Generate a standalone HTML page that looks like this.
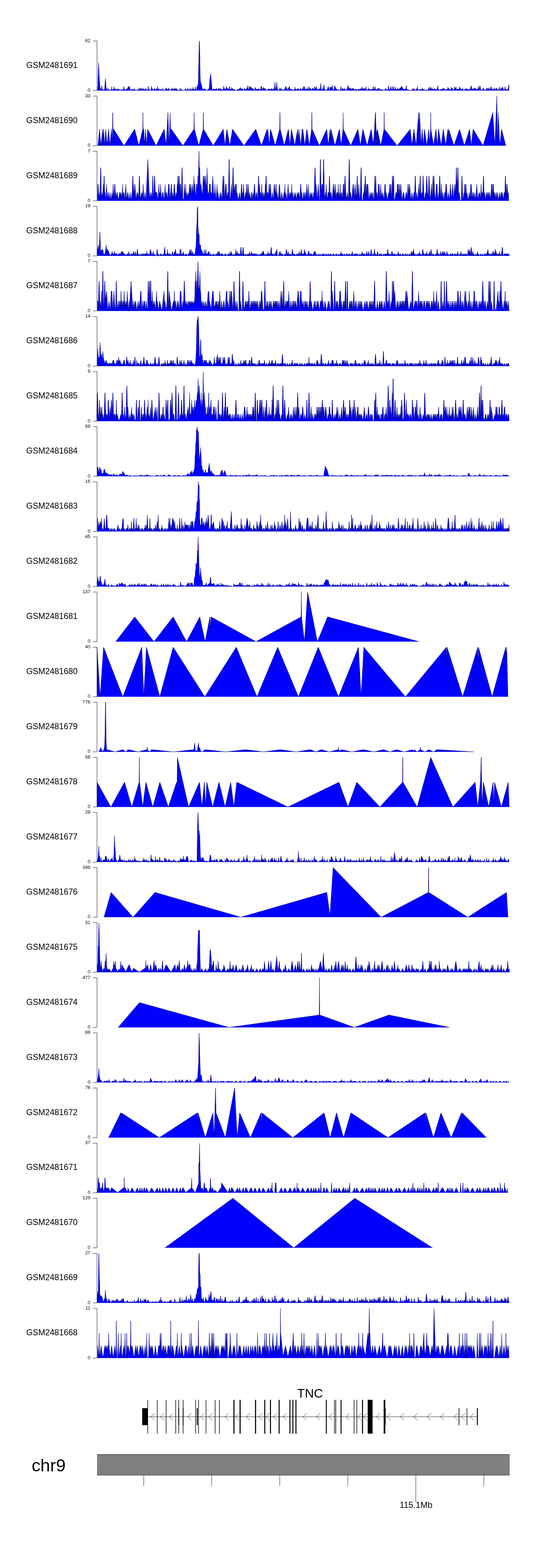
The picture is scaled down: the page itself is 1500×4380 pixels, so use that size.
<!DOCTYPE html>
<html lang="en"><head><meta charset="utf-8"><title>chr9 TNC coverage tracks</title>
<style>html,body{margin:0;padding:0;background:#fff}body{width:1500px;height:4380px;overflow:hidden}svg{display:block}text{font-family:"Liberation Sans",Arial,Helvetica,sans-serif;fill:#000}.lab{font-size:23.25px}.tk{font-size:13.2px;text-anchor:end}.ax{stroke:#000;stroke-width:1;fill:none}.f{fill:#0000ff}.s{fill:none;stroke:#00008b;stroke-width:1;stroke-linejoin:round;stroke-linecap:round}</style></head><body>
<svg width="1500" height="4380" viewBox="0 0 1500 4380">
<rect width="1500" height="4380" fill="#fff"/>
<path class="f" d="M272.0 253.0L272.0 245.0L273.0 247.0L273.6 239.0L274.2 213.0L275.4 175.0L276.2 191.0L277.2 215.0L278.6 234.0L279.5 246.0L280.5 246.0L281.2 250.0L283.0 250.0L284.2 239.0L285.5 248.0L287.0 251.0L289.0 252.0L291.8 250.0L292.7 245.0L293.3 233.0L294.5 219.0L295.4 233.0L296.7 245.0L298.1 251.0L300.5 251.5L301.9 246.0L303.2 251.0L306.0 252.0L307.5 250.0L309.0 252.0L310.8 251.0L312.0 242.5L313.2 251.0L316.5 251.0L317.9 242.5L319.2 251.0L320.8 251.0L322.0 246.0L323.2 251.5L324.1 251.1L325.2 249.2L326.4 249.2L327.5 249.2L328.7 249.2L329.8 251.1L331.0 247.3L332.1 251.1L333.3 253.0L334.4 249.2L335.6 253.0L336.7 251.1L337.9 253.0L339.0 249.2L340.2 253.0L341.3 251.1L342.5 249.2L343.6 251.1L344.8 249.2L345.9 241.6L347.1 251.1L348.2 251.1L349.4 249.2L350.5 253.0L351.7 251.1L352.8 249.2L354.0 247.3L355.1 249.2L356.3 249.2L357.4 243.5L361.0 241.0L364.9 253.0L366.1 253.0L367.2 249.2L368.4 251.1L369.5 249.2L370.7 251.1L371.8 249.2L373.0 249.2L374.1 253.0L375.3 247.3L376.4 251.1L377.6 251.1L378.7 253.0L379.9 251.1L383.4 253.0L384.6 249.2L385.7 249.2L386.9 253.0L388.0 249.2L389.2 245.4L390.3 251.1L391.5 253.0L392.6 247.3L393.8 245.4L394.9 251.1L396.1 247.3L397.2 251.1L398.4 253.0L399.5 245.4L400.7 251.1L401.8 249.2L403.0 249.2L404.1 251.1L405.3 249.2L406.4 253.0L407.6 245.4L408.7 251.1L409.9 253.0L411.0 251.1L412.2 253.0L413.3 245.4L414.0 241.0L415.6 251.1L416.8 249.2L417.9 251.1L419.1 253.0L420.2 251.1L421.4 251.7L423.0 241.0L423.7 245.6L424.8 249.2L426.0 247.3L427.1 251.1L428.3 253.0L429.4 251.1L430.6 249.2L431.7 245.4L432.9 251.1L434.0 251.1L435.2 251.1L436.3 247.3L437.5 251.1L438.6 250.2L440.0 241.0L440.9 247.4L442.1 249.2L443.2 251.1L444.4 247.3L445.5 251.1L446.7 253.0L447.8 249.2L449.0 251.1L450.1 249.2L451.3 251.1L452.4 253.0L453.6 251.1L454.7 245.4L455.9 251.1L457.0 253.0L458.2 251.1L459.3 253.0L460.5 251.1L461.6 249.2L462.8 247.3L463.9 251.1L465.1 245.4L466.2 249.2L467.4 249.2L468.5 249.2L469.7 251.1L470.8 247.3L472.0 245.4L473.1 253.0L474.3 251.1L475.4 253.0L476.6 251.1L477.7 249.2L478.9 253.0L480.0 245.4L481.2 253.0L482.3 249.2L483.5 247.3L484.6 249.2L485.8 253.0L486.9 247.3L488.1 253.0L489.2 245.4L490.4 251.1L491.5 251.1L492.7 247.3L493.8 247.3L495.0 251.1L496.1 251.1L497.3 251.1L498.4 253.0L499.6 253.0L500.7 251.1L501.9 253.0L503.0 245.4L504.2 249.2L505.3 249.2L506.5 251.1L507.6 251.1L516.2 253.0L517.3 247.3L518.5 249.2L519.6 253.0L520.8 249.2L521.9 251.1L523.1 253.0L524.2 245.4L525.4 251.1L526.5 253.0L527.7 249.2L528.8 251.1L530.0 253.0L531.1 245.4L532.3 249.2L533.4 251.1L534.6 253.0L535.7 247.3L536.9 251.1L538.0 253.0L539.2 243.5L540.3 249.2L541.5 251.1L542.6 249.2L543.8 251.1L544.9 249.2L546.1 247.3L547.2 241.6L548.4 251.1L549.5 253.0L550.5 248.0L551.5 236.0L552.5 244.0L553.4 243.0L554.0 228.0L555.2 178.0L556.3 123.0L556.9 114.5L557.6 123.0L558.6 178.0L559.0 205.0L559.9 229.0L560.8 229.0L562.2 237.0L563.6 237.0L564.3 247.0L565.5 249.0L566.8 247.3L568.0 249.2L569.1 253.0L570.3 249.2L571.4 247.3L572.6 249.2L573.7 249.2L574.9 253.0L580.2 251.1L581.4 249.2L582.5 249.2L583.2 249.0L584.9 243.0L585.3 229.0L587.0 217.0L588.5 205.3L589.5 217.0L590.6 229.0L592.1 247.0L593.5 252.0L594.0 251.1L595.2 253.0L596.3 247.3L597.5 249.2L598.6 249.2L599.8 249.2L600.9 253.0L602.1 249.2L603.2 251.1L604.4 245.4L605.5 251.1L606.7 253.0L607.8 249.2L609.0 253.0L610.1 245.4L611.3 249.2L612.4 251.1L613.6 249.2L614.7 245.4L615.9 251.1L617.0 249.2L618.2 249.2L619.3 251.1L620.5 249.2L621.6 253.0L622.8 249.2L623.9 247.0L625.0 240.0L626.2 249.2L627.4 249.2L628.5 247.3L629.7 249.2L630.8 248.3L632.0 241.0L633.1 248.6L634.3 245.4L635.4 249.2L636.6 247.3L637.7 249.2L638.9 251.1L640.0 243.5L641.0 241.0L642.3 250.1L643.5 251.1L644.6 249.2L645.8 251.1L646.9 243.5L648.1 253.0L649.2 247.3L650.4 247.3L651.5 251.1L652.7 249.2L653.8 253.0L655.0 249.2L656.1 253.0L657.3 251.1L658.4 253.0L659.6 253.0L664.5 249.2L665.7 251.1L666.8 249.2L668.0 249.2L669.1 247.3L670.3 247.3L671.4 243.5L672.6 249.2L673.7 249.2L674.9 247.3L678.6 249.2L679.8 251.1L680.9 253.0L682.1 251.1L683.2 245.4L684.4 249.2L685.5 253.0L686.7 249.2L687.8 251.1L689.0 245.4L690.1 253.0L691.3 244.7L692.0 239.0L693.6 249.2L694.7 251.1L695.9 247.7L697.0 240.0L698.2 248.0L700.0 242.0L703.8 247.3L704.9 251.1L706.1 249.2L707.2 245.4L708.4 251.1L709.5 251.1L710.7 253.0L711.8 247.3L713.0 249.2L714.1 243.5L715.3 253.0L716.4 249.2L717.6 249.2L718.7 249.2L719.9 249.2L721.0 249.2L722.2 247.3L723.3 251.1L724.5 249.2L725.6 249.2L726.8 251.1L727.9 249.2L729.1 241.6L730.2 246.3L731.0 241.0L732.5 251.2L733.7 247.3L734.8 251.1L736.0 243.5L737.1 249.2L738.3 245.4L739.4 249.2L740.6 249.2L741.7 247.3L742.9 251.1L744.0 251.1L745.2 253.0L746.3 253.0L747.5 251.1L748.6 247.3L749.8 251.1L750.9 249.2L752.1 251.1L753.2 247.3L754.4 251.1L755.5 249.2L756.7 251.1L757.8 247.3L759.0 247.3L760.1 249.2L761.3 251.1L762.4 249.2L763.6 247.3L764.7 247.3L765.9 253.0L767.0 241.7L768.0 230.0L769.3 246.4L770.5 247.3L771.6 247.3L773.0 230.0L773.9 242.1L775.1 249.2L776.2 251.1L777.4 251.1L778.5 251.1L779.7 253.0L780.8 249.2L782.0 245.4L783.1 249.2L784.3 249.2L785.4 247.3L786.6 249.2L787.7 249.2L788.9 253.0L790.0 251.1L791.2 253.0L792.3 251.1L793.5 249.2L794.6 251.1L795.8 249.2L798.0 241.0L802.2 249.2L803.4 251.1L804.5 249.2L805.7 245.4L806.8 248.8L808.0 241.0L809.1 243.5L810.3 249.2L811.4 249.2L812.6 249.2L813.7 249.2L814.9 251.1L816.0 249.2L817.2 251.1L818.3 253.0L819.5 251.1L820.6 251.1L821.8 249.2L822.9 253.0L824.1 243.5L825.2 251.1L826.4 249.2L827.5 249.2L828.7 253.0L829.8 249.2L831.0 247.3L832.1 247.3L833.3 247.3L834.4 249.2L835.6 251.1L836.7 253.0L837.9 249.2L839.0 245.4L840.2 251.1L841.3 249.2L842.5 251.1L843.6 251.1L844.8 245.4L845.9 251.1L847.1 249.2L848.2 241.6L849.4 245.3L850.0 241.0L851.7 249.2L852.8 249.2L854.0 251.1L855.1 247.3L856.3 251.1L857.4 251.1L858.6 243.5L859.7 251.1L860.9 249.2L862.0 251.1L863.2 241.6L864.3 249.2L865.5 247.3L866.6 245.4L867.8 249.2L868.9 251.1L870.1 253.0L871.2 247.3L872.4 245.4L873.5 249.2L874.7 247.3L875.8 251.1L877.0 249.2L878.1 241.6L879.3 249.2L880.4 251.1L881.6 243.5L882.7 251.1L883.9 241.6L885.0 249.2L886.2 247.3L887.3 251.1L888.5 251.1L894.8 246.0L896.0 233.0L897.1 246.1L898.3 251.1L899.4 251.1L900.6 249.2L901.7 247.3L902.9 251.1L904.0 241.6L905.0 237.0L906.3 248.8L907.5 249.2L908.6 253.0L909.8 251.1L910.9 253.0L912.1 251.1L913.2 251.1L914.4 251.1L915.5 245.4L917.0 241.0L917.8 245.4L919.0 251.1L920.1 253.0L921.3 243.5L927.2 244.5L928.0 238.0L929.5 249.2L930.7 251.1L931.8 251.1L933.0 249.2L934.1 245.4L935.0 239.0L939.4 251.1L940.5 247.3L941.7 253.0L942.8 253.0L944.0 251.1L945.1 249.2L946.3 251.1L947.4 253.0L948.6 251.1L949.7 253.0L950.9 251.1L952.0 241.6L953.2 247.3L954.3 251.1L955.5 249.2L956.6 249.2L957.8 245.4L958.9 249.2L960.1 249.2L961.2 251.1L962.4 249.2L963.5 245.4L964.7 253.0L965.8 251.1L967.0 253.0L973.0 239.0L974.9 253.0L976.1 245.4L977.2 249.2L978.4 245.4L979.5 247.3L980.7 253.0L981.8 247.3L983.0 251.1L984.1 247.3L985.3 249.2L986.4 245.4L987.6 247.3L988.7 249.2L989.9 253.0L991.0 251.1L992.2 249.2L993.3 249.2L994.5 249.2L995.6 249.2L996.8 253.0L997.9 251.1L1003.4 249.2L1004.5 249.2L1005.7 251.1L1006.8 247.3L1008.0 251.1L1009.1 247.3L1010.3 249.2L1011.4 241.6L1012.6 251.1L1013.7 247.3L1014.9 251.1L1016.0 247.3L1017.2 251.1L1018.3 245.4L1019.5 249.2L1020.6 249.2L1021.8 249.2L1022.9 241.6L1024.1 253.0L1025.2 251.1L1026.4 251.1L1027.5 251.1L1028.7 251.1L1029.8 245.4L1031.0 249.2L1032.1 251.1L1033.3 249.2L1034.4 253.0L1035.6 249.2L1036.7 249.2L1037.9 251.1L1039.0 249.2L1040.2 253.0L1041.3 247.3L1043.0 241.0L1043.6 245.1L1044.8 249.2L1045.9 253.0L1047.1 247.4L1048.0 242.0L1049.4 250.5L1050.5 251.1L1057.3 247.3L1058.5 245.4L1059.6 247.3L1060.8 251.1L1061.9 251.1L1063.1 251.1L1064.2 249.2L1065.4 249.2L1066.5 249.2L1067.7 253.0L1068.8 251.1L1070.0 251.1L1071.1 253.0L1072.3 251.1L1073.4 253.0L1074.6 251.1L1075.7 249.2L1076.9 247.3L1078.0 247.3L1079.2 251.1L1080.3 253.0L1081.5 249.2L1082.6 253.0L1083.8 248.4L1085.0 239.0L1086.1 247.3L1087.2 251.1L1088.4 249.2L1089.5 249.2L1092.0 242.0L1093.6 251.1L1094.8 251.1L1095.9 249.2L1097.1 241.6L1098.2 251.1L1099.4 251.1L1100.5 241.6L1101.7 251.1L1102.8 249.2L1104.0 251.1L1105.1 243.5L1106.3 253.0L1107.4 249.2L1108.6 251.1L1109.7 249.2L1110.9 245.4L1112.0 251.1L1113.2 249.2L1114.3 249.2L1115.5 249.2L1116.6 245.4L1117.8 247.3L1122.0 241.0L1126.7 249.2L1127.8 251.1L1129.0 249.2L1130.1 249.2L1131.3 249.2L1132.4 249.2L1133.6 249.7L1135.0 239.0L1135.9 246.5L1137.0 251.1L1138.2 249.2L1139.3 253.0L1140.5 251.1L1147.6 253.0L1148.8 251.1L1149.9 253.0L1151.1 253.0L1152.2 247.3L1153.4 249.2L1154.5 251.1L1155.7 247.3L1156.8 247.3L1158.0 251.1L1159.1 253.0L1160.3 253.0L1161.4 249.2L1162.6 251.1L1163.7 247.3L1164.9 249.2L1166.0 241.6L1167.2 253.0L1168.3 251.1L1169.5 253.0L1170.6 251.1L1171.8 249.2L1172.9 249.2L1174.1 251.1L1175.2 251.1L1176.4 249.2L1177.5 251.1L1178.7 249.2L1179.8 245.4L1181.0 253.0L1182.1 249.2L1183.3 253.0L1184.4 249.2L1185.6 251.1L1186.7 251.1L1187.9 253.0L1189.0 253.0L1190.2 251.1L1191.3 251.1L1192.5 251.1L1193.6 251.1L1194.8 253.0L1195.9 249.2L1197.1 245.4L1198.2 251.1L1199.4 253.0L1200.5 241.6L1201.7 249.2L1202.8 245.4L1204.0 249.2L1205.1 251.1L1206.3 243.5L1207.4 249.2L1208.6 249.2L1209.7 249.2L1210.9 249.2L1212.0 251.1L1213.2 247.3L1214.3 249.2L1215.5 247.3L1216.6 251.1L1217.8 251.1L1218.9 249.2L1220.1 249.2L1221.2 247.3L1222.4 243.7L1223.0 239.0L1224.7 252.1L1225.8 251.1L1227.0 251.1L1228.1 253.0L1229.3 251.1L1230.4 249.2L1231.6 251.1L1232.7 249.2L1233.9 251.1L1235.0 247.3L1236.2 249.2L1237.3 251.1L1238.5 247.3L1239.6 245.4L1240.8 247.3L1241.9 251.1L1243.1 253.0L1244.2 251.1L1245.4 249.2L1246.5 251.1L1247.7 249.2L1248.8 251.1L1250.0 249.2L1251.1 243.5L1252.3 251.1L1253.4 245.4L1254.6 249.2L1255.7 251.1L1256.9 249.2L1258.0 251.1L1259.2 253.0L1260.3 243.5L1261.5 251.1L1262.6 245.4L1263.8 247.3L1264.9 247.3L1266.1 253.0L1267.2 251.1L1268.4 251.1L1270.0 242.0L1270.7 246.2L1271.8 245.4L1273.0 249.2L1274.1 243.5L1275.3 253.0L1276.4 249.2L1277.6 251.1L1278.7 247.3L1279.9 251.1L1281.0 249.2L1282.2 251.1L1283.3 246.0L1284.0 242.0L1285.6 249.2L1286.8 247.3L1287.9 249.2L1289.1 249.2L1290.2 249.2L1291.4 251.1L1292.5 245.4L1293.7 253.0L1294.8 251.1L1296.0 253.0L1297.1 251.1L1298.3 249.2L1299.4 251.1L1300.6 247.3L1301.7 247.3L1302.9 247.3L1304.0 251.1L1305.2 249.2L1306.3 251.1L1307.5 249.2L1308.6 249.2L1309.8 253.0L1310.9 249.2L1312.1 249.2L1313.2 251.1L1316.0 239.0L1318.6 251.1L1319.8 247.3L1320.9 253.0L1322.1 251.1L1323.2 245.4L1324.4 253.0L1325.5 245.4L1326.7 249.2L1327.8 245.4L1329.0 251.1L1330.1 249.2L1331.3 249.2L1332.4 249.2L1333.6 249.2L1334.7 249.2L1335.9 241.6L1337.0 251.1L1338.2 247.3L1339.3 244.4L1340.0 239.0L1341.6 243.5L1342.8 251.1L1343.9 253.0L1345.1 251.1L1346.2 251.1L1347.4 253.0L1348.5 249.2L1349.7 247.3L1350.8 245.4L1352.0 249.2L1353.1 253.0L1354.3 251.1L1355.4 251.1L1356.6 253.0L1357.7 251.1L1358.9 245.4L1360.0 247.3L1361.2 251.1L1362.3 247.3L1363.5 247.3L1364.6 245.4L1365.8 253.0L1366.9 249.2L1368.1 249.2L1369.2 243.5L1370.4 253.0L1371.5 247.3L1373.0 242.0L1373.8 247.2L1375.0 249.2L1376.1 253.0L1377.3 251.1L1378.4 247.3L1379.6 251.1L1380.7 245.4L1381.9 253.0L1383.0 251.1L1384.2 249.2L1385.3 245.4L1386.5 253.0L1387.6 245.4L1388.8 251.1L1389.9 253.0L1391.1 251.1L1392.2 247.3L1393.4 253.0L1394.5 251.1L1395.7 241.6L1396.8 251.1L1398.0 253.0L1399.1 249.2L1400.3 245.4L1401.4 249.2L1402.6 243.5L1403.7 251.1L1404.9 243.5L1406.0 251.1L1407.2 249.2L1408.3 253.0L1409.5 251.1L1410.6 241.6L1411.8 249.2L1412.9 249.2L1414.1 249.2L1415.2 251.1L1416.4 251.1L1417.5 249.2L1418.7 250.9L1419.8 244.4L1421.5 236.0L1422.1 241.1L1422.1 253.0Z"/><path class="s" d="M272.0 245.0L273.0 247.0L273.6 239.0L274.2 213.0L275.4 175.0L276.2 191.0L277.2 215.0L278.6 234.0L279.5 246.0L280.5 246.0L281.2 250.0L283.0 250.0L284.2 239.0L285.5 248.0L287.0 251.0L289.0 252.0L291.8 250.0L292.7 245.0L293.3 233.0L294.5 219.0L295.4 233.0L296.7 245.0L298.1 251.0L300.5 251.5L301.9 246.0L303.2 251.0L306.0 252.0L307.5 250.0L309.0 252.0L310.8 251.0L312.0 242.5L313.2 251.0L316.5 251.0L317.9 242.5L319.2 251.0L320.8 251.0L322.0 246.0L323.2 251.5L324.1 251.1L325.2 249.2L326.4 249.2L327.5 249.2L328.7 249.2L329.8 251.1L331.0 247.3L332.1 251.1L333.3 253.0L334.4 249.2L335.6 253.0L336.7 251.1L337.9 253.0L339.0 249.2L340.2 253.0L341.3 251.1L342.5 249.2L343.6 251.1L344.8 249.2L345.9 241.6L347.1 251.1L348.2 251.1L349.4 249.2L350.5 253.0L351.7 251.1L352.8 249.2L354.0 247.3L355.1 249.2L356.3 249.2L357.4 243.5L361.0 241.0L364.9 253.0L366.1 253.0L367.2 249.2L368.4 251.1L369.5 249.2L370.7 251.1L371.8 249.2L373.0 249.2L374.1 253.0L375.3 247.3L376.4 251.1L377.6 251.1L378.7 253.0L379.9 251.1L383.4 253.0L384.6 249.2L385.7 249.2L386.9 253.0L388.0 249.2L389.2 245.4L390.3 251.1L391.5 253.0L392.6 247.3L393.8 245.4L394.9 251.1L396.1 247.3L397.2 251.1L398.4 253.0L399.5 245.4L400.7 251.1L401.8 249.2L403.0 249.2L404.1 251.1L405.3 249.2L406.4 253.0L407.6 245.4L408.7 251.1L409.9 253.0L411.0 251.1L412.2 253.0L413.3 245.4L414.0 241.0L415.6 251.1L416.8 249.2L417.9 251.1L419.1 253.0L420.2 251.1L421.4 251.7L423.0 241.0L423.7 245.6L424.8 249.2L426.0 247.3L427.1 251.1L428.3 253.0L429.4 251.1L430.6 249.2L431.7 245.4L432.9 251.1L434.0 251.1L435.2 251.1L436.3 247.3L437.5 251.1L438.6 250.2L440.0 241.0L440.9 247.4L442.1 249.2L443.2 251.1L444.4 247.3L445.5 251.1L446.7 253.0L447.8 249.2L449.0 251.1L450.1 249.2L451.3 251.1L452.4 253.0L453.6 251.1L454.7 245.4L455.9 251.1L457.0 253.0L458.2 251.1L459.3 253.0L460.5 251.1L461.6 249.2L462.8 247.3L463.9 251.1L465.1 245.4L466.2 249.2L467.4 249.2L468.5 249.2L469.7 251.1L470.8 247.3L472.0 245.4L473.1 253.0L474.3 251.1L475.4 253.0L476.6 251.1L477.7 249.2L478.9 253.0L480.0 245.4L481.2 253.0L482.3 249.2L483.5 247.3L484.6 249.2L485.8 253.0L486.9 247.3L488.1 253.0L489.2 245.4L490.4 251.1L491.5 251.1L492.7 247.3L493.8 247.3L495.0 251.1L496.1 251.1L497.3 251.1L498.4 253.0L499.6 253.0L500.7 251.1L501.9 253.0L503.0 245.4L504.2 249.2L505.3 249.2L506.5 251.1L507.6 251.1L516.2 253.0L517.3 247.3L518.5 249.2L519.6 253.0L520.8 249.2L521.9 251.1L523.1 253.0L524.2 245.4L525.4 251.1L526.5 253.0L527.7 249.2L528.8 251.1L530.0 253.0L531.1 245.4L532.3 249.2L533.4 251.1L534.6 253.0L535.7 247.3L536.9 251.1L538.0 253.0L539.2 243.5L540.3 249.2L541.5 251.1L542.6 249.2L543.8 251.1L544.9 249.2L546.1 247.3L547.2 241.6L548.4 251.1L549.5 253.0L550.5 248.0L551.5 236.0L552.5 244.0L553.4 243.0L554.0 228.0L555.2 178.0L556.3 123.0L556.9 114.5L557.6 123.0L558.6 178.0L559.0 205.0L559.9 229.0L560.8 229.0L562.2 237.0L563.6 237.0L564.3 247.0L565.5 249.0L566.8 247.3L568.0 249.2L569.1 253.0L570.3 249.2L571.4 247.3L572.6 249.2L573.7 249.2L574.9 253.0L580.2 251.1L581.4 249.2L582.5 249.2L583.2 249.0L584.9 243.0L585.3 229.0L587.0 217.0L588.5 205.3L589.5 217.0L590.6 229.0L592.1 247.0L593.5 252.0L594.0 251.1L595.2 253.0L596.3 247.3L597.5 249.2L598.6 249.2L599.8 249.2L600.9 253.0L602.1 249.2L603.2 251.1L604.4 245.4L605.5 251.1L606.7 253.0L607.8 249.2L609.0 253.0L610.1 245.4L611.3 249.2L612.4 251.1L613.6 249.2L614.7 245.4L615.9 251.1L617.0 249.2L618.2 249.2L619.3 251.1L620.5 249.2L621.6 253.0L622.8 249.2L623.9 247.0L625.0 240.0L626.2 249.2L627.4 249.2L628.5 247.3L629.7 249.2L630.8 248.3L632.0 241.0L633.1 248.6L634.3 245.4L635.4 249.2L636.6 247.3L637.7 249.2L638.9 251.1L640.0 243.5L641.0 241.0L642.3 250.1L643.5 251.1L644.6 249.2L645.8 251.1L646.9 243.5L648.1 253.0L649.2 247.3L650.4 247.3L651.5 251.1L652.7 249.2L653.8 253.0L655.0 249.2L656.1 253.0L657.3 251.1L658.4 253.0L659.6 253.0L664.5 249.2L665.7 251.1L666.8 249.2L668.0 249.2L669.1 247.3L670.3 247.3L671.4 243.5L672.6 249.2L673.7 249.2L674.9 247.3L678.6 249.2L679.8 251.1L680.9 253.0L682.1 251.1L683.2 245.4L684.4 249.2L685.5 253.0L686.7 249.2L687.8 251.1L689.0 245.4L690.1 253.0L691.3 244.7L692.0 239.0L693.6 249.2L694.7 251.1L695.9 247.7L697.0 240.0L698.2 248.0L700.0 242.0L703.8 247.3L704.9 251.1L706.1 249.2L707.2 245.4L708.4 251.1L709.5 251.1L710.7 253.0L711.8 247.3L713.0 249.2L714.1 243.5L715.3 253.0L716.4 249.2L717.6 249.2L718.7 249.2L719.9 249.2L721.0 249.2L722.2 247.3L723.3 251.1L724.5 249.2L725.6 249.2L726.8 251.1L727.9 249.2L729.1 241.6L730.2 246.3L731.0 241.0L732.5 251.2L733.7 247.3L734.8 251.1L736.0 243.5L737.1 249.2L738.3 245.4L739.4 249.2L740.6 249.2L741.7 247.3L742.9 251.1L744.0 251.1L745.2 253.0L746.3 253.0L747.5 251.1L748.6 247.3L749.8 251.1L750.9 249.2L752.1 251.1L753.2 247.3L754.4 251.1L755.5 249.2L756.7 251.1L757.8 247.3L759.0 247.3L760.1 249.2L761.3 251.1L762.4 249.2L763.6 247.3L764.7 247.3L765.9 253.0L767.0 241.7L768.0 230.0L769.3 246.4L770.5 247.3L771.6 247.3L773.0 230.0L773.9 242.1L775.1 249.2L776.2 251.1L777.4 251.1L778.5 251.1L779.7 253.0L780.8 249.2L782.0 245.4L783.1 249.2L784.3 249.2L785.4 247.3L786.6 249.2L787.7 249.2L788.9 253.0L790.0 251.1L791.2 253.0L792.3 251.1L793.5 249.2L794.6 251.1L795.8 249.2L798.0 241.0L802.2 249.2L803.4 251.1L804.5 249.2L805.7 245.4L806.8 248.8L808.0 241.0L809.1 243.5L810.3 249.2L811.4 249.2L812.6 249.2L813.7 249.2L814.9 251.1L816.0 249.2L817.2 251.1L818.3 253.0L819.5 251.1L820.6 251.1L821.8 249.2L822.9 253.0L824.1 243.5L825.2 251.1L826.4 249.2L827.5 249.2L828.7 253.0L829.8 249.2L831.0 247.3L832.1 247.3L833.3 247.3L834.4 249.2L835.6 251.1L836.7 253.0L837.9 249.2L839.0 245.4L840.2 251.1L841.3 249.2L842.5 251.1L843.6 251.1L844.8 245.4L845.9 251.1L847.1 249.2L848.2 241.6L849.4 245.3L850.0 241.0L851.7 249.2L852.8 249.2L854.0 251.1L855.1 247.3L856.3 251.1L857.4 251.1L858.6 243.5L859.7 251.1L860.9 249.2L862.0 251.1L863.2 241.6L864.3 249.2L865.5 247.3L866.6 245.4L867.8 249.2L868.9 251.1L870.1 253.0L871.2 247.3L872.4 245.4L873.5 249.2L874.7 247.3L875.8 251.1L877.0 249.2L878.1 241.6L879.3 249.2L880.4 251.1L881.6 243.5L882.7 251.1L883.9 241.6L885.0 249.2L886.2 247.3L887.3 251.1L888.5 251.1L894.8 246.0L896.0 233.0L897.1 246.1L898.3 251.1L899.4 251.1L900.6 249.2L901.7 247.3L902.9 251.1L904.0 241.6L905.0 237.0L906.3 248.8L907.5 249.2L908.6 253.0L909.8 251.1L910.9 253.0L912.1 251.1L913.2 251.1L914.4 251.1L915.5 245.4L917.0 241.0L917.8 245.4L919.0 251.1L920.1 253.0L921.3 243.5L927.2 244.5L928.0 238.0L929.5 249.2L930.7 251.1L931.8 251.1L933.0 249.2L934.1 245.4L935.0 239.0L939.4 251.1L940.5 247.3L941.7 253.0L942.8 253.0L944.0 251.1L945.1 249.2L946.3 251.1L947.4 253.0L948.6 251.1L949.7 253.0L950.9 251.1L952.0 241.6L953.2 247.3L954.3 251.1L955.5 249.2L956.6 249.2L957.8 245.4L958.9 249.2L960.1 249.2L961.2 251.1L962.4 249.2L963.5 245.4L964.7 253.0L965.8 251.1L967.0 253.0L973.0 239.0L974.9 253.0L976.1 245.4L977.2 249.2L978.4 245.4L979.5 247.3L980.7 253.0L981.8 247.3L983.0 251.1L984.1 247.3L985.3 249.2L986.4 245.4L987.6 247.3L988.7 249.2L989.9 253.0L991.0 251.1L992.2 249.2L993.3 249.2L994.5 249.2L995.6 249.2L996.8 253.0L997.9 251.1L1003.4 249.2L1004.5 249.2L1005.7 251.1L1006.8 247.3L1008.0 251.1L1009.1 247.3L1010.3 249.2L1011.4 241.6L1012.6 251.1L1013.7 247.3L1014.9 251.1L1016.0 247.3L1017.2 251.1L1018.3 245.4L1019.5 249.2L1020.6 249.2L1021.8 249.2L1022.9 241.6L1024.1 253.0L1025.2 251.1L1026.4 251.1L1027.5 251.1L1028.7 251.1L1029.8 245.4L1031.0 249.2L1032.1 251.1L1033.3 249.2L1034.4 253.0L1035.6 249.2L1036.7 249.2L1037.9 251.1L1039.0 249.2L1040.2 253.0L1041.3 247.3L1043.0 241.0L1043.6 245.1L1044.8 249.2L1045.9 253.0L1047.1 247.4L1048.0 242.0L1049.4 250.5L1050.5 251.1L1057.3 247.3L1058.5 245.4L1059.6 247.3L1060.8 251.1L1061.9 251.1L1063.1 251.1L1064.2 249.2L1065.4 249.2L1066.5 249.2L1067.7 253.0L1068.8 251.1L1070.0 251.1L1071.1 253.0L1072.3 251.1L1073.4 253.0L1074.6 251.1L1075.7 249.2L1076.9 247.3L1078.0 247.3L1079.2 251.1L1080.3 253.0L1081.5 249.2L1082.6 253.0L1083.8 248.4L1085.0 239.0L1086.1 247.3L1087.2 251.1L1088.4 249.2L1089.5 249.2L1092.0 242.0L1093.6 251.1L1094.8 251.1L1095.9 249.2L1097.1 241.6L1098.2 251.1L1099.4 251.1L1100.5 241.6L1101.7 251.1L1102.8 249.2L1104.0 251.1L1105.1 243.5L1106.3 253.0L1107.4 249.2L1108.6 251.1L1109.7 249.2L1110.9 245.4L1112.0 251.1L1113.2 249.2L1114.3 249.2L1115.5 249.2L1116.6 245.4L1117.8 247.3L1122.0 241.0L1126.7 249.2L1127.8 251.1L1129.0 249.2L1130.1 249.2L1131.3 249.2L1132.4 249.2L1133.6 249.7L1135.0 239.0L1135.9 246.5L1137.0 251.1L1138.2 249.2L1139.3 253.0L1140.5 251.1L1147.6 253.0L1148.8 251.1L1149.9 253.0L1151.1 253.0L1152.2 247.3L1153.4 249.2L1154.5 251.1L1155.7 247.3L1156.8 247.3L1158.0 251.1L1159.1 253.0L1160.3 253.0L1161.4 249.2L1162.6 251.1L1163.7 247.3L1164.9 249.2L1166.0 241.6L1167.2 253.0L1168.3 251.1L1169.5 253.0L1170.6 251.1L1171.8 249.2L1172.9 249.2L1174.1 251.1L1175.2 251.1L1176.4 249.2L1177.5 251.1L1178.7 249.2L1179.8 245.4L1181.0 253.0L1182.1 249.2L1183.3 253.0L1184.4 249.2L1185.6 251.1L1186.7 251.1L1187.9 253.0L1189.0 253.0L1190.2 251.1L1191.3 251.1L1192.5 251.1L1193.6 251.1L1194.8 253.0L1195.9 249.2L1197.1 245.4L1198.2 251.1L1199.4 253.0L1200.5 241.6L1201.7 249.2L1202.8 245.4L1204.0 249.2L1205.1 251.1L1206.3 243.5L1207.4 249.2L1208.6 249.2L1209.7 249.2L1210.9 249.2L1212.0 251.1L1213.2 247.3L1214.3 249.2L1215.5 247.3L1216.6 251.1L1217.8 251.1L1218.9 249.2L1220.1 249.2L1221.2 247.3L1222.4 243.7L1223.0 239.0L1224.7 252.1L1225.8 251.1L1227.0 251.1L1228.1 253.0L1229.3 251.1L1230.4 249.2L1231.6 251.1L1232.7 249.2L1233.9 251.1L1235.0 247.3L1236.2 249.2L1237.3 251.1L1238.5 247.3L1239.6 245.4L1240.8 247.3L1241.9 251.1L1243.1 253.0L1244.2 251.1L1245.4 249.2L1246.5 251.1L1247.7 249.2L1248.8 251.1L1250.0 249.2L1251.1 243.5L1252.3 251.1L1253.4 245.4L1254.6 249.2L1255.7 251.1L1256.9 249.2L1258.0 251.1L1259.2 253.0L1260.3 243.5L1261.5 251.1L1262.6 245.4L1263.8 247.3L1264.9 247.3L1266.1 253.0L1267.2 251.1L1268.4 251.1L1270.0 242.0L1270.7 246.2L1271.8 245.4L1273.0 249.2L1274.1 243.5L1275.3 253.0L1276.4 249.2L1277.6 251.1L1278.7 247.3L1279.9 251.1L1281.0 249.2L1282.2 251.1L1283.3 246.0L1284.0 242.0L1285.6 249.2L1286.8 247.3L1287.9 249.2L1289.1 249.2L1290.2 249.2L1291.4 251.1L1292.5 245.4L1293.7 253.0L1294.8 251.1L1296.0 253.0L1297.1 251.1L1298.3 249.2L1299.4 251.1L1300.6 247.3L1301.7 247.3L1302.9 247.3L1304.0 251.1L1305.2 249.2L1306.3 251.1L1307.5 249.2L1308.6 249.2L1309.8 253.0L1310.9 249.2L1312.1 249.2L1313.2 251.1L1316.0 239.0L1318.6 251.1L1319.8 247.3L1320.9 253.0L1322.1 251.1L1323.2 245.4L1324.4 253.0L1325.5 245.4L1326.7 249.2L1327.8 245.4L1329.0 251.1L1330.1 249.2L1331.3 249.2L1332.4 249.2L1333.6 249.2L1334.7 249.2L1335.9 241.6L1337.0 251.1L1338.2 247.3L1339.3 244.4L1340.0 239.0L1341.6 243.5L1342.8 251.1L1343.9 253.0L1345.1 251.1L1346.2 251.1L1347.4 253.0L1348.5 249.2L1349.7 247.3L1350.8 245.4L1352.0 249.2L1353.1 253.0L1354.3 251.1L1355.4 251.1L1356.6 253.0L1357.7 251.1L1358.9 245.4L1360.0 247.3L1361.2 251.1L1362.3 247.3L1363.5 247.3L1364.6 245.4L1365.8 253.0L1366.9 249.2L1368.1 249.2L1369.2 243.5L1370.4 253.0L1371.5 247.3L1373.0 242.0L1373.8 247.2L1375.0 249.2L1376.1 253.0L1377.3 251.1L1378.4 247.3L1379.6 251.1L1380.7 245.4L1381.9 253.0L1383.0 251.1L1384.2 249.2L1385.3 245.4L1386.5 253.0L1387.6 245.4L1388.8 251.1L1389.9 253.0L1391.1 251.1L1392.2 247.3L1393.4 253.0L1394.5 251.1L1395.7 241.6L1396.8 251.1L1398.0 253.0L1399.1 249.2L1400.3 245.4L1401.4 249.2L1402.6 243.5L1403.7 251.1L1404.9 243.5L1406.0 251.1L1407.2 249.2L1408.3 253.0L1409.5 251.1L1410.6 241.6L1411.8 249.2L1412.9 249.2L1414.1 249.2L1415.2 251.1L1416.4 251.1L1417.5 249.2L1418.7 250.9L1419.8 244.4L1421.5 236.0L1422.1 241.1"/>
<path class="ax" d="M259.5 114.5H271V253.0H259.5"/>
<text class="tk" x="252.4" y="117.6">62</text>
<text class="tk" x="252.4" y="256.1">0</text>
<text class="lab" x="73.3" y="189.7">GSM2481691</text>
<path class="f" d="M273.6 406.9L273.6 406.9L278.1 360.8L281.8 406.9L286.8 360.8L288.1 393.1L289.5 360.8L292.2 406.9L295.4 360.8L299.0 406.9L303.1 360.8L307.2 406.9L311.2 360.8L313.5 400.0L314.9 314.6L315.8 360.8L317.6 360.8L346.2 406.9L376.1 360.8L387.9 406.9L398.8 360.8L399.2 314.6L399.9 360.8L401.5 360.8L404.2 406.9L406.5 360.8L409.7 406.9L412.4 360.8L436.0 406.9L458.6 360.8L464.1 406.9L469.1 314.6L472.2 406.9L475.4 314.6L476.3 360.8L478.6 360.8L510.8 406.9L541.6 360.8L542.3 314.6L543.0 360.8L555.2 406.9L567.5 360.8L567.9 314.6L568.6 360.8L595.6 406.9L623.7 360.8L628.3 406.9L633.7 360.8L641.9 406.9L649.6 360.8L681.3 406.9L714.4 360.8L730.3 406.9L746.2 360.8L747.1 393.1L748.4 360.8L752.1 406.9L755.7 360.8L768.8 406.9L781.1 360.8L782.0 314.6L782.7 360.8L794.2 406.9L805.6 360.8L809.7 406.9L814.2 360.8L823.3 406.9L831.4 360.8L833.2 400.0L834.6 360.8L840.0 406.9L844.1 360.8L845.0 393.1L845.9 360.8L851.4 406.9L857.3 360.8L864.1 406.9L870.4 360.8L871.1 314.6L871.8 360.8L892.2 406.9L912.6 360.8L917.1 406.9L922.1 360.8L923.0 393.1L924.4 360.8L935.7 406.9L948.0 360.8L953.0 406.9L958.0 360.8L958.4 314.6L959.1 360.8L979.7 406.9L999.7 360.8L1006.9 406.9L1013.7 360.8L1025.5 406.9L1036.9 360.8L1043.2 406.9L1048.7 314.6L1052.3 406.9L1054.6 360.8L1041.4 406.9L1048.6 360.8L1049.1 314.6L1049.5 360.8L1051.3 406.9L1054.1 360.8L1063.6 406.9L1072.7 360.8L1073.1 314.6L1073.8 360.8L1109.4 406.9L1145.7 360.8L1151.1 406.9L1156.1 360.8L1162.4 406.9L1169.3 314.6L1170.6 360.8L1172.0 314.6L1176.1 406.9L1179.2 360.8L1182.4 406.9L1185.6 360.8L1192.4 406.9L1197.8 360.8L1199.6 400.0L1202.8 360.8L1203.3 314.6L1203.7 360.8L1211.0 406.9L1217.8 360.8L1221.4 406.9L1225.0 360.8L1232.3 406.9L1238.2 360.8L1245.0 406.9L1250.9 360.8L1251.8 386.2L1253.2 360.8L1268.1 406.9L1283.5 360.8L1297.1 406.9L1311.7 360.8L1316.6 406.9L1321.6 360.8L1349.3 406.9L1376.5 314.6L1382.4 406.9L1387.8 268.4L1389.2 400.0L1391.5 314.6L1396.0 406.9L1401.0 360.8L1412.8 406.9L1412.8 406.9Z"/><path class="s" d="M273.6 406.9L278.1 360.8L281.8 406.9L286.8 360.8L288.1 393.1L289.5 360.8L292.2 406.9L295.4 360.8L299.0 406.9L303.1 360.8L307.2 406.9L311.2 360.8L313.5 400.0L314.9 314.6L315.8 360.8L317.6 360.8L346.2 406.9L376.1 360.8L387.9 406.9L398.8 360.8L399.2 314.6L399.9 360.8L401.5 360.8L404.2 406.9L406.5 360.8L409.7 406.9L412.4 360.8L436.0 406.9L458.6 360.8L464.1 406.9L469.1 314.6L472.2 406.9L475.4 314.6L476.3 360.8L478.6 360.8L510.8 406.9L541.6 360.8L542.3 314.6L543.0 360.8L555.2 406.9L567.5 360.8L567.9 314.6L568.6 360.8L595.6 406.9L623.7 360.8L628.3 406.9L633.7 360.8L641.9 406.9L649.6 360.8L681.3 406.9L714.4 360.8L730.3 406.9L746.2 360.8L747.1 393.1L748.4 360.8L752.1 406.9L755.7 360.8L768.8 406.9L781.1 360.8L782.0 314.6L782.7 360.8L794.2 406.9L805.6 360.8L809.7 406.9L814.2 360.8L823.3 406.9L831.4 360.8L833.2 400.0L834.6 360.8L840.0 406.9L844.1 360.8L845.0 393.1L845.9 360.8L851.4 406.9L857.3 360.8L864.1 406.9L870.4 360.8L871.1 314.6L871.8 360.8L892.2 406.9L912.6 360.8L917.1 406.9L922.1 360.8L923.0 393.1L924.4 360.8L935.7 406.9L948.0 360.8L953.0 406.9L958.0 360.8L958.4 314.6L959.1 360.8L979.7 406.9L999.7 360.8L1006.9 406.9L1013.7 360.8L1025.5 406.9L1036.9 360.8L1043.2 406.9L1048.7 314.6L1052.3 406.9L1054.6 360.8L1041.4 406.9L1048.6 360.8L1049.1 314.6L1049.5 360.8L1051.3 406.9L1054.1 360.8L1063.6 406.9L1072.7 360.8L1073.1 314.6L1073.8 360.8L1109.4 406.9L1145.7 360.8L1151.1 406.9L1156.1 360.8L1162.4 406.9L1169.3 314.6L1170.6 360.8L1172.0 314.6L1176.1 406.9L1179.2 360.8L1182.4 406.9L1185.6 360.8L1192.4 406.9L1197.8 360.8L1199.6 400.0L1202.8 360.8L1203.3 314.6L1203.7 360.8L1211.0 406.9L1217.8 360.8L1221.4 406.9L1225.0 360.8L1232.3 406.9L1238.2 360.8L1245.0 406.9L1250.9 360.8L1251.8 386.2L1253.2 360.8L1268.1 406.9L1283.5 360.8L1297.1 406.9L1311.7 360.8L1316.6 406.9L1321.6 360.8L1349.3 406.9L1376.5 314.6L1382.4 406.9L1387.8 268.4L1389.2 400.0L1391.5 314.6L1396.0 406.9L1401.0 360.8L1412.8 406.9"/>
<path class="ax" d="M259.5 268.4H271V406.9H259.5"/>
<text class="tk" x="252.4" y="271.5">33</text>
<text class="tk" x="252.4" y="410.0">0</text>
<text class="lab" x="73.3" y="343.6">GSM2481690</text>
<path class="f" d="M272.0 560.9L272.0 514.7L273.4 554.7L274.8 514.7L276.7 557.3L278.7 537.8L279.2 553.9L281.0 468.5L281.7 468.5L283.4 553.9L284.2 553.2L285.4 537.8L286.9 553.1L288.4 514.7L289.0 560.9L290.5 491.6L291.2 491.6L292.6 547.0L293.2 537.8L295.4 559.4L297.5 514.7L299.5 559.4L301.6 537.8L302.8 537.8L305.1 559.0L307.3 537.8L309.9 560.9L312.4 537.8L314.3 558.2L316.1 514.7L318.2 557.6L320.3 514.7L321.4 514.7L322.4 553.7L323.5 537.8L325.2 555.7L326.9 537.8L327.7 537.8L330.9 560.9L334.1 537.8L335.7 537.8L337.0 553.3L338.3 537.8L340.3 558.1L342.3 514.7L343.7 553.6L345.1 537.8L346.4 537.8L348.8 560.6L351.3 514.7L353.8 560.9L356.4 537.8L357.4 537.8L360.3 560.9L363.2 537.8L365.9 560.9L368.5 537.8L369.1 537.8L370.8 491.6L371.5 491.6L373.1 560.9L374.6 514.7L376.0 551.8L377.3 514.7L379.9 560.9L382.5 537.8L383.6 549.1L384.8 537.8L387.4 556.3L388.9 491.6L389.6 491.6L391.1 537.8L393.0 559.9L395.2 537.8L396.3 551.7L397.4 537.8L398.6 554.5L399.8 514.7L402.5 560.9L405.2 537.8L407.3 558.2L407.8 560.9L412.8 445.5L417.8 560.9L419.7 537.8L421.1 555.0L422.6 537.8L424.5 558.1L425.1 547.0L426.5 491.6L427.2 491.6L428.7 560.9L429.8 547.0L431.5 491.6L432.2 491.6L434.0 537.8L436.2 537.8L438.0 537.8L441.0 560.9L443.9 514.7L445.0 548.5L446.0 537.8L447.3 553.4L448.6 514.7L451.3 560.9L453.9 537.8L455.5 537.8L458.5 560.9L461.5 514.7L462.6 553.8L463.7 537.8L464.8 552.2L465.9 537.8L468.3 560.1L470.7 514.7L472.4 514.7L475.3 560.9L478.1 514.7L479.0 514.7L480.5 556.6L482.1 537.8L484.3 558.5L486.5 514.7L487.6 514.7L489.7 559.3L491.8 537.8L493.5 553.4L495.1 514.7L495.5 537.8L496.8 491.6L497.5 491.6L498.5 537.8L500.0 491.6L500.7 491.6L502.3 560.9L502.9 514.7L504.6 514.7L505.7 551.1L506.5 547.0L508.2 468.5L508.9 468.5L510.6 553.9L513.0 559.5L515.3 514.7L517.0 558.6L518.7 514.7L520.0 551.8L521.8 537.7L523.8 554.5L525.4 537.7L527.3 550.9L529.5 514.6L530.7 514.6L532.0 543.6L533.4 514.6L535.4 546.4L537.7 514.6L538.6 526.4L540.4 544.5L541.5 491.5L542.7 514.6L544.0 514.6L546.3 547.3L547.7 537.7L548.8 514.6L550.1 514.6L551.8 529.1L552.6 491.5L553.7 505.5L554.9 468.4L555.8 422.4L556.7 468.4L558.1 468.4L558.8 503.7L559.5 514.6L560.4 519.1L561.5 514.6L565.4 550.0L567.6 491.5L568.5 491.5L569.4 518.2L571.2 491.5L572.6 516.4L574.0 491.5L575.1 516.4L576.4 533.7L578.5 468.4L579.9 526.4L581.2 548.2L582.4 537.7L583.5 542.7L585.3 514.6L587.6 514.6L588.5 545.5L589.7 537.7L591.7 544.5L594.4 491.5L597.1 548.2L598.9 537.7L599.8 540.0L600.2 514.7L603.4 560.9L606.5 514.7L607.7 550.1L608.9 537.8L612.0 560.9L615.1 537.8L616.4 557.0L617.6 537.8L620.4 560.9L621.1 537.8L622.5 491.6L623.4 537.8L624.7 491.6L625.4 491.6L626.8 537.8L627.2 560.9L630.1 514.7L631.7 514.7L633.8 557.8L635.9 537.8L637.2 537.8L638.0 553.9L639.7 445.5L640.4 445.5L642.1 553.9L643.3 560.9L646.4 514.7L647.9 552.9L648.7 547.0L650.6 468.5L651.3 468.5L653.2 537.8L656.4 514.7L657.6 552.7L658.7 514.7L660.1 514.7L661.2 547.8L662.3 537.8L665.5 560.9L668.7 537.8L671.6 560.9L674.6 514.7L675.4 514.7L676.6 555.0L677.8 537.8L678.9 548.4L680.0 514.7L683.0 560.9L686.0 537.8L686.9 537.8L688.1 554.3L689.2 514.7L690.4 514.7L692.3 556.9L694.2 514.7L695.9 557.6L697.6 537.8L700.1 560.9L702.6 537.8L703.7 537.8L705.6 558.8L707.4 537.8L708.8 551.3L710.3 514.7L711.3 514.7L713.4 559.1L715.5 537.8L716.8 556.1L718.0 537.8L719.1 556.8L720.2 553.9L721.8 491.6L722.5 491.6L724.0 537.8L725.4 514.7L726.5 551.9L727.6 537.8L728.4 537.8L729.7 555.8L730.9 514.7L732.5 555.1L734.0 537.8L735.7 556.4L737.4 537.8L739.3 558.9L741.2 514.7L741.4 547.0L743.1 491.6L743.8 491.6L745.5 553.9L746.8 537.8L748.6 537.8L750.0 551.4L751.4 514.7L752.7 555.3L754.1 514.7L755.4 514.7L758.2 560.9L760.9 537.8L763.4 560.9L765.9 514.7L767.2 549.6L768.4 514.7L770.2 555.2L771.9 514.7L773.1 554.8L774.2 537.8L777.2 560.9L780.2 514.7L781.0 514.7L784.1 560.9L787.1 537.8L790.1 560.9L793.2 537.8L794.4 549.7L795.7 514.7L797.1 556.7L798.6 537.8L801.8 560.9L804.9 514.7L807.0 557.5L809.1 537.8L810.3 552.0L811.6 537.8L812.4 537.8L813.6 552.5L814.8 514.7L816.3 554.2L817.8 537.8L820.1 559.9L822.5 537.8L824.0 555.9L825.5 537.8L827.9 559.9L830.3 537.8L831.6 550.0L832.9 537.8L833.9 553.0L835.0 537.8L837.3 559.2L839.5 514.7L840.5 514.7L841.8 553.0L843.2 537.8L845.8 560.9L848.4 537.8L850.0 537.8L852.0 557.5L853.9 537.8L855.2 556.1L856.4 514.7L858.5 559.4L860.7 514.7L863.2 560.8L865.7 537.8L867.1 555.5L868.6 537.8L870.1 551.9L871.7 537.8L873.9 560.0L876.1 537.8L877.1 550.8L877.7 537.8L879.6 468.5L880.3 468.5L882.2 537.8L883.3 514.7L886.2 560.9L889.1 514.7L891.8 560.9L893.0 560.9L894.6 445.5L895.3 445.5L896.8 537.8L899.0 514.7L900.9 514.7L901.8 553.9L903.6 445.5L904.3 445.5L906.1 537.8L906.4 560.9L908.9 537.8L910.0 556.3L911.1 514.7L913.7 560.9L916.3 537.8L917.9 537.8L918.4 560.9L920.0 491.6L920.7 491.6L922.2 547.0L924.2 537.8L925.2 537.8L928.0 560.9L930.8 514.7L932.1 553.3L933.3 514.7L935.0 553.9L936.8 514.7L938.6 556.1L940.5 537.8L942.2 537.8L943.4 553.7L944.7 514.7L946.1 551.6L947.5 537.8L948.8 555.3L950.0 514.7L951.4 557.1L952.9 537.8L954.0 555.4L955.1 537.8L957.0 558.5L958.8 514.7L960.3 514.7L961.5 551.5L961.8 537.8L963.5 491.6L964.2 491.6L965.9 537.8L968.0 559.6L970.2 537.8L972.3 559.3L973.6 537.8L975.3 445.5L976.0 445.5L977.7 537.8L979.3 537.8L982.6 560.9L985.8 514.7L987.1 551.0L988.4 514.7L990.5 558.6L992.5 514.7L995.4 560.9L996.1 537.8L997.5 491.6L998.2 491.6L999.6 537.8L1000.3 559.1L1002.2 514.7L1004.5 560.2L1006.6 537.8L1008.4 468.5L1009.1 468.5L1010.9 560.9L1012.6 560.9L1015.4 537.8L1016.5 548.2L1017.5 514.7L1018.7 547.0L1020.2 491.6L1020.9 491.6L1022.4 553.9L1023.7 514.7L1024.7 554.5L1025.8 514.7L1027.7 514.7L1030.5 560.9L1033.4 537.8L1034.9 553.7L1036.5 537.8L1037.7 555.4L1039.0 537.8L1040.5 556.9L1042.0 537.8L1043.4 557.0L1044.8 560.9L1046.5 491.6L1047.0 560.9L1048.8 491.6L1049.5 491.6L1051.2 537.8L1051.4 557.8L1053.1 537.8L1055.2 557.4L1057.2 514.7L1059.0 514.7L1061.4 560.3L1063.7 514.7L1065.1 553.0L1066.4 537.8L1067.9 557.1L1069.4 537.8L1072.3 560.9L1075.2 514.7L1076.4 514.7L1077.8 553.5L1079.3 537.8L1082.3 560.9L1085.3 537.8L1086.5 554.6L1087.8 514.7L1089.2 553.1L1090.7 514.7L1091.9 514.7L1093.8 559.3L1094.2 550.7L1095.9 491.6L1096.6 491.6L1097.8 537.8L1099.1 491.6L1099.8 491.6L1101.1 553.9L1102.6 560.9L1105.7 537.8L1107.3 537.8L1108.5 553.2L1109.7 514.7L1111.5 514.7L1112.8 551.7L1114.2 514.7L1115.5 556.9L1116.8 514.7L1118.3 552.8L1119.8 514.7L1122.9 560.9L1126.0 537.8L1127.9 537.8L1131.1 560.9L1134.3 537.8L1135.8 537.8L1137.5 557.6L1139.3 514.7L1140.5 554.0L1141.7 514.7L1143.1 551.1L1144.4 514.7L1147.6 560.9L1150.7 537.8L1153.4 560.9L1156.2 537.8L1158.2 537.8L1159.8 491.6L1160.5 491.6L1162.1 560.9L1164.2 537.8L1167.0 560.9L1169.7 514.7L1170.9 553.7L1171.9 537.8L1173.4 491.6L1174.1 491.6L1175.7 553.9L1176.4 537.8L1177.6 551.5L1178.8 537.8L1180.2 537.8L1181.6 491.6L1182.3 491.6L1183.7 537.8L1185.9 560.9L1188.4 537.8L1189.8 548.9L1191.6 491.6L1192.3 491.6L1194.0 537.8L1194.4 537.8L1196.1 553.9L1197.9 491.6L1198.6 491.6L1200.4 537.8L1202.3 560.9L1205.3 514.7L1207.6 555.4L1209.3 491.6L1209.8 553.9L1211.5 491.6L1212.2 491.6L1213.9 537.8L1216.3 560.9L1219.0 514.7L1220.9 514.7L1223.3 560.5L1225.7 537.8L1226.1 547.0L1227.9 491.6L1228.6 491.6L1230.3 537.8L1231.5 557.2L1233.1 514.7L1235.1 557.4L1237.0 537.8L1239.5 560.5L1241.9 537.8L1242.9 537.8L1244.1 549.7L1245.2 514.7L1246.8 514.7L1249.5 560.9L1252.2 537.8L1255.2 560.9L1258.1 514.7L1261.1 560.9L1264.1 514.7L1266.7 560.9L1269.4 514.7L1270.9 552.7L1272.3 514.7L1272.8 547.0L1274.6 468.5L1275.3 468.5L1277.0 547.0L1278.7 468.5L1279.4 468.5L1281.0 537.8L1281.6 551.3L1282.8 537.8L1286.0 560.9L1288.4 560.9L1290.0 491.6L1290.7 491.6L1292.3 547.0L1293.4 559.4L1295.6 537.8L1296.8 549.3L1298.0 514.7L1299.3 514.7L1300.7 552.9L1302.0 514.7L1303.3 552.4L1304.6 537.8L1307.8 560.9L1310.9 537.8L1312.9 557.0L1314.9 514.7L1316.5 514.7L1318.7 559.4L1320.8 537.8L1322.2 537.8L1324.2 557.6L1326.3 537.8L1329.0 560.9L1331.7 514.7L1334.7 560.9L1337.7 537.8L1338.7 548.3L1339.8 537.8L1341.9 557.7L1344.1 514.7L1345.3 553.7L1346.6 537.8L1348.4 537.8L1348.7 537.8L1350.3 491.6L1351.0 491.6L1352.7 560.9L1354.2 537.8L1356.6 560.3L1358.9 537.8L1360.0 553.4L1361.1 537.8L1362.6 553.5L1364.1 537.8L1365.1 537.8L1366.5 554.3L1368.0 537.8L1370.4 560.8L1372.9 514.7L1374.3 514.7L1375.6 553.8L1377.0 514.7L1378.3 514.7L1379.6 552.0L1380.8 537.8L1382.1 557.4L1383.4 537.8L1385.5 557.7L1387.6 537.8L1389.0 537.8L1391.9 560.9L1394.8 537.8L1397.0 558.2L1399.2 537.8L1401.1 537.8L1402.5 553.3L1403.8 537.8L1406.1 560.1L1408.4 537.8L1410.2 537.8L1411.5 491.6L1412.2 491.6L1413.6 553.9L1414.4 514.7L1415.7 554.7L1417.0 514.7L1419.0 551.6L1420.4 537.8L1421.0 560.9L1421.0 560.9Z"/><path class="s" d="M272.0 514.7L273.4 554.7L274.8 514.7L276.7 557.3L278.7 537.8L279.2 553.9L281.0 468.5L281.7 468.5L283.4 553.9L284.2 553.2L285.4 537.8L286.9 553.1L288.4 514.7L289.0 560.9L290.5 491.6L291.2 491.6L292.6 547.0L293.2 537.8L295.4 559.4L297.5 514.7L299.5 559.4L301.6 537.8L302.8 537.8L305.1 559.0L307.3 537.8L309.9 560.9L312.4 537.8L314.3 558.2L316.1 514.7L318.2 557.6L320.3 514.7L321.4 514.7L322.4 553.7L323.5 537.8L325.2 555.7L326.9 537.8L327.7 537.8L330.9 560.9L334.1 537.8L335.7 537.8L337.0 553.3L338.3 537.8L340.3 558.1L342.3 514.7L343.7 553.6L345.1 537.8L346.4 537.8L348.8 560.6L351.3 514.7L353.8 560.9L356.4 537.8L357.4 537.8L360.3 560.9L363.2 537.8L365.9 560.9L368.5 537.8L369.1 537.8L370.8 491.6L371.5 491.6L373.1 560.9L374.6 514.7L376.0 551.8L377.3 514.7L379.9 560.9L382.5 537.8L383.6 549.1L384.8 537.8L387.4 556.3L388.9 491.6L389.6 491.6L391.1 537.8L393.0 559.9L395.2 537.8L396.3 551.7L397.4 537.8L398.6 554.5L399.8 514.7L402.5 560.9L405.2 537.8L407.3 558.2L407.8 560.9L412.8 445.5L417.8 560.9L419.7 537.8L421.1 555.0L422.6 537.8L424.5 558.1L425.1 547.0L426.5 491.6L427.2 491.6L428.7 560.9L429.8 547.0L431.5 491.6L432.2 491.6L434.0 537.8L436.2 537.8L438.0 537.8L441.0 560.9L443.9 514.7L445.0 548.5L446.0 537.8L447.3 553.4L448.6 514.7L451.3 560.9L453.9 537.8L455.5 537.8L458.5 560.9L461.5 514.7L462.6 553.8L463.7 537.8L464.8 552.2L465.9 537.8L468.3 560.1L470.7 514.7L472.4 514.7L475.3 560.9L478.1 514.7L479.0 514.7L480.5 556.6L482.1 537.8L484.3 558.5L486.5 514.7L487.6 514.7L489.7 559.3L491.8 537.8L493.5 553.4L495.1 514.7L495.5 537.8L496.8 491.6L497.5 491.6L498.5 537.8L500.0 491.6L500.7 491.6L502.3 560.9L502.9 514.7L504.6 514.7L505.7 551.1L506.5 547.0L508.2 468.5L508.9 468.5L510.6 553.9L513.0 559.5L515.3 514.7L517.0 558.6L518.7 514.7L520.0 551.8L521.8 537.7L523.8 554.5L525.4 537.7L527.3 550.9L529.5 514.6L530.7 514.6L532.0 543.6L533.4 514.6L535.4 546.4L537.7 514.6L538.6 526.4L540.4 544.5L541.5 491.5L542.7 514.6L544.0 514.6L546.3 547.3L547.7 537.7L548.8 514.6L550.1 514.6L551.8 529.1L552.6 491.5L553.7 505.5L554.9 468.4L555.8 422.4L556.7 468.4L558.1 468.4L558.8 503.7L559.5 514.6L560.4 519.1L561.5 514.6L565.4 550.0L567.6 491.5L568.5 491.5L569.4 518.2L571.2 491.5L572.6 516.4L574.0 491.5L575.1 516.4L576.4 533.7L578.5 468.4L579.9 526.4L581.2 548.2L582.4 537.7L583.5 542.7L585.3 514.6L587.6 514.6L588.5 545.5L589.7 537.7L591.7 544.5L594.4 491.5L597.1 548.2L598.9 537.7L599.8 540.0L600.2 514.7L603.4 560.9L606.5 514.7L607.7 550.1L608.9 537.8L612.0 560.9L615.1 537.8L616.4 557.0L617.6 537.8L620.4 560.9L621.1 537.8L622.5 491.6L623.4 537.8L624.7 491.6L625.4 491.6L626.8 537.8L627.2 560.9L630.1 514.7L631.7 514.7L633.8 557.8L635.9 537.8L637.2 537.8L638.0 553.9L639.7 445.5L640.4 445.5L642.1 553.9L643.3 560.9L646.4 514.7L647.9 552.9L648.7 547.0L650.6 468.5L651.3 468.5L653.2 537.8L656.4 514.7L657.6 552.7L658.7 514.7L660.1 514.7L661.2 547.8L662.3 537.8L665.5 560.9L668.7 537.8L671.6 560.9L674.6 514.7L675.4 514.7L676.6 555.0L677.8 537.8L678.9 548.4L680.0 514.7L683.0 560.9L686.0 537.8L686.9 537.8L688.1 554.3L689.2 514.7L690.4 514.7L692.3 556.9L694.2 514.7L695.9 557.6L697.6 537.8L700.1 560.9L702.6 537.8L703.7 537.8L705.6 558.8L707.4 537.8L708.8 551.3L710.3 514.7L711.3 514.7L713.4 559.1L715.5 537.8L716.8 556.1L718.0 537.8L719.1 556.8L720.2 553.9L721.8 491.6L722.5 491.6L724.0 537.8L725.4 514.7L726.5 551.9L727.6 537.8L728.4 537.8L729.7 555.8L730.9 514.7L732.5 555.1L734.0 537.8L735.7 556.4L737.4 537.8L739.3 558.9L741.2 514.7L741.4 547.0L743.1 491.6L743.8 491.6L745.5 553.9L746.8 537.8L748.6 537.8L750.0 551.4L751.4 514.7L752.7 555.3L754.1 514.7L755.4 514.7L758.2 560.9L760.9 537.8L763.4 560.9L765.9 514.7L767.2 549.6L768.4 514.7L770.2 555.2L771.9 514.7L773.1 554.8L774.2 537.8L777.2 560.9L780.2 514.7L781.0 514.7L784.1 560.9L787.1 537.8L790.1 560.9L793.2 537.8L794.4 549.7L795.7 514.7L797.1 556.7L798.6 537.8L801.8 560.9L804.9 514.7L807.0 557.5L809.1 537.8L810.3 552.0L811.6 537.8L812.4 537.8L813.6 552.5L814.8 514.7L816.3 554.2L817.8 537.8L820.1 559.9L822.5 537.8L824.0 555.9L825.5 537.8L827.9 559.9L830.3 537.8L831.6 550.0L832.9 537.8L833.9 553.0L835.0 537.8L837.3 559.2L839.5 514.7L840.5 514.7L841.8 553.0L843.2 537.8L845.8 560.9L848.4 537.8L850.0 537.8L852.0 557.5L853.9 537.8L855.2 556.1L856.4 514.7L858.5 559.4L860.7 514.7L863.2 560.8L865.7 537.8L867.1 555.5L868.6 537.8L870.1 551.9L871.7 537.8L873.9 560.0L876.1 537.8L877.1 550.8L877.7 537.8L879.6 468.5L880.3 468.5L882.2 537.8L883.3 514.7L886.2 560.9L889.1 514.7L891.8 560.9L893.0 560.9L894.6 445.5L895.3 445.5L896.8 537.8L899.0 514.7L900.9 514.7L901.8 553.9L903.6 445.5L904.3 445.5L906.1 537.8L906.4 560.9L908.9 537.8L910.0 556.3L911.1 514.7L913.7 560.9L916.3 537.8L917.9 537.8L918.4 560.9L920.0 491.6L920.7 491.6L922.2 547.0L924.2 537.8L925.2 537.8L928.0 560.9L930.8 514.7L932.1 553.3L933.3 514.7L935.0 553.9L936.8 514.7L938.6 556.1L940.5 537.8L942.2 537.8L943.4 553.7L944.7 514.7L946.1 551.6L947.5 537.8L948.8 555.3L950.0 514.7L951.4 557.1L952.9 537.8L954.0 555.4L955.1 537.8L957.0 558.5L958.8 514.7L960.3 514.7L961.5 551.5L961.8 537.8L963.5 491.6L964.2 491.6L965.9 537.8L968.0 559.6L970.2 537.8L972.3 559.3L973.6 537.8L975.3 445.5L976.0 445.5L977.7 537.8L979.3 537.8L982.6 560.9L985.8 514.7L987.1 551.0L988.4 514.7L990.5 558.6L992.5 514.7L995.4 560.9L996.1 537.8L997.5 491.6L998.2 491.6L999.6 537.8L1000.3 559.1L1002.2 514.7L1004.5 560.2L1006.6 537.8L1008.4 468.5L1009.1 468.5L1010.9 560.9L1012.6 560.9L1015.4 537.8L1016.5 548.2L1017.5 514.7L1018.7 547.0L1020.2 491.6L1020.9 491.6L1022.4 553.9L1023.7 514.7L1024.7 554.5L1025.8 514.7L1027.7 514.7L1030.5 560.9L1033.4 537.8L1034.9 553.7L1036.5 537.8L1037.7 555.4L1039.0 537.8L1040.5 556.9L1042.0 537.8L1043.4 557.0L1044.8 560.9L1046.5 491.6L1047.0 560.9L1048.8 491.6L1049.5 491.6L1051.2 537.8L1051.4 557.8L1053.1 537.8L1055.2 557.4L1057.2 514.7L1059.0 514.7L1061.4 560.3L1063.7 514.7L1065.1 553.0L1066.4 537.8L1067.9 557.1L1069.4 537.8L1072.3 560.9L1075.2 514.7L1076.4 514.7L1077.8 553.5L1079.3 537.8L1082.3 560.9L1085.3 537.8L1086.5 554.6L1087.8 514.7L1089.2 553.1L1090.7 514.7L1091.9 514.7L1093.8 559.3L1094.2 550.7L1095.9 491.6L1096.6 491.6L1097.8 537.8L1099.1 491.6L1099.8 491.6L1101.1 553.9L1102.6 560.9L1105.7 537.8L1107.3 537.8L1108.5 553.2L1109.7 514.7L1111.5 514.7L1112.8 551.7L1114.2 514.7L1115.5 556.9L1116.8 514.7L1118.3 552.8L1119.8 514.7L1122.9 560.9L1126.0 537.8L1127.9 537.8L1131.1 560.9L1134.3 537.8L1135.8 537.8L1137.5 557.6L1139.3 514.7L1140.5 554.0L1141.7 514.7L1143.1 551.1L1144.4 514.7L1147.6 560.9L1150.7 537.8L1153.4 560.9L1156.2 537.8L1158.2 537.8L1159.8 491.6L1160.5 491.6L1162.1 560.9L1164.2 537.8L1167.0 560.9L1169.7 514.7L1170.9 553.7L1171.9 537.8L1173.4 491.6L1174.1 491.6L1175.7 553.9L1176.4 537.8L1177.6 551.5L1178.8 537.8L1180.2 537.8L1181.6 491.6L1182.3 491.6L1183.7 537.8L1185.9 560.9L1188.4 537.8L1189.8 548.9L1191.6 491.6L1192.3 491.6L1194.0 537.8L1194.4 537.8L1196.1 553.9L1197.9 491.6L1198.6 491.6L1200.4 537.8L1202.3 560.9L1205.3 514.7L1207.6 555.4L1209.3 491.6L1209.8 553.9L1211.5 491.6L1212.2 491.6L1213.9 537.8L1216.3 560.9L1219.0 514.7L1220.9 514.7L1223.3 560.5L1225.7 537.8L1226.1 547.0L1227.9 491.6L1228.6 491.6L1230.3 537.8L1231.5 557.2L1233.1 514.7L1235.1 557.4L1237.0 537.8L1239.5 560.5L1241.9 537.8L1242.9 537.8L1244.1 549.7L1245.2 514.7L1246.8 514.7L1249.5 560.9L1252.2 537.8L1255.2 560.9L1258.1 514.7L1261.1 560.9L1264.1 514.7L1266.7 560.9L1269.4 514.7L1270.9 552.7L1272.3 514.7L1272.8 547.0L1274.6 468.5L1275.3 468.5L1277.0 547.0L1278.7 468.5L1279.4 468.5L1281.0 537.8L1281.6 551.3L1282.8 537.8L1286.0 560.9L1288.4 560.9L1290.0 491.6L1290.7 491.6L1292.3 547.0L1293.4 559.4L1295.6 537.8L1296.8 549.3L1298.0 514.7L1299.3 514.7L1300.7 552.9L1302.0 514.7L1303.3 552.4L1304.6 537.8L1307.8 560.9L1310.9 537.8L1312.9 557.0L1314.9 514.7L1316.5 514.7L1318.7 559.4L1320.8 537.8L1322.2 537.8L1324.2 557.6L1326.3 537.8L1329.0 560.9L1331.7 514.7L1334.7 560.9L1337.7 537.8L1338.7 548.3L1339.8 537.8L1341.9 557.7L1344.1 514.7L1345.3 553.7L1346.6 537.8L1348.4 537.8L1348.7 537.8L1350.3 491.6L1351.0 491.6L1352.7 560.9L1354.2 537.8L1356.6 560.3L1358.9 537.8L1360.0 553.4L1361.1 537.8L1362.6 553.5L1364.1 537.8L1365.1 537.8L1366.5 554.3L1368.0 537.8L1370.4 560.8L1372.9 514.7L1374.3 514.7L1375.6 553.8L1377.0 514.7L1378.3 514.7L1379.6 552.0L1380.8 537.8L1382.1 557.4L1383.4 537.8L1385.5 557.7L1387.6 537.8L1389.0 537.8L1391.9 560.9L1394.8 537.8L1397.0 558.2L1399.2 537.8L1401.1 537.8L1402.5 553.3L1403.8 537.8L1406.1 560.1L1408.4 537.8L1410.2 537.8L1411.5 491.6L1412.2 491.6L1413.6 553.9L1414.4 514.7L1415.7 554.7L1417.0 514.7L1419.0 551.6L1420.4 537.8L1421.0 560.9"/>
<path class="ax" d="M259.5 422.4H271V560.9H259.5"/>
<text class="tk" x="252.4" y="425.5">7</text>
<text class="tk" x="252.4" y="564.0">0</text>
<text class="lab" x="73.3" y="497.6">GSM2481689</text>
<path class="f" d="M271.4 714.8L271.4 696.7L272.7 696.2L274.5 684.0L275.9 699.4L276.8 699.4L279.1 648.1L280.9 698.9L281.8 704.4L284.5 696.2L286.3 701.7L287.4 696.2L288.8 708.5L289.9 708.9L292.2 712.1L294.9 699.4L296.5 684.0L298.1 701.7L299.9 696.2L300.8 696.2L302.2 702.1L303.6 702.1L305.4 708.9L307.6 713.4L311.7 708.9L313.5 702.1L314.9 710.7L316.2 708.5L318.1 711.6L319.9 702.1L321.2 708.9L326.7 708.9L328.5 713.0L332.1 708.5L333.9 708.0L336.7 711.6L338.5 702.6L340.3 702.6L341.6 709.8L343.2 702.1L344.8 708.9L346.4 708.6L347.6 712.2L348.8 708.6L351.6 714.8L354.4 708.6L355.7 712.5L357.0 708.6L358.4 712.9L359.8 702.4L362.9 714.8L366.0 708.6L367.2 708.6L368.4 712.3L369.6 708.6L371.1 713.3L372.6 702.4L373.5 702.4L375.9 714.8L378.4 702.4L380.4 714.4L382.3 708.7L383.6 696.8L384.4 696.8L385.7 714.8L388.0 708.6L390.7 714.8L393.3 708.6L395.1 713.8L396.8 708.6L398.3 713.0L399.8 708.6L400.9 708.6L402.3 712.6L403.7 708.6L404.9 713.1L406.1 708.6L407.6 708.6L408.9 713.1L410.1 702.4L411.3 713.2L412.4 708.6L413.8 712.4L415.1 708.6L417.5 714.8L418.2 708.6L419.6 696.8L420.4 696.8L421.8 708.6L422.1 702.4L425.0 714.8L427.9 702.4L430.2 714.8L432.5 708.6L435.2 714.8L437.1 714.8L438.6 696.8L439.4 696.8L440.9 714.8L442.2 708.6L445.1 714.8L448.0 708.6L449.5 713.5L450.9 708.6L453.6 714.8L456.3 708.6L458.1 711.1L459.6 690.8L460.4 690.8L461.9 711.1L463.4 712.8L464.8 708.6L466.2 712.9L467.6 696.2L468.6 712.2L469.7 708.6L470.9 713.4L472.2 708.6L473.4 708.6L474.5 712.7L475.5 708.6L478.7 714.8L481.9 702.4L484.6 714.8L487.4 702.4L488.3 714.8L489.6 696.8L490.4 696.8L491.7 708.6L492.2 713.2L493.6 708.6L495.0 708.6L496.3 712.6L497.6 708.6L499.2 713.3L500.8 708.6L501.9 712.3L503.0 696.2L505.0 696.2L507.1 714.6L509.1 708.6L510.3 712.9L511.5 702.4L514.6 714.8L517.7 708.6L519.2 713.6L520.6 708.6L523.5 714.8L526.4 708.6L528.1 708.6L530.5 696.6L531.8 712.0L534.1 696.6L535.4 708.4L536.8 708.4L538.3 702.5L540.4 712.0L542.7 709.3L545.0 708.4L546.8 690.7L547.7 690.7L548.6 657.6L549.3 629.9L550.1 626.7L550.9 582.3L551.8 581.8L552.5 576.3L553.1 635.8L553.8 636.3L554.7 660.3L555.4 654.4L556.3 654.4L557.0 678.4L557.9 690.2L559.0 684.3L560.4 684.3L561.3 702.9L563.1 696.6L564.0 702.9L565.4 702.5L566.3 709.3L568.1 708.4L569.2 712.0L570.4 696.6L571.7 712.0L573.5 708.4L574.9 696.6L576.3 710.2L578.5 708.4L579.9 711.1L581.2 702.5L582.6 708.4L584.0 702.5L586.2 712.9L588.5 708.4L591.7 713.8L595.8 708.4L600.3 713.8L603.5 708.4L606.2 712.9L608.5 702.5L609.8 702.9L611.1 714.8L613.4 702.4L615.7 714.8L618.1 708.6L619.6 708.6L620.8 713.1L622.1 708.6L625.1 714.8L628.1 708.6L629.4 712.8L630.6 708.6L633.8 714.8L636.9 708.6L638.2 712.3L639.5 708.6L641.0 713.7L642.5 702.4L644.4 714.3L646.2 702.4L649.1 714.8L652.0 708.6L654.2 714.8L656.5 708.6L657.6 713.1L658.7 696.2L660.6 714.4L662.6 702.4L663.4 702.4L665.1 713.6L666.8 708.6L668.8 708.6L669.9 713.0L670.9 712.9L672.6 690.8L673.4 690.8L675.1 714.8L676.7 708.6L677.1 708.6L678.6 690.8L679.4 690.8L680.9 712.9L681.7 708.6L684.1 714.8L686.5 708.6L689.0 714.8L691.5 708.6L693.0 713.6L694.4 708.6L695.7 713.2L697.0 702.4L700.0 714.8L703.0 702.4L704.2 712.9L705.4 708.6L707.3 708.6L708.4 712.5L709.4 708.6L711.0 708.6L712.4 713.1L713.7 708.6L715.1 713.0L716.6 708.6L718.7 714.7L720.8 708.6L723.7 714.8L726.7 708.6L728.1 713.5L729.6 708.6L731.0 712.7L732.3 702.4L733.4 712.5L734.5 702.4L736.2 702.4L739.0 714.8L741.9 708.6L743.9 714.4L746.0 708.6L747.3 712.5L748.6 702.4L750.1 713.6L751.6 708.6L752.6 712.2L753.6 708.6L755.3 708.6L755.6 708.6L757.1 690.8L757.9 690.8L759.4 711.1L760.0 711.9L761.0 708.6L762.4 713.2L763.8 708.6L765.6 713.8L767.5 708.6L768.6 712.7L769.7 702.4L771.1 711.7L772.6 696.8L773.4 696.8L774.9 712.9L777.6 714.8L780.6 702.4L782.3 713.7L784.1 702.4L785.3 712.4L786.6 708.6L788.1 713.7L789.5 708.6L792.4 714.8L795.3 708.6L797.4 714.8L797.9 712.1L799.6 696.8L800.4 696.8L802.1 714.8L804.9 702.4L806.3 713.6L807.6 708.6L809.1 713.3L810.6 708.6L813.8 714.8L816.9 696.2L818.7 713.7L820.4 708.6L821.5 712.7L822.5 708.6L825.1 714.8L827.7 708.6L829.5 714.2L831.4 708.6L832.9 708.6L834.3 713.3L835.7 702.4L838.8 714.8L841.9 696.2L843.4 713.2L844.9 708.6L846.9 708.6L848.5 713.6L850.2 696.2L851.7 713.7L853.2 702.4L854.2 712.2L855.2 708.6L858.2 714.8L861.1 702.4L863.1 702.4L864.4 712.8L865.8 708.6L867.1 712.3L868.3 708.6L869.5 713.2L870.7 708.6L872.8 714.7L875.0 708.6L876.1 712.3L877.2 702.4L878.6 702.4L879.9 712.5L881.2 702.4L882.2 712.1L883.3 708.6L886.1 714.8L888.9 708.6L891.5 714.8L894.1 708.6L897.2 714.8L900.2 708.6L901.4 712.7L902.5 708.6L903.9 712.9L905.3 708.6L907.9 714.8L910.5 708.6L911.5 708.6L914.0 714.8L916.4 708.6L917.4 708.6L919.6 714.8L921.9 708.6L923.4 713.3L924.9 708.6L927.8 714.8L930.7 708.6L932.6 708.6L935.5 714.8L938.3 708.6L939.5 713.0L940.7 708.6L943.5 714.8L946.3 708.6L948.4 714.6L950.5 708.6L951.6 713.2L952.8 702.4L954.0 712.0L955.2 708.6L956.3 712.5L957.3 708.6L959.7 714.8L962.1 708.6L965.0 714.8L967.9 708.6L969.3 708.6L971.5 714.7L973.7 708.6L975.0 712.8L976.3 708.6L978.7 714.8L981.2 708.6L982.5 712.9L983.8 702.4L986.9 714.8L990.0 708.6L991.1 712.2L992.2 708.6L993.3 712.0L994.3 708.6L995.6 712.8L996.9 708.6L998.0 708.6L1000.4 714.8L1002.9 708.6L1005.2 714.8L1007.6 708.6L1009.6 714.4L1011.6 702.4L1013.1 713.2L1014.5 708.6L1015.7 712.6L1016.8 708.6L1018.7 708.6L1021.7 714.8L1024.6 702.4L1027.2 714.8L1029.9 702.4L1032.3 714.8L1034.8 708.6L1035.1 708.6L1036.7 696.8L1037.3 696.8L1038.9 712.9L1040.2 713.6L1041.8 708.6L1043.2 712.7L1044.2 714.8L1045.7 696.8L1046.3 696.8L1047.8 712.9L1048.4 712.2L1049.7 708.6L1052.1 714.8L1054.6 702.4L1057.5 714.8L1060.5 708.6L1061.6 711.9L1062.7 708.6L1063.9 712.6L1065.0 708.6L1068.0 714.8L1070.9 708.6L1072.7 714.1L1074.6 708.6L1075.9 712.8L1077.2 708.6L1078.3 712.3L1079.5 708.6L1080.6 712.1L1081.0 712.9L1082.7 696.8L1083.3 696.8L1085.0 711.1L1086.6 708.6L1088.0 713.4L1089.3 708.6L1091.9 714.8L1094.5 702.4L1095.6 702.4L1097.8 714.8L1100.0 708.6L1101.1 712.4L1102.2 708.6L1103.2 708.6L1106.0 714.8L1108.8 708.6L1110.6 713.9L1112.4 702.4L1114.5 714.5L1116.5 708.6L1117.8 712.4L1119.0 708.6L1121.7 714.8L1124.5 708.6L1125.6 712.1L1126.8 708.6L1129.5 714.8L1132.2 708.6L1133.8 708.6L1136.3 714.8L1138.7 708.6L1141.1 714.8L1143.5 708.6L1146.1 714.8L1148.7 702.4L1150.0 713.2L1151.3 702.4L1153.1 714.8L1154.7 696.8L1155.3 696.8L1156.9 711.1L1157.5 708.6L1158.6 711.8L1159.7 708.6L1162.4 714.8L1165.0 708.6L1166.8 714.0L1168.6 708.6L1169.7 708.6L1170.7 711.9L1171.8 702.4L1173.1 712.7L1174.5 708.6L1177.4 714.8L1178.9 708.6L1180.7 696.8L1181.3 696.8L1183.1 711.1L1184.8 708.6L1186.6 713.6L1188.3 708.6L1189.7 708.6L1190.8 713.1L1191.8 702.4L1193.2 712.6L1194.5 708.6L1197.0 714.8L1199.6 702.4L1200.9 712.8L1202.2 708.6L1203.7 696.8L1204.3 696.8L1205.8 711.1L1206.1 714.8L1208.5 708.6L1209.5 712.9L1210.5 708.6L1213.5 714.8L1216.6 708.6L1218.5 714.3L1219.4 708.6L1220.7 696.8L1221.3 696.8L1222.6 711.1L1223.8 708.6L1225.0 713.1L1226.1 708.6L1228.5 714.8L1231.0 702.4L1232.2 713.4L1233.5 708.6L1234.6 712.1L1235.7 702.4L1237.0 712.9L1238.2 702.4L1240.3 714.5L1242.3 702.4L1245.5 714.8L1248.7 702.4L1250.1 712.8L1251.5 708.6L1254.4 714.8L1257.3 708.6L1258.5 712.5L1259.8 708.6L1261.2 713.2L1262.5 708.6L1264.5 708.6L1266.6 714.8L1268.8 708.6L1269.8 708.6L1270.9 712.4L1272.1 708.6L1274.1 714.2L1276.0 708.6L1277.1 712.9L1278.2 702.4L1281.4 714.8L1284.5 708.6L1286.0 713.2L1287.5 702.4L1289.7 714.8L1292.0 708.6L1293.8 713.8L1295.6 708.6L1297.1 708.6L1298.9 713.6L1300.6 708.6L1302.0 713.7L1303.5 708.6L1305.1 713.8L1306.3 712.9L1307.7 696.8L1308.3 696.8L1309.7 708.6L1312.4 696.2L1313.8 712.9L1314.5 712.9L1316.2 690.8L1316.8 690.8L1318.5 708.6L1319.7 712.1L1320.9 702.4L1322.1 712.4L1323.3 708.6L1325.9 714.8L1328.5 708.6L1331.3 714.8L1334.0 702.4L1335.4 713.0L1336.8 708.6L1340.0 714.8L1343.2 708.6L1345.2 714.3L1347.2 708.6L1350.0 714.8L1352.9 708.6L1354.0 711.6L1355.0 708.6L1356.7 713.4L1358.4 708.6L1359.6 712.8L1360.9 702.4L1362.0 711.8L1363.1 696.2L1364.6 712.7L1366.0 708.6L1367.1 708.6L1368.9 714.1L1370.7 708.6L1372.1 712.7L1373.4 708.6L1374.7 712.9L1376.0 702.4L1377.4 713.3L1378.7 702.4L1379.7 713.0L1380.7 708.6L1381.2 714.8L1382.7 696.8L1383.3 696.8L1384.8 708.6L1385.8 702.4L1387.0 713.4L1388.3 708.6L1389.3 708.6L1391.1 714.0L1392.9 708.6L1394.0 712.7L1395.2 702.4L1397.4 714.8L1399.6 708.6L1400.8 711.1L1402.7 690.8L1403.3 690.8L1405.2 712.9L1406.3 714.8L1408.8 708.6L1410.1 708.6L1411.1 712.2L1412.1 708.6L1413.2 712.3L1414.2 708.6L1415.5 712.6L1416.8 708.6L1418.7 708.6L1420.6 712.3L1421.9 708.6L1422.5 714.8L1422.5 714.8Z"/><path class="s" d="M271.4 696.7L272.7 696.2L274.5 684.0L275.9 699.4L276.8 699.4L279.1 648.1L280.9 698.9L281.8 704.4L284.5 696.2L286.3 701.7L287.4 696.2L288.8 708.5L289.9 708.9L292.2 712.1L294.9 699.4L296.5 684.0L298.1 701.7L299.9 696.2L300.8 696.2L302.2 702.1L303.6 702.1L305.4 708.9L307.6 713.4L311.7 708.9L313.5 702.1L314.9 710.7L316.2 708.5L318.1 711.6L319.9 702.1L321.2 708.9L326.7 708.9L328.5 713.0L332.1 708.5L333.9 708.0L336.7 711.6L338.5 702.6L340.3 702.6L341.6 709.8L343.2 702.1L344.8 708.9L346.4 708.6L347.6 712.2L348.8 708.6L351.6 714.8L354.4 708.6L355.7 712.5L357.0 708.6L358.4 712.9L359.8 702.4L362.9 714.8L366.0 708.6L367.2 708.6L368.4 712.3L369.6 708.6L371.1 713.3L372.6 702.4L373.5 702.4L375.9 714.8L378.4 702.4L380.4 714.4L382.3 708.7L383.6 696.8L384.4 696.8L385.7 714.8L388.0 708.6L390.7 714.8L393.3 708.6L395.1 713.8L396.8 708.6L398.3 713.0L399.8 708.6L400.9 708.6L402.3 712.6L403.7 708.6L404.9 713.1L406.1 708.6L407.6 708.6L408.9 713.1L410.1 702.4L411.3 713.2L412.4 708.6L413.8 712.4L415.1 708.6L417.5 714.8L418.2 708.6L419.6 696.8L420.4 696.8L421.8 708.6L422.1 702.4L425.0 714.8L427.9 702.4L430.2 714.8L432.5 708.6L435.2 714.8L437.1 714.8L438.6 696.8L439.4 696.8L440.9 714.8L442.2 708.6L445.1 714.8L448.0 708.6L449.5 713.5L450.9 708.6L453.6 714.8L456.3 708.6L458.1 711.1L459.6 690.8L460.4 690.8L461.9 711.1L463.4 712.8L464.8 708.6L466.2 712.9L467.6 696.2L468.6 712.2L469.7 708.6L470.9 713.4L472.2 708.6L473.4 708.6L474.5 712.7L475.5 708.6L478.7 714.8L481.9 702.4L484.6 714.8L487.4 702.4L488.3 714.8L489.6 696.8L490.4 696.8L491.7 708.6L492.2 713.2L493.6 708.6L495.0 708.6L496.3 712.6L497.6 708.6L499.2 713.3L500.8 708.6L501.9 712.3L503.0 696.2L505.0 696.2L507.1 714.6L509.1 708.6L510.3 712.9L511.5 702.4L514.6 714.8L517.7 708.6L519.2 713.6L520.6 708.6L523.5 714.8L526.4 708.6L528.1 708.6L530.5 696.6L531.8 712.0L534.1 696.6L535.4 708.4L536.8 708.4L538.3 702.5L540.4 712.0L542.7 709.3L545.0 708.4L546.8 690.7L547.7 690.7L548.6 657.6L549.3 629.9L550.1 626.7L550.9 582.3L551.8 581.8L552.5 576.3L553.1 635.8L553.8 636.3L554.7 660.3L555.4 654.4L556.3 654.4L557.0 678.4L557.9 690.2L559.0 684.3L560.4 684.3L561.3 702.9L563.1 696.6L564.0 702.9L565.4 702.5L566.3 709.3L568.1 708.4L569.2 712.0L570.4 696.6L571.7 712.0L573.5 708.4L574.9 696.6L576.3 710.2L578.5 708.4L579.9 711.1L581.2 702.5L582.6 708.4L584.0 702.5L586.2 712.9L588.5 708.4L591.7 713.8L595.8 708.4L600.3 713.8L603.5 708.4L606.2 712.9L608.5 702.5L609.8 702.9L611.1 714.8L613.4 702.4L615.7 714.8L618.1 708.6L619.6 708.6L620.8 713.1L622.1 708.6L625.1 714.8L628.1 708.6L629.4 712.8L630.6 708.6L633.8 714.8L636.9 708.6L638.2 712.3L639.5 708.6L641.0 713.7L642.5 702.4L644.4 714.3L646.2 702.4L649.1 714.8L652.0 708.6L654.2 714.8L656.5 708.6L657.6 713.1L658.7 696.2L660.6 714.4L662.6 702.4L663.4 702.4L665.1 713.6L666.8 708.6L668.8 708.6L669.9 713.0L670.9 712.9L672.6 690.8L673.4 690.8L675.1 714.8L676.7 708.6L677.1 708.6L678.6 690.8L679.4 690.8L680.9 712.9L681.7 708.6L684.1 714.8L686.5 708.6L689.0 714.8L691.5 708.6L693.0 713.6L694.4 708.6L695.7 713.2L697.0 702.4L700.0 714.8L703.0 702.4L704.2 712.9L705.4 708.6L707.3 708.6L708.4 712.5L709.4 708.6L711.0 708.6L712.4 713.1L713.7 708.6L715.1 713.0L716.6 708.6L718.7 714.7L720.8 708.6L723.7 714.8L726.7 708.6L728.1 713.5L729.6 708.6L731.0 712.7L732.3 702.4L733.4 712.5L734.5 702.4L736.2 702.4L739.0 714.8L741.9 708.6L743.9 714.4L746.0 708.6L747.3 712.5L748.6 702.4L750.1 713.6L751.6 708.6L752.6 712.2L753.6 708.6L755.3 708.6L755.6 708.6L757.1 690.8L757.9 690.8L759.4 711.1L760.0 711.9L761.0 708.6L762.4 713.2L763.8 708.6L765.6 713.8L767.5 708.6L768.6 712.7L769.7 702.4L771.1 711.7L772.6 696.8L773.4 696.8L774.9 712.9L777.6 714.8L780.6 702.4L782.3 713.7L784.1 702.4L785.3 712.4L786.6 708.6L788.1 713.7L789.5 708.6L792.4 714.8L795.3 708.6L797.4 714.8L797.9 712.1L799.6 696.8L800.4 696.8L802.1 714.8L804.9 702.4L806.3 713.6L807.6 708.6L809.1 713.3L810.6 708.6L813.8 714.8L816.9 696.2L818.7 713.7L820.4 708.6L821.5 712.7L822.5 708.6L825.1 714.8L827.7 708.6L829.5 714.2L831.4 708.6L832.9 708.6L834.3 713.3L835.7 702.4L838.8 714.8L841.9 696.2L843.4 713.2L844.9 708.6L846.9 708.6L848.5 713.6L850.2 696.2L851.7 713.7L853.2 702.4L854.2 712.2L855.2 708.6L858.2 714.8L861.1 702.4L863.1 702.4L864.4 712.8L865.8 708.6L867.1 712.3L868.3 708.6L869.5 713.2L870.7 708.6L872.8 714.7L875.0 708.6L876.1 712.3L877.2 702.4L878.6 702.4L879.9 712.5L881.2 702.4L882.2 712.1L883.3 708.6L886.1 714.8L888.9 708.6L891.5 714.8L894.1 708.6L897.2 714.8L900.2 708.6L901.4 712.7L902.5 708.6L903.9 712.9L905.3 708.6L907.9 714.8L910.5 708.6L911.5 708.6L914.0 714.8L916.4 708.6L917.4 708.6L919.6 714.8L921.9 708.6L923.4 713.3L924.9 708.6L927.8 714.8L930.7 708.6L932.6 708.6L935.5 714.8L938.3 708.6L939.5 713.0L940.7 708.6L943.5 714.8L946.3 708.6L948.4 714.6L950.5 708.6L951.6 713.2L952.8 702.4L954.0 712.0L955.2 708.6L956.3 712.5L957.3 708.6L959.7 714.8L962.1 708.6L965.0 714.8L967.9 708.6L969.3 708.6L971.5 714.7L973.7 708.6L975.0 712.8L976.3 708.6L978.7 714.8L981.2 708.6L982.5 712.9L983.8 702.4L986.9 714.8L990.0 708.6L991.1 712.2L992.2 708.6L993.3 712.0L994.3 708.6L995.6 712.8L996.9 708.6L998.0 708.6L1000.4 714.8L1002.9 708.6L1005.2 714.8L1007.6 708.6L1009.6 714.4L1011.6 702.4L1013.1 713.2L1014.5 708.6L1015.7 712.6L1016.8 708.6L1018.7 708.6L1021.7 714.8L1024.6 702.4L1027.2 714.8L1029.9 702.4L1032.3 714.8L1034.8 708.6L1035.1 708.6L1036.7 696.8L1037.3 696.8L1038.9 712.9L1040.2 713.6L1041.8 708.6L1043.2 712.7L1044.2 714.8L1045.7 696.8L1046.3 696.8L1047.8 712.9L1048.4 712.2L1049.7 708.6L1052.1 714.8L1054.6 702.4L1057.5 714.8L1060.5 708.6L1061.6 711.9L1062.7 708.6L1063.9 712.6L1065.0 708.6L1068.0 714.8L1070.9 708.6L1072.7 714.1L1074.6 708.6L1075.9 712.8L1077.2 708.6L1078.3 712.3L1079.5 708.6L1080.6 712.1L1081.0 712.9L1082.7 696.8L1083.3 696.8L1085.0 711.1L1086.6 708.6L1088.0 713.4L1089.3 708.6L1091.9 714.8L1094.5 702.4L1095.6 702.4L1097.8 714.8L1100.0 708.6L1101.1 712.4L1102.2 708.6L1103.2 708.6L1106.0 714.8L1108.8 708.6L1110.6 713.9L1112.4 702.4L1114.5 714.5L1116.5 708.6L1117.8 712.4L1119.0 708.6L1121.7 714.8L1124.5 708.6L1125.6 712.1L1126.8 708.6L1129.5 714.8L1132.2 708.6L1133.8 708.6L1136.3 714.8L1138.7 708.6L1141.1 714.8L1143.5 708.6L1146.1 714.8L1148.7 702.4L1150.0 713.2L1151.3 702.4L1153.1 714.8L1154.7 696.8L1155.3 696.8L1156.9 711.1L1157.5 708.6L1158.6 711.8L1159.7 708.6L1162.4 714.8L1165.0 708.6L1166.8 714.0L1168.6 708.6L1169.7 708.6L1170.7 711.9L1171.8 702.4L1173.1 712.7L1174.5 708.6L1177.4 714.8L1178.9 708.6L1180.7 696.8L1181.3 696.8L1183.1 711.1L1184.8 708.6L1186.6 713.6L1188.3 708.6L1189.7 708.6L1190.8 713.1L1191.8 702.4L1193.2 712.6L1194.5 708.6L1197.0 714.8L1199.6 702.4L1200.9 712.8L1202.2 708.6L1203.7 696.8L1204.3 696.8L1205.8 711.1L1206.1 714.8L1208.5 708.6L1209.5 712.9L1210.5 708.6L1213.5 714.8L1216.6 708.6L1218.5 714.3L1219.4 708.6L1220.7 696.8L1221.3 696.8L1222.6 711.1L1223.8 708.6L1225.0 713.1L1226.1 708.6L1228.5 714.8L1231.0 702.4L1232.2 713.4L1233.5 708.6L1234.6 712.1L1235.7 702.4L1237.0 712.9L1238.2 702.4L1240.3 714.5L1242.3 702.4L1245.5 714.8L1248.7 702.4L1250.1 712.8L1251.5 708.6L1254.4 714.8L1257.3 708.6L1258.5 712.5L1259.8 708.6L1261.2 713.2L1262.5 708.6L1264.5 708.6L1266.6 714.8L1268.8 708.6L1269.8 708.6L1270.9 712.4L1272.1 708.6L1274.1 714.2L1276.0 708.6L1277.1 712.9L1278.2 702.4L1281.4 714.8L1284.5 708.6L1286.0 713.2L1287.5 702.4L1289.7 714.8L1292.0 708.6L1293.8 713.8L1295.6 708.6L1297.1 708.6L1298.9 713.6L1300.6 708.6L1302.0 713.7L1303.5 708.6L1305.1 713.8L1306.3 712.9L1307.7 696.8L1308.3 696.8L1309.7 708.6L1312.4 696.2L1313.8 712.9L1314.5 712.9L1316.2 690.8L1316.8 690.8L1318.5 708.6L1319.7 712.1L1320.9 702.4L1322.1 712.4L1323.3 708.6L1325.9 714.8L1328.5 708.6L1331.3 714.8L1334.0 702.4L1335.4 713.0L1336.8 708.6L1340.0 714.8L1343.2 708.6L1345.2 714.3L1347.2 708.6L1350.0 714.8L1352.9 708.6L1354.0 711.6L1355.0 708.6L1356.7 713.4L1358.4 708.6L1359.6 712.8L1360.9 702.4L1362.0 711.8L1363.1 696.2L1364.6 712.7L1366.0 708.6L1367.1 708.6L1368.9 714.1L1370.7 708.6L1372.1 712.7L1373.4 708.6L1374.7 712.9L1376.0 702.4L1377.4 713.3L1378.7 702.4L1379.7 713.0L1380.7 708.6L1381.2 714.8L1382.7 696.8L1383.3 696.8L1384.8 708.6L1385.8 702.4L1387.0 713.4L1388.3 708.6L1389.3 708.6L1391.1 714.0L1392.9 708.6L1394.0 712.7L1395.2 702.4L1397.4 714.8L1399.6 708.6L1400.8 711.1L1402.7 690.8L1403.3 690.8L1405.2 712.9L1406.3 714.8L1408.8 708.6L1410.1 708.6L1411.1 712.2L1412.1 708.6L1413.2 712.3L1414.2 708.6L1415.5 712.6L1416.8 708.6L1418.7 708.6L1420.6 712.3L1421.9 708.6L1422.5 714.8"/>
<path class="ax" d="M259.5 576.3H271V714.8H259.5"/>
<text class="tk" x="252.4" y="579.4">19</text>
<text class="tk" x="252.4" y="717.9">0</text>
<text class="lab" x="73.3" y="651.5">GSM2481688</text>
<path class="f" d="M272.0 868.7L272.0 841.0L273.5 841.0L274.7 862.9L275.0 841.0L276.4 785.6L277.1 785.6L278.5 841.0L279.9 862.7L281.1 841.0L282.6 864.2L284.0 813.3L285.1 868.7L286.9 757.9L287.6 757.9L289.3 860.4L290.6 852.1L292.3 785.6L293.0 785.6L294.7 841.0L297.8 813.3L301.1 868.7L304.4 841.0L307.6 868.7L310.7 813.3L312.6 813.3L315.5 868.7L318.3 813.3L321.2 868.7L323.1 851.1L324.5 785.6L325.2 785.6L326.6 868.7L327.0 868.7L329.9 841.0L331.9 863.7L333.8 841.0L335.5 841.0L336.8 863.4L338.0 813.3L339.4 857.6L340.9 841.0L342.4 859.3L343.9 841.0L345.4 858.0L346.8 813.3L348.2 857.7L349.6 841.0L351.1 859.8L352.7 841.0L354.1 862.2L355.5 813.3L358.1 868.7L360.6 841.0L361.1 868.7L366.1 785.6L371.1 868.7L372.3 841.0L374.3 863.8L376.3 841.0L377.7 857.4L379.1 841.0L382.4 868.7L385.7 841.0L387.8 865.4L389.8 841.0L391.1 861.2L392.4 813.3L393.8 813.3L396.4 868.7L399.0 841.0L400.8 865.8L402.7 841.0L404.3 841.0L406.6 867.0L408.9 841.0L410.7 864.1L412.3 860.4L413.8 785.6L414.5 785.6L415.9 852.1L417.5 785.6L418.2 785.6L419.2 868.7L420.6 785.6L421.3 785.6L422.8 852.1L423.1 841.0L424.3 861.6L425.6 813.3L427.1 863.3L428.6 841.0L430.1 860.9L431.6 841.0L434.6 868.7L437.5 813.3L438.6 854.3L439.6 841.0L442.7 868.7L445.8 841.0L452.1 868.7L458.3 813.3L459.7 857.6L461.2 841.0L464.0 868.7L466.7 842.6L468.3 757.9L469.0 757.9L470.6 868.7L471.1 863.8L472.6 813.3L478.6 868.7L484.6 841.0L485.7 855.0L486.9 813.3L488.0 863.3L489.2 841.0L490.4 841.0L492.9 868.4L495.3 841.0L496.7 862.2L498.1 841.0L500.8 868.7L503.5 813.3L505.5 813.3L508.0 868.7L510.6 841.0L512.2 861.1L512.9 841.0L514.5 785.6L515.2 785.6L516.9 841.0L518.2 841.0L520.0 855.3L522.5 841.3L524.5 858.9L526.4 841.3L527.3 841.3L528.3 855.3L529.5 841.3L531.3 850.8L532.4 841.3L533.4 853.5L535.0 841.3L536.3 850.8L537.7 841.3L540.1 852.6L541.5 841.3L542.5 850.8L543.8 839.0L545.2 785.5L546.3 785.5L547.2 757.8L547.9 784.6L549.0 844.4L550.2 785.5L551.3 784.6L552.2 757.8L553.4 730.2L554.5 793.6L555.6 811.8L556.7 811.8L558.5 757.8L559.7 813.1L560.6 813.1L561.5 840.8L562.5 841.3L563.5 853.5L565.5 841.3L567.6 860.8L569.4 841.3L572.1 861.7L574.6 841.3L578.0 863.5L581.5 813.1L582.4 823.6L583.5 813.1L584.6 844.4L585.5 841.3L589.8 863.5L593.9 813.1L595.5 813.1L598.2 859.9L599.8 853.5L600.2 861.7L601.7 841.0L602.9 860.8L604.2 841.0L605.6 841.0L607.1 863.9L608.7 841.0L610.1 865.0L611.5 841.0L612.6 860.4L613.7 813.3L616.5 868.7L619.3 841.0L622.0 868.7L624.7 841.0L625.7 841.0L629.0 868.7L632.2 813.3L633.9 813.3L635.2 858.6L636.4 841.0L639.2 868.7L642.0 813.3L643.4 857.8L644.8 813.3L645.9 854.6L647.0 813.3L650.3 868.7L651.8 842.9L653.3 785.6L654.0 785.6L655.5 841.0L656.3 855.9L657.6 841.0L659.9 867.2L662.1 841.0L664.7 868.7L667.0 868.7L668.7 757.9L669.4 757.9L671.2 868.7L672.2 841.0L675.0 868.7L676.6 868.7L678.2 785.6L678.9 785.6L680.6 852.1L682.3 868.7L685.1 841.0L686.2 863.5L687.3 841.0L688.6 859.3L689.9 841.0L691.1 860.1L692.3 841.0L693.6 859.8L694.9 813.3L698.0 868.7L701.1 841.0L702.3 863.8L703.6 841.0L704.9 857.0L706.2 841.0L707.6 859.7L708.9 841.0L710.3 841.0L711.3 855.5L712.4 841.0L713.6 856.0L714.7 841.0L715.9 859.8L717.2 841.0L718.6 861.3L720.0 841.0L722.8 868.7L725.5 841.0L726.5 841.0L728.1 864.3L729.8 813.3L731.2 813.3L734.8 868.7L738.0 860.4L739.5 785.6L740.2 785.6L741.7 852.1L743.1 863.9L745.1 841.0L746.5 859.2L747.9 841.0L750.2 867.1L752.5 841.0L753.6 861.3L754.6 841.0L756.1 864.0L757.5 841.0L760.5 868.7L763.5 841.0L764.5 841.0L766.1 859.6L767.6 841.0L768.8 841.0L769.9 860.0L771.1 841.0L772.2 854.6L773.3 841.0L774.6 862.8L775.9 841.0L777.7 861.4L779.5 841.0L782.1 868.7L784.7 813.3L786.2 859.0L787.6 813.3L789.7 866.0L790.3 860.4L792.1 785.6L792.8 785.6L794.5 868.7L797.4 841.0L798.5 861.3L799.7 841.0L800.8 856.6L802.0 841.0L804.0 841.0L805.2 861.7L806.4 813.3L809.2 868.7L811.9 841.0L814.1 866.6L816.2 841.0L818.0 865.9L819.7 841.0L821.4 841.0L822.6 863.2L823.8 841.0L825.2 857.9L826.6 841.0L829.2 868.7L831.8 813.3L832.9 859.8L834.0 813.3L836.6 868.7L839.3 813.3L841.2 813.3L843.0 861.6L844.7 841.0L846.1 862.5L847.6 841.0L849.4 865.5L851.3 841.0L852.4 841.0L853.8 861.6L855.2 841.0L856.8 861.0L858.3 841.0L861.0 868.7L863.7 841.0L864.5 868.7L866.0 785.6L866.7 785.6L868.2 852.1L869.4 841.0L873.7 868.7L878.1 841.0L879.4 864.5L880.7 841.0L882.9 867.7L885.2 841.0L886.6 859.7L888.0 841.0L888.8 841.0L892.0 868.7L895.3 841.0L897.1 841.0L898.3 854.9L899.6 813.3L900.9 863.1L902.3 841.0L904.9 868.7L907.5 841.0L912.4 868.7L917.3 841.0L918.4 859.9L919.5 841.0L922.7 868.7L923.8 860.4L925.4 757.9L926.1 757.9L927.7 868.7L928.8 813.3L931.1 867.1L932.9 860.4L934.5 785.6L935.2 785.6L936.8 860.4L937.6 864.2L939.1 841.0L940.3 858.6L941.5 841.0L943.1 841.0L946.1 868.7L949.2 813.3L951.1 813.3L952.4 864.3L953.8 841.0L956.5 868.7L959.1 841.0L960.6 841.0L961.8 863.4L962.9 841.0L963.2 852.1L964.9 785.6L965.6 785.6L967.2 860.4L968.5 868.7L969.9 785.6L970.6 785.6L971.9 860.4L974.1 868.0L976.5 841.0L977.6 858.7L978.8 841.0L980.2 861.2L981.6 841.0L983.5 841.0L985.9 868.0L988.3 813.3L990.8 868.7L993.3 841.0L994.5 841.0L997.7 868.7L1000.9 841.0L1002.6 863.4L1004.3 841.0L1005.8 863.4L1007.3 841.0L1008.4 864.0L1009.6 841.0L1014.5 868.7L1019.4 841.0L1021.4 865.5L1023.4 841.0L1024.5 855.0L1025.6 841.0L1028.8 868.7L1032.0 841.0L1033.3 863.6L1034.6 841.0L1036.0 864.1L1037.3 841.0L1038.8 862.0L1040.3 841.0L1041.7 864.3L1043.0 841.0L1043.9 868.7L1044.6 841.0L1046.0 785.6L1046.7 785.6L1048.1 852.1L1051.1 868.7L1054.0 841.0L1056.9 868.7L1059.8 841.0L1061.2 861.8L1062.6 841.0L1064.1 861.0L1065.7 841.0L1067.1 841.0L1070.2 868.7L1073.4 841.0L1076.2 868.7L1076.8 862.2L1078.7 757.9L1079.4 757.9L1081.2 841.0L1081.8 841.0L1082.9 860.4L1084.1 841.0L1085.3 863.9L1086.6 813.3L1089.4 868.7L1092.3 841.0L1094.3 860.4L1095.9 785.6L1096.6 785.6L1097.3 860.4L1099.1 785.6L1099.8 785.6L1101.6 841.0L1102.6 813.3L1106.0 868.7L1109.3 841.0L1110.6 864.2L1111.9 841.0L1114.2 866.8L1116.4 841.0L1117.7 862.8L1118.9 841.0L1120.2 863.2L1121.4 841.0L1122.6 863.5L1123.7 841.0L1124.8 856.9L1125.8 841.0L1127.1 841.0L1128.5 864.4L1130.0 841.0L1131.4 861.3L1132.7 813.3L1134.1 862.2L1135.4 813.3L1136.3 813.3L1141.9 868.7L1147.4 841.0L1149.8 860.4L1151.7 757.9L1152.4 757.9L1154.2 868.7L1159.5 841.0L1161.2 841.0L1162.4 858.9L1163.6 841.0L1164.8 841.0L1167.1 867.1L1169.4 813.3L1171.1 862.3L1172.8 841.0L1173.9 857.7L1175.1 841.0L1176.1 861.9L1177.2 841.0L1178.3 862.7L1179.4 841.0L1181.7 867.6L1183.9 841.0L1185.8 841.0L1188.2 868.5L1190.7 841.0L1191.8 860.7L1193.0 841.0L1194.1 841.0L1195.3 857.7L1196.6 841.0L1198.0 859.2L1199.4 841.0L1202.2 868.7L1204.9 841.0L1205.8 841.0L1207.2 863.9L1208.5 841.0L1209.9 861.4L1211.4 813.3L1212.9 864.0L1214.5 841.0L1215.8 841.0L1217.7 864.4L1219.6 813.3L1222.1 868.5L1224.5 841.0L1227.6 868.7L1230.4 860.4L1231.9 785.6L1232.6 785.6L1234.2 868.7L1237.3 841.0L1238.7 862.7L1239.7 868.7L1241.0 785.6L1241.7 785.6L1243.0 868.7L1244.0 862.2L1245.5 841.0L1246.9 785.6L1247.6 785.6L1249.0 841.0L1249.2 864.3L1250.5 841.0L1251.9 859.9L1253.3 841.0L1255.7 867.6L1258.0 841.0L1260.2 866.3L1262.4 841.0L1263.8 863.1L1265.2 841.0L1267.3 865.8L1269.3 841.0L1270.8 863.7L1272.2 841.0L1273.7 865.4L1275.2 841.0L1276.8 862.9L1278.5 813.3L1280.1 813.3L1283.0 868.7L1286.0 813.3L1288.1 865.5L1290.2 841.0L1291.7 861.8L1293.2 841.0L1295.9 868.7L1298.6 813.3L1299.8 856.1L1301.0 813.3L1302.5 864.1L1303.9 841.0L1306.1 866.4L1308.3 841.0L1309.6 859.7L1310.8 813.3L1313.2 867.7L1315.6 841.0L1318.5 868.7L1321.4 841.0L1322.6 864.6L1323.9 813.3L1325.5 813.3L1326.9 863.1L1328.3 841.0L1329.6 861.4L1330.8 841.0L1332.2 841.0L1335.2 868.7L1338.2 841.0L1339.8 859.7L1341.5 841.0L1343.0 861.0L1344.5 841.0L1346.4 852.1L1348.0 785.6L1348.7 785.6L1350.4 841.0L1350.6 841.0L1352.2 864.2L1353.7 841.0L1355.4 841.0L1358.5 868.7L1361.6 841.0L1363.8 861.6L1365.3 785.6L1366.0 785.6L1367.4 852.1L1368.9 785.6L1369.6 785.6L1371.1 868.7L1372.7 841.0L1376.4 868.7L1378.3 868.7L1379.8 785.6L1380.5 785.6L1382.0 860.4L1385.7 868.7L1391.3 813.3L1392.5 855.5L1393.6 841.0L1394.9 863.9L1396.1 813.3L1397.1 860.4L1398.8 785.6L1399.5 785.6L1401.3 841.0L1402.0 841.0L1405.1 868.7L1408.2 841.0L1409.5 863.6L1410.9 813.3L1412.4 859.8L1413.8 841.0L1415.1 862.4L1416.4 841.0L1418.4 866.6L1420.4 841.0L1422.0 868.7L1422.0 868.7Z"/><path class="s" d="M272.0 841.0L273.5 841.0L274.7 862.9L275.0 841.0L276.4 785.6L277.1 785.6L278.5 841.0L279.9 862.7L281.1 841.0L282.6 864.2L284.0 813.3L285.1 868.7L286.9 757.9L287.6 757.9L289.3 860.4L290.6 852.1L292.3 785.6L293.0 785.6L294.7 841.0L297.8 813.3L301.1 868.7L304.4 841.0L307.6 868.7L310.7 813.3L312.6 813.3L315.5 868.7L318.3 813.3L321.2 868.7L323.1 851.1L324.5 785.6L325.2 785.6L326.6 868.7L327.0 868.7L329.9 841.0L331.9 863.7L333.8 841.0L335.5 841.0L336.8 863.4L338.0 813.3L339.4 857.6L340.9 841.0L342.4 859.3L343.9 841.0L345.4 858.0L346.8 813.3L348.2 857.7L349.6 841.0L351.1 859.8L352.7 841.0L354.1 862.2L355.5 813.3L358.1 868.7L360.6 841.0L361.1 868.7L366.1 785.6L371.1 868.7L372.3 841.0L374.3 863.8L376.3 841.0L377.7 857.4L379.1 841.0L382.4 868.7L385.7 841.0L387.8 865.4L389.8 841.0L391.1 861.2L392.4 813.3L393.8 813.3L396.4 868.7L399.0 841.0L400.8 865.8L402.7 841.0L404.3 841.0L406.6 867.0L408.9 841.0L410.7 864.1L412.3 860.4L413.8 785.6L414.5 785.6L415.9 852.1L417.5 785.6L418.2 785.6L419.2 868.7L420.6 785.6L421.3 785.6L422.8 852.1L423.1 841.0L424.3 861.6L425.6 813.3L427.1 863.3L428.6 841.0L430.1 860.9L431.6 841.0L434.6 868.7L437.5 813.3L438.6 854.3L439.6 841.0L442.7 868.7L445.8 841.0L452.1 868.7L458.3 813.3L459.7 857.6L461.2 841.0L464.0 868.7L466.7 842.6L468.3 757.9L469.0 757.9L470.6 868.7L471.1 863.8L472.6 813.3L478.6 868.7L484.6 841.0L485.7 855.0L486.9 813.3L488.0 863.3L489.2 841.0L490.4 841.0L492.9 868.4L495.3 841.0L496.7 862.2L498.1 841.0L500.8 868.7L503.5 813.3L505.5 813.3L508.0 868.7L510.6 841.0L512.2 861.1L512.9 841.0L514.5 785.6L515.2 785.6L516.9 841.0L518.2 841.0L520.0 855.3L522.5 841.3L524.5 858.9L526.4 841.3L527.3 841.3L528.3 855.3L529.5 841.3L531.3 850.8L532.4 841.3L533.4 853.5L535.0 841.3L536.3 850.8L537.7 841.3L540.1 852.6L541.5 841.3L542.5 850.8L543.8 839.0L545.2 785.5L546.3 785.5L547.2 757.8L547.9 784.6L549.0 844.4L550.2 785.5L551.3 784.6L552.2 757.8L553.4 730.2L554.5 793.6L555.6 811.8L556.7 811.8L558.5 757.8L559.7 813.1L560.6 813.1L561.5 840.8L562.5 841.3L563.5 853.5L565.5 841.3L567.6 860.8L569.4 841.3L572.1 861.7L574.6 841.3L578.0 863.5L581.5 813.1L582.4 823.6L583.5 813.1L584.6 844.4L585.5 841.3L589.8 863.5L593.9 813.1L595.5 813.1L598.2 859.9L599.8 853.5L600.2 861.7L601.7 841.0L602.9 860.8L604.2 841.0L605.6 841.0L607.1 863.9L608.7 841.0L610.1 865.0L611.5 841.0L612.6 860.4L613.7 813.3L616.5 868.7L619.3 841.0L622.0 868.7L624.7 841.0L625.7 841.0L629.0 868.7L632.2 813.3L633.9 813.3L635.2 858.6L636.4 841.0L639.2 868.7L642.0 813.3L643.4 857.8L644.8 813.3L645.9 854.6L647.0 813.3L650.3 868.7L651.8 842.9L653.3 785.6L654.0 785.6L655.5 841.0L656.3 855.9L657.6 841.0L659.9 867.2L662.1 841.0L664.7 868.7L667.0 868.7L668.7 757.9L669.4 757.9L671.2 868.7L672.2 841.0L675.0 868.7L676.6 868.7L678.2 785.6L678.9 785.6L680.6 852.1L682.3 868.7L685.1 841.0L686.2 863.5L687.3 841.0L688.6 859.3L689.9 841.0L691.1 860.1L692.3 841.0L693.6 859.8L694.9 813.3L698.0 868.7L701.1 841.0L702.3 863.8L703.6 841.0L704.9 857.0L706.2 841.0L707.6 859.7L708.9 841.0L710.3 841.0L711.3 855.5L712.4 841.0L713.6 856.0L714.7 841.0L715.9 859.8L717.2 841.0L718.6 861.3L720.0 841.0L722.8 868.7L725.5 841.0L726.5 841.0L728.1 864.3L729.8 813.3L731.2 813.3L734.8 868.7L738.0 860.4L739.5 785.6L740.2 785.6L741.7 852.1L743.1 863.9L745.1 841.0L746.5 859.2L747.9 841.0L750.2 867.1L752.5 841.0L753.6 861.3L754.6 841.0L756.1 864.0L757.5 841.0L760.5 868.7L763.5 841.0L764.5 841.0L766.1 859.6L767.6 841.0L768.8 841.0L769.9 860.0L771.1 841.0L772.2 854.6L773.3 841.0L774.6 862.8L775.9 841.0L777.7 861.4L779.5 841.0L782.1 868.7L784.7 813.3L786.2 859.0L787.6 813.3L789.7 866.0L790.3 860.4L792.1 785.6L792.8 785.6L794.5 868.7L797.4 841.0L798.5 861.3L799.7 841.0L800.8 856.6L802.0 841.0L804.0 841.0L805.2 861.7L806.4 813.3L809.2 868.7L811.9 841.0L814.1 866.6L816.2 841.0L818.0 865.9L819.7 841.0L821.4 841.0L822.6 863.2L823.8 841.0L825.2 857.9L826.6 841.0L829.2 868.7L831.8 813.3L832.9 859.8L834.0 813.3L836.6 868.7L839.3 813.3L841.2 813.3L843.0 861.6L844.7 841.0L846.1 862.5L847.6 841.0L849.4 865.5L851.3 841.0L852.4 841.0L853.8 861.6L855.2 841.0L856.8 861.0L858.3 841.0L861.0 868.7L863.7 841.0L864.5 868.7L866.0 785.6L866.7 785.6L868.2 852.1L869.4 841.0L873.7 868.7L878.1 841.0L879.4 864.5L880.7 841.0L882.9 867.7L885.2 841.0L886.6 859.7L888.0 841.0L888.8 841.0L892.0 868.7L895.3 841.0L897.1 841.0L898.3 854.9L899.6 813.3L900.9 863.1L902.3 841.0L904.9 868.7L907.5 841.0L912.4 868.7L917.3 841.0L918.4 859.9L919.5 841.0L922.7 868.7L923.8 860.4L925.4 757.9L926.1 757.9L927.7 868.7L928.8 813.3L931.1 867.1L932.9 860.4L934.5 785.6L935.2 785.6L936.8 860.4L937.6 864.2L939.1 841.0L940.3 858.6L941.5 841.0L943.1 841.0L946.1 868.7L949.2 813.3L951.1 813.3L952.4 864.3L953.8 841.0L956.5 868.7L959.1 841.0L960.6 841.0L961.8 863.4L962.9 841.0L963.2 852.1L964.9 785.6L965.6 785.6L967.2 860.4L968.5 868.7L969.9 785.6L970.6 785.6L971.9 860.4L974.1 868.0L976.5 841.0L977.6 858.7L978.8 841.0L980.2 861.2L981.6 841.0L983.5 841.0L985.9 868.0L988.3 813.3L990.8 868.7L993.3 841.0L994.5 841.0L997.7 868.7L1000.9 841.0L1002.6 863.4L1004.3 841.0L1005.8 863.4L1007.3 841.0L1008.4 864.0L1009.6 841.0L1014.5 868.7L1019.4 841.0L1021.4 865.5L1023.4 841.0L1024.5 855.0L1025.6 841.0L1028.8 868.7L1032.0 841.0L1033.3 863.6L1034.6 841.0L1036.0 864.1L1037.3 841.0L1038.8 862.0L1040.3 841.0L1041.7 864.3L1043.0 841.0L1043.9 868.7L1044.6 841.0L1046.0 785.6L1046.7 785.6L1048.1 852.1L1051.1 868.7L1054.0 841.0L1056.9 868.7L1059.8 841.0L1061.2 861.8L1062.6 841.0L1064.1 861.0L1065.7 841.0L1067.1 841.0L1070.2 868.7L1073.4 841.0L1076.2 868.7L1076.8 862.2L1078.7 757.9L1079.4 757.9L1081.2 841.0L1081.8 841.0L1082.9 860.4L1084.1 841.0L1085.3 863.9L1086.6 813.3L1089.4 868.7L1092.3 841.0L1094.3 860.4L1095.9 785.6L1096.6 785.6L1097.3 860.4L1099.1 785.6L1099.8 785.6L1101.6 841.0L1102.6 813.3L1106.0 868.7L1109.3 841.0L1110.6 864.2L1111.9 841.0L1114.2 866.8L1116.4 841.0L1117.7 862.8L1118.9 841.0L1120.2 863.2L1121.4 841.0L1122.6 863.5L1123.7 841.0L1124.8 856.9L1125.8 841.0L1127.1 841.0L1128.5 864.4L1130.0 841.0L1131.4 861.3L1132.7 813.3L1134.1 862.2L1135.4 813.3L1136.3 813.3L1141.9 868.7L1147.4 841.0L1149.8 860.4L1151.7 757.9L1152.4 757.9L1154.2 868.7L1159.5 841.0L1161.2 841.0L1162.4 858.9L1163.6 841.0L1164.8 841.0L1167.1 867.1L1169.4 813.3L1171.1 862.3L1172.8 841.0L1173.9 857.7L1175.1 841.0L1176.1 861.9L1177.2 841.0L1178.3 862.7L1179.4 841.0L1181.7 867.6L1183.9 841.0L1185.8 841.0L1188.2 868.5L1190.7 841.0L1191.8 860.7L1193.0 841.0L1194.1 841.0L1195.3 857.7L1196.6 841.0L1198.0 859.2L1199.4 841.0L1202.2 868.7L1204.9 841.0L1205.8 841.0L1207.2 863.9L1208.5 841.0L1209.9 861.4L1211.4 813.3L1212.9 864.0L1214.5 841.0L1215.8 841.0L1217.7 864.4L1219.6 813.3L1222.1 868.5L1224.5 841.0L1227.6 868.7L1230.4 860.4L1231.9 785.6L1232.6 785.6L1234.2 868.7L1237.3 841.0L1238.7 862.7L1239.7 868.7L1241.0 785.6L1241.7 785.6L1243.0 868.7L1244.0 862.2L1245.5 841.0L1246.9 785.6L1247.6 785.6L1249.0 841.0L1249.2 864.3L1250.5 841.0L1251.9 859.9L1253.3 841.0L1255.7 867.6L1258.0 841.0L1260.2 866.3L1262.4 841.0L1263.8 863.1L1265.2 841.0L1267.3 865.8L1269.3 841.0L1270.8 863.7L1272.2 841.0L1273.7 865.4L1275.2 841.0L1276.8 862.9L1278.5 813.3L1280.1 813.3L1283.0 868.7L1286.0 813.3L1288.1 865.5L1290.2 841.0L1291.7 861.8L1293.2 841.0L1295.9 868.7L1298.6 813.3L1299.8 856.1L1301.0 813.3L1302.5 864.1L1303.9 841.0L1306.1 866.4L1308.3 841.0L1309.6 859.7L1310.8 813.3L1313.2 867.7L1315.6 841.0L1318.5 868.7L1321.4 841.0L1322.6 864.6L1323.9 813.3L1325.5 813.3L1326.9 863.1L1328.3 841.0L1329.6 861.4L1330.8 841.0L1332.2 841.0L1335.2 868.7L1338.2 841.0L1339.8 859.7L1341.5 841.0L1343.0 861.0L1344.5 841.0L1346.4 852.1L1348.0 785.6L1348.7 785.6L1350.4 841.0L1350.6 841.0L1352.2 864.2L1353.7 841.0L1355.4 841.0L1358.5 868.7L1361.6 841.0L1363.8 861.6L1365.3 785.6L1366.0 785.6L1367.4 852.1L1368.9 785.6L1369.6 785.6L1371.1 868.7L1372.7 841.0L1376.4 868.7L1378.3 868.7L1379.8 785.6L1380.5 785.6L1382.0 860.4L1385.7 868.7L1391.3 813.3L1392.5 855.5L1393.6 841.0L1394.9 863.9L1396.1 813.3L1397.1 860.4L1398.8 785.6L1399.5 785.6L1401.3 841.0L1402.0 841.0L1405.1 868.7L1408.2 841.0L1409.5 863.6L1410.9 813.3L1412.4 859.8L1413.8 841.0L1415.1 862.4L1416.4 841.0L1418.4 866.6L1420.4 841.0L1422.0 868.7"/>
<path class="ax" d="M259.5 730.2H271V868.7H259.5"/>
<text class="tk" x="252.4" y="733.3">7</text>
<text class="tk" x="252.4" y="871.8">0</text>
<text class="lab" x="73.3" y="805.4">GSM2481687</text>
<path class="f" d="M271.4 1022.7L271.4 1005.9L272.3 1006.3L273.4 973.2L274.5 997.7L276.8 997.7L277.7 1004.1L279.5 956.5L281.1 989.6L283.6 989.6L284.8 999.5L286.3 997.7L287.4 981.4L289.0 999.5L291.3 1015.9L292.2 1015.0L293.4 1005.9L294.8 1015.4L295.8 1015.4L297.4 1005.9L299.5 1016.8L300.8 1014.1L302.6 1020.0L304.5 1014.1L307.2 1014.1L308.5 1018.6L310.8 1014.1L312.2 1014.1L313.5 1017.7L315.5 1005.9L316.5 1008.6L317.6 1005.9L319.1 1016.8L320.8 1014.1L323.1 1019.5L324.9 1014.1L326.7 1005.9L328.0 1005.9L329.4 1012.2L330.3 1012.2L331.4 997.7L332.3 1005.9L333.5 1009.5L335.3 1005.9L337.6 1018.1L339.4 1014.1L342.1 1020.0L344.6 1014.1L345.7 1006.1L347.0 1006.1L350.2 1022.7L352.2 1014.4L353.6 997.7L354.4 997.7L355.8 1014.4L358.1 1006.1L359.1 1018.9L360.1 1014.4L361.8 1020.9L363.5 1006.1L366.2 1022.7L368.8 1014.4L371.0 1022.5L373.1 1006.1L374.2 1019.0L375.3 1017.7L376.6 997.7L377.4 997.7L378.7 1022.7L380.2 1022.4L382.3 1006.1L383.5 1019.4L384.7 1014.4L385.8 1020.4L386.9 1014.4L388.0 1014.4L390.7 1022.7L393.4 1006.1L396.1 1022.7L398.9 1014.4L400.2 1017.7L401.6 997.7L402.4 997.7L403.8 1022.7L405.0 1014.4L407.3 1022.7L409.7 1006.1L411.3 1006.1L413.1 1021.0L414.9 1014.4L417.2 1022.7L419.6 1014.4L420.6 1019.1L421.7 1014.4L423.7 1022.2L425.7 1014.4L427.7 1021.7L429.6 1014.4L430.9 1020.0L432.6 997.7L433.4 997.7L435.1 1014.4L436.6 1014.4L438.7 1022.6L440.8 1014.4L441.9 1019.6L443.6 997.7L444.4 997.7L446.1 1017.7L448.6 1022.7L451.8 1014.4L453.6 1021.9L455.5 1014.4L456.5 1020.3L457.5 1014.4L459.4 1021.6L461.3 1006.1L462.4 1019.5L463.5 1014.4L465.7 1022.6L467.9 1006.1L469.3 1020.1L470.7 1014.4L472.1 1020.3L473.4 1014.4L474.5 1019.8L475.6 1006.1L477.0 1021.0L478.5 1006.1L479.6 1019.3L480.7 1006.1L482.8 1022.5L484.9 1006.1L486.6 1021.3L488.4 1014.4L489.3 1014.4L492.4 1022.7L493.1 1022.7L494.6 997.7L495.4 997.7L496.9 1017.7L497.8 1014.4L500.3 1022.7L502.8 1006.1L504.9 1022.1L506.9 1006.1L508.1 1020.3L509.2 1014.4L511.5 1022.7L513.8 1006.1L516.4 1022.7L519.0 1014.4L521.7 1022.7L524.4 1006.1L526.0 1006.1L527.5 1021.2L528.9 1014.4L530.5 1005.8L532.7 1014.4L533.6 1014.4L535.0 1005.8L537.3 1017.6L539.1 1014.0L542.7 1020.8L545.9 1013.5L547.2 999.9L548.1 983.6L548.6 965.4L549.5 920.1L550.7 892.9L551.6 892.0L552.4 896.5L552.9 884.2L553.8 884.2L554.1 900.1L554.7 901.0L555.4 929.2L556.1 964.5L556.6 965.4L557.0 997.2L558.8 998.5L559.5 983.6L560.2 949.1L561.1 949.1L561.9 996.7L562.9 996.7L563.6 989.9L564.5 989.9L565.6 1005.4L566.5 1005.8L567.4 1014.4L568.5 1018.0L570.4 1005.8L571.3 1009.0L572.6 1005.8L573.5 1005.8L574.2 1013.5L574.9 1013.5L576.4 1005.8L579.0 1014.9L580.3 1014.4L582.1 1019.0L584.4 1005.8L585.5 1014.4L586.4 1014.4L587.3 1005.8L589.0 1014.4L590.3 1014.0L594.0 1020.8L597.6 1014.0L598.5 997.6L600.3 1018.0L602.6 1014.0L604.4 1016.2L605.5 997.6L606.6 997.6L607.5 989.9L608.9 1009.0L609.8 1016.2L611.4 997.8L612.9 1014.4L614.6 997.7L615.4 997.7L617.1 1020.2L617.6 1014.4L618.8 1020.6L620.0 1014.4L621.5 1021.2L622.9 997.8L624.9 1014.4L626.6 997.7L627.4 997.7L629.1 1014.4L629.7 1014.4L631.6 1021.6L633.4 1014.4L635.3 1021.8L637.2 997.8L637.9 1020.2L639.6 997.7L640.4 997.7L642.1 1017.7L643.7 1014.4L645.1 1020.9L646.5 1014.4L646.8 1022.7L648.6 989.6L649.4 989.6L651.2 1014.4L652.6 1006.1L655.8 1022.7L659.0 1014.4L662.1 1022.7L665.3 1014.4L666.5 1020.7L667.8 1014.4L670.3 1022.7L672.8 1006.1L674.1 1019.9L675.4 1014.4L676.8 1019.8L678.2 1014.4L679.3 1020.4L680.4 1006.1L681.9 1020.5L683.4 1006.1L684.7 1020.5L686.0 1006.1L687.1 1006.1L688.3 1019.7L689.4 1014.4L691.6 1022.5L693.7 1014.4L695.0 1019.8L696.3 1006.1L698.0 1006.1L699.4 1020.4L700.9 1017.7L702.6 997.7L703.4 997.7L705.1 1022.7L705.8 1014.4L707.3 1014.4L708.7 1020.9L710.1 1014.4L711.9 1021.6L713.6 1014.4L716.2 1022.7L718.9 1014.4L721.2 1022.7L723.4 1006.1L724.7 1006.1L726.0 1019.7L727.3 1014.4L728.7 1014.4L730.2 1021.0L731.7 1014.4L733.0 1019.4L734.3 1014.4L735.3 1019.4L736.3 1014.4L737.5 1020.4L738.7 1006.1L741.8 1022.7L744.9 1014.4L747.3 1022.7L749.7 1014.4L751.0 1020.3L752.3 1006.1L754.0 1020.9L755.7 1014.4L757.1 1020.4L758.5 1006.1L759.8 1020.8L761.1 1006.1L762.2 1020.5L763.4 1014.4L764.7 1014.4L766.0 1020.3L767.3 1014.4L768.3 1018.9L769.4 1006.1L772.1 1022.7L774.9 1014.4L775.7 1014.4L777.4 1020.9L779.2 1014.4L780.9 1021.5L782.7 1014.4L784.1 1020.3L785.5 1014.4L786.9 1017.7L788.6 989.6L789.4 989.6L791.1 1017.7L791.4 1014.4L793.2 1021.0L794.9 1014.4L796.8 1014.4L800.0 1022.7L803.1 1014.4L806.0 1022.7L808.9 1014.4L811.2 1022.7L813.6 1014.4L814.7 1020.0L815.9 1006.1L818.8 1022.7L821.7 1014.4L823.5 1014.4L824.8 1020.1L826.1 1014.4L827.5 1020.2L828.9 1014.4L830.0 1020.4L831.1 1014.4L833.9 1022.7L836.6 1014.4L838.5 1021.8L840.3 1014.4L842.3 1022.1L844.2 1014.4L847.4 1022.7L850.6 1014.4L853.0 1022.7L855.4 1014.4L856.5 1020.1L857.6 1014.4L858.7 1014.4L859.8 1018.8L860.8 1014.4L861.9 1020.2L862.9 997.8L864.1 1019.7L865.3 1014.4L866.4 1019.9L867.4 1014.4L869.1 1020.8L870.7 1014.4L872.5 1014.4L874.5 1022.3L876.5 1014.4L877.8 1020.2L879.1 1014.4L882.2 1022.7L885.3 1006.1L886.4 1018.6L887.5 1006.1L889.7 1022.7L892.0 1014.4L893.8 1021.9L895.5 1015.2L897.2 989.6L898.0 989.6L899.7 1014.4L901.6 1014.4L902.7 1018.4L903.8 1014.4L906.1 1022.7L908.5 1014.4L909.5 1018.7L910.5 1014.4L912.9 1022.7L915.3 1014.4L916.4 1019.9L917.6 1006.1L920.0 1022.7L922.3 1014.4L924.2 1014.4L925.7 1020.9L927.1 1006.1L928.1 1020.0L929.1 1006.1L930.5 1006.1L932.6 1022.3L934.7 1014.4L936.0 1019.9L937.3 1014.4L938.7 1019.9L940.1 1006.1L941.6 1020.3L943.1 1014.4L945.9 1022.7L948.6 1014.4L949.8 1019.3L950.9 1014.4L953.9 1022.7L956.9 1006.1L958.0 1018.7L959.0 1006.1L960.4 1020.1L961.9 1006.1L963.8 1022.0L965.7 1006.1L967.7 1022.3L969.8 1006.1L971.1 1020.1L972.5 1014.4L975.5 1022.7L978.6 1014.4L979.5 1014.4L980.7 1020.7L981.9 1014.4L983.2 1019.3L984.4 1014.4L986.5 1022.1L988.5 1014.4L990.3 1021.7L992.1 1006.1L993.6 1006.1L994.9 1020.5L996.3 1014.4L998.3 1022.2L1000.3 1014.4L1001.5 1020.0L1002.7 1014.4L1004.0 1020.7L1005.4 1014.4L1008.3 1022.7L1011.2 1014.4L1012.4 1014.4L1014.9 1022.7L1017.4 1006.1L1018.5 1020.3L1019.6 1006.1L1022.7 1022.7L1025.8 1014.4L1027.2 1019.9L1028.6 1006.1L1030.7 1022.5L1032.8 1014.4L1034.5 1021.2L1036.2 1014.4L1037.7 1020.2L1039.2 1014.4L1040.9 1021.6L1042.6 1014.4L1044.9 1022.7L1046.6 1017.7L1048.7 989.6L1049.3 989.6L1051.4 1022.7L1054.1 1014.4L1055.3 1020.6L1056.6 1014.4L1057.7 1020.4L1058.8 1014.4L1059.9 1019.2L1061.1 1006.1L1063.6 1022.7L1066.2 1014.4L1067.6 1021.0L1069.0 1022.7L1070.7 981.7L1071.3 981.7L1073.0 1022.7L1073.4 1021.5L1075.2 1014.4L1076.9 1021.7L1078.6 1006.1L1079.9 1006.1L1081.8 1022.2L1083.8 1014.4L1084.9 1019.5L1086.0 1014.4L1087.0 1018.3L1088.0 1014.4L1089.3 1020.2L1090.6 1014.4L1093.4 1022.7L1096.1 1014.4L1097.3 1019.7L1098.5 1014.4L1099.8 1019.7L1101.1 1014.4L1103.5 1022.7L1105.9 1014.4L1106.9 1018.6L1107.9 1006.1L1109.2 1020.9L1110.5 1006.1L1112.9 1022.7L1115.3 1014.4L1117.3 1022.0L1119.3 1014.4L1121.0 1021.1L1122.8 1014.4L1124.1 1020.3L1125.4 1014.4L1128.3 1022.7L1131.2 1006.1L1132.7 1020.9L1134.2 1014.4L1136.3 1022.4L1138.3 1014.4L1139.5 1014.4L1142.0 1022.7L1144.5 1014.4L1145.6 1018.7L1146.6 1014.4L1148.1 1014.4L1149.3 1020.1L1150.4 1014.4L1151.6 1014.4L1153.6 1022.0L1155.6 1014.4L1158.0 1022.7L1160.3 1014.4L1161.7 1021.0L1163.2 1014.4L1165.2 1022.2L1167.3 1014.4L1169.2 1014.4L1171.0 1021.2L1172.8 1006.1L1174.7 1021.6L1176.5 1014.4L1179.2 1022.7L1181.9 1014.4L1183.0 1018.6L1184.1 1006.1L1185.1 1019.4L1186.1 1014.4L1188.0 1021.8L1190.0 1006.1L1192.8 1022.7L1195.7 1014.4L1197.9 1022.7L1200.1 1014.4L1202.2 1022.0L1204.2 1014.4L1205.2 1014.4L1206.5 1020.6L1207.7 1014.4L1209.6 1021.9L1211.4 1014.4L1212.9 1020.1L1214.4 1014.4L1215.6 1020.3L1216.8 1014.4L1219.0 1022.7L1221.2 1014.4L1222.4 1019.5L1223.5 1006.1L1224.8 1006.1L1226.2 1020.4L1227.6 1014.4L1229.9 1022.7L1232.1 1014.4L1233.3 1019.9L1234.5 1006.1L1235.7 1020.0L1236.9 1006.1L1239.6 1022.7L1240.9 1022.7L1242.7 997.7L1243.3 997.7L1245.1 1022.7L1247.2 1014.4L1248.5 1020.2L1249.8 1006.1L1251.1 1020.9L1252.5 1014.4L1254.2 1014.4L1255.4 1020.6L1256.6 1006.1L1257.9 1020.7L1259.3 1006.1L1261.0 1021.3L1262.7 1006.1L1263.9 1019.6L1265.1 1006.1L1266.0 1006.1L1268.0 1022.4L1270.1 1006.1L1272.3 1022.6L1274.4 1014.4L1276.2 1021.0L1277.7 997.7L1278.3 997.7L1279.8 1022.7L1280.4 1014.4L1282.2 1021.5L1284.1 1014.4L1286.7 1022.7L1289.4 1006.1L1290.6 1019.5L1291.9 1014.4L1293.1 1020.3L1294.2 1006.1L1296.3 1022.0L1298.3 997.8L1300.1 997.8L1301.9 1022.0L1303.8 1014.4L1304.9 1019.1L1306.0 1014.4L1307.3 1020.4L1308.6 1014.4L1310.4 1021.3L1312.2 1006.1L1314.3 1021.0L1315.7 997.7L1316.3 997.7L1317.7 1014.4L1318.6 1022.1L1320.6 997.8L1323.6 1022.7L1326.6 1006.1L1328.3 1020.9L1329.9 1014.4L1331.3 1020.9L1332.7 1014.4L1334.5 1021.5L1336.2 997.8L1337.1 997.8L1339.5 1022.7L1340.9 1022.7L1342.7 997.7L1343.3 997.7L1345.1 1017.7L1345.3 1006.1L1347.4 1022.2L1349.4 1014.4L1350.5 1019.7L1351.5 1014.4L1353.9 1022.7L1356.3 1014.4L1359.4 1022.7L1362.6 1014.4L1365.2 1022.7L1367.9 1014.4L1368.9 1018.6L1370.0 1014.4L1370.3 1020.2L1371.7 997.7L1372.3 997.7L1373.7 1014.4L1375.1 1022.7L1378.3 1014.4L1379.7 1020.4L1381.2 1014.4L1382.3 1020.1L1383.5 1006.1L1384.7 1006.1L1386.0 1021.0L1387.3 1006.1L1390.5 1022.7L1393.7 1006.1L1394.7 1020.4L1395.8 997.8L1397.2 1019.9L1398.6 1014.4L1399.8 1019.1L1401.0 1014.4L1402.3 1021.1L1403.7 1014.4L1406.2 1022.7L1408.7 1014.4L1411.6 1022.7L1414.5 1014.4L1416.4 1021.9L1418.4 1014.4L1419.5 1018.6L1420.6 1014.4L1422.5 1022.7L1422.5 1022.7Z"/><path class="s" d="M271.4 1005.9L272.3 1006.3L273.4 973.2L274.5 997.7L276.8 997.7L277.7 1004.1L279.5 956.5L281.1 989.6L283.6 989.6L284.8 999.5L286.3 997.7L287.4 981.4L289.0 999.5L291.3 1015.9L292.2 1015.0L293.4 1005.9L294.8 1015.4L295.8 1015.4L297.4 1005.9L299.5 1016.8L300.8 1014.1L302.6 1020.0L304.5 1014.1L307.2 1014.1L308.5 1018.6L310.8 1014.1L312.2 1014.1L313.5 1017.7L315.5 1005.9L316.5 1008.6L317.6 1005.9L319.1 1016.8L320.8 1014.1L323.1 1019.5L324.9 1014.1L326.7 1005.9L328.0 1005.9L329.4 1012.2L330.3 1012.2L331.4 997.7L332.3 1005.9L333.5 1009.5L335.3 1005.9L337.6 1018.1L339.4 1014.1L342.1 1020.0L344.6 1014.1L345.7 1006.1L347.0 1006.1L350.2 1022.7L352.2 1014.4L353.6 997.7L354.4 997.7L355.8 1014.4L358.1 1006.1L359.1 1018.9L360.1 1014.4L361.8 1020.9L363.5 1006.1L366.2 1022.7L368.8 1014.4L371.0 1022.5L373.1 1006.1L374.2 1019.0L375.3 1017.7L376.6 997.7L377.4 997.7L378.7 1022.7L380.2 1022.4L382.3 1006.1L383.5 1019.4L384.7 1014.4L385.8 1020.4L386.9 1014.4L388.0 1014.4L390.7 1022.7L393.4 1006.1L396.1 1022.7L398.9 1014.4L400.2 1017.7L401.6 997.7L402.4 997.7L403.8 1022.7L405.0 1014.4L407.3 1022.7L409.7 1006.1L411.3 1006.1L413.1 1021.0L414.9 1014.4L417.2 1022.7L419.6 1014.4L420.6 1019.1L421.7 1014.4L423.7 1022.2L425.7 1014.4L427.7 1021.7L429.6 1014.4L430.9 1020.0L432.6 997.7L433.4 997.7L435.1 1014.4L436.6 1014.4L438.7 1022.6L440.8 1014.4L441.9 1019.6L443.6 997.7L444.4 997.7L446.1 1017.7L448.6 1022.7L451.8 1014.4L453.6 1021.9L455.5 1014.4L456.5 1020.3L457.5 1014.4L459.4 1021.6L461.3 1006.1L462.4 1019.5L463.5 1014.4L465.7 1022.6L467.9 1006.1L469.3 1020.1L470.7 1014.4L472.1 1020.3L473.4 1014.4L474.5 1019.8L475.6 1006.1L477.0 1021.0L478.5 1006.1L479.6 1019.3L480.7 1006.1L482.8 1022.5L484.9 1006.1L486.6 1021.3L488.4 1014.4L489.3 1014.4L492.4 1022.7L493.1 1022.7L494.6 997.7L495.4 997.7L496.9 1017.7L497.8 1014.4L500.3 1022.7L502.8 1006.1L504.9 1022.1L506.9 1006.1L508.1 1020.3L509.2 1014.4L511.5 1022.7L513.8 1006.1L516.4 1022.7L519.0 1014.4L521.7 1022.7L524.4 1006.1L526.0 1006.1L527.5 1021.2L528.9 1014.4L530.5 1005.8L532.7 1014.4L533.6 1014.4L535.0 1005.8L537.3 1017.6L539.1 1014.0L542.7 1020.8L545.9 1013.5L547.2 999.9L548.1 983.6L548.6 965.4L549.5 920.1L550.7 892.9L551.6 892.0L552.4 896.5L552.9 884.2L553.8 884.2L554.1 900.1L554.7 901.0L555.4 929.2L556.1 964.5L556.6 965.4L557.0 997.2L558.8 998.5L559.5 983.6L560.2 949.1L561.1 949.1L561.9 996.7L562.9 996.7L563.6 989.9L564.5 989.9L565.6 1005.4L566.5 1005.8L567.4 1014.4L568.5 1018.0L570.4 1005.8L571.3 1009.0L572.6 1005.8L573.5 1005.8L574.2 1013.5L574.9 1013.5L576.4 1005.8L579.0 1014.9L580.3 1014.4L582.1 1019.0L584.4 1005.8L585.5 1014.4L586.4 1014.4L587.3 1005.8L589.0 1014.4L590.3 1014.0L594.0 1020.8L597.6 1014.0L598.5 997.6L600.3 1018.0L602.6 1014.0L604.4 1016.2L605.5 997.6L606.6 997.6L607.5 989.9L608.9 1009.0L609.8 1016.2L611.4 997.8L612.9 1014.4L614.6 997.7L615.4 997.7L617.1 1020.2L617.6 1014.4L618.8 1020.6L620.0 1014.4L621.5 1021.2L622.9 997.8L624.9 1014.4L626.6 997.7L627.4 997.7L629.1 1014.4L629.7 1014.4L631.6 1021.6L633.4 1014.4L635.3 1021.8L637.2 997.8L637.9 1020.2L639.6 997.7L640.4 997.7L642.1 1017.7L643.7 1014.4L645.1 1020.9L646.5 1014.4L646.8 1022.7L648.6 989.6L649.4 989.6L651.2 1014.4L652.6 1006.1L655.8 1022.7L659.0 1014.4L662.1 1022.7L665.3 1014.4L666.5 1020.7L667.8 1014.4L670.3 1022.7L672.8 1006.1L674.1 1019.9L675.4 1014.4L676.8 1019.8L678.2 1014.4L679.3 1020.4L680.4 1006.1L681.9 1020.5L683.4 1006.1L684.7 1020.5L686.0 1006.1L687.1 1006.1L688.3 1019.7L689.4 1014.4L691.6 1022.5L693.7 1014.4L695.0 1019.8L696.3 1006.1L698.0 1006.1L699.4 1020.4L700.9 1017.7L702.6 997.7L703.4 997.7L705.1 1022.7L705.8 1014.4L707.3 1014.4L708.7 1020.9L710.1 1014.4L711.9 1021.6L713.6 1014.4L716.2 1022.7L718.9 1014.4L721.2 1022.7L723.4 1006.1L724.7 1006.1L726.0 1019.7L727.3 1014.4L728.7 1014.4L730.2 1021.0L731.7 1014.4L733.0 1019.4L734.3 1014.4L735.3 1019.4L736.3 1014.4L737.5 1020.4L738.7 1006.1L741.8 1022.7L744.9 1014.4L747.3 1022.7L749.7 1014.4L751.0 1020.3L752.3 1006.1L754.0 1020.9L755.7 1014.4L757.1 1020.4L758.5 1006.1L759.8 1020.8L761.1 1006.1L762.2 1020.5L763.4 1014.4L764.7 1014.4L766.0 1020.3L767.3 1014.4L768.3 1018.9L769.4 1006.1L772.1 1022.7L774.9 1014.4L775.7 1014.4L777.4 1020.9L779.2 1014.4L780.9 1021.5L782.7 1014.4L784.1 1020.3L785.5 1014.4L786.9 1017.7L788.6 989.6L789.4 989.6L791.1 1017.7L791.4 1014.4L793.2 1021.0L794.9 1014.4L796.8 1014.4L800.0 1022.7L803.1 1014.4L806.0 1022.7L808.9 1014.4L811.2 1022.7L813.6 1014.4L814.7 1020.0L815.9 1006.1L818.8 1022.7L821.7 1014.4L823.5 1014.4L824.8 1020.1L826.1 1014.4L827.5 1020.2L828.9 1014.4L830.0 1020.4L831.1 1014.4L833.9 1022.7L836.6 1014.4L838.5 1021.8L840.3 1014.4L842.3 1022.1L844.2 1014.4L847.4 1022.7L850.6 1014.4L853.0 1022.7L855.4 1014.4L856.5 1020.1L857.6 1014.4L858.7 1014.4L859.8 1018.8L860.8 1014.4L861.9 1020.2L862.9 997.8L864.1 1019.7L865.3 1014.4L866.4 1019.9L867.4 1014.4L869.1 1020.8L870.7 1014.4L872.5 1014.4L874.5 1022.3L876.5 1014.4L877.8 1020.2L879.1 1014.4L882.2 1022.7L885.3 1006.1L886.4 1018.6L887.5 1006.1L889.7 1022.7L892.0 1014.4L893.8 1021.9L895.5 1015.2L897.2 989.6L898.0 989.6L899.7 1014.4L901.6 1014.4L902.7 1018.4L903.8 1014.4L906.1 1022.7L908.5 1014.4L909.5 1018.7L910.5 1014.4L912.9 1022.7L915.3 1014.4L916.4 1019.9L917.6 1006.1L920.0 1022.7L922.3 1014.4L924.2 1014.4L925.7 1020.9L927.1 1006.1L928.1 1020.0L929.1 1006.1L930.5 1006.1L932.6 1022.3L934.7 1014.4L936.0 1019.9L937.3 1014.4L938.7 1019.9L940.1 1006.1L941.6 1020.3L943.1 1014.4L945.9 1022.7L948.6 1014.4L949.8 1019.3L950.9 1014.4L953.9 1022.7L956.9 1006.1L958.0 1018.7L959.0 1006.1L960.4 1020.1L961.9 1006.1L963.8 1022.0L965.7 1006.1L967.7 1022.3L969.8 1006.1L971.1 1020.1L972.5 1014.4L975.5 1022.7L978.6 1014.4L979.5 1014.4L980.7 1020.7L981.9 1014.4L983.2 1019.3L984.4 1014.4L986.5 1022.1L988.5 1014.4L990.3 1021.7L992.1 1006.1L993.6 1006.1L994.9 1020.5L996.3 1014.4L998.3 1022.2L1000.3 1014.4L1001.5 1020.0L1002.7 1014.4L1004.0 1020.7L1005.4 1014.4L1008.3 1022.7L1011.2 1014.4L1012.4 1014.4L1014.9 1022.7L1017.4 1006.1L1018.5 1020.3L1019.6 1006.1L1022.7 1022.7L1025.8 1014.4L1027.2 1019.9L1028.6 1006.1L1030.7 1022.5L1032.8 1014.4L1034.5 1021.2L1036.2 1014.4L1037.7 1020.2L1039.2 1014.4L1040.9 1021.6L1042.6 1014.4L1044.9 1022.7L1046.6 1017.7L1048.7 989.6L1049.3 989.6L1051.4 1022.7L1054.1 1014.4L1055.3 1020.6L1056.6 1014.4L1057.7 1020.4L1058.8 1014.4L1059.9 1019.2L1061.1 1006.1L1063.6 1022.7L1066.2 1014.4L1067.6 1021.0L1069.0 1022.7L1070.7 981.7L1071.3 981.7L1073.0 1022.7L1073.4 1021.5L1075.2 1014.4L1076.9 1021.7L1078.6 1006.1L1079.9 1006.1L1081.8 1022.2L1083.8 1014.4L1084.9 1019.5L1086.0 1014.4L1087.0 1018.3L1088.0 1014.4L1089.3 1020.2L1090.6 1014.4L1093.4 1022.7L1096.1 1014.4L1097.3 1019.7L1098.5 1014.4L1099.8 1019.7L1101.1 1014.4L1103.5 1022.7L1105.9 1014.4L1106.9 1018.6L1107.9 1006.1L1109.2 1020.9L1110.5 1006.1L1112.9 1022.7L1115.3 1014.4L1117.3 1022.0L1119.3 1014.4L1121.0 1021.1L1122.8 1014.4L1124.1 1020.3L1125.4 1014.4L1128.3 1022.7L1131.2 1006.1L1132.7 1020.9L1134.2 1014.4L1136.3 1022.4L1138.3 1014.4L1139.5 1014.4L1142.0 1022.7L1144.5 1014.4L1145.6 1018.7L1146.6 1014.4L1148.1 1014.4L1149.3 1020.1L1150.4 1014.4L1151.6 1014.4L1153.6 1022.0L1155.6 1014.4L1158.0 1022.7L1160.3 1014.4L1161.7 1021.0L1163.2 1014.4L1165.2 1022.2L1167.3 1014.4L1169.2 1014.4L1171.0 1021.2L1172.8 1006.1L1174.7 1021.6L1176.5 1014.4L1179.2 1022.7L1181.9 1014.4L1183.0 1018.6L1184.1 1006.1L1185.1 1019.4L1186.1 1014.4L1188.0 1021.8L1190.0 1006.1L1192.8 1022.7L1195.7 1014.4L1197.9 1022.7L1200.1 1014.4L1202.2 1022.0L1204.2 1014.4L1205.2 1014.4L1206.5 1020.6L1207.7 1014.4L1209.6 1021.9L1211.4 1014.4L1212.9 1020.1L1214.4 1014.4L1215.6 1020.3L1216.8 1014.4L1219.0 1022.7L1221.2 1014.4L1222.4 1019.5L1223.5 1006.1L1224.8 1006.1L1226.2 1020.4L1227.6 1014.4L1229.9 1022.7L1232.1 1014.4L1233.3 1019.9L1234.5 1006.1L1235.7 1020.0L1236.9 1006.1L1239.6 1022.7L1240.9 1022.7L1242.7 997.7L1243.3 997.7L1245.1 1022.7L1247.2 1014.4L1248.5 1020.2L1249.8 1006.1L1251.1 1020.9L1252.5 1014.4L1254.2 1014.4L1255.4 1020.6L1256.6 1006.1L1257.9 1020.7L1259.3 1006.1L1261.0 1021.3L1262.7 1006.1L1263.9 1019.6L1265.1 1006.1L1266.0 1006.1L1268.0 1022.4L1270.1 1006.1L1272.3 1022.6L1274.4 1014.4L1276.2 1021.0L1277.7 997.7L1278.3 997.7L1279.8 1022.7L1280.4 1014.4L1282.2 1021.5L1284.1 1014.4L1286.7 1022.7L1289.4 1006.1L1290.6 1019.5L1291.9 1014.4L1293.1 1020.3L1294.2 1006.1L1296.3 1022.0L1298.3 997.8L1300.1 997.8L1301.9 1022.0L1303.8 1014.4L1304.9 1019.1L1306.0 1014.4L1307.3 1020.4L1308.6 1014.4L1310.4 1021.3L1312.2 1006.1L1314.3 1021.0L1315.7 997.7L1316.3 997.7L1317.7 1014.4L1318.6 1022.1L1320.6 997.8L1323.6 1022.7L1326.6 1006.1L1328.3 1020.9L1329.9 1014.4L1331.3 1020.9L1332.7 1014.4L1334.5 1021.5L1336.2 997.8L1337.1 997.8L1339.5 1022.7L1340.9 1022.7L1342.7 997.7L1343.3 997.7L1345.1 1017.7L1345.3 1006.1L1347.4 1022.2L1349.4 1014.4L1350.5 1019.7L1351.5 1014.4L1353.9 1022.7L1356.3 1014.4L1359.4 1022.7L1362.6 1014.4L1365.2 1022.7L1367.9 1014.4L1368.9 1018.6L1370.0 1014.4L1370.3 1020.2L1371.7 997.7L1372.3 997.7L1373.7 1014.4L1375.1 1022.7L1378.3 1014.4L1379.7 1020.4L1381.2 1014.4L1382.3 1020.1L1383.5 1006.1L1384.7 1006.1L1386.0 1021.0L1387.3 1006.1L1390.5 1022.7L1393.7 1006.1L1394.7 1020.4L1395.8 997.8L1397.2 1019.9L1398.6 1014.4L1399.8 1019.1L1401.0 1014.4L1402.3 1021.1L1403.7 1014.4L1406.2 1022.7L1408.7 1014.4L1411.6 1022.7L1414.5 1014.4L1416.4 1021.9L1418.4 1014.4L1419.5 1018.6L1420.6 1014.4L1422.5 1022.7"/>
<path class="ax" d="M259.5 884.2H271V1022.7H259.5"/>
<text class="tk" x="252.4" y="887.3">14</text>
<text class="tk" x="252.4" y="1025.8">0</text>
<text class="lab" x="73.3" y="959.4">GSM2481686</text>
<path class="f" d="M270.1 1176.6L270.1 1164.7L271.9 1097.5L272.6 1097.5L274.4 1170.7L275.0 1176.6L278.0 1117.3L279.9 1174.4L281.9 1137.0L283.1 1169.9L284.4 1137.0L285.6 1166.8L286.8 1156.8L288.7 1173.5L290.7 1156.8L291.0 1164.7L292.8 1097.5L293.5 1097.5L295.3 1156.8L297.3 1156.8L298.4 1168.2L299.5 1156.8L300.8 1167.3L302.1 1117.3L303.1 1117.3L305.4 1175.9L307.7 1137.0L309.1 1176.6L310.9 1117.3L311.6 1117.3L313.2 1164.7L315.0 1097.5L315.7 1097.5L317.4 1176.6L318.4 1156.8L320.3 1156.8L321.5 1170.1L322.7 1156.8L323.9 1172.5L325.2 1117.3L326.2 1166.3L327.3 1156.8L332.6 1176.6L337.9 1156.8L339.3 1164.7L340.8 1097.5L341.5 1097.5L343.1 1156.8L344.2 1156.8L346.2 1172.8L348.1 1137.0L350.3 1174.8L352.3 1156.8L354.0 1077.7L354.7 1077.7L356.4 1156.8L357.2 1137.0L360.0 1176.6L362.8 1156.8L365.2 1176.1L367.7 1137.0L368.8 1167.9L369.9 1156.8L370.8 1156.8L372.5 1171.5L374.2 1156.8L376.7 1176.6L379.1 1170.7L380.7 1117.3L381.4 1117.3L383.1 1176.6L384.2 1173.5L386.1 1137.0L387.5 1165.7L388.9 1117.3L389.6 1117.3L391.0 1176.6L392.9 1172.6L394.9 1137.0L396.9 1174.6L399.0 1156.8L400.7 1156.8L402.0 1176.6L403.4 1117.3L404.1 1117.3L405.5 1156.8L406.8 1156.8L408.8 1174.6L410.9 1137.0L412.3 1169.3L413.7 1117.3L415.1 1171.2L416.5 1156.8L418.5 1173.5L420.5 1137.0L422.1 1176.6L423.8 1117.3L424.5 1117.3L426.3 1156.8L427.5 1176.6L434.4 1137.0L436.4 1174.6L438.5 1137.0L440.5 1175.4L442.1 1176.6L443.8 1097.5L444.5 1097.5L446.2 1156.8L447.6 1176.6L450.5 1156.8L451.7 1173.3L452.8 1156.8L453.9 1168.4L455.0 1137.0L456.0 1137.0L457.3 1172.5L458.5 1156.8L460.8 1175.6L462.1 1170.7L463.7 1117.3L464.4 1117.3L466.1 1156.8L466.7 1156.8L468.3 1117.3L469.0 1117.3L470.5 1170.7L472.9 1176.6L474.5 1164.7L476.0 1117.3L476.7 1117.3L478.3 1164.7L480.1 1097.5L480.8 1097.5L482.5 1156.8L483.5 1156.8L485.4 1156.8L487.8 1176.3L489.1 1176.6L490.9 1077.7L491.6 1077.7L493.4 1170.7L496.0 1176.3L496.4 1172.7L498.2 1097.5L498.9 1097.5L500.7 1176.6L501.1 1176.6L503.7 1156.8L504.8 1166.0L505.3 1156.8L506.8 1117.3L507.5 1117.3L509.0 1156.8L509.8 1156.8L511.1 1167.3L511.9 1160.4L513.6 1077.7L514.3 1077.7L516.0 1176.6L516.9 1156.8L517.9 1156.8L519.3 1172.7L520.0 1171.4L525.4 1136.9L527.1 1157.7L528.2 1157.7L529.5 1097.0L530.9 1156.8L532.2 1156.8L533.4 1163.2L535.4 1116.9L536.3 1136.9L537.7 1136.9L538.6 1154.1L540.4 1136.9L541.8 1162.3L543.4 1116.9L544.3 1136.9L545.2 1136.9L546.3 1146.9L547.4 1116.9L548.6 1126.0L549.5 1125.1L551.3 1097.0L552.5 1097.0L553.4 1057.5L554.9 1102.9L555.8 1102.9L556.7 1077.0L557.6 1094.3L558.8 1116.9L559.7 1117.4L560.8 1146.9L561.5 1146.9L562.4 1097.0L564.0 1158.7L565.4 1116.9L566.4 1117.4L567.6 1038.1L569.0 1119.7L569.9 1119.7L571.2 1097.0L572.4 1136.9L574.2 1136.9L575.5 1162.3L576.7 1156.8L578.0 1158.7L579.0 1136.9L579.7 1136.9L580.6 1162.3L581.7 1162.3L583.0 1097.0L584.0 1136.9L585.3 1136.9L586.7 1147.8L587.9 1136.9L589.4 1116.9L590.8 1156.8L592.1 1159.6L593.3 1156.8L594.6 1162.3L596.6 1136.9L598.7 1136.9L599.8 1156.8L601.1 1171.3L602.9 1137.0L605.6 1176.6L607.9 1170.7L609.3 1117.3L610.0 1117.3L611.4 1170.7L612.9 1156.8L614.1 1156.8L615.6 1170.9L617.2 1156.8L619.4 1172.7L621.1 1097.5L621.8 1097.5L623.5 1176.6L624.1 1176.5L626.6 1137.0L627.6 1170.7L629.3 1097.5L630.0 1097.5L631.6 1170.7L632.2 1174.2L634.0 1137.0L636.0 1137.0L637.7 1173.6L639.5 1156.8L640.6 1168.5L641.7 1156.8L643.4 1156.8L646.2 1176.6L648.9 1156.8L651.4 1176.6L653.9 1156.8L655.7 1172.4L657.0 1164.7L658.7 1117.3L659.4 1117.3L661.2 1164.7L662.3 1174.6L664.3 1156.8L665.7 1156.8L668.3 1176.6L670.8 1156.8L673.6 1176.6L676.4 1156.8L679.4 1176.6L682.5 1137.0L684.2 1137.0L687.2 1176.6L690.2 1137.0L691.6 1170.9L693.0 1156.8L694.5 1156.8L695.7 1170.5L697.0 1156.8L697.9 1156.8L699.1 1169.0L700.3 1156.8L701.8 1169.3L703.2 1156.8L704.5 1172.5L705.8 1137.0L706.9 1167.1L708.0 1137.0L708.8 1137.0L711.0 1176.6L712.7 1097.5L713.4 1097.5L715.1 1156.8L715.6 1176.2L717.2 1176.6L718.6 1117.3L719.3 1117.3L720.7 1156.8L721.7 1156.8L723.7 1156.8L725.4 1117.3L725.9 1164.7L727.7 1117.3L728.4 1117.3L729.7 1156.8L731.3 1117.3L732.0 1117.3L733.6 1164.7L734.6 1170.8L736.1 1137.0L738.6 1176.6L741.0 1137.0L742.5 1168.0L744.0 1117.3L744.7 1117.3L746.2 1156.8L746.4 1176.6L749.0 1156.8L750.3 1170.0L751.7 1137.0L753.1 1169.7L754.6 1156.8L756.5 1156.8L758.2 1170.4L759.8 1117.3L760.7 1176.6L762.6 1077.7L763.3 1077.7L765.2 1156.8L766.3 1174.5L768.4 1156.8L769.6 1167.2L770.8 1137.0L772.5 1172.2L773.9 1117.3L774.6 1117.3L776.0 1176.6L777.6 1117.3L778.3 1117.3L779.9 1156.8L781.2 1156.8L783.9 1176.6L786.6 1156.8L788.1 1170.2L789.8 1077.7L790.5 1077.7L792.2 1170.7L792.7 1176.0L793.2 1156.8L794.8 1117.3L795.5 1117.3L797.1 1156.8L799.9 1176.6L802.8 1156.8L804.3 1173.2L805.7 1137.0L808.8 1176.6L811.9 1156.8L813.3 1170.8L814.6 1156.8L817.2 1176.6L819.7 1137.0L821.8 1175.2L823.9 1137.0L826.2 1175.3L828.4 1137.0L829.4 1164.7L831.1 1097.5L831.8 1097.5L833.4 1164.7L834.8 1137.0L837.4 1176.6L840.1 1156.8L841.3 1168.1L842.5 1156.8L843.6 1168.4L844.7 1137.0L846.0 1137.0L848.7 1176.6L851.3 1156.8L853.5 1174.4L855.5 1157.8L856.9 1117.3L857.6 1117.3L859.1 1176.6L860.9 1164.7L862.8 1097.5L863.5 1097.5L865.4 1164.7L866.5 1176.6L869.1 1137.0L871.1 1175.2L873.1 1156.8L876.0 1176.6L878.9 1156.8L880.6 1156.8L881.7 1173.3L882.8 1156.8L883.9 1169.2L885.1 1137.0L886.3 1170.9L887.6 1137.0L888.7 1168.5L889.8 1137.0L891.3 1171.1L892.9 1137.0L894.0 1172.6L895.0 1137.0L896.4 1167.8L897.7 1137.0L898.4 1156.8L900.0 1117.3L900.7 1117.3L902.3 1164.7L903.2 1137.0L904.2 1137.0L906.3 1174.0L908.4 1137.0L909.5 1167.8L910.6 1137.0L913.6 1176.6L916.6 1156.8L918.1 1170.5L919.6 1137.0L921.5 1137.0L922.6 1165.6L923.7 1156.8L926.4 1172.7L927.7 1117.3L928.4 1117.3L929.7 1156.8L931.9 1176.1L934.3 1156.8L936.2 1172.3L938.0 1156.8L939.2 1168.1L940.4 1137.0L941.9 1172.7L943.5 1137.0L946.1 1176.6L948.8 1156.8L951.5 1176.6L954.3 1137.0L956.6 1175.0L957.7 1156.8L959.4 1117.3L960.1 1117.3L961.8 1164.7L963.8 1137.0L964.7 1137.0L966.5 1173.5L968.4 1156.8L970.1 1156.8L972.0 1172.2L973.9 1156.8L975.2 1158.0L976.7 1117.3L977.4 1117.3L978.8 1170.7L980.3 1137.0L982.7 1176.1L985.2 1137.0L987.4 1156.8L988.9 1117.3L989.6 1117.3L991.1 1170.7L991.6 1171.6L992.7 1137.0L995.8 1176.6L998.8 1137.0L1000.1 1137.0L1001.2 1171.3L1002.4 1156.8L1003.8 1156.8L1005.1 1168.6L1006.4 1156.8L1007.3 1156.8L1008.7 1170.0L1010.1 1156.8L1013.9 1176.6L1017.8 1137.0L1020.7 1176.6L1023.6 1156.8L1024.5 1156.8L1026.6 1175.4L1028.7 1137.0L1029.7 1137.0L1032.1 1176.1L1034.5 1156.8L1035.5 1156.8L1037.0 1169.9L1038.5 1156.8L1039.3 1156.8L1042.2 1176.6L1044.5 1176.6L1046.0 1117.3L1046.7 1117.3L1047.3 1176.6L1049.2 1097.5L1049.9 1097.5L1051.8 1176.6L1054.0 1137.0L1055.5 1173.4L1057.0 1156.8L1058.1 1172.5L1059.3 1156.8L1061.8 1176.6L1064.3 1156.8L1066.1 1156.8L1067.5 1167.8L1068.9 1137.0L1070.0 1137.0L1072.4 1175.9L1074.8 1156.8L1076.3 1156.8L1077.4 1166.0L1078.6 1137.0L1081.6 1176.6L1082.2 1156.8L1084.1 1077.7L1084.8 1077.7L1086.7 1176.6L1087.1 1172.7L1088.6 1117.3L1089.3 1117.3L1090.8 1170.7L1091.1 1137.0L1093.4 1175.3L1093.7 1164.7L1095.4 1097.5L1096.1 1170.7L1097.7 1057.9L1098.4 1057.9L1100.0 1164.7L1101.2 1167.6L1101.5 1164.1L1103.1 1117.3L1103.8 1117.3L1105.5 1156.8L1106.9 1174.9L1109.0 1137.0L1110.4 1168.5L1111.8 1156.8L1113.2 1171.4L1114.6 1156.8L1115.9 1173.6L1117.1 1156.8L1118.4 1171.1L1119.7 1137.0L1120.0 1176.6L1121.7 1117.3L1122.4 1117.3L1124.2 1156.8L1124.9 1176.6L1127.7 1164.7L1129.4 1097.5L1130.1 1097.5L1131.9 1156.8L1132.6 1176.6L1135.4 1117.3L1136.5 1166.6L1137.7 1156.8L1139.6 1156.8L1141.0 1173.0L1142.3 1156.8L1144.2 1172.4L1146.1 1156.8L1147.6 1156.8L1148.8 1167.4L1150.3 1170.7L1151.7 1117.3L1152.4 1117.3L1153.8 1156.8L1154.8 1137.0L1157.3 1176.6L1159.8 1137.0L1161.6 1137.0L1162.5 1176.6L1163.9 1117.3L1164.6 1117.3L1166.1 1164.7L1166.3 1173.1L1168.1 1156.8L1170.7 1176.6L1173.3 1137.0L1174.6 1167.8L1175.9 1156.8L1178.8 1176.6L1181.7 1156.8L1184.4 1170.7L1186.1 1097.5L1186.8 1097.5L1188.5 1156.8L1189.9 1174.4L1191.9 1156.8L1193.4 1170.4L1195.0 1156.8L1196.2 1166.6L1197.4 1156.8L1198.8 1169.4L1200.1 1156.8L1202.5 1175.8L1204.8 1156.8L1207.5 1176.6L1210.1 1156.8L1211.3 1168.8L1212.6 1156.8L1213.6 1156.8L1215.1 1171.7L1216.5 1156.8L1217.6 1156.8L1219.3 1174.0L1221.0 1156.8L1222.8 1156.8L1223.9 1168.1L1224.9 1137.0L1227.8 1176.6L1230.7 1156.8L1231.8 1168.0L1233.0 1156.8L1233.9 1156.8L1236.6 1176.6L1238.0 1156.8L1239.7 1117.3L1240.3 1117.3L1242.0 1156.8L1244.1 1137.0L1245.1 1137.0L1246.8 1173.5L1248.5 1137.0L1249.9 1172.2L1251.4 1156.8L1253.1 1174.3L1254.8 1137.0L1256.1 1172.1L1257.4 1156.8L1259.0 1170.2L1260.7 1156.8L1261.8 1167.7L1262.8 1137.0L1264.3 1169.2L1265.8 1137.0L1268.5 1176.6L1270.7 1156.8L1272.3 1117.3L1273.0 1117.3L1274.6 1156.8L1275.4 1173.2L1276.8 1156.8L1279.2 1176.2L1281.5 1137.0L1282.9 1169.8L1284.3 1137.0L1285.7 1137.0L1287.2 1169.9L1288.6 1137.0L1290.0 1171.9L1291.9 1156.8L1293.6 1117.3L1294.3 1117.3L1296.0 1176.6L1297.4 1156.8L1299.0 1156.8L1302.2 1176.6L1305.3 1137.0L1307.0 1173.4L1308.7 1137.0L1310.0 1167.6L1311.4 1137.0L1312.8 1137.0L1315.0 1175.6L1317.3 1137.0L1320.0 1176.6L1322.7 1137.0L1325.3 1176.6L1328.0 1156.8L1331.0 1176.6L1334.1 1137.0L1335.8 1170.9L1337.3 1156.8L1339.0 1097.5L1339.7 1097.5L1341.3 1156.8L1341.9 1170.7L1343.5 1077.7L1344.2 1077.7L1344.4 1164.7L1345.8 1117.3L1346.4 1176.6L1348.0 1117.3L1348.7 1117.3L1350.4 1164.7L1353.0 1176.6L1356.1 1156.8L1357.0 1156.8L1359.6 1176.6L1362.3 1156.8L1363.7 1171.5L1365.1 1156.8L1366.7 1176.6L1368.4 1117.3L1369.1 1117.3L1370.9 1176.6L1372.1 1137.0L1377.4 1176.6L1382.7 1156.8L1383.9 1173.4L1385.1 1137.0L1386.6 1137.0L1387.7 1171.3L1388.8 1137.0L1389.9 1172.2L1391.0 1156.8L1392.5 1172.5L1394.0 1137.0L1395.1 1137.0L1396.6 1172.1L1398.1 1156.8L1399.9 1164.7L1401.6 1117.3L1402.3 1117.3L1403.9 1156.8L1404.3 1172.9L1406.0 1156.8L1407.2 1171.2L1408.3 1137.0L1410.0 1137.0L1411.8 1173.2L1413.7 1156.8L1415.5 1156.8L1417.3 1172.3L1419.0 1156.8L1420.2 1169.6L1421.4 1156.8L1422.0 1176.6L1422.0 1176.6Z"/><path class="s" d="M270.1 1164.7L271.9 1097.5L272.6 1097.5L274.4 1170.7L275.0 1176.6L278.0 1117.3L279.9 1174.4L281.9 1137.0L283.1 1169.9L284.4 1137.0L285.6 1166.8L286.8 1156.8L288.7 1173.5L290.7 1156.8L291.0 1164.7L292.8 1097.5L293.5 1097.5L295.3 1156.8L297.3 1156.8L298.4 1168.2L299.5 1156.8L300.8 1167.3L302.1 1117.3L303.1 1117.3L305.4 1175.9L307.7 1137.0L309.1 1176.6L310.9 1117.3L311.6 1117.3L313.2 1164.7L315.0 1097.5L315.7 1097.5L317.4 1176.6L318.4 1156.8L320.3 1156.8L321.5 1170.1L322.7 1156.8L323.9 1172.5L325.2 1117.3L326.2 1166.3L327.3 1156.8L332.6 1176.6L337.9 1156.8L339.3 1164.7L340.8 1097.5L341.5 1097.5L343.1 1156.8L344.2 1156.8L346.2 1172.8L348.1 1137.0L350.3 1174.8L352.3 1156.8L354.0 1077.7L354.7 1077.7L356.4 1156.8L357.2 1137.0L360.0 1176.6L362.8 1156.8L365.2 1176.1L367.7 1137.0L368.8 1167.9L369.9 1156.8L370.8 1156.8L372.5 1171.5L374.2 1156.8L376.7 1176.6L379.1 1170.7L380.7 1117.3L381.4 1117.3L383.1 1176.6L384.2 1173.5L386.1 1137.0L387.5 1165.7L388.9 1117.3L389.6 1117.3L391.0 1176.6L392.9 1172.6L394.9 1137.0L396.9 1174.6L399.0 1156.8L400.7 1156.8L402.0 1176.6L403.4 1117.3L404.1 1117.3L405.5 1156.8L406.8 1156.8L408.8 1174.6L410.9 1137.0L412.3 1169.3L413.7 1117.3L415.1 1171.2L416.5 1156.8L418.5 1173.5L420.5 1137.0L422.1 1176.6L423.8 1117.3L424.5 1117.3L426.3 1156.8L427.5 1176.6L434.4 1137.0L436.4 1174.6L438.5 1137.0L440.5 1175.4L442.1 1176.6L443.8 1097.5L444.5 1097.5L446.2 1156.8L447.6 1176.6L450.5 1156.8L451.7 1173.3L452.8 1156.8L453.9 1168.4L455.0 1137.0L456.0 1137.0L457.3 1172.5L458.5 1156.8L460.8 1175.6L462.1 1170.7L463.7 1117.3L464.4 1117.3L466.1 1156.8L466.7 1156.8L468.3 1117.3L469.0 1117.3L470.5 1170.7L472.9 1176.6L474.5 1164.7L476.0 1117.3L476.7 1117.3L478.3 1164.7L480.1 1097.5L480.8 1097.5L482.5 1156.8L483.5 1156.8L485.4 1156.8L487.8 1176.3L489.1 1176.6L490.9 1077.7L491.6 1077.7L493.4 1170.7L496.0 1176.3L496.4 1172.7L498.2 1097.5L498.9 1097.5L500.7 1176.6L501.1 1176.6L503.7 1156.8L504.8 1166.0L505.3 1156.8L506.8 1117.3L507.5 1117.3L509.0 1156.8L509.8 1156.8L511.1 1167.3L511.9 1160.4L513.6 1077.7L514.3 1077.7L516.0 1176.6L516.9 1156.8L517.9 1156.8L519.3 1172.7L520.0 1171.4L525.4 1136.9L527.1 1157.7L528.2 1157.7L529.5 1097.0L530.9 1156.8L532.2 1156.8L533.4 1163.2L535.4 1116.9L536.3 1136.9L537.7 1136.9L538.6 1154.1L540.4 1136.9L541.8 1162.3L543.4 1116.9L544.3 1136.9L545.2 1136.9L546.3 1146.9L547.4 1116.9L548.6 1126.0L549.5 1125.1L551.3 1097.0L552.5 1097.0L553.4 1057.5L554.9 1102.9L555.8 1102.9L556.7 1077.0L557.6 1094.3L558.8 1116.9L559.7 1117.4L560.8 1146.9L561.5 1146.9L562.4 1097.0L564.0 1158.7L565.4 1116.9L566.4 1117.4L567.6 1038.1L569.0 1119.7L569.9 1119.7L571.2 1097.0L572.4 1136.9L574.2 1136.9L575.5 1162.3L576.7 1156.8L578.0 1158.7L579.0 1136.9L579.7 1136.9L580.6 1162.3L581.7 1162.3L583.0 1097.0L584.0 1136.9L585.3 1136.9L586.7 1147.8L587.9 1136.9L589.4 1116.9L590.8 1156.8L592.1 1159.6L593.3 1156.8L594.6 1162.3L596.6 1136.9L598.7 1136.9L599.8 1156.8L601.1 1171.3L602.9 1137.0L605.6 1176.6L607.9 1170.7L609.3 1117.3L610.0 1117.3L611.4 1170.7L612.9 1156.8L614.1 1156.8L615.6 1170.9L617.2 1156.8L619.4 1172.7L621.1 1097.5L621.8 1097.5L623.5 1176.6L624.1 1176.5L626.6 1137.0L627.6 1170.7L629.3 1097.5L630.0 1097.5L631.6 1170.7L632.2 1174.2L634.0 1137.0L636.0 1137.0L637.7 1173.6L639.5 1156.8L640.6 1168.5L641.7 1156.8L643.4 1156.8L646.2 1176.6L648.9 1156.8L651.4 1176.6L653.9 1156.8L655.7 1172.4L657.0 1164.7L658.7 1117.3L659.4 1117.3L661.2 1164.7L662.3 1174.6L664.3 1156.8L665.7 1156.8L668.3 1176.6L670.8 1156.8L673.6 1176.6L676.4 1156.8L679.4 1176.6L682.5 1137.0L684.2 1137.0L687.2 1176.6L690.2 1137.0L691.6 1170.9L693.0 1156.8L694.5 1156.8L695.7 1170.5L697.0 1156.8L697.9 1156.8L699.1 1169.0L700.3 1156.8L701.8 1169.3L703.2 1156.8L704.5 1172.5L705.8 1137.0L706.9 1167.1L708.0 1137.0L708.8 1137.0L711.0 1176.6L712.7 1097.5L713.4 1097.5L715.1 1156.8L715.6 1176.2L717.2 1176.6L718.6 1117.3L719.3 1117.3L720.7 1156.8L721.7 1156.8L723.7 1156.8L725.4 1117.3L725.9 1164.7L727.7 1117.3L728.4 1117.3L729.7 1156.8L731.3 1117.3L732.0 1117.3L733.6 1164.7L734.6 1170.8L736.1 1137.0L738.6 1176.6L741.0 1137.0L742.5 1168.0L744.0 1117.3L744.7 1117.3L746.2 1156.8L746.4 1176.6L749.0 1156.8L750.3 1170.0L751.7 1137.0L753.1 1169.7L754.6 1156.8L756.5 1156.8L758.2 1170.4L759.8 1117.3L760.7 1176.6L762.6 1077.7L763.3 1077.7L765.2 1156.8L766.3 1174.5L768.4 1156.8L769.6 1167.2L770.8 1137.0L772.5 1172.2L773.9 1117.3L774.6 1117.3L776.0 1176.6L777.6 1117.3L778.3 1117.3L779.9 1156.8L781.2 1156.8L783.9 1176.6L786.6 1156.8L788.1 1170.2L789.8 1077.7L790.5 1077.7L792.2 1170.7L792.7 1176.0L793.2 1156.8L794.8 1117.3L795.5 1117.3L797.1 1156.8L799.9 1176.6L802.8 1156.8L804.3 1173.2L805.7 1137.0L808.8 1176.6L811.9 1156.8L813.3 1170.8L814.6 1156.8L817.2 1176.6L819.7 1137.0L821.8 1175.2L823.9 1137.0L826.2 1175.3L828.4 1137.0L829.4 1164.7L831.1 1097.5L831.8 1097.5L833.4 1164.7L834.8 1137.0L837.4 1176.6L840.1 1156.8L841.3 1168.1L842.5 1156.8L843.6 1168.4L844.7 1137.0L846.0 1137.0L848.7 1176.6L851.3 1156.8L853.5 1174.4L855.5 1157.8L856.9 1117.3L857.6 1117.3L859.1 1176.6L860.9 1164.7L862.8 1097.5L863.5 1097.5L865.4 1164.7L866.5 1176.6L869.1 1137.0L871.1 1175.2L873.1 1156.8L876.0 1176.6L878.9 1156.8L880.6 1156.8L881.7 1173.3L882.8 1156.8L883.9 1169.2L885.1 1137.0L886.3 1170.9L887.6 1137.0L888.7 1168.5L889.8 1137.0L891.3 1171.1L892.9 1137.0L894.0 1172.6L895.0 1137.0L896.4 1167.8L897.7 1137.0L898.4 1156.8L900.0 1117.3L900.7 1117.3L902.3 1164.7L903.2 1137.0L904.2 1137.0L906.3 1174.0L908.4 1137.0L909.5 1167.8L910.6 1137.0L913.6 1176.6L916.6 1156.8L918.1 1170.5L919.6 1137.0L921.5 1137.0L922.6 1165.6L923.7 1156.8L926.4 1172.7L927.7 1117.3L928.4 1117.3L929.7 1156.8L931.9 1176.1L934.3 1156.8L936.2 1172.3L938.0 1156.8L939.2 1168.1L940.4 1137.0L941.9 1172.7L943.5 1137.0L946.1 1176.6L948.8 1156.8L951.5 1176.6L954.3 1137.0L956.6 1175.0L957.7 1156.8L959.4 1117.3L960.1 1117.3L961.8 1164.7L963.8 1137.0L964.7 1137.0L966.5 1173.5L968.4 1156.8L970.1 1156.8L972.0 1172.2L973.9 1156.8L975.2 1158.0L976.7 1117.3L977.4 1117.3L978.8 1170.7L980.3 1137.0L982.7 1176.1L985.2 1137.0L987.4 1156.8L988.9 1117.3L989.6 1117.3L991.1 1170.7L991.6 1171.6L992.7 1137.0L995.8 1176.6L998.8 1137.0L1000.1 1137.0L1001.2 1171.3L1002.4 1156.8L1003.8 1156.8L1005.1 1168.6L1006.4 1156.8L1007.3 1156.8L1008.7 1170.0L1010.1 1156.8L1013.9 1176.6L1017.8 1137.0L1020.7 1176.6L1023.6 1156.8L1024.5 1156.8L1026.6 1175.4L1028.7 1137.0L1029.7 1137.0L1032.1 1176.1L1034.5 1156.8L1035.5 1156.8L1037.0 1169.9L1038.5 1156.8L1039.3 1156.8L1042.2 1176.6L1044.5 1176.6L1046.0 1117.3L1046.7 1117.3L1047.3 1176.6L1049.2 1097.5L1049.9 1097.5L1051.8 1176.6L1054.0 1137.0L1055.5 1173.4L1057.0 1156.8L1058.1 1172.5L1059.3 1156.8L1061.8 1176.6L1064.3 1156.8L1066.1 1156.8L1067.5 1167.8L1068.9 1137.0L1070.0 1137.0L1072.4 1175.9L1074.8 1156.8L1076.3 1156.8L1077.4 1166.0L1078.6 1137.0L1081.6 1176.6L1082.2 1156.8L1084.1 1077.7L1084.8 1077.7L1086.7 1176.6L1087.1 1172.7L1088.6 1117.3L1089.3 1117.3L1090.8 1170.7L1091.1 1137.0L1093.4 1175.3L1093.7 1164.7L1095.4 1097.5L1096.1 1170.7L1097.7 1057.9L1098.4 1057.9L1100.0 1164.7L1101.2 1167.6L1101.5 1164.1L1103.1 1117.3L1103.8 1117.3L1105.5 1156.8L1106.9 1174.9L1109.0 1137.0L1110.4 1168.5L1111.8 1156.8L1113.2 1171.4L1114.6 1156.8L1115.9 1173.6L1117.1 1156.8L1118.4 1171.1L1119.7 1137.0L1120.0 1176.6L1121.7 1117.3L1122.4 1117.3L1124.2 1156.8L1124.9 1176.6L1127.7 1164.7L1129.4 1097.5L1130.1 1097.5L1131.9 1156.8L1132.6 1176.6L1135.4 1117.3L1136.5 1166.6L1137.7 1156.8L1139.6 1156.8L1141.0 1173.0L1142.3 1156.8L1144.2 1172.4L1146.1 1156.8L1147.6 1156.8L1148.8 1167.4L1150.3 1170.7L1151.7 1117.3L1152.4 1117.3L1153.8 1156.8L1154.8 1137.0L1157.3 1176.6L1159.8 1137.0L1161.6 1137.0L1162.5 1176.6L1163.9 1117.3L1164.6 1117.3L1166.1 1164.7L1166.3 1173.1L1168.1 1156.8L1170.7 1176.6L1173.3 1137.0L1174.6 1167.8L1175.9 1156.8L1178.8 1176.6L1181.7 1156.8L1184.4 1170.7L1186.1 1097.5L1186.8 1097.5L1188.5 1156.8L1189.9 1174.4L1191.9 1156.8L1193.4 1170.4L1195.0 1156.8L1196.2 1166.6L1197.4 1156.8L1198.8 1169.4L1200.1 1156.8L1202.5 1175.8L1204.8 1156.8L1207.5 1176.6L1210.1 1156.8L1211.3 1168.8L1212.6 1156.8L1213.6 1156.8L1215.1 1171.7L1216.5 1156.8L1217.6 1156.8L1219.3 1174.0L1221.0 1156.8L1222.8 1156.8L1223.9 1168.1L1224.9 1137.0L1227.8 1176.6L1230.7 1156.8L1231.8 1168.0L1233.0 1156.8L1233.9 1156.8L1236.6 1176.6L1238.0 1156.8L1239.7 1117.3L1240.3 1117.3L1242.0 1156.8L1244.1 1137.0L1245.1 1137.0L1246.8 1173.5L1248.5 1137.0L1249.9 1172.2L1251.4 1156.8L1253.1 1174.3L1254.8 1137.0L1256.1 1172.1L1257.4 1156.8L1259.0 1170.2L1260.7 1156.8L1261.8 1167.7L1262.8 1137.0L1264.3 1169.2L1265.8 1137.0L1268.5 1176.6L1270.7 1156.8L1272.3 1117.3L1273.0 1117.3L1274.6 1156.8L1275.4 1173.2L1276.8 1156.8L1279.2 1176.2L1281.5 1137.0L1282.9 1169.8L1284.3 1137.0L1285.7 1137.0L1287.2 1169.9L1288.6 1137.0L1290.0 1171.9L1291.9 1156.8L1293.6 1117.3L1294.3 1117.3L1296.0 1176.6L1297.4 1156.8L1299.0 1156.8L1302.2 1176.6L1305.3 1137.0L1307.0 1173.4L1308.7 1137.0L1310.0 1167.6L1311.4 1137.0L1312.8 1137.0L1315.0 1175.6L1317.3 1137.0L1320.0 1176.6L1322.7 1137.0L1325.3 1176.6L1328.0 1156.8L1331.0 1176.6L1334.1 1137.0L1335.8 1170.9L1337.3 1156.8L1339.0 1097.5L1339.7 1097.5L1341.3 1156.8L1341.9 1170.7L1343.5 1077.7L1344.2 1077.7L1344.4 1164.7L1345.8 1117.3L1346.4 1176.6L1348.0 1117.3L1348.7 1117.3L1350.4 1164.7L1353.0 1176.6L1356.1 1156.8L1357.0 1156.8L1359.6 1176.6L1362.3 1156.8L1363.7 1171.5L1365.1 1156.8L1366.7 1176.6L1368.4 1117.3L1369.1 1117.3L1370.9 1176.6L1372.1 1137.0L1377.4 1176.6L1382.7 1156.8L1383.9 1173.4L1385.1 1137.0L1386.6 1137.0L1387.7 1171.3L1388.8 1137.0L1389.9 1172.2L1391.0 1156.8L1392.5 1172.5L1394.0 1137.0L1395.1 1137.0L1396.6 1172.1L1398.1 1156.8L1399.9 1164.7L1401.6 1117.3L1402.3 1117.3L1403.9 1156.8L1404.3 1172.9L1406.0 1156.8L1407.2 1171.2L1408.3 1137.0L1410.0 1137.0L1411.8 1173.2L1413.7 1156.8L1415.5 1156.8L1417.3 1172.3L1419.0 1156.8L1420.2 1169.6L1421.4 1156.8L1422.0 1176.6"/>
<path class="ax" d="M259.5 1038.1H271V1176.6H259.5"/>
<text class="tk" x="252.4" y="1041.2">9</text>
<text class="tk" x="252.4" y="1179.7">0</text>
<text class="lab" x="73.3" y="1113.3">GSM2481685</text>
<path class="f" d="M271.4 1330.5L271.4 1305.6L272.3 1307.4L273.6 1304.2L274.5 1311.0L275.4 1320.1L276.3 1319.2L278.4 1304.2L279.5 1309.2L281.3 1312.0L282.7 1312.0L284.1 1321.9L286.3 1324.6L287.7 1321.0L289.0 1321.5L290.4 1311.0L291.5 1310.1L293.1 1315.1L294.0 1319.7L295.4 1320.1L296.8 1324.2L298.1 1321.0L299.5 1321.0L300.4 1327.4L302.2 1324.2L304.0 1325.6L307.6 1326.0L311.3 1325.6L314.4 1329.2L317.6 1322.4L319.4 1327.4L322.6 1327.4L326.2 1325.6L328.5 1328.7L332.1 1328.3L334.8 1324.2L338.5 1324.6L341.2 1323.7L342.6 1316.5L343.9 1320.1L344.8 1320.1L345.6 1323.7L347.0 1321.5L347.9 1324.3L349.0 1326.2L350.2 1328.3L351.3 1327.8L352.5 1327.2L353.6 1327.0L354.8 1326.6L355.9 1327.4L357.1 1328.4L358.2 1328.5L359.4 1328.6L360.5 1329.2L361.7 1329.2L362.8 1327.7L364.0 1327.6L365.1 1328.6L366.3 1329.6L367.4 1329.5L368.6 1329.6L369.7 1329.8L370.9 1329.8L372.0 1329.5L373.2 1329.0L374.3 1329.4L375.5 1328.7L376.6 1328.3L377.8 1328.3L378.9 1329.2L380.1 1329.8L381.2 1329.0L382.4 1328.9L383.5 1329.2L384.7 1329.6L385.8 1329.0L387.0 1328.6L388.1 1329.0L389.3 1329.3L390.4 1328.7L391.6 1327.6L392.7 1326.8L393.9 1326.9L395.0 1327.7L396.2 1328.2L397.3 1328.4L398.5 1328.7L399.6 1328.6L400.8 1329.0L401.9 1328.2L403.1 1328.5L404.2 1327.6L405.4 1328.5L406.5 1328.2L407.7 1328.4L408.8 1327.4L410.0 1327.1L411.1 1325.0L412.3 1326.7L413.4 1329.0L414.6 1329.0L415.7 1328.0L416.9 1328.2L418.0 1328.4L419.2 1328.7L420.3 1328.2L421.5 1329.2L422.6 1329.5L423.8 1329.2L424.9 1328.8L426.1 1329.0L427.2 1329.8L428.4 1329.6L429.5 1329.5L430.7 1329.7L431.8 1329.9L433.0 1329.7L434.1 1329.2L435.3 1328.2L436.4 1327.4L437.6 1327.4L438.7 1327.6L439.9 1327.4L441.0 1327.6L442.2 1329.0L443.3 1329.9L444.5 1329.8L445.6 1328.9L446.8 1327.9L447.9 1326.7L449.1 1329.1L450.2 1330.1L451.4 1329.8L452.5 1329.4L453.7 1328.4L454.8 1327.3L456.0 1327.1L457.1 1327.3L458.3 1327.6L459.4 1327.3L460.6 1327.9L461.7 1328.7L462.9 1329.7L464.0 1330.0L465.2 1329.7L466.3 1329.8L467.5 1328.8L468.6 1328.9L469.8 1328.2L470.9 1326.8L472.1 1324.7L473.2 1327.5L474.4 1328.2L475.5 1328.5L476.7 1328.9L477.8 1328.9L479.0 1329.6L480.1 1330.2L481.3 1330.2L482.4 1329.4L483.6 1328.9L484.7 1328.1L485.9 1328.5L487.0 1327.9L488.2 1326.7L489.3 1328.2L490.5 1328.5L491.6 1328.7L492.8 1330.0L493.9 1330.1L495.1 1328.8L496.2 1328.3L497.4 1328.5L498.5 1328.3L499.7 1328.0L500.8 1327.8L502.0 1328.5L503.1 1329.0L504.3 1329.6L505.4 1329.5L506.6 1329.5L507.7 1328.9L508.9 1328.8L510.0 1328.2L511.2 1328.9L512.3 1328.7L513.5 1328.5L514.6 1327.6L515.8 1328.1L516.9 1329.4L518.1 1329.9L519.2 1329.4L520.0 1326.8L521.8 1325.9L522.7 1326.8L524.5 1322.7L527.3 1325.0L529.5 1326.8L530.9 1323.2L532.7 1318.7L534.1 1318.2L535.4 1315.0L536.3 1324.1L538.1 1323.2L539.3 1316.8L541.3 1320.5L542.2 1311.4L543.8 1307.8L544.3 1291.5L544.9 1273.3L545.9 1266.1L546.5 1238.8L547.7 1234.3L548.6 1200.7L549.8 1200.3L550.5 1192.0L551.8 1204.4L554.0 1205.3L554.9 1228.0L555.6 1255.2L556.3 1273.3L556.7 1288.7L557.4 1288.7L558.5 1269.7L559.5 1267.0L560.4 1250.2L561.3 1264.2L562.2 1286.9L562.8 1299.6L563.7 1300.5L564.9 1311.4L566.3 1314.1L567.6 1312.3L568.5 1320.5L569.9 1321.4L571.7 1318.2L573.1 1318.7L573.7 1311.9L574.4 1311.9L575.3 1319.6L576.7 1321.4L579.0 1320.5L581.0 1319.1L582.1 1306.9L583.5 1302.3L584.5 1293.7L585.5 1305.1L586.7 1313.2L587.3 1319.6L588.9 1317.8L590.3 1315.0L592.1 1318.7L593.0 1324.1L594.8 1322.7L597.5 1324.1L598.9 1327.7L599.7 1328.1L600.9 1328.8L602.0 1328.6L603.2 1328.3L604.3 1328.7L605.5 1326.6L606.6 1328.1L607.8 1327.9L608.9 1327.7L610.1 1327.6L611.2 1327.9L612.4 1327.7L613.5 1327.3L614.7 1327.0L615.8 1323.2L617.0 1318.3L618.1 1315.4L619.3 1313.9L620.0 1312.5L621.6 1317.8L622.7 1325.1L623.9 1328.8L625.0 1320.3L626.2 1318.0L627.0 1314.5L628.5 1316.9L629.6 1320.0L630.8 1323.5L631.9 1327.0L633.1 1328.1L634.2 1329.5L635.4 1328.5L636.5 1328.5L637.7 1328.7L638.8 1329.6L640.0 1329.5L641.1 1328.9L642.3 1327.8L643.4 1327.0L644.6 1327.4L645.7 1327.8L646.9 1328.0L648.0 1328.2L649.2 1328.4L650.3 1328.1L651.5 1327.8L652.6 1328.7L653.8 1329.5L654.9 1328.7L656.1 1328.5L657.2 1328.2L658.4 1327.9L659.5 1327.1L660.7 1327.8L661.8 1328.6L663.0 1329.4L664.1 1329.2L665.3 1328.7L666.4 1328.7L667.6 1329.1L668.7 1328.7L669.9 1328.7L671.0 1328.5L672.2 1329.1L673.3 1329.0L674.5 1329.2L675.6 1328.8L676.8 1329.4L677.9 1328.8L679.1 1327.8L680.2 1327.1L681.4 1328.1L682.5 1328.9L683.7 1328.3L684.8 1328.4L686.0 1328.2L687.1 1327.9L688.3 1326.7L689.4 1326.7L690.6 1327.5L691.7 1328.6L692.9 1328.6L694.0 1327.8L695.2 1325.9L696.0 1324.5L697.5 1327.2L698.6 1329.1L699.8 1330.0L700.9 1328.8L702.1 1328.2L703.2 1328.2L704.4 1328.8L705.5 1328.1L706.7 1328.0L707.8 1328.1L709.0 1328.3L710.1 1327.9L711.3 1328.0L712.4 1328.9L713.6 1328.8L714.7 1327.2L716.0 1324.5L717.0 1326.4L718.2 1328.6L719.3 1328.8L720.5 1328.5L721.6 1328.7L722.8 1329.9L723.9 1329.4L725.1 1328.8L726.2 1328.8L727.4 1329.5L728.5 1329.6L729.7 1328.7L730.8 1327.9L732.0 1327.8L733.1 1328.7L734.3 1329.0L735.4 1329.3L736.6 1328.7L737.7 1328.0L738.9 1328.1L740.0 1328.8L741.2 1328.4L742.3 1328.1L743.5 1328.8L744.6 1329.5L745.8 1329.7L746.9 1330.0L748.1 1330.2L749.2 1329.9L750.4 1329.9L751.5 1329.9L752.7 1329.6L753.8 1328.4L755.0 1327.5L756.1 1328.0L757.3 1328.3L758.4 1328.9L759.6 1328.2L760.7 1328.5L761.9 1328.7L763.0 1329.2L764.2 1326.7L765.3 1328.4L766.5 1328.0L767.6 1328.6L768.8 1329.0L769.9 1329.1L771.1 1328.4L772.2 1328.1L773.4 1329.0L774.5 1329.0L775.7 1329.2L776.8 1329.5L778.0 1329.9L779.1 1329.8L780.3 1328.9L781.4 1326.9L782.6 1328.5L783.7 1329.6L784.9 1329.0L786.0 1327.6L787.2 1327.5L788.3 1327.8L789.5 1328.2L790.6 1328.6L791.8 1329.9L792.9 1330.4L794.1 1330.4L795.2 1326.5L796.4 1328.7L797.5 1327.6L798.7 1327.7L799.8 1327.9L801.0 1328.0L802.1 1327.4L803.3 1327.4L804.4 1327.1L805.6 1328.0L806.7 1329.2L807.9 1330.0L809.0 1329.5L810.2 1328.5L811.3 1327.8L812.5 1328.3L813.6 1326.8L814.8 1328.0L815.9 1327.3L817.1 1327.0L818.2 1328.0L819.4 1328.0L820.5 1328.6L821.7 1327.9L822.8 1327.6L824.0 1327.8L825.1 1329.2L826.3 1330.3L827.4 1329.2L828.6 1327.8L829.7 1326.6L830.9 1327.6L832.0 1327.9L833.2 1327.6L834.3 1326.6L835.5 1326.9L836.6 1327.6L837.8 1328.6L838.9 1329.5L840.1 1329.3L841.2 1329.3L842.4 1329.6L843.5 1329.1L844.7 1328.5L845.8 1328.9L847.0 1329.4L848.1 1328.4L849.3 1328.2L850.4 1328.5L851.6 1328.3L852.7 1328.1L853.9 1328.5L855.0 1329.5L856.2 1329.6L857.3 1329.9L858.5 1329.7L859.6 1329.6L860.8 1329.7L861.9 1328.8L863.1 1327.9L864.2 1328.0L865.4 1328.1L866.5 1327.7L867.7 1327.6L868.8 1328.4L870.0 1328.4L871.1 1328.5L872.3 1329.3L873.4 1329.8L874.6 1328.5L875.7 1328.1L876.9 1328.8L878.0 1329.7L879.2 1329.4L880.3 1329.2L881.5 1328.5L882.6 1327.9L883.8 1327.0L884.9 1327.0L886.1 1327.2L887.2 1328.6L888.4 1329.0L889.5 1328.4L890.7 1328.3L891.8 1329.5L893.0 1329.2L894.1 1328.6L895.3 1328.7L896.4 1329.3L897.6 1329.0L898.7 1329.1L899.9 1329.2L901.0 1329.5L902.2 1329.5L903.3 1329.7L904.5 1325.9L905.6 1320.0L906.8 1313.5L908.5 1301.5L909.1 1303.5L910.2 1307.0L911.4 1311.7L912.0 1308.5L913.7 1312.6L914.8 1316.0L916.0 1320.5L917.1 1325.3L918.3 1328.2L919.4 1328.7L920.6 1328.7L921.7 1328.6L922.9 1329.2L924.0 1329.3L925.2 1329.1L926.3 1329.2L927.5 1328.6L928.6 1327.5L929.8 1327.4L930.9 1327.9L932.1 1328.5L933.2 1329.0L934.4 1329.8L935.5 1329.3L936.7 1328.0L937.8 1328.0L939.0 1329.1L940.1 1329.3L941.3 1328.7L942.4 1329.1L943.6 1329.7L944.7 1329.6L945.9 1328.8L947.0 1328.5L948.2 1328.8L949.3 1329.8L950.5 1329.1L951.6 1327.7L952.8 1327.3L953.9 1328.6L955.1 1330.0L956.2 1329.4L957.4 1328.9L958.5 1329.1L959.7 1329.8L960.8 1329.5L962.0 1328.9L963.1 1328.8L964.3 1328.6L965.4 1325.6L966.6 1327.1L967.7 1329.4L968.9 1325.5L970.0 1328.1L971.2 1328.2L972.3 1327.9L973.5 1329.1L974.6 1329.6L975.8 1329.8L976.9 1328.7L978.1 1328.5L979.2 1328.0L980.4 1327.6L981.5 1326.6L982.7 1327.4L983.8 1327.8L985.0 1328.3L986.1 1327.7L987.3 1328.4L988.4 1328.7L989.6 1328.6L990.7 1328.4L991.9 1328.9L993.0 1329.9L994.2 1329.4L995.3 1328.8L996.5 1328.3L997.6 1327.0L998.8 1328.3L999.9 1328.3L1001.1 1328.1L1002.2 1329.1L1003.4 1329.2L1004.5 1329.2L1005.7 1329.0L1006.8 1328.8L1008.0 1328.7L1009.1 1328.8L1010.3 1329.5L1011.4 1329.1L1012.6 1329.1L1013.7 1328.7L1014.9 1328.9L1016.0 1328.4L1017.2 1327.7L1018.3 1327.5L1019.5 1327.6L1020.6 1324.7L1021.8 1326.8L1022.9 1326.2L1024.1 1327.7L1025.2 1328.7L1026.4 1329.7L1027.5 1329.6L1028.7 1329.0L1029.8 1328.7L1031.0 1328.6L1032.1 1328.7L1033.3 1328.1L1034.4 1327.8L1035.6 1328.5L1036.7 1329.5L1037.9 1329.4L1039.0 1329.0L1040.2 1329.4L1041.3 1329.4L1042.5 1329.3L1043.6 1328.9L1044.8 1328.9L1045.9 1328.0L1047.1 1327.3L1048.2 1326.6L1049.4 1326.6L1050.5 1327.8L1051.7 1328.9L1052.8 1324.6L1054.0 1328.1L1055.1 1327.7L1056.3 1327.4L1057.4 1327.6L1058.6 1329.0L1059.7 1329.8L1060.9 1329.8L1062.0 1329.9L1063.2 1330.0L1064.3 1329.3L1065.5 1328.9L1066.6 1328.7L1067.8 1325.7L1068.9 1328.1L1070.1 1328.2L1071.2 1328.1L1072.4 1328.4L1073.5 1328.1L1074.7 1328.5L1075.8 1328.0L1077.0 1327.5L1078.1 1327.0L1079.3 1326.7L1080.4 1327.7L1081.6 1328.1L1082.7 1327.7L1083.9 1327.0L1085.0 1327.9L1086.2 1328.9L1087.3 1329.0L1088.5 1328.7L1089.6 1327.9L1090.8 1326.7L1091.9 1327.5L1093.1 1328.0L1094.2 1327.7L1095.4 1327.5L1096.5 1328.7L1097.7 1329.6L1098.8 1329.6L1100.0 1329.7L1101.1 1330.0L1102.3 1326.6L1103.4 1328.1L1104.6 1327.5L1105.7 1327.4L1106.9 1327.7L1108.0 1329.0L1109.2 1330.0L1110.3 1329.0L1111.5 1328.8L1112.6 1328.1L1113.8 1327.7L1114.9 1327.6L1116.1 1328.3L1117.2 1329.0L1118.4 1329.3L1119.5 1329.6L1120.7 1328.7L1121.8 1328.2L1123.0 1328.1L1124.1 1328.1L1125.3 1327.4L1126.4 1326.5L1127.6 1328.8L1128.7 1329.5L1129.9 1328.5L1131.0 1328.5L1132.2 1329.2L1133.3 1330.0L1134.5 1329.9L1135.6 1329.3L1136.8 1328.8L1137.9 1328.8L1139.1 1328.5L1140.2 1328.1L1141.4 1327.3L1142.5 1327.3L1143.7 1327.6L1144.8 1327.8L1146.0 1327.4L1147.1 1327.5L1148.3 1328.9L1149.4 1329.0L1150.6 1327.7L1151.7 1326.8L1152.9 1328.0L1154.0 1329.3L1155.2 1330.0L1156.3 1329.5L1157.5 1329.0L1158.6 1328.6L1159.8 1328.5L1160.9 1328.6L1162.1 1328.7L1163.2 1329.1L1164.4 1329.5L1165.5 1329.0L1166.7 1328.7L1167.8 1329.2L1169.0 1330.4L1170.1 1329.7L1171.3 1328.3L1172.4 1327.2L1173.6 1326.8L1174.7 1327.2L1175.9 1328.4L1177.0 1328.6L1178.2 1328.8L1179.3 1328.1L1180.5 1328.7L1181.6 1328.3L1182.8 1327.0L1183.9 1327.0L1185.1 1324.4L1186.0 1320.5L1187.4 1325.7L1188.5 1328.6L1189.7 1328.2L1190.8 1329.1L1192.0 1329.0L1193.1 1329.3L1194.3 1328.1L1195.4 1328.5L1196.6 1328.8L1197.7 1329.4L1198.9 1326.6L1200.0 1323.5L1201.2 1326.9L1202.3 1328.6L1203.5 1328.6L1204.6 1324.6L1205.8 1328.1L1206.9 1328.8L1208.1 1329.7L1209.2 1330.0L1210.4 1329.9L1211.5 1329.0L1212.7 1328.2L1213.9 1327.5L1215.0 1327.3L1216.2 1326.6L1217.3 1325.7L1218.5 1327.8L1219.6 1328.5L1220.8 1328.0L1221.9 1328.0L1223.1 1328.2L1224.2 1328.2L1225.4 1325.4L1226.0 1323.5L1227.7 1327.9L1228.8 1327.9L1230.0 1327.2L1231.1 1327.1L1232.3 1327.9L1233.4 1329.2L1234.6 1330.3L1235.7 1330.0L1236.9 1329.7L1238.0 1329.4L1239.2 1329.7L1240.3 1328.9L1241.5 1328.5L1242.6 1328.6L1243.8 1329.4L1244.9 1328.5L1246.1 1328.0L1247.2 1328.0L1248.4 1328.9L1249.5 1328.3L1250.7 1328.4L1251.8 1327.9L1253.0 1328.4L1254.1 1327.8L1255.3 1327.6L1256.4 1326.8L1257.6 1326.8L1258.7 1327.4L1259.9 1328.4L1261.0 1328.4L1262.2 1328.6L1263.3 1329.2L1264.5 1329.9L1265.6 1329.3L1266.8 1328.3L1267.9 1328.4L1269.1 1326.6L1270.2 1328.6L1271.4 1329.2L1272.5 1330.3L1273.7 1330.0L1274.8 1328.9L1276.0 1328.3L1277.1 1328.4L1278.3 1328.4L1279.4 1328.3L1280.6 1329.0L1281.7 1330.0L1282.9 1330.0L1284.0 1329.2L1285.2 1329.1L1286.3 1329.1L1287.5 1329.4L1288.6 1329.2L1289.8 1328.3L1290.9 1328.3L1292.1 1328.8L1293.2 1329.1L1294.4 1328.1L1295.5 1328.2L1296.7 1328.0L1297.8 1328.2L1299.0 1328.6L1300.1 1329.1L1301.3 1329.1L1302.4 1329.2L1303.6 1329.5L1304.7 1329.6L1305.9 1328.8L1307.0 1327.6L1308.0 1322.5L1309.3 1323.5L1310.0 1320.5L1311.6 1326.9L1312.8 1327.9L1313.9 1328.7L1315.1 1328.3L1316.2 1328.4L1317.4 1329.0L1318.5 1330.0L1319.7 1330.0L1320.8 1329.6L1322.0 1329.2L1323.1 1328.8L1324.3 1329.1L1325.4 1328.5L1326.6 1327.7L1327.7 1327.2L1328.9 1327.8L1330.0 1328.9L1331.2 1329.6L1332.3 1330.2L1333.5 1330.1L1334.6 1329.5L1335.8 1327.0L1336.9 1328.3L1338.1 1327.9L1339.2 1325.9L1340.0 1323.5L1341.5 1328.0L1342.7 1328.7L1343.8 1327.9L1345.0 1328.2L1346.1 1329.2L1347.3 1329.7L1348.4 1329.0L1349.6 1327.8L1350.7 1326.7L1351.9 1325.9L1353.0 1328.1L1354.2 1328.5L1355.3 1328.2L1356.5 1328.1L1357.6 1328.2L1358.8 1328.1L1359.9 1328.6L1361.1 1328.6L1362.2 1329.7L1363.4 1330.0L1364.5 1329.1L1365.7 1328.7L1366.8 1328.7L1368.0 1328.9L1369.1 1327.7L1370.3 1328.0L1371.4 1328.4L1372.6 1328.4L1373.7 1328.5L1374.9 1329.4L1376.0 1329.8L1377.2 1329.7L1378.3 1330.0L1379.5 1329.2L1380.6 1328.4L1381.8 1327.5L1382.9 1327.9L1384.1 1327.9L1385.2 1328.7L1386.4 1328.2L1387.5 1327.5L1388.7 1327.6L1389.8 1328.4L1391.0 1328.8L1392.1 1328.9L1393.3 1329.0L1394.4 1329.4L1395.6 1329.0L1396.7 1328.2L1397.9 1328.1L1399.0 1329.1L1400.2 1330.2L1401.3 1329.1L1402.5 1329.0L1403.6 1329.1L1404.8 1329.3L1405.9 1325.3L1407.1 1328.0L1408.2 1327.4L1409.4 1326.8L1410.5 1327.3L1411.7 1327.4L1412.8 1327.2L1414.0 1325.4L1415.1 1328.3L1416.3 1328.9L1417.4 1328.1L1418.6 1328.1L1419.7 1328.4L1420.9 1329.1L1422.0 1329.3L1422.0 1330.5Z"/><path class="s" d="M271.4 1305.6L272.3 1307.4L273.6 1304.2L274.5 1311.0L275.4 1320.1L276.3 1319.2L278.4 1304.2L279.5 1309.2L281.3 1312.0L282.7 1312.0L284.1 1321.9L286.3 1324.6L287.7 1321.0L289.0 1321.5L290.4 1311.0L291.5 1310.1L293.1 1315.1L294.0 1319.7L295.4 1320.1L296.8 1324.2L298.1 1321.0L299.5 1321.0L300.4 1327.4L302.2 1324.2L304.0 1325.6L307.6 1326.0L311.3 1325.6L314.4 1329.2L317.6 1322.4L319.4 1327.4L322.6 1327.4L326.2 1325.6L328.5 1328.7L332.1 1328.3L334.8 1324.2L338.5 1324.6L341.2 1323.7L342.6 1316.5L343.9 1320.1L344.8 1320.1L345.6 1323.7L347.0 1321.5L347.9 1324.3L349.0 1326.2L350.2 1328.3L351.3 1327.8L352.5 1327.2L353.6 1327.0L354.8 1326.6L355.9 1327.4L357.1 1328.4L358.2 1328.5L359.4 1328.6L360.5 1329.2L361.7 1329.2L362.8 1327.7L364.0 1327.6L365.1 1328.6L366.3 1329.6L367.4 1329.5L368.6 1329.6L369.7 1329.8L370.9 1329.8L372.0 1329.5L373.2 1329.0L374.3 1329.4L375.5 1328.7L376.6 1328.3L377.8 1328.3L378.9 1329.2L380.1 1329.8L381.2 1329.0L382.4 1328.9L383.5 1329.2L384.7 1329.6L385.8 1329.0L387.0 1328.6L388.1 1329.0L389.3 1329.3L390.4 1328.7L391.6 1327.6L392.7 1326.8L393.9 1326.9L395.0 1327.7L396.2 1328.2L397.3 1328.4L398.5 1328.7L399.6 1328.6L400.8 1329.0L401.9 1328.2L403.1 1328.5L404.2 1327.6L405.4 1328.5L406.5 1328.2L407.7 1328.4L408.8 1327.4L410.0 1327.1L411.1 1325.0L412.3 1326.7L413.4 1329.0L414.6 1329.0L415.7 1328.0L416.9 1328.2L418.0 1328.4L419.2 1328.7L420.3 1328.2L421.5 1329.2L422.6 1329.5L423.8 1329.2L424.9 1328.8L426.1 1329.0L427.2 1329.8L428.4 1329.6L429.5 1329.5L430.7 1329.7L431.8 1329.9L433.0 1329.7L434.1 1329.2L435.3 1328.2L436.4 1327.4L437.6 1327.4L438.7 1327.6L439.9 1327.4L441.0 1327.6L442.2 1329.0L443.3 1329.9L444.5 1329.8L445.6 1328.9L446.8 1327.9L447.9 1326.7L449.1 1329.1L450.2 1330.1L451.4 1329.8L452.5 1329.4L453.7 1328.4L454.8 1327.3L456.0 1327.1L457.1 1327.3L458.3 1327.6L459.4 1327.3L460.6 1327.9L461.7 1328.7L462.9 1329.7L464.0 1330.0L465.2 1329.7L466.3 1329.8L467.5 1328.8L468.6 1328.9L469.8 1328.2L470.9 1326.8L472.1 1324.7L473.2 1327.5L474.4 1328.2L475.5 1328.5L476.7 1328.9L477.8 1328.9L479.0 1329.6L480.1 1330.2L481.3 1330.2L482.4 1329.4L483.6 1328.9L484.7 1328.1L485.9 1328.5L487.0 1327.9L488.2 1326.7L489.3 1328.2L490.5 1328.5L491.6 1328.7L492.8 1330.0L493.9 1330.1L495.1 1328.8L496.2 1328.3L497.4 1328.5L498.5 1328.3L499.7 1328.0L500.8 1327.8L502.0 1328.5L503.1 1329.0L504.3 1329.6L505.4 1329.5L506.6 1329.5L507.7 1328.9L508.9 1328.8L510.0 1328.2L511.2 1328.9L512.3 1328.7L513.5 1328.5L514.6 1327.6L515.8 1328.1L516.9 1329.4L518.1 1329.9L519.2 1329.4L520.0 1326.8L521.8 1325.9L522.7 1326.8L524.5 1322.7L527.3 1325.0L529.5 1326.8L530.9 1323.2L532.7 1318.7L534.1 1318.2L535.4 1315.0L536.3 1324.1L538.1 1323.2L539.3 1316.8L541.3 1320.5L542.2 1311.4L543.8 1307.8L544.3 1291.5L544.9 1273.3L545.9 1266.1L546.5 1238.8L547.7 1234.3L548.6 1200.7L549.8 1200.3L550.5 1192.0L551.8 1204.4L554.0 1205.3L554.9 1228.0L555.6 1255.2L556.3 1273.3L556.7 1288.7L557.4 1288.7L558.5 1269.7L559.5 1267.0L560.4 1250.2L561.3 1264.2L562.2 1286.9L562.8 1299.6L563.7 1300.5L564.9 1311.4L566.3 1314.1L567.6 1312.3L568.5 1320.5L569.9 1321.4L571.7 1318.2L573.1 1318.7L573.7 1311.9L574.4 1311.9L575.3 1319.6L576.7 1321.4L579.0 1320.5L581.0 1319.1L582.1 1306.9L583.5 1302.3L584.5 1293.7L585.5 1305.1L586.7 1313.2L587.3 1319.6L588.9 1317.8L590.3 1315.0L592.1 1318.7L593.0 1324.1L594.8 1322.7L597.5 1324.1L598.9 1327.7L599.7 1328.1L600.9 1328.8L602.0 1328.6L603.2 1328.3L604.3 1328.7L605.5 1326.6L606.6 1328.1L607.8 1327.9L608.9 1327.7L610.1 1327.6L611.2 1327.9L612.4 1327.7L613.5 1327.3L614.7 1327.0L615.8 1323.2L617.0 1318.3L618.1 1315.4L619.3 1313.9L620.0 1312.5L621.6 1317.8L622.7 1325.1L623.9 1328.8L625.0 1320.3L626.2 1318.0L627.0 1314.5L628.5 1316.9L629.6 1320.0L630.8 1323.5L631.9 1327.0L633.1 1328.1L634.2 1329.5L635.4 1328.5L636.5 1328.5L637.7 1328.7L638.8 1329.6L640.0 1329.5L641.1 1328.9L642.3 1327.8L643.4 1327.0L644.6 1327.4L645.7 1327.8L646.9 1328.0L648.0 1328.2L649.2 1328.4L650.3 1328.1L651.5 1327.8L652.6 1328.7L653.8 1329.5L654.9 1328.7L656.1 1328.5L657.2 1328.2L658.4 1327.9L659.5 1327.1L660.7 1327.8L661.8 1328.6L663.0 1329.4L664.1 1329.2L665.3 1328.7L666.4 1328.7L667.6 1329.1L668.7 1328.7L669.9 1328.7L671.0 1328.5L672.2 1329.1L673.3 1329.0L674.5 1329.2L675.6 1328.8L676.8 1329.4L677.9 1328.8L679.1 1327.8L680.2 1327.1L681.4 1328.1L682.5 1328.9L683.7 1328.3L684.8 1328.4L686.0 1328.2L687.1 1327.9L688.3 1326.7L689.4 1326.7L690.6 1327.5L691.7 1328.6L692.9 1328.6L694.0 1327.8L695.2 1325.9L696.0 1324.5L697.5 1327.2L698.6 1329.1L699.8 1330.0L700.9 1328.8L702.1 1328.2L703.2 1328.2L704.4 1328.8L705.5 1328.1L706.7 1328.0L707.8 1328.1L709.0 1328.3L710.1 1327.9L711.3 1328.0L712.4 1328.9L713.6 1328.8L714.7 1327.2L716.0 1324.5L717.0 1326.4L718.2 1328.6L719.3 1328.8L720.5 1328.5L721.6 1328.7L722.8 1329.9L723.9 1329.4L725.1 1328.8L726.2 1328.8L727.4 1329.5L728.5 1329.6L729.7 1328.7L730.8 1327.9L732.0 1327.8L733.1 1328.7L734.3 1329.0L735.4 1329.3L736.6 1328.7L737.7 1328.0L738.9 1328.1L740.0 1328.8L741.2 1328.4L742.3 1328.1L743.5 1328.8L744.6 1329.5L745.8 1329.7L746.9 1330.0L748.1 1330.2L749.2 1329.9L750.4 1329.9L751.5 1329.9L752.7 1329.6L753.8 1328.4L755.0 1327.5L756.1 1328.0L757.3 1328.3L758.4 1328.9L759.6 1328.2L760.7 1328.5L761.9 1328.7L763.0 1329.2L764.2 1326.7L765.3 1328.4L766.5 1328.0L767.6 1328.6L768.8 1329.0L769.9 1329.1L771.1 1328.4L772.2 1328.1L773.4 1329.0L774.5 1329.0L775.7 1329.2L776.8 1329.5L778.0 1329.9L779.1 1329.8L780.3 1328.9L781.4 1326.9L782.6 1328.5L783.7 1329.6L784.9 1329.0L786.0 1327.6L787.2 1327.5L788.3 1327.8L789.5 1328.2L790.6 1328.6L791.8 1329.9L792.9 1330.4L794.1 1330.4L795.2 1326.5L796.4 1328.7L797.5 1327.6L798.7 1327.7L799.8 1327.9L801.0 1328.0L802.1 1327.4L803.3 1327.4L804.4 1327.1L805.6 1328.0L806.7 1329.2L807.9 1330.0L809.0 1329.5L810.2 1328.5L811.3 1327.8L812.5 1328.3L813.6 1326.8L814.8 1328.0L815.9 1327.3L817.1 1327.0L818.2 1328.0L819.4 1328.0L820.5 1328.6L821.7 1327.9L822.8 1327.6L824.0 1327.8L825.1 1329.2L826.3 1330.3L827.4 1329.2L828.6 1327.8L829.7 1326.6L830.9 1327.6L832.0 1327.9L833.2 1327.6L834.3 1326.6L835.5 1326.9L836.6 1327.6L837.8 1328.6L838.9 1329.5L840.1 1329.3L841.2 1329.3L842.4 1329.6L843.5 1329.1L844.7 1328.5L845.8 1328.9L847.0 1329.4L848.1 1328.4L849.3 1328.2L850.4 1328.5L851.6 1328.3L852.7 1328.1L853.9 1328.5L855.0 1329.5L856.2 1329.6L857.3 1329.9L858.5 1329.7L859.6 1329.6L860.8 1329.7L861.9 1328.8L863.1 1327.9L864.2 1328.0L865.4 1328.1L866.5 1327.7L867.7 1327.6L868.8 1328.4L870.0 1328.4L871.1 1328.5L872.3 1329.3L873.4 1329.8L874.6 1328.5L875.7 1328.1L876.9 1328.8L878.0 1329.7L879.2 1329.4L880.3 1329.2L881.5 1328.5L882.6 1327.9L883.8 1327.0L884.9 1327.0L886.1 1327.2L887.2 1328.6L888.4 1329.0L889.5 1328.4L890.7 1328.3L891.8 1329.5L893.0 1329.2L894.1 1328.6L895.3 1328.7L896.4 1329.3L897.6 1329.0L898.7 1329.1L899.9 1329.2L901.0 1329.5L902.2 1329.5L903.3 1329.7L904.5 1325.9L905.6 1320.0L906.8 1313.5L908.5 1301.5L909.1 1303.5L910.2 1307.0L911.4 1311.7L912.0 1308.5L913.7 1312.6L914.8 1316.0L916.0 1320.5L917.1 1325.3L918.3 1328.2L919.4 1328.7L920.6 1328.7L921.7 1328.6L922.9 1329.2L924.0 1329.3L925.2 1329.1L926.3 1329.2L927.5 1328.6L928.6 1327.5L929.8 1327.4L930.9 1327.9L932.1 1328.5L933.2 1329.0L934.4 1329.8L935.5 1329.3L936.7 1328.0L937.8 1328.0L939.0 1329.1L940.1 1329.3L941.3 1328.7L942.4 1329.1L943.6 1329.7L944.7 1329.6L945.9 1328.8L947.0 1328.5L948.2 1328.8L949.3 1329.8L950.5 1329.1L951.6 1327.7L952.8 1327.3L953.9 1328.6L955.1 1330.0L956.2 1329.4L957.4 1328.9L958.5 1329.1L959.7 1329.8L960.8 1329.5L962.0 1328.9L963.1 1328.8L964.3 1328.6L965.4 1325.6L966.6 1327.1L967.7 1329.4L968.9 1325.5L970.0 1328.1L971.2 1328.2L972.3 1327.9L973.5 1329.1L974.6 1329.6L975.8 1329.8L976.9 1328.7L978.1 1328.5L979.2 1328.0L980.4 1327.6L981.5 1326.6L982.7 1327.4L983.8 1327.8L985.0 1328.3L986.1 1327.7L987.3 1328.4L988.4 1328.7L989.6 1328.6L990.7 1328.4L991.9 1328.9L993.0 1329.9L994.2 1329.4L995.3 1328.8L996.5 1328.3L997.6 1327.0L998.8 1328.3L999.9 1328.3L1001.1 1328.1L1002.2 1329.1L1003.4 1329.2L1004.5 1329.2L1005.7 1329.0L1006.8 1328.8L1008.0 1328.7L1009.1 1328.8L1010.3 1329.5L1011.4 1329.1L1012.6 1329.1L1013.7 1328.7L1014.9 1328.9L1016.0 1328.4L1017.2 1327.7L1018.3 1327.5L1019.5 1327.6L1020.6 1324.7L1021.8 1326.8L1022.9 1326.2L1024.1 1327.7L1025.2 1328.7L1026.4 1329.7L1027.5 1329.6L1028.7 1329.0L1029.8 1328.7L1031.0 1328.6L1032.1 1328.7L1033.3 1328.1L1034.4 1327.8L1035.6 1328.5L1036.7 1329.5L1037.9 1329.4L1039.0 1329.0L1040.2 1329.4L1041.3 1329.4L1042.5 1329.3L1043.6 1328.9L1044.8 1328.9L1045.9 1328.0L1047.1 1327.3L1048.2 1326.6L1049.4 1326.6L1050.5 1327.8L1051.7 1328.9L1052.8 1324.6L1054.0 1328.1L1055.1 1327.7L1056.3 1327.4L1057.4 1327.6L1058.6 1329.0L1059.7 1329.8L1060.9 1329.8L1062.0 1329.9L1063.2 1330.0L1064.3 1329.3L1065.5 1328.9L1066.6 1328.7L1067.8 1325.7L1068.9 1328.1L1070.1 1328.2L1071.2 1328.1L1072.4 1328.4L1073.5 1328.1L1074.7 1328.5L1075.8 1328.0L1077.0 1327.5L1078.1 1327.0L1079.3 1326.7L1080.4 1327.7L1081.6 1328.1L1082.7 1327.7L1083.9 1327.0L1085.0 1327.9L1086.2 1328.9L1087.3 1329.0L1088.5 1328.7L1089.6 1327.9L1090.8 1326.7L1091.9 1327.5L1093.1 1328.0L1094.2 1327.7L1095.4 1327.5L1096.5 1328.7L1097.7 1329.6L1098.8 1329.6L1100.0 1329.7L1101.1 1330.0L1102.3 1326.6L1103.4 1328.1L1104.6 1327.5L1105.7 1327.4L1106.9 1327.7L1108.0 1329.0L1109.2 1330.0L1110.3 1329.0L1111.5 1328.8L1112.6 1328.1L1113.8 1327.7L1114.9 1327.6L1116.1 1328.3L1117.2 1329.0L1118.4 1329.3L1119.5 1329.6L1120.7 1328.7L1121.8 1328.2L1123.0 1328.1L1124.1 1328.1L1125.3 1327.4L1126.4 1326.5L1127.6 1328.8L1128.7 1329.5L1129.9 1328.5L1131.0 1328.5L1132.2 1329.2L1133.3 1330.0L1134.5 1329.9L1135.6 1329.3L1136.8 1328.8L1137.9 1328.8L1139.1 1328.5L1140.2 1328.1L1141.4 1327.3L1142.5 1327.3L1143.7 1327.6L1144.8 1327.8L1146.0 1327.4L1147.1 1327.5L1148.3 1328.9L1149.4 1329.0L1150.6 1327.7L1151.7 1326.8L1152.9 1328.0L1154.0 1329.3L1155.2 1330.0L1156.3 1329.5L1157.5 1329.0L1158.6 1328.6L1159.8 1328.5L1160.9 1328.6L1162.1 1328.7L1163.2 1329.1L1164.4 1329.5L1165.5 1329.0L1166.7 1328.7L1167.8 1329.2L1169.0 1330.4L1170.1 1329.7L1171.3 1328.3L1172.4 1327.2L1173.6 1326.8L1174.7 1327.2L1175.9 1328.4L1177.0 1328.6L1178.2 1328.8L1179.3 1328.1L1180.5 1328.7L1181.6 1328.3L1182.8 1327.0L1183.9 1327.0L1185.1 1324.4L1186.0 1320.5L1187.4 1325.7L1188.5 1328.6L1189.7 1328.2L1190.8 1329.1L1192.0 1329.0L1193.1 1329.3L1194.3 1328.1L1195.4 1328.5L1196.6 1328.8L1197.7 1329.4L1198.9 1326.6L1200.0 1323.5L1201.2 1326.9L1202.3 1328.6L1203.5 1328.6L1204.6 1324.6L1205.8 1328.1L1206.9 1328.8L1208.1 1329.7L1209.2 1330.0L1210.4 1329.9L1211.5 1329.0L1212.7 1328.2L1213.9 1327.5L1215.0 1327.3L1216.2 1326.6L1217.3 1325.7L1218.5 1327.8L1219.6 1328.5L1220.8 1328.0L1221.9 1328.0L1223.1 1328.2L1224.2 1328.2L1225.4 1325.4L1226.0 1323.5L1227.7 1327.9L1228.8 1327.9L1230.0 1327.2L1231.1 1327.1L1232.3 1327.9L1233.4 1329.2L1234.6 1330.3L1235.7 1330.0L1236.9 1329.7L1238.0 1329.4L1239.2 1329.7L1240.3 1328.9L1241.5 1328.5L1242.6 1328.6L1243.8 1329.4L1244.9 1328.5L1246.1 1328.0L1247.2 1328.0L1248.4 1328.9L1249.5 1328.3L1250.7 1328.4L1251.8 1327.9L1253.0 1328.4L1254.1 1327.8L1255.3 1327.6L1256.4 1326.8L1257.6 1326.8L1258.7 1327.4L1259.9 1328.4L1261.0 1328.4L1262.2 1328.6L1263.3 1329.2L1264.5 1329.9L1265.6 1329.3L1266.8 1328.3L1267.9 1328.4L1269.1 1326.6L1270.2 1328.6L1271.4 1329.2L1272.5 1330.3L1273.7 1330.0L1274.8 1328.9L1276.0 1328.3L1277.1 1328.4L1278.3 1328.4L1279.4 1328.3L1280.6 1329.0L1281.7 1330.0L1282.9 1330.0L1284.0 1329.2L1285.2 1329.1L1286.3 1329.1L1287.5 1329.4L1288.6 1329.2L1289.8 1328.3L1290.9 1328.3L1292.1 1328.8L1293.2 1329.1L1294.4 1328.1L1295.5 1328.2L1296.7 1328.0L1297.8 1328.2L1299.0 1328.6L1300.1 1329.1L1301.3 1329.1L1302.4 1329.2L1303.6 1329.5L1304.7 1329.6L1305.9 1328.8L1307.0 1327.6L1308.0 1322.5L1309.3 1323.5L1310.0 1320.5L1311.6 1326.9L1312.8 1327.9L1313.9 1328.7L1315.1 1328.3L1316.2 1328.4L1317.4 1329.0L1318.5 1330.0L1319.7 1330.0L1320.8 1329.6L1322.0 1329.2L1323.1 1328.8L1324.3 1329.1L1325.4 1328.5L1326.6 1327.7L1327.7 1327.2L1328.9 1327.8L1330.0 1328.9L1331.2 1329.6L1332.3 1330.2L1333.5 1330.1L1334.6 1329.5L1335.8 1327.0L1336.9 1328.3L1338.1 1327.9L1339.2 1325.9L1340.0 1323.5L1341.5 1328.0L1342.7 1328.7L1343.8 1327.9L1345.0 1328.2L1346.1 1329.2L1347.3 1329.7L1348.4 1329.0L1349.6 1327.8L1350.7 1326.7L1351.9 1325.9L1353.0 1328.1L1354.2 1328.5L1355.3 1328.2L1356.5 1328.1L1357.6 1328.2L1358.8 1328.1L1359.9 1328.6L1361.1 1328.6L1362.2 1329.7L1363.4 1330.0L1364.5 1329.1L1365.7 1328.7L1366.8 1328.7L1368.0 1328.9L1369.1 1327.7L1370.3 1328.0L1371.4 1328.4L1372.6 1328.4L1373.7 1328.5L1374.9 1329.4L1376.0 1329.8L1377.2 1329.7L1378.3 1330.0L1379.5 1329.2L1380.6 1328.4L1381.8 1327.5L1382.9 1327.9L1384.1 1327.9L1385.2 1328.7L1386.4 1328.2L1387.5 1327.5L1388.7 1327.6L1389.8 1328.4L1391.0 1328.8L1392.1 1328.9L1393.3 1329.0L1394.4 1329.4L1395.6 1329.0L1396.7 1328.2L1397.9 1328.1L1399.0 1329.1L1400.2 1330.2L1401.3 1329.1L1402.5 1329.0L1403.6 1329.1L1404.8 1329.3L1405.9 1325.3L1407.1 1328.0L1408.2 1327.4L1409.4 1326.8L1410.5 1327.3L1411.7 1327.4L1412.8 1327.2L1414.0 1325.4L1415.1 1328.3L1416.3 1328.9L1417.4 1328.1L1418.6 1328.1L1419.7 1328.4L1420.9 1329.1L1422.0 1329.3"/>
<path class="ax" d="M259.5 1192.0H271V1330.5H259.5"/>
<text class="tk" x="252.4" y="1195.1">59</text>
<text class="tk" x="252.4" y="1333.6">0</text>
<text class="lab" x="73.3" y="1267.2">GSM2481684</text>
<path class="f" d="M271.4 1484.5L271.4 1447.5L272.4 1447.8L273.4 1484.0L274.1 1475.0L275.2 1456.8L276.3 1469.5L278.1 1466.3L280.2 1456.8L281.3 1466.3L282.2 1466.3L283.4 1447.5L285.4 1484.0L287.2 1475.4L288.8 1484.0L291.5 1447.5L293.1 1475.4L294.0 1475.4L295.4 1484.0L297.6 1438.7L298.6 1438.7L300.4 1475.4L304.5 1475.4L306.3 1484.0L309.4 1475.4L311.4 1484.0L313.2 1475.4L314.9 1484.0L318.5 1475.4L324.4 1484.0L328.0 1475.4L329.4 1466.3L332.6 1484.0L334.1 1475.4L336.7 1484.0L339.4 1475.4L340.7 1475.4L343.2 1447.5L344.4 1452.3L344.8 1452.3L345.3 1484.5L347.5 1475.2L350.0 1484.5L352.6 1475.2L353.7 1481.4L354.9 1475.2L355.9 1480.8L357.0 1465.9L359.3 1484.5L361.7 1475.2L363.1 1482.9L364.5 1475.2L365.8 1482.3L367.1 1456.6L368.1 1480.6L369.1 1475.2L371.4 1484.5L374.0 1447.3L375.9 1484.5L378.1 1475.2L379.3 1481.4L380.4 1447.3L381.9 1483.1L383.3 1475.2L384.3 1480.7L385.3 1465.9L386.7 1483.0L388.2 1465.9L389.4 1482.1L390.7 1475.2L393.1 1484.5L395.5 1475.2L396.7 1482.1L398.0 1475.2L400.6 1484.5L403.1 1475.2L404.3 1481.5L405.4 1465.9L407.1 1484.5L408.8 1465.9L409.9 1480.8L411.5 1438.0L413.5 1484.5L416.1 1475.2L417.4 1482.3L418.7 1447.3L420.1 1482.8L421.5 1475.2L422.7 1482.2L424.0 1475.2L426.6 1484.5L429.2 1475.2L430.6 1482.5L431.9 1475.2L432.9 1480.5L433.8 1465.9L436.4 1484.5L438.9 1456.6L440.3 1482.6L441.6 1438.0L443.5 1484.5L445.3 1475.2L447.9 1484.5L450.4 1475.2L451.4 1480.5L452.3 1465.9L453.3 1480.8L454.4 1475.2L457.2 1484.5L460.0 1475.2L461.4 1482.8L462.8 1475.2L465.0 1484.5L467.3 1475.2L469.3 1484.5L472.0 1447.3L473.0 1484.5L474.7 1447.3L476.4 1484.5L478.1 1465.9L479.2 1481.1L480.3 1465.9L482.0 1447.3L485.9 1456.6L487.1 1482.1L488.4 1456.6L489.7 1482.4L491.1 1475.2L493.1 1484.5L495.2 1465.9L496.2 1480.8L497.2 1475.2L499.6 1484.5L502.0 1447.3L503.8 1484.5L505.5 1475.2L506.5 1480.4L507.4 1447.3L509.4 1484.5L511.4 1465.9L514.0 1484.5L516.7 1456.6L517.9 1481.8L519.1 1465.9L520.0 1470.4L521.4 1465.9L523.6 1466.8L524.5 1470.4L525.4 1465.9L526.8 1484.0L528.4 1465.9L529.5 1484.0L531.3 1465.9L532.4 1482.2L533.4 1456.8L534.5 1484.0L535.4 1456.8L538.6 1456.8L541.0 1484.0L543.8 1456.8L544.7 1456.8L545.9 1447.3L546.8 1447.3L547.4 1429.2L548.6 1432.3L549.5 1418.7L550.2 1401.0L551.3 1406.0L552.2 1398.8L553.1 1368.8L554.0 1346.2L554.9 1355.7L556.3 1355.7L556.7 1391.5L557.5 1400.6L557.8 1448.7L559.5 1471.3L560.8 1465.9L561.9 1470.4L562.6 1447.3L564.6 1447.3L566.1 1465.9L567.6 1465.9L568.5 1456.8L569.9 1465.9L571.5 1473.1L573.3 1456.8L574.9 1475.0L576.4 1447.3L578.0 1468.6L579.9 1456.8L581.5 1438.2L583.0 1456.8L584.0 1475.9L586.2 1480.4L588.9 1465.9L589.7 1438.2L590.6 1438.2L591.2 1465.9L593.9 1465.9L596.5 1456.8L598.5 1475.9L599.8 1475.9L600.2 1484.5L602.9 1475.2L605.0 1484.5L607.0 1475.2L608.1 1481.2L609.2 1475.2L611.6 1484.5L613.9 1456.6L616.0 1484.5L618.0 1475.2L620.0 1447.3L622.0 1456.6L623.0 1481.0L624.1 1456.6L625.8 1484.4L627.5 1465.9L630.0 1484.5L632.5 1465.9L633.7 1481.6L634.9 1456.6L636.5 1483.9L638.1 1475.2L639.1 1480.8L640.1 1475.2L641.5 1482.8L642.9 1475.2L646.4 1428.7L648.3 1475.2L649.7 1482.8L651.1 1475.2L653.7 1484.5L656.2 1465.9L658.7 1484.5L661.1 1465.9L662.5 1482.6L663.9 1465.9L665.0 1481.6L666.2 1475.2L667.3 1481.3L668.4 1475.2L669.7 1482.4L671.1 1475.2L672.3 1481.9L673.5 1447.3L675.0 1482.9L676.4 1465.9L678.2 1484.5L680.1 1475.2L682.0 1484.5L683.9 1465.9L685.3 1482.9L686.7 1475.2L690.0 1447.3L692.1 1456.6L693.7 1484.2L695.4 1465.9L696.8 1483.0L698.2 1456.6L699.5 1482.1L700.7 1475.2L701.9 1481.3L703.0 1475.2L705.9 1484.5L708.7 1465.9L710.1 1482.4L711.4 1475.2L712.4 1480.9L713.5 1475.2L715.7 1484.5L717.9 1456.6L719.3 1482.6L720.6 1465.9L723.1 1484.5L725.6 1456.6L726.9 1482.6L728.3 1438.0L729.5 1481.6L730.7 1465.9L733.3 1484.5L735.9 1475.2L737.1 1481.6L738.2 1475.2L740.5 1484.5L742.8 1465.9L743.8 1480.6L744.8 1475.2L746.0 1481.9L747.2 1456.6L749.9 1484.5L752.5 1475.2L754.5 1484.5L756.5 1465.9L758.4 1484.5L760.3 1465.9L761.6 1482.3L762.9 1475.2L764.7 1484.5L766.5 1456.6L767.6 1481.4L768.7 1465.9L771.6 1484.5L774.4 1475.2L775.6 1481.8L776.8 1456.6L779.6 1484.5L782.5 1465.9L785.0 1484.5L787.6 1456.6L790.3 1484.5L793.1 1465.9L794.1 1481.0L795.2 1438.0L796.7 1483.7L798.3 1456.6L800.9 1484.5L803.5 1447.3L806.0 1484.5L808.4 1475.2L810.1 1484.2L811.5 1428.7L813.2 1483.0L814.6 1475.2L817.3 1484.5L820.1 1475.2L822.9 1484.5L825.8 1465.9L826.8 1480.4L827.8 1475.2L830.3 1484.5L832.8 1475.2L834.0 1481.9L835.0 1447.3L836.3 1480.8L837.3 1456.6L838.4 1481.2L839.5 1456.6L842.0 1484.5L844.4 1465.9L847.1 1484.5L849.8 1475.2L852.6 1484.5L855.4 1475.2L858.0 1447.3L860.2 1447.3L862.9 1484.5L865.6 1465.9L867.0 1482.6L868.3 1465.9L870.3 1484.5L872.2 1456.6L873.5 1482.4L874.8 1475.2L876.2 1482.4L877.5 1475.2L878.8 1482.3L880.1 1475.2L881.1 1480.5L882.0 1465.9L885.0 1484.5L888.6 1438.0L890.1 1484.5L892.3 1475.2L893.4 1481.4L894.6 1475.2L896.6 1484.5L898.7 1475.2L901.3 1484.5L904.0 1456.6L905.2 1482.1L906.5 1475.2L909.1 1484.5L910.8 1428.7L913.3 1484.1L914.9 1475.2L917.3 1484.5L919.7 1475.2L920.9 1482.0L922.1 1475.2L924.3 1484.5L926.4 1475.2L927.4 1480.7L928.4 1456.6L930.3 1484.5L932.2 1475.2L934.9 1484.5L937.6 1475.2L939.0 1482.7L940.4 1475.2L941.6 1481.8L942.8 1475.2L944.6 1484.5L946.5 1456.6L947.6 1481.1L948.6 1465.9L950.0 1482.7L951.4 1475.2L952.3 1480.5L953.3 1465.9L955.6 1484.5L957.8 1465.9L959.9 1484.5L962.1 1475.2L963.2 1481.4L964.3 1475.2L965.9 1483.7L967.5 1475.2L970.2 1484.5L973.0 1475.2L974.0 1480.9L975.1 1456.6L977.3 1484.5L979.4 1475.2L980.7 1481.9L981.9 1438.0L983.3 1483.0L985.0 1447.3L986.4 1484.2L988.1 1475.2L989.7 1484.3L991.4 1465.9L992.3 1480.5L993.3 1465.9L995.1 1484.5L996.9 1475.2L997.9 1480.4L998.8 1475.2L999.9 1480.8L1000.9 1465.9L1002.9 1484.5L1004.9 1465.9L1006.3 1483.1L1007.7 1456.6L1008.9 1481.5L1010.0 1465.9L1012.7 1484.5L1015.3 1475.2L1017.7 1484.5L1020.2 1465.9L1023.1 1484.5L1025.9 1465.9L1028.1 1484.5L1030.3 1475.2L1031.7 1482.4L1033.0 1465.9L1034.1 1481.5L1035.3 1456.6L1037.2 1484.5L1039.2 1438.0L1040.3 1481.4L1041.4 1475.2L1042.6 1481.4L1043.7 1475.2L1045.7 1484.5L1047.6 1465.9L1050.2 1484.5L1052.7 1456.6L1053.8 1481.2L1054.9 1475.2L1055.9 1480.8L1057.0 1475.2L1058.3 1482.4L1059.6 1456.6L1060.7 1481.4L1061.9 1465.9L1063.3 1482.7L1064.6 1475.2L1065.6 1480.6L1066.6 1475.2L1067.9 1482.3L1069.3 1475.2L1070.6 1482.7L1072.0 1475.2L1073.3 1482.5L1074.7 1475.2L1077.5 1484.5L1080.4 1465.9L1081.6 1481.9L1082.9 1475.2L1084.0 1481.6L1085.2 1456.6L1087.7 1484.5L1090.3 1465.9L1091.9 1484.2L1093.6 1475.2L1094.5 1480.5L1095.5 1465.9L1096.8 1482.4L1098.1 1465.9L1099.5 1482.8L1100.9 1465.9L1102.1 1481.7L1103.3 1475.2L1104.6 1482.2L1105.9 1475.2L1107.0 1481.4L1108.1 1475.2L1110.5 1484.5L1112.8 1447.3L1115.7 1484.5L1118.5 1475.2L1119.5 1481.0L1120.6 1465.9L1121.6 1480.6L1122.6 1465.9L1123.7 1481.2L1124.8 1465.9L1126.0 1481.9L1127.3 1475.2L1128.5 1481.9L1129.7 1465.9L1130.8 1481.2L1132.0 1447.3L1133.6 1484.5L1135.3 1475.2L1136.8 1482.9L1138.2 1456.6L1139.1 1480.4L1140.1 1475.2L1141.5 1482.7L1142.9 1465.9L1144.1 1482.0L1145.4 1465.9L1147.1 1484.5L1148.8 1475.2L1150.0 1481.5L1151.1 1465.9L1152.3 1481.6L1153.5 1447.3L1156.0 1484.5L1158.5 1475.2L1160.2 1484.5L1162.0 1475.2L1163.9 1484.5L1165.7 1475.2L1167.0 1447.3L1168.2 1465.9L1170.8 1484.5L1173.4 1475.2L1174.7 1482.7L1176.1 1465.9L1177.7 1484.0L1179.3 1475.2L1180.6 1482.3L1181.9 1475.2L1183.3 1482.8L1184.7 1456.6L1186.6 1484.5L1188.5 1465.9L1190.6 1484.5L1192.7 1475.2L1194.1 1482.8L1195.5 1456.6L1197.2 1484.5L1199.0 1465.9L1200.2 1481.8L1201.4 1475.2L1203.5 1484.5L1205.5 1465.9L1206.7 1481.7L1207.9 1475.2L1209.1 1481.9L1210.4 1456.6L1211.6 1482.0L1212.9 1475.2L1214.8 1484.5L1216.8 1447.3L1219.4 1484.5L1222.1 1465.9L1224.8 1484.5L1227.5 1475.2L1229.7 1484.5L1231.8 1465.9L1233.0 1481.5L1234.1 1475.2L1235.2 1481.1L1236.3 1475.2L1238.6 1484.5L1240.9 1475.2L1243.5 1484.5L1246.1 1475.2L1249.0 1484.5L1251.9 1447.3L1253.0 1447.3L1254.3 1465.9L1255.3 1480.6L1256.3 1475.2L1258.5 1484.5L1260.7 1475.2L1262.0 1482.3L1263.3 1456.6L1264.6 1482.3L1265.9 1475.2L1266.9 1481.0L1268.0 1475.2L1269.0 1480.5L1269.9 1456.6L1271.0 1438.0L1272.6 1475.2L1273.7 1481.1L1274.8 1475.2L1276.6 1484.5L1278.4 1475.2L1280.2 1484.5L1282.0 1475.2L1283.2 1481.8L1284.4 1475.2L1286.8 1484.5L1289.2 1465.9L1290.6 1482.7L1292.0 1465.9L1294.7 1484.5L1297.3 1465.9L1300.1 1484.5L1303.0 1456.6L1304.2 1481.8L1305.4 1475.2L1306.4 1480.6L1307.4 1465.9L1309.0 1483.8L1310.6 1456.6L1312.0 1482.9L1313.4 1475.2L1314.4 1480.9L1315.5 1447.3L1317.1 1483.9L1318.7 1456.6L1319.7 1480.6L1320.7 1475.2L1322.5 1484.5L1324.4 1465.9L1325.5 1481.4L1326.7 1475.2L1329.1 1484.5L1331.6 1475.2L1334.3 1484.5L1336.9 1465.9L1338.0 1447.3L1339.1 1465.9L1341.0 1484.5L1342.9 1465.9L1344.6 1484.5L1346.4 1456.6L1348.7 1484.5L1351.0 1465.9L1353.7 1484.5L1356.5 1465.9L1357.6 1481.2L1358.7 1475.2L1361.1 1484.5L1363.5 1475.2L1364.8 1482.5L1366.1 1465.9L1368.8 1484.5L1371.4 1475.2L1372.4 1480.5L1373.3 1456.6L1374.6 1482.2L1375.9 1475.2L1377.0 1480.9L1378.0 1456.6L1379.1 1481.1L1380.2 1475.2L1381.3 1481.1L1382.4 1475.2L1384.8 1484.5L1387.2 1456.6L1389.8 1484.5L1392.4 1456.6L1393.5 1480.9L1394.5 1456.6L1395.5 1480.4L1396.4 1475.2L1398.0 1447.3L1401.3 1465.9L1402.5 1482.0L1403.7 1465.9L1405.0 1447.3L1406.4 1475.2L1407.8 1482.9L1409.2 1475.2L1410.6 1482.8L1412.0 1475.2L1413.2 1481.4L1414.3 1475.2L1415.5 1482.0L1416.8 1475.2L1417.9 1481.0L1418.9 1475.2L1420.4 1483.1L1421.8 1465.9L1422.5 1484.5L1422.5 1484.5Z"/><path class="s" d="M271.4 1447.5L272.4 1447.8L273.4 1484.0L274.1 1475.0L275.2 1456.8L276.3 1469.5L278.1 1466.3L280.2 1456.8L281.3 1466.3L282.2 1466.3L283.4 1447.5L285.4 1484.0L287.2 1475.4L288.8 1484.0L291.5 1447.5L293.1 1475.4L294.0 1475.4L295.4 1484.0L297.6 1438.7L298.6 1438.7L300.4 1475.4L304.5 1475.4L306.3 1484.0L309.4 1475.4L311.4 1484.0L313.2 1475.4L314.9 1484.0L318.5 1475.4L324.4 1484.0L328.0 1475.4L329.4 1466.3L332.6 1484.0L334.1 1475.4L336.7 1484.0L339.4 1475.4L340.7 1475.4L343.2 1447.5L344.4 1452.3L344.8 1452.3L345.3 1484.5L347.5 1475.2L350.0 1484.5L352.6 1475.2L353.7 1481.4L354.9 1475.2L355.9 1480.8L357.0 1465.9L359.3 1484.5L361.7 1475.2L363.1 1482.9L364.5 1475.2L365.8 1482.3L367.1 1456.6L368.1 1480.6L369.1 1475.2L371.4 1484.5L374.0 1447.3L375.9 1484.5L378.1 1475.2L379.3 1481.4L380.4 1447.3L381.9 1483.1L383.3 1475.2L384.3 1480.7L385.3 1465.9L386.7 1483.0L388.2 1465.9L389.4 1482.1L390.7 1475.2L393.1 1484.5L395.5 1475.2L396.7 1482.1L398.0 1475.2L400.6 1484.5L403.1 1475.2L404.3 1481.5L405.4 1465.9L407.1 1484.5L408.8 1465.9L409.9 1480.8L411.5 1438.0L413.5 1484.5L416.1 1475.2L417.4 1482.3L418.7 1447.3L420.1 1482.8L421.5 1475.2L422.7 1482.2L424.0 1475.2L426.6 1484.5L429.2 1475.2L430.6 1482.5L431.9 1475.2L432.9 1480.5L433.8 1465.9L436.4 1484.5L438.9 1456.6L440.3 1482.6L441.6 1438.0L443.5 1484.5L445.3 1475.2L447.9 1484.5L450.4 1475.2L451.4 1480.5L452.3 1465.9L453.3 1480.8L454.4 1475.2L457.2 1484.5L460.0 1475.2L461.4 1482.8L462.8 1475.2L465.0 1484.5L467.3 1475.2L469.3 1484.5L472.0 1447.3L473.0 1484.5L474.7 1447.3L476.4 1484.5L478.1 1465.9L479.2 1481.1L480.3 1465.9L482.0 1447.3L485.9 1456.6L487.1 1482.1L488.4 1456.6L489.7 1482.4L491.1 1475.2L493.1 1484.5L495.2 1465.9L496.2 1480.8L497.2 1475.2L499.6 1484.5L502.0 1447.3L503.8 1484.5L505.5 1475.2L506.5 1480.4L507.4 1447.3L509.4 1484.5L511.4 1465.9L514.0 1484.5L516.7 1456.6L517.9 1481.8L519.1 1465.9L520.0 1470.4L521.4 1465.9L523.6 1466.8L524.5 1470.4L525.4 1465.9L526.8 1484.0L528.4 1465.9L529.5 1484.0L531.3 1465.9L532.4 1482.2L533.4 1456.8L534.5 1484.0L535.4 1456.8L538.6 1456.8L541.0 1484.0L543.8 1456.8L544.7 1456.8L545.9 1447.3L546.8 1447.3L547.4 1429.2L548.6 1432.3L549.5 1418.7L550.2 1401.0L551.3 1406.0L552.2 1398.8L553.1 1368.8L554.0 1346.2L554.9 1355.7L556.3 1355.7L556.7 1391.5L557.5 1400.6L557.8 1448.7L559.5 1471.3L560.8 1465.9L561.9 1470.4L562.6 1447.3L564.6 1447.3L566.1 1465.9L567.6 1465.9L568.5 1456.8L569.9 1465.9L571.5 1473.1L573.3 1456.8L574.9 1475.0L576.4 1447.3L578.0 1468.6L579.9 1456.8L581.5 1438.2L583.0 1456.8L584.0 1475.9L586.2 1480.4L588.9 1465.9L589.7 1438.2L590.6 1438.2L591.2 1465.9L593.9 1465.9L596.5 1456.8L598.5 1475.9L599.8 1475.9L600.2 1484.5L602.9 1475.2L605.0 1484.5L607.0 1475.2L608.1 1481.2L609.2 1475.2L611.6 1484.5L613.9 1456.6L616.0 1484.5L618.0 1475.2L620.0 1447.3L622.0 1456.6L623.0 1481.0L624.1 1456.6L625.8 1484.4L627.5 1465.9L630.0 1484.5L632.5 1465.9L633.7 1481.6L634.9 1456.6L636.5 1483.9L638.1 1475.2L639.1 1480.8L640.1 1475.2L641.5 1482.8L642.9 1475.2L646.4 1428.7L648.3 1475.2L649.7 1482.8L651.1 1475.2L653.7 1484.5L656.2 1465.9L658.7 1484.5L661.1 1465.9L662.5 1482.6L663.9 1465.9L665.0 1481.6L666.2 1475.2L667.3 1481.3L668.4 1475.2L669.7 1482.4L671.1 1475.2L672.3 1481.9L673.5 1447.3L675.0 1482.9L676.4 1465.9L678.2 1484.5L680.1 1475.2L682.0 1484.5L683.9 1465.9L685.3 1482.9L686.7 1475.2L690.0 1447.3L692.1 1456.6L693.7 1484.2L695.4 1465.9L696.8 1483.0L698.2 1456.6L699.5 1482.1L700.7 1475.2L701.9 1481.3L703.0 1475.2L705.9 1484.5L708.7 1465.9L710.1 1482.4L711.4 1475.2L712.4 1480.9L713.5 1475.2L715.7 1484.5L717.9 1456.6L719.3 1482.6L720.6 1465.9L723.1 1484.5L725.6 1456.6L726.9 1482.6L728.3 1438.0L729.5 1481.6L730.7 1465.9L733.3 1484.5L735.9 1475.2L737.1 1481.6L738.2 1475.2L740.5 1484.5L742.8 1465.9L743.8 1480.6L744.8 1475.2L746.0 1481.9L747.2 1456.6L749.9 1484.5L752.5 1475.2L754.5 1484.5L756.5 1465.9L758.4 1484.5L760.3 1465.9L761.6 1482.3L762.9 1475.2L764.7 1484.5L766.5 1456.6L767.6 1481.4L768.7 1465.9L771.6 1484.5L774.4 1475.2L775.6 1481.8L776.8 1456.6L779.6 1484.5L782.5 1465.9L785.0 1484.5L787.6 1456.6L790.3 1484.5L793.1 1465.9L794.1 1481.0L795.2 1438.0L796.7 1483.7L798.3 1456.6L800.9 1484.5L803.5 1447.3L806.0 1484.5L808.4 1475.2L810.1 1484.2L811.5 1428.7L813.2 1483.0L814.6 1475.2L817.3 1484.5L820.1 1475.2L822.9 1484.5L825.8 1465.9L826.8 1480.4L827.8 1475.2L830.3 1484.5L832.8 1475.2L834.0 1481.9L835.0 1447.3L836.3 1480.8L837.3 1456.6L838.4 1481.2L839.5 1456.6L842.0 1484.5L844.4 1465.9L847.1 1484.5L849.8 1475.2L852.6 1484.5L855.4 1475.2L858.0 1447.3L860.2 1447.3L862.9 1484.5L865.6 1465.9L867.0 1482.6L868.3 1465.9L870.3 1484.5L872.2 1456.6L873.5 1482.4L874.8 1475.2L876.2 1482.4L877.5 1475.2L878.8 1482.3L880.1 1475.2L881.1 1480.5L882.0 1465.9L885.0 1484.5L888.6 1438.0L890.1 1484.5L892.3 1475.2L893.4 1481.4L894.6 1475.2L896.6 1484.5L898.7 1475.2L901.3 1484.5L904.0 1456.6L905.2 1482.1L906.5 1475.2L909.1 1484.5L910.8 1428.7L913.3 1484.1L914.9 1475.2L917.3 1484.5L919.7 1475.2L920.9 1482.0L922.1 1475.2L924.3 1484.5L926.4 1475.2L927.4 1480.7L928.4 1456.6L930.3 1484.5L932.2 1475.2L934.9 1484.5L937.6 1475.2L939.0 1482.7L940.4 1475.2L941.6 1481.8L942.8 1475.2L944.6 1484.5L946.5 1456.6L947.6 1481.1L948.6 1465.9L950.0 1482.7L951.4 1475.2L952.3 1480.5L953.3 1465.9L955.6 1484.5L957.8 1465.9L959.9 1484.5L962.1 1475.2L963.2 1481.4L964.3 1475.2L965.9 1483.7L967.5 1475.2L970.2 1484.5L973.0 1475.2L974.0 1480.9L975.1 1456.6L977.3 1484.5L979.4 1475.2L980.7 1481.9L981.9 1438.0L983.3 1483.0L985.0 1447.3L986.4 1484.2L988.1 1475.2L989.7 1484.3L991.4 1465.9L992.3 1480.5L993.3 1465.9L995.1 1484.5L996.9 1475.2L997.9 1480.4L998.8 1475.2L999.9 1480.8L1000.9 1465.9L1002.9 1484.5L1004.9 1465.9L1006.3 1483.1L1007.7 1456.6L1008.9 1481.5L1010.0 1465.9L1012.7 1484.5L1015.3 1475.2L1017.7 1484.5L1020.2 1465.9L1023.1 1484.5L1025.9 1465.9L1028.1 1484.5L1030.3 1475.2L1031.7 1482.4L1033.0 1465.9L1034.1 1481.5L1035.3 1456.6L1037.2 1484.5L1039.2 1438.0L1040.3 1481.4L1041.4 1475.2L1042.6 1481.4L1043.7 1475.2L1045.7 1484.5L1047.6 1465.9L1050.2 1484.5L1052.7 1456.6L1053.8 1481.2L1054.9 1475.2L1055.9 1480.8L1057.0 1475.2L1058.3 1482.4L1059.6 1456.6L1060.7 1481.4L1061.9 1465.9L1063.3 1482.7L1064.6 1475.2L1065.6 1480.6L1066.6 1475.2L1067.9 1482.3L1069.3 1475.2L1070.6 1482.7L1072.0 1475.2L1073.3 1482.5L1074.7 1475.2L1077.5 1484.5L1080.4 1465.9L1081.6 1481.9L1082.9 1475.2L1084.0 1481.6L1085.2 1456.6L1087.7 1484.5L1090.3 1465.9L1091.9 1484.2L1093.6 1475.2L1094.5 1480.5L1095.5 1465.9L1096.8 1482.4L1098.1 1465.9L1099.5 1482.8L1100.9 1465.9L1102.1 1481.7L1103.3 1475.2L1104.6 1482.2L1105.9 1475.2L1107.0 1481.4L1108.1 1475.2L1110.5 1484.5L1112.8 1447.3L1115.7 1484.5L1118.5 1475.2L1119.5 1481.0L1120.6 1465.9L1121.6 1480.6L1122.6 1465.9L1123.7 1481.2L1124.8 1465.9L1126.0 1481.9L1127.3 1475.2L1128.5 1481.9L1129.7 1465.9L1130.8 1481.2L1132.0 1447.3L1133.6 1484.5L1135.3 1475.2L1136.8 1482.9L1138.2 1456.6L1139.1 1480.4L1140.1 1475.2L1141.5 1482.7L1142.9 1465.9L1144.1 1482.0L1145.4 1465.9L1147.1 1484.5L1148.8 1475.2L1150.0 1481.5L1151.1 1465.9L1152.3 1481.6L1153.5 1447.3L1156.0 1484.5L1158.5 1475.2L1160.2 1484.5L1162.0 1475.2L1163.9 1484.5L1165.7 1475.2L1167.0 1447.3L1168.2 1465.9L1170.8 1484.5L1173.4 1475.2L1174.7 1482.7L1176.1 1465.9L1177.7 1484.0L1179.3 1475.2L1180.6 1482.3L1181.9 1475.2L1183.3 1482.8L1184.7 1456.6L1186.6 1484.5L1188.5 1465.9L1190.6 1484.5L1192.7 1475.2L1194.1 1482.8L1195.5 1456.6L1197.2 1484.5L1199.0 1465.9L1200.2 1481.8L1201.4 1475.2L1203.5 1484.5L1205.5 1465.9L1206.7 1481.7L1207.9 1475.2L1209.1 1481.9L1210.4 1456.6L1211.6 1482.0L1212.9 1475.2L1214.8 1484.5L1216.8 1447.3L1219.4 1484.5L1222.1 1465.9L1224.8 1484.5L1227.5 1475.2L1229.7 1484.5L1231.8 1465.9L1233.0 1481.5L1234.1 1475.2L1235.2 1481.1L1236.3 1475.2L1238.6 1484.5L1240.9 1475.2L1243.5 1484.5L1246.1 1475.2L1249.0 1484.5L1251.9 1447.3L1253.0 1447.3L1254.3 1465.9L1255.3 1480.6L1256.3 1475.2L1258.5 1484.5L1260.7 1475.2L1262.0 1482.3L1263.3 1456.6L1264.6 1482.3L1265.9 1475.2L1266.9 1481.0L1268.0 1475.2L1269.0 1480.5L1269.9 1456.6L1271.0 1438.0L1272.6 1475.2L1273.7 1481.1L1274.8 1475.2L1276.6 1484.5L1278.4 1475.2L1280.2 1484.5L1282.0 1475.2L1283.2 1481.8L1284.4 1475.2L1286.8 1484.5L1289.2 1465.9L1290.6 1482.7L1292.0 1465.9L1294.7 1484.5L1297.3 1465.9L1300.1 1484.5L1303.0 1456.6L1304.2 1481.8L1305.4 1475.2L1306.4 1480.6L1307.4 1465.9L1309.0 1483.8L1310.6 1456.6L1312.0 1482.9L1313.4 1475.2L1314.4 1480.9L1315.5 1447.3L1317.1 1483.9L1318.7 1456.6L1319.7 1480.6L1320.7 1475.2L1322.5 1484.5L1324.4 1465.9L1325.5 1481.4L1326.7 1475.2L1329.1 1484.5L1331.6 1475.2L1334.3 1484.5L1336.9 1465.9L1338.0 1447.3L1339.1 1465.9L1341.0 1484.5L1342.9 1465.9L1344.6 1484.5L1346.4 1456.6L1348.7 1484.5L1351.0 1465.9L1353.7 1484.5L1356.5 1465.9L1357.6 1481.2L1358.7 1475.2L1361.1 1484.5L1363.5 1475.2L1364.8 1482.5L1366.1 1465.9L1368.8 1484.5L1371.4 1475.2L1372.4 1480.5L1373.3 1456.6L1374.6 1482.2L1375.9 1475.2L1377.0 1480.9L1378.0 1456.6L1379.1 1481.1L1380.2 1475.2L1381.3 1481.1L1382.4 1475.2L1384.8 1484.5L1387.2 1456.6L1389.8 1484.5L1392.4 1456.6L1393.5 1480.9L1394.5 1456.6L1395.5 1480.4L1396.4 1475.2L1398.0 1447.3L1401.3 1465.9L1402.5 1482.0L1403.7 1465.9L1405.0 1447.3L1406.4 1475.2L1407.8 1482.9L1409.2 1475.2L1410.6 1482.8L1412.0 1475.2L1413.2 1481.4L1414.3 1475.2L1415.5 1482.0L1416.8 1475.2L1417.9 1481.0L1418.9 1475.2L1420.4 1483.1L1421.8 1465.9L1422.5 1484.5"/>
<path class="ax" d="M259.5 1346.0H271V1484.5H259.5"/>
<text class="tk" x="252.4" y="1349.1">15</text>
<text class="tk" x="252.4" y="1487.6">0</text>
<text class="lab" x="73.3" y="1421.2">GSM2481683</text>
<path class="f" d="M271.4 1638.4L271.4 1628.9L273.6 1611.7L275.0 1628.9L276.8 1623.4L278.4 1623.0L279.5 1609.4L280.6 1609.4L281.5 1628.0L282.9 1625.7L284.5 1630.7L286.8 1634.3L288.1 1637.5L290.4 1628.9L291.8 1628.0L292.7 1617.6L293.6 1618.9L294.5 1630.7L296.3 1635.2L297.2 1633.4L298.6 1637.1L302.2 1636.1L303.6 1630.7L304.9 1636.6L308.1 1638.0L311.3 1633.4L313.5 1633.9L314.9 1637.1L319.4 1636.6L324.0 1637.1L325.8 1633.4L327.4 1630.7L329.4 1635.2L331.2 1637.5L333.5 1628.0L334.8 1633.9L337.6 1630.7L339.8 1628.4L341.6 1628.4L342.6 1631.6L344.8 1630.7L345.6 1633.2L346.7 1638.4L347.9 1633.2L349.0 1630.6L350.2 1633.2L351.3 1635.8L352.5 1638.4L359.9 1635.8L361.0 1638.4L362.2 1630.6L363.3 1635.8L364.5 1635.8L365.6 1635.8L366.8 1633.2L367.9 1633.2L369.1 1633.2L370.2 1635.8L371.4 1633.2L372.5 1635.8L373.7 1638.4L374.8 1630.6L376.0 1633.2L377.1 1635.8L378.3 1633.2L379.4 1633.2L380.6 1635.8L381.7 1638.4L382.9 1635.8L384.0 1630.6L385.2 1633.2L386.3 1635.8L387.5 1635.8L388.6 1628.0L389.8 1635.8L390.9 1633.2L392.1 1635.8L393.2 1638.4L394.4 1633.2L395.5 1633.2L396.7 1633.2L397.8 1630.6L399.0 1635.8L400.1 1635.8L401.3 1633.2L402.4 1633.2L403.6 1630.6L404.7 1633.2L405.9 1638.4L407.0 1633.2L408.2 1630.6L409.3 1638.4L410.5 1635.8L411.6 1638.4L412.8 1635.8L416.0 1635.8L417.1 1638.4L418.3 1638.4L419.4 1633.2L420.6 1638.4L421.7 1630.6L422.9 1633.2L424.0 1630.6L425.2 1638.4L426.3 1635.8L427.5 1633.2L431.6 1633.2L432.8 1638.4L433.9 1630.6L435.1 1638.4L436.2 1635.8L437.4 1635.8L438.5 1633.2L439.7 1635.8L440.8 1633.2L442.0 1635.8L443.1 1638.4L444.3 1638.4L445.4 1635.8L446.6 1638.4L447.7 1635.8L448.9 1635.8L450.0 1635.8L451.2 1630.6L452.3 1638.4L453.5 1635.8L454.6 1638.4L455.8 1635.8L456.9 1630.6L458.1 1635.8L459.2 1635.8L460.4 1638.4L461.5 1635.8L462.7 1630.6L463.8 1638.4L465.0 1635.8L466.1 1633.2L467.3 1635.8L468.4 1635.8L469.6 1630.6L470.7 1635.8L471.9 1638.4L473.0 1635.8L474.2 1633.2L475.3 1635.8L476.5 1635.8L477.6 1633.2L478.8 1638.4L479.9 1638.4L481.1 1635.8L482.2 1633.2L483.4 1638.4L484.5 1630.6L485.7 1635.8L486.8 1633.2L488.0 1635.8L489.1 1633.2L490.3 1635.8L491.4 1638.4L500.0 1635.8L501.2 1638.4L502.3 1638.4L503.5 1633.2L504.6 1625.4L505.8 1633.2L506.9 1635.8L508.1 1638.4L509.2 1635.8L510.4 1633.2L511.5 1638.4L512.7 1635.8L519.2 1638.4L520.0 1633.9L522.3 1634.3L524.1 1628.0L526.4 1633.9L528.4 1625.7L530.0 1637.5L531.3 1636.6L532.7 1628.4L537.2 1628.4L539.0 1637.1L541.8 1633.9L542.7 1618.5L543.4 1612.1L544.9 1613.5L545.7 1593.5L546.8 1593.5L547.4 1572.2L548.6 1582.2L549.5 1574.0L550.4 1573.1L551.3 1537.7L552.5 1537.3L553.4 1500.1L554.5 1535.9L555.4 1564.0L556.3 1591.2L557.2 1609.4L558.1 1613.0L559.2 1604.9L560.4 1585.8L561.5 1604.9L562.6 1613.9L563.8 1622.5L565.4 1622.5L566.1 1633.9L568.1 1635.7L570.8 1634.8L574.4 1634.3L575.8 1628.0L577.6 1633.9L579.4 1638.0L581.2 1631.6L582.6 1631.2L584.0 1632.5L584.9 1628.4L586.2 1629.3L587.4 1613.5L588.5 1612.1L589.4 1627.5L591.2 1632.5L593.5 1630.7L595.3 1633.0L596.6 1628.0L598.5 1633.0L599.3 1635.8L600.5 1633.2L601.6 1635.8L602.8 1638.4L603.9 1635.8L605.1 1633.2L606.2 1630.6L607.4 1635.8L608.5 1633.2L609.7 1633.2L610.8 1635.5L612.0 1629.4L613.1 1635.4L614.3 1635.8L615.4 1635.8L616.6 1638.4L617.7 1628.0L618.9 1635.8L620.0 1633.2L621.2 1635.8L622.3 1630.6L623.5 1635.8L624.6 1635.8L625.8 1633.2L626.9 1635.8L628.1 1638.4L629.2 1635.8L630.4 1633.2L631.5 1638.4L632.7 1635.8L633.8 1638.4L635.0 1633.2L636.1 1638.4L637.3 1635.8L638.4 1638.4L639.6 1635.8L640.7 1635.8L641.9 1638.4L643.0 1635.8L644.2 1638.4L645.3 1635.8L646.5 1638.4L651.1 1638.4L652.2 1638.4L653.4 1630.6L654.5 1633.2L660.7 1635.8L661.8 1633.2L663.0 1635.8L664.1 1633.2L665.3 1633.2L666.4 1635.8L667.6 1635.8L668.7 1628.0L670.0 1627.4L671.0 1633.2L672.2 1628.0L673.3 1638.4L674.5 1633.2L675.6 1638.4L676.8 1628.0L677.9 1638.4L679.1 1635.8L680.2 1635.8L681.4 1635.8L682.5 1635.8L683.7 1638.4L684.8 1635.8L686.0 1635.8L687.1 1635.8L688.3 1638.4L689.4 1633.2L690.6 1635.8L691.7 1633.2L692.9 1635.8L694.0 1633.2L695.2 1635.8L696.3 1638.4L697.5 1633.2L698.6 1638.4L704.2 1635.8L705.4 1638.4L706.5 1635.8L707.7 1638.4L708.8 1635.8L710.0 1633.2L711.1 1633.2L712.3 1633.2L713.4 1635.8L714.6 1638.4L715.7 1635.8L716.9 1633.2L718.0 1630.6L719.2 1635.8L720.3 1635.8L721.5 1633.2L726.2 1635.8L727.4 1635.8L728.5 1633.2L729.7 1635.8L730.8 1628.0L732.0 1638.4L733.1 1635.8L734.3 1630.6L735.4 1638.4L736.6 1635.8L737.7 1633.2L738.9 1638.4L742.3 1635.8L743.5 1635.8L744.6 1635.8L745.8 1633.2L746.9 1635.8L748.1 1638.4L749.2 1628.0L750.4 1633.2L751.5 1638.4L752.7 1635.8L753.8 1630.6L755.0 1638.4L756.1 1635.8L757.3 1635.8L758.4 1638.4L759.6 1635.8L760.7 1638.4L761.9 1633.2L763.0 1635.8L764.2 1633.2L765.3 1638.4L766.5 1635.8L767.6 1635.8L768.8 1638.4L769.9 1638.4L771.1 1635.8L772.2 1638.4L773.4 1633.2L774.5 1633.2L775.7 1635.8L776.8 1638.4L778.0 1635.8L779.1 1633.2L780.3 1633.2L781.4 1633.2L789.7 1635.8L790.9 1638.4L795.3 1635.8L796.5 1638.4L797.6 1635.8L798.8 1635.8L799.9 1630.6L801.1 1635.8L802.2 1633.2L803.4 1638.4L804.5 1635.8L805.7 1630.6L806.8 1635.8L808.0 1635.8L809.1 1628.0L810.3 1638.4L811.4 1635.8L812.6 1635.8L813.7 1633.2L814.9 1638.4L816.0 1633.2L817.2 1628.0L818.3 1635.8L819.5 1630.6L820.6 1633.2L821.8 1633.2L822.9 1630.6L824.1 1635.8L825.2 1630.6L826.4 1635.8L827.5 1635.8L828.7 1633.2L829.8 1638.4L831.0 1635.8L832.1 1638.2L833.3 1632.4L834.0 1627.4L835.6 1633.9L836.7 1633.2L837.9 1635.8L839.0 1638.4L840.2 1635.8L841.3 1633.2L842.5 1635.8L843.6 1633.2L844.8 1635.8L852.9 1638.4L854.0 1638.4L855.2 1635.8L856.3 1635.8L857.5 1628.0L858.6 1635.8L859.8 1638.4L860.9 1633.2L862.1 1638.4L863.2 1635.8L864.4 1633.2L865.5 1630.6L866.7 1638.4L867.8 1630.6L869.0 1638.4L870.1 1630.6L871.3 1638.4L872.4 1635.8L873.6 1638.4L874.7 1633.2L875.9 1635.8L877.0 1630.6L878.2 1638.4L879.3 1635.8L885.6 1633.2L886.8 1633.2L887.9 1638.4L889.1 1635.8L890.2 1638.4L891.4 1633.2L892.5 1635.8L893.7 1635.8L894.8 1635.8L896.0 1633.2L904.0 1634.7L905.2 1628.0L906.3 1628.8L907.5 1627.0L909.0 1620.4L909.8 1624.1L910.9 1621.1L912.1 1619.6L913.0 1617.4L914.4 1621.5L915.5 1622.8L917.0 1620.4L917.8 1625.2L919.0 1630.6L920.1 1633.2L921.3 1633.2L922.4 1633.2L923.6 1638.4L924.7 1635.8L925.9 1638.4L927.0 1638.4L928.2 1633.2L929.3 1638.4L930.5 1630.6L931.6 1635.8L932.8 1635.8L933.9 1633.2L935.1 1635.8L936.2 1635.8L937.4 1633.2L938.5 1633.2L939.7 1638.4L940.8 1635.8L942.0 1633.2L943.1 1633.2L944.3 1633.2L945.4 1635.8L946.6 1635.8L947.7 1638.4L948.9 1633.2L950.0 1635.8L951.2 1628.0L952.3 1638.4L959.4 1630.6L960.5 1638.4L961.7 1635.8L962.8 1633.2L964.0 1630.6L965.1 1635.8L966.3 1638.4L967.4 1630.6L968.6 1635.8L969.7 1635.8L970.9 1635.8L972.0 1633.2L973.2 1638.4L974.3 1630.6L975.5 1638.4L976.6 1635.8L977.8 1633.2L978.9 1630.6L980.1 1638.4L981.2 1635.8L982.4 1635.8L983.5 1638.4L984.7 1628.0L985.8 1633.2L987.0 1635.8L988.1 1638.4L989.3 1635.8L990.4 1638.4L991.6 1630.6L992.7 1635.8L993.9 1635.8L995.0 1635.8L996.2 1638.4L997.3 1635.8L998.5 1635.8L999.6 1635.8L1000.8 1633.2L1001.9 1628.0L1003.1 1635.8L1004.2 1638.4L1005.4 1635.8L1006.5 1633.2L1007.7 1633.2L1008.8 1638.4L1010.0 1635.8L1011.1 1638.4L1012.3 1635.8L1013.4 1633.2L1014.6 1635.8L1015.7 1633.2L1016.9 1635.8L1022.0 1638.4L1023.1 1635.8L1024.3 1628.0L1025.4 1633.2L1026.6 1635.8L1027.7 1638.4L1028.9 1635.8L1030.0 1638.4L1031.2 1633.2L1032.3 1635.8L1033.5 1633.2L1034.6 1638.4L1035.8 1633.2L1036.9 1635.8L1038.1 1628.0L1039.2 1635.8L1040.4 1635.8L1041.5 1635.8L1042.7 1633.2L1047.4 1633.2L1048.6 1635.8L1049.7 1635.8L1050.9 1638.4L1052.0 1635.8L1053.2 1628.0L1054.3 1638.4L1055.5 1630.6L1056.6 1635.8L1057.8 1635.8L1058.9 1638.4L1060.1 1635.8L1061.2 1638.4L1062.4 1625.4L1063.5 1635.8L1064.7 1633.2L1065.8 1635.8L1067.0 1633.2L1068.1 1635.8L1069.3 1638.4L1070.4 1635.8L1071.6 1638.4L1072.7 1633.2L1073.9 1635.8L1075.0 1633.2L1076.2 1635.8L1077.3 1635.8L1078.5 1635.8L1085.9 1638.4L1087.1 1635.8L1088.2 1638.4L1089.4 1630.6L1097.0 1635.8L1098.1 1633.2L1099.3 1635.8L1107.6 1635.8L1108.8 1635.8L1109.9 1633.2L1111.1 1628.0L1112.2 1633.2L1113.4 1638.4L1114.5 1633.2L1115.7 1638.4L1116.8 1630.6L1118.0 1633.2L1119.1 1628.0L1120.3 1633.2L1121.4 1638.4L1122.6 1633.2L1123.7 1635.8L1124.9 1628.0L1126.0 1633.2L1127.2 1630.6L1128.3 1635.8L1129.5 1633.2L1130.6 1638.4L1131.8 1633.2L1132.9 1635.8L1134.1 1638.4L1135.2 1628.0L1136.4 1635.8L1137.5 1633.2L1138.7 1635.8L1139.8 1638.4L1141.0 1638.4L1142.1 1638.4L1143.3 1635.8L1144.4 1638.4L1145.6 1635.8L1146.7 1630.6L1147.9 1635.8L1149.0 1635.8L1150.2 1633.2L1151.3 1633.2L1152.5 1633.2L1153.6 1630.6L1154.8 1638.4L1155.9 1635.8L1157.1 1630.6L1158.2 1635.8L1159.4 1633.2L1160.5 1635.8L1161.7 1638.4L1162.8 1633.2L1164.0 1635.8L1172.4 1638.4L1173.5 1635.8L1174.7 1635.8L1175.8 1638.4L1177.0 1638.4L1178.1 1635.8L1179.3 1633.2L1180.4 1638.4L1181.6 1635.8L1182.7 1635.8L1183.9 1630.6L1185.0 1635.8L1186.2 1638.4L1187.3 1635.8L1188.5 1635.8L1189.6 1630.6L1191.0 1627.4L1191.9 1625.4L1193.1 1633.2L1194.2 1630.6L1195.4 1635.8L1196.5 1638.4L1197.7 1630.6L1198.8 1638.4L1200.0 1638.4L1201.1 1630.6L1202.3 1638.4L1203.4 1633.2L1204.6 1638.4L1205.7 1635.8L1206.9 1630.6L1208.0 1635.8L1209.2 1638.4L1210.3 1630.6L1211.5 1635.8L1212.6 1638.4L1213.8 1635.8L1214.9 1630.6L1216.1 1638.4L1217.2 1638.4L1218.4 1635.8L1219.5 1633.2L1220.7 1638.4L1221.8 1635.8L1223.0 1638.4L1224.1 1635.8L1225.3 1638.4L1226.4 1635.8L1227.6 1630.6L1228.7 1633.2L1229.9 1630.6L1231.0 1635.8L1232.2 1633.2L1233.3 1638.4L1234.5 1635.8L1235.6 1633.2L1236.8 1638.4L1244.5 1635.8L1245.7 1635.8L1246.8 1633.2L1248.0 1635.8L1249.1 1630.6L1250.3 1635.8L1251.4 1633.2L1252.6 1635.8L1253.7 1635.8L1254.9 1625.4L1262.4 1633.2L1263.5 1635.8L1264.7 1633.2L1265.8 1635.8L1267.0 1635.8L1268.1 1633.2L1269.3 1635.8L1270.4 1631.5L1271.0 1627.4L1272.7 1633.2L1273.9 1635.8L1275.0 1635.8L1276.2 1633.2L1277.3 1638.4L1278.5 1638.4L1279.6 1635.8L1280.8 1638.4L1281.9 1638.4L1283.1 1628.0L1284.2 1633.2L1285.4 1628.0L1286.5 1633.2L1287.7 1633.2L1288.8 1635.8L1290.0 1638.4L1291.1 1633.2L1292.3 1630.6L1293.4 1638.4L1294.6 1635.8L1299.0 1622.4L1304.0 1624.4L1305.1 1629.8L1306.3 1634.0L1307.4 1637.3L1308.6 1633.2L1309.7 1638.4L1310.9 1628.0L1312.0 1638.4L1313.2 1630.6L1314.3 1638.4L1315.5 1635.8L1316.6 1638.4L1317.8 1630.6L1318.9 1638.4L1320.1 1635.8L1321.2 1635.8L1322.4 1633.2L1323.5 1630.6L1324.7 1633.2L1325.8 1635.8L1327.0 1638.4L1328.1 1633.2L1329.3 1633.2L1330.4 1635.8L1331.6 1630.6L1332.7 1635.8L1333.9 1633.2L1335.0 1635.8L1336.2 1638.4L1337.3 1635.8L1338.5 1635.8L1339.6 1635.8L1340.8 1638.4L1341.9 1635.8L1343.1 1635.8L1344.2 1638.4L1345.4 1633.2L1346.5 1635.8L1347.7 1635.8L1348.8 1638.4L1350.0 1633.2L1351.1 1638.4L1352.3 1635.8L1353.4 1638.4L1354.6 1635.8L1355.7 1638.4L1356.9 1635.8L1358.0 1638.4L1359.2 1635.8L1360.3 1638.4L1361.5 1635.8L1363.0 1627.4L1363.8 1632.5L1364.9 1638.2L1366.1 1635.8L1367.2 1630.6L1368.4 1635.8L1369.5 1633.2L1370.7 1635.8L1371.8 1638.4L1373.0 1638.4L1374.1 1633.2L1375.3 1638.4L1376.4 1633.2L1377.6 1633.2L1378.7 1635.8L1379.9 1635.8L1381.0 1630.6L1382.2 1638.4L1383.3 1635.8L1384.5 1633.2L1385.6 1635.8L1386.8 1630.6L1387.9 1638.4L1389.1 1635.8L1390.2 1638.4L1391.4 1630.6L1392.5 1635.8L1393.7 1633.2L1394.8 1638.4L1396.0 1635.8L1397.1 1638.4L1398.3 1638.4L1399.4 1633.2L1400.6 1633.2L1401.7 1633.2L1402.9 1635.8L1404.0 1638.4L1405.2 1638.4L1406.3 1635.8L1407.5 1625.4L1408.6 1635.8L1409.8 1630.6L1410.9 1633.2L1412.1 1635.8L1413.2 1638.4L1414.4 1630.6L1415.5 1635.8L1416.7 1633.2L1422.5 1635.8L1422.5 1638.4Z"/><path class="s" d="M271.4 1628.9L273.6 1611.7L275.0 1628.9L276.8 1623.4L278.4 1623.0L279.5 1609.4L280.6 1609.4L281.5 1628.0L282.9 1625.7L284.5 1630.7L286.8 1634.3L288.1 1637.5L290.4 1628.9L291.8 1628.0L292.7 1617.6L293.6 1618.9L294.5 1630.7L296.3 1635.2L297.2 1633.4L298.6 1637.1L302.2 1636.1L303.6 1630.7L304.9 1636.6L308.1 1638.0L311.3 1633.4L313.5 1633.9L314.9 1637.1L319.4 1636.6L324.0 1637.1L325.8 1633.4L327.4 1630.7L329.4 1635.2L331.2 1637.5L333.5 1628.0L334.8 1633.9L337.6 1630.7L339.8 1628.4L341.6 1628.4L342.6 1631.6L344.8 1630.7L345.6 1633.2L346.7 1638.4L347.9 1633.2L349.0 1630.6L350.2 1633.2L351.3 1635.8L352.5 1638.4L359.9 1635.8L361.0 1638.4L362.2 1630.6L363.3 1635.8L364.5 1635.8L365.6 1635.8L366.8 1633.2L367.9 1633.2L369.1 1633.2L370.2 1635.8L371.4 1633.2L372.5 1635.8L373.7 1638.4L374.8 1630.6L376.0 1633.2L377.1 1635.8L378.3 1633.2L379.4 1633.2L380.6 1635.8L381.7 1638.4L382.9 1635.8L384.0 1630.6L385.2 1633.2L386.3 1635.8L387.5 1635.8L388.6 1628.0L389.8 1635.8L390.9 1633.2L392.1 1635.8L393.2 1638.4L394.4 1633.2L395.5 1633.2L396.7 1633.2L397.8 1630.6L399.0 1635.8L400.1 1635.8L401.3 1633.2L402.4 1633.2L403.6 1630.6L404.7 1633.2L405.9 1638.4L407.0 1633.2L408.2 1630.6L409.3 1638.4L410.5 1635.8L411.6 1638.4L412.8 1635.8L416.0 1635.8L417.1 1638.4L418.3 1638.4L419.4 1633.2L420.6 1638.4L421.7 1630.6L422.9 1633.2L424.0 1630.6L425.2 1638.4L426.3 1635.8L427.5 1633.2L431.6 1633.2L432.8 1638.4L433.9 1630.6L435.1 1638.4L436.2 1635.8L437.4 1635.8L438.5 1633.2L439.7 1635.8L440.8 1633.2L442.0 1635.8L443.1 1638.4L444.3 1638.4L445.4 1635.8L446.6 1638.4L447.7 1635.8L448.9 1635.8L450.0 1635.8L451.2 1630.6L452.3 1638.4L453.5 1635.8L454.6 1638.4L455.8 1635.8L456.9 1630.6L458.1 1635.8L459.2 1635.8L460.4 1638.4L461.5 1635.8L462.7 1630.6L463.8 1638.4L465.0 1635.8L466.1 1633.2L467.3 1635.8L468.4 1635.8L469.6 1630.6L470.7 1635.8L471.9 1638.4L473.0 1635.8L474.2 1633.2L475.3 1635.8L476.5 1635.8L477.6 1633.2L478.8 1638.4L479.9 1638.4L481.1 1635.8L482.2 1633.2L483.4 1638.4L484.5 1630.6L485.7 1635.8L486.8 1633.2L488.0 1635.8L489.1 1633.2L490.3 1635.8L491.4 1638.4L500.0 1635.8L501.2 1638.4L502.3 1638.4L503.5 1633.2L504.6 1625.4L505.8 1633.2L506.9 1635.8L508.1 1638.4L509.2 1635.8L510.4 1633.2L511.5 1638.4L512.7 1635.8L519.2 1638.4L520.0 1633.9L522.3 1634.3L524.1 1628.0L526.4 1633.9L528.4 1625.7L530.0 1637.5L531.3 1636.6L532.7 1628.4L537.2 1628.4L539.0 1637.1L541.8 1633.9L542.7 1618.5L543.4 1612.1L544.9 1613.5L545.7 1593.5L546.8 1593.5L547.4 1572.2L548.6 1582.2L549.5 1574.0L550.4 1573.1L551.3 1537.7L552.5 1537.3L553.4 1500.1L554.5 1535.9L555.4 1564.0L556.3 1591.2L557.2 1609.4L558.1 1613.0L559.2 1604.9L560.4 1585.8L561.5 1604.9L562.6 1613.9L563.8 1622.5L565.4 1622.5L566.1 1633.9L568.1 1635.7L570.8 1634.8L574.4 1634.3L575.8 1628.0L577.6 1633.9L579.4 1638.0L581.2 1631.6L582.6 1631.2L584.0 1632.5L584.9 1628.4L586.2 1629.3L587.4 1613.5L588.5 1612.1L589.4 1627.5L591.2 1632.5L593.5 1630.7L595.3 1633.0L596.6 1628.0L598.5 1633.0L599.3 1635.8L600.5 1633.2L601.6 1635.8L602.8 1638.4L603.9 1635.8L605.1 1633.2L606.2 1630.6L607.4 1635.8L608.5 1633.2L609.7 1633.2L610.8 1635.5L612.0 1629.4L613.1 1635.4L614.3 1635.8L615.4 1635.8L616.6 1638.4L617.7 1628.0L618.9 1635.8L620.0 1633.2L621.2 1635.8L622.3 1630.6L623.5 1635.8L624.6 1635.8L625.8 1633.2L626.9 1635.8L628.1 1638.4L629.2 1635.8L630.4 1633.2L631.5 1638.4L632.7 1635.8L633.8 1638.4L635.0 1633.2L636.1 1638.4L637.3 1635.8L638.4 1638.4L639.6 1635.8L640.7 1635.8L641.9 1638.4L643.0 1635.8L644.2 1638.4L645.3 1635.8L646.5 1638.4L651.1 1638.4L652.2 1638.4L653.4 1630.6L654.5 1633.2L660.7 1635.8L661.8 1633.2L663.0 1635.8L664.1 1633.2L665.3 1633.2L666.4 1635.8L667.6 1635.8L668.7 1628.0L670.0 1627.4L671.0 1633.2L672.2 1628.0L673.3 1638.4L674.5 1633.2L675.6 1638.4L676.8 1628.0L677.9 1638.4L679.1 1635.8L680.2 1635.8L681.4 1635.8L682.5 1635.8L683.7 1638.4L684.8 1635.8L686.0 1635.8L687.1 1635.8L688.3 1638.4L689.4 1633.2L690.6 1635.8L691.7 1633.2L692.9 1635.8L694.0 1633.2L695.2 1635.8L696.3 1638.4L697.5 1633.2L698.6 1638.4L704.2 1635.8L705.4 1638.4L706.5 1635.8L707.7 1638.4L708.8 1635.8L710.0 1633.2L711.1 1633.2L712.3 1633.2L713.4 1635.8L714.6 1638.4L715.7 1635.8L716.9 1633.2L718.0 1630.6L719.2 1635.8L720.3 1635.8L721.5 1633.2L726.2 1635.8L727.4 1635.8L728.5 1633.2L729.7 1635.8L730.8 1628.0L732.0 1638.4L733.1 1635.8L734.3 1630.6L735.4 1638.4L736.6 1635.8L737.7 1633.2L738.9 1638.4L742.3 1635.8L743.5 1635.8L744.6 1635.8L745.8 1633.2L746.9 1635.8L748.1 1638.4L749.2 1628.0L750.4 1633.2L751.5 1638.4L752.7 1635.8L753.8 1630.6L755.0 1638.4L756.1 1635.8L757.3 1635.8L758.4 1638.4L759.6 1635.8L760.7 1638.4L761.9 1633.2L763.0 1635.8L764.2 1633.2L765.3 1638.4L766.5 1635.8L767.6 1635.8L768.8 1638.4L769.9 1638.4L771.1 1635.8L772.2 1638.4L773.4 1633.2L774.5 1633.2L775.7 1635.8L776.8 1638.4L778.0 1635.8L779.1 1633.2L780.3 1633.2L781.4 1633.2L789.7 1635.8L790.9 1638.4L795.3 1635.8L796.5 1638.4L797.6 1635.8L798.8 1635.8L799.9 1630.6L801.1 1635.8L802.2 1633.2L803.4 1638.4L804.5 1635.8L805.7 1630.6L806.8 1635.8L808.0 1635.8L809.1 1628.0L810.3 1638.4L811.4 1635.8L812.6 1635.8L813.7 1633.2L814.9 1638.4L816.0 1633.2L817.2 1628.0L818.3 1635.8L819.5 1630.6L820.6 1633.2L821.8 1633.2L822.9 1630.6L824.1 1635.8L825.2 1630.6L826.4 1635.8L827.5 1635.8L828.7 1633.2L829.8 1638.4L831.0 1635.8L832.1 1638.2L833.3 1632.4L834.0 1627.4L835.6 1633.9L836.7 1633.2L837.9 1635.8L839.0 1638.4L840.2 1635.8L841.3 1633.2L842.5 1635.8L843.6 1633.2L844.8 1635.8L852.9 1638.4L854.0 1638.4L855.2 1635.8L856.3 1635.8L857.5 1628.0L858.6 1635.8L859.8 1638.4L860.9 1633.2L862.1 1638.4L863.2 1635.8L864.4 1633.2L865.5 1630.6L866.7 1638.4L867.8 1630.6L869.0 1638.4L870.1 1630.6L871.3 1638.4L872.4 1635.8L873.6 1638.4L874.7 1633.2L875.9 1635.8L877.0 1630.6L878.2 1638.4L879.3 1635.8L885.6 1633.2L886.8 1633.2L887.9 1638.4L889.1 1635.8L890.2 1638.4L891.4 1633.2L892.5 1635.8L893.7 1635.8L894.8 1635.8L896.0 1633.2L904.0 1634.7L905.2 1628.0L906.3 1628.8L907.5 1627.0L909.0 1620.4L909.8 1624.1L910.9 1621.1L912.1 1619.6L913.0 1617.4L914.4 1621.5L915.5 1622.8L917.0 1620.4L917.8 1625.2L919.0 1630.6L920.1 1633.2L921.3 1633.2L922.4 1633.2L923.6 1638.4L924.7 1635.8L925.9 1638.4L927.0 1638.4L928.2 1633.2L929.3 1638.4L930.5 1630.6L931.6 1635.8L932.8 1635.8L933.9 1633.2L935.1 1635.8L936.2 1635.8L937.4 1633.2L938.5 1633.2L939.7 1638.4L940.8 1635.8L942.0 1633.2L943.1 1633.2L944.3 1633.2L945.4 1635.8L946.6 1635.8L947.7 1638.4L948.9 1633.2L950.0 1635.8L951.2 1628.0L952.3 1638.4L959.4 1630.6L960.5 1638.4L961.7 1635.8L962.8 1633.2L964.0 1630.6L965.1 1635.8L966.3 1638.4L967.4 1630.6L968.6 1635.8L969.7 1635.8L970.9 1635.8L972.0 1633.2L973.2 1638.4L974.3 1630.6L975.5 1638.4L976.6 1635.8L977.8 1633.2L978.9 1630.6L980.1 1638.4L981.2 1635.8L982.4 1635.8L983.5 1638.4L984.7 1628.0L985.8 1633.2L987.0 1635.8L988.1 1638.4L989.3 1635.8L990.4 1638.4L991.6 1630.6L992.7 1635.8L993.9 1635.8L995.0 1635.8L996.2 1638.4L997.3 1635.8L998.5 1635.8L999.6 1635.8L1000.8 1633.2L1001.9 1628.0L1003.1 1635.8L1004.2 1638.4L1005.4 1635.8L1006.5 1633.2L1007.7 1633.2L1008.8 1638.4L1010.0 1635.8L1011.1 1638.4L1012.3 1635.8L1013.4 1633.2L1014.6 1635.8L1015.7 1633.2L1016.9 1635.8L1022.0 1638.4L1023.1 1635.8L1024.3 1628.0L1025.4 1633.2L1026.6 1635.8L1027.7 1638.4L1028.9 1635.8L1030.0 1638.4L1031.2 1633.2L1032.3 1635.8L1033.5 1633.2L1034.6 1638.4L1035.8 1633.2L1036.9 1635.8L1038.1 1628.0L1039.2 1635.8L1040.4 1635.8L1041.5 1635.8L1042.7 1633.2L1047.4 1633.2L1048.6 1635.8L1049.7 1635.8L1050.9 1638.4L1052.0 1635.8L1053.2 1628.0L1054.3 1638.4L1055.5 1630.6L1056.6 1635.8L1057.8 1635.8L1058.9 1638.4L1060.1 1635.8L1061.2 1638.4L1062.4 1625.4L1063.5 1635.8L1064.7 1633.2L1065.8 1635.8L1067.0 1633.2L1068.1 1635.8L1069.3 1638.4L1070.4 1635.8L1071.6 1638.4L1072.7 1633.2L1073.9 1635.8L1075.0 1633.2L1076.2 1635.8L1077.3 1635.8L1078.5 1635.8L1085.9 1638.4L1087.1 1635.8L1088.2 1638.4L1089.4 1630.6L1097.0 1635.8L1098.1 1633.2L1099.3 1635.8L1107.6 1635.8L1108.8 1635.8L1109.9 1633.2L1111.1 1628.0L1112.2 1633.2L1113.4 1638.4L1114.5 1633.2L1115.7 1638.4L1116.8 1630.6L1118.0 1633.2L1119.1 1628.0L1120.3 1633.2L1121.4 1638.4L1122.6 1633.2L1123.7 1635.8L1124.9 1628.0L1126.0 1633.2L1127.2 1630.6L1128.3 1635.8L1129.5 1633.2L1130.6 1638.4L1131.8 1633.2L1132.9 1635.8L1134.1 1638.4L1135.2 1628.0L1136.4 1635.8L1137.5 1633.2L1138.7 1635.8L1139.8 1638.4L1141.0 1638.4L1142.1 1638.4L1143.3 1635.8L1144.4 1638.4L1145.6 1635.8L1146.7 1630.6L1147.9 1635.8L1149.0 1635.8L1150.2 1633.2L1151.3 1633.2L1152.5 1633.2L1153.6 1630.6L1154.8 1638.4L1155.9 1635.8L1157.1 1630.6L1158.2 1635.8L1159.4 1633.2L1160.5 1635.8L1161.7 1638.4L1162.8 1633.2L1164.0 1635.8L1172.4 1638.4L1173.5 1635.8L1174.7 1635.8L1175.8 1638.4L1177.0 1638.4L1178.1 1635.8L1179.3 1633.2L1180.4 1638.4L1181.6 1635.8L1182.7 1635.8L1183.9 1630.6L1185.0 1635.8L1186.2 1638.4L1187.3 1635.8L1188.5 1635.8L1189.6 1630.6L1191.0 1627.4L1191.9 1625.4L1193.1 1633.2L1194.2 1630.6L1195.4 1635.8L1196.5 1638.4L1197.7 1630.6L1198.8 1638.4L1200.0 1638.4L1201.1 1630.6L1202.3 1638.4L1203.4 1633.2L1204.6 1638.4L1205.7 1635.8L1206.9 1630.6L1208.0 1635.8L1209.2 1638.4L1210.3 1630.6L1211.5 1635.8L1212.6 1638.4L1213.8 1635.8L1214.9 1630.6L1216.1 1638.4L1217.2 1638.4L1218.4 1635.8L1219.5 1633.2L1220.7 1638.4L1221.8 1635.8L1223.0 1638.4L1224.1 1635.8L1225.3 1638.4L1226.4 1635.8L1227.6 1630.6L1228.7 1633.2L1229.9 1630.6L1231.0 1635.8L1232.2 1633.2L1233.3 1638.4L1234.5 1635.8L1235.6 1633.2L1236.8 1638.4L1244.5 1635.8L1245.7 1635.8L1246.8 1633.2L1248.0 1635.8L1249.1 1630.6L1250.3 1635.8L1251.4 1633.2L1252.6 1635.8L1253.7 1635.8L1254.9 1625.4L1262.4 1633.2L1263.5 1635.8L1264.7 1633.2L1265.8 1635.8L1267.0 1635.8L1268.1 1633.2L1269.3 1635.8L1270.4 1631.5L1271.0 1627.4L1272.7 1633.2L1273.9 1635.8L1275.0 1635.8L1276.2 1633.2L1277.3 1638.4L1278.5 1638.4L1279.6 1635.8L1280.8 1638.4L1281.9 1638.4L1283.1 1628.0L1284.2 1633.2L1285.4 1628.0L1286.5 1633.2L1287.7 1633.2L1288.8 1635.8L1290.0 1638.4L1291.1 1633.2L1292.3 1630.6L1293.4 1638.4L1294.6 1635.8L1299.0 1622.4L1304.0 1624.4L1305.1 1629.8L1306.3 1634.0L1307.4 1637.3L1308.6 1633.2L1309.7 1638.4L1310.9 1628.0L1312.0 1638.4L1313.2 1630.6L1314.3 1638.4L1315.5 1635.8L1316.6 1638.4L1317.8 1630.6L1318.9 1638.4L1320.1 1635.8L1321.2 1635.8L1322.4 1633.2L1323.5 1630.6L1324.7 1633.2L1325.8 1635.8L1327.0 1638.4L1328.1 1633.2L1329.3 1633.2L1330.4 1635.8L1331.6 1630.6L1332.7 1635.8L1333.9 1633.2L1335.0 1635.8L1336.2 1638.4L1337.3 1635.8L1338.5 1635.8L1339.6 1635.8L1340.8 1638.4L1341.9 1635.8L1343.1 1635.8L1344.2 1638.4L1345.4 1633.2L1346.5 1635.8L1347.7 1635.8L1348.8 1638.4L1350.0 1633.2L1351.1 1638.4L1352.3 1635.8L1353.4 1638.4L1354.6 1635.8L1355.7 1638.4L1356.9 1635.8L1358.0 1638.4L1359.2 1635.8L1360.3 1638.4L1361.5 1635.8L1363.0 1627.4L1363.8 1632.5L1364.9 1638.2L1366.1 1635.8L1367.2 1630.6L1368.4 1635.8L1369.5 1633.2L1370.7 1635.8L1371.8 1638.4L1373.0 1638.4L1374.1 1633.2L1375.3 1638.4L1376.4 1633.2L1377.6 1633.2L1378.7 1635.8L1379.9 1635.8L1381.0 1630.6L1382.2 1638.4L1383.3 1635.8L1384.5 1633.2L1385.6 1635.8L1386.8 1630.6L1387.9 1638.4L1389.1 1635.8L1390.2 1638.4L1391.4 1630.6L1392.5 1635.8L1393.7 1633.2L1394.8 1638.4L1396.0 1635.8L1397.1 1638.4L1398.3 1638.4L1399.4 1633.2L1400.6 1633.2L1401.7 1633.2L1402.9 1635.8L1404.0 1638.4L1405.2 1638.4L1406.3 1635.8L1407.5 1625.4L1408.6 1635.8L1409.8 1630.6L1410.9 1633.2L1412.1 1635.8L1413.2 1638.4L1414.4 1630.6L1415.5 1635.8L1416.7 1633.2L1422.5 1635.8"/>
<path class="ax" d="M259.5 1499.9H271V1638.4H259.5"/>
<text class="tk" x="252.4" y="1503.0">45</text>
<text class="tk" x="252.4" y="1641.5">0</text>
<text class="lab" x="73.3" y="1575.1">GSM2481682</text>
<path class="f" d="M323.3 1792.3L323.3 1792.3L376.3 1723.1L430.1 1792.3L483.8 1723.1L521.2 1792.3L558.0 1723.1L572.9 1792.3L586.5 1723.1L588.2 1764.6L589.3 1723.1L715.1 1792.3L841.0 1723.1L841.6 1653.8L842.3 1723.1L850.5 1792.3L859.3 1653.8L886.5 1792.3L915.1 1723.1L1170.2 1792.3L1170.2 1792.3Z"/><path class="s" d="M323.3 1792.3L376.3 1723.1L430.1 1792.3L483.8 1723.1L521.2 1792.3L558.0 1723.1L572.9 1792.3L586.5 1723.1L588.2 1764.6L589.3 1723.1L715.1 1792.3L841.0 1723.1L841.6 1653.8L842.3 1723.1L850.5 1792.3L859.3 1653.8L886.5 1792.3L915.1 1723.1L1170.2 1792.3"/>
<path class="ax" d="M259.5 1653.8H271V1792.3H259.5"/>
<text class="tk" x="252.4" y="1656.9">137</text>
<text class="tk" x="252.4" y="1795.4">0</text>
<text class="lab" x="73.3" y="1729.0">GSM2481681</text>
<path class="f" d="M270.9 1946.3L270.9 1807.8L279.7 1946.3L289.3 1807.8L343.0 1946.3L396.1 1807.8L401.5 1946.3L409.0 1807.8L446.4 1946.3L483.8 1807.8L572.2 1946.3L660.0 1807.8L717.8 1946.3L775.6 1807.8L833.5 1946.3L889.0 1807.8L945.4 1946.3L1001.2 1807.8L1008.7 1946.3L1016.2 1807.8L1132.5 1946.3L1246.8 1807.8L1247.8 1863.2L1248.8 1807.8L1292.4 1946.3L1334.6 1807.8L1335.6 1863.2L1336.6 1807.8L1374.7 1946.3L1412.8 1807.8L1414.1 1835.5L1415.5 1807.8L1418.9 1946.3L1418.9 1946.3Z"/><path class="s" d="M270.9 1807.8L279.7 1946.3L289.3 1807.8L343.0 1946.3L396.1 1807.8L401.5 1946.3L409.0 1807.8L446.4 1946.3L483.8 1807.8L572.2 1946.3L660.0 1807.8L717.8 1946.3L775.6 1807.8L833.5 1946.3L889.0 1807.8L945.4 1946.3L1001.2 1807.8L1008.7 1946.3L1016.2 1807.8L1132.5 1946.3L1246.8 1807.8L1247.8 1863.2L1248.8 1807.8L1292.4 1946.3L1334.6 1807.8L1335.6 1863.2L1336.6 1807.8L1374.7 1946.3L1412.8 1807.8L1414.1 1835.5L1415.5 1807.8L1418.9 1946.3"/>
<path class="ax" d="M259.5 1807.8H271V1946.3H259.5"/>
<text class="tk" x="252.4" y="1810.9">40</text>
<text class="tk" x="252.4" y="1949.4">0</text>
<text class="lab" x="73.3" y="1883.0">GSM2481680</text>
<path class="f" d="M275.5 2100.2L275.5 2100.2L280.4 2092.2L281.7 2087.5L283.1 2093.3L286.4 2099.3L290.4 2093.8L292.2 2083.2L293.2 2055.9L294.6 1961.7L295.2 1961.7L296.2 2055.9L297.1 2083.2L298.0 2093.6L321.2 2100.2L343.0 2094.0L350.5 2100.2L358.6 2094.0L385.9 2100.2L410.3 2094.0L411.0 2087.8L411.7 2094.0L417.8 2100.2L423.3 2094.0L484.5 2100.2L541.6 2094.0L543.7 2075.3L545.7 2097.5L551.2 2097.5L552.5 2087.8L554.6 2075.3L555.9 2093.3L558.0 2087.8L560.0 2097.5L564.8 2100.2L572.9 2094.0L630.7 2100.2L686.5 2094.0L736.2 2100.2L783.8 2094.0L826.7 2100.2L867.2 2094.0L882.2 2100.2L897.8 2094.0L920.3 2100.2L944.8 2094.0L945.4 2087.8L946.1 2094.0L948.8 2098.8L952.2 2094.0L982.9 2100.2L1014.8 2094.0L1044.1 2100.2L1071.3 2094.0L1089.7 2100.2L1107.3 2094.0L1129.1 2100.2L1152.9 2094.0L1155.0 2098.8L1157.7 2094.0L1165.2 2100.2L1173.3 2094.0L1174.0 2087.8L1174.7 2094.0L1186.9 2100.2L1197.8 2094.0L1210.7 2100.2L1221.0 2094.0L1323.0 2100.2L1323.0 2100.2Z"/><path class="s" d="M275.5 2100.2L280.4 2092.2L281.7 2087.5L283.1 2093.3L286.4 2099.3L290.4 2093.8L292.2 2083.2L293.2 2055.9L294.6 1961.7L295.2 1961.7L296.2 2055.9L297.1 2083.2L298.0 2093.6L321.2 2100.2L343.0 2094.0L350.5 2100.2L358.6 2094.0L385.9 2100.2L410.3 2094.0L411.0 2087.8L411.7 2094.0L417.8 2100.2L423.3 2094.0L484.5 2100.2L541.6 2094.0L543.7 2075.3L545.7 2097.5L551.2 2097.5L552.5 2087.8L554.6 2075.3L555.9 2093.3L558.0 2087.8L560.0 2097.5L564.8 2100.2L572.9 2094.0L630.7 2100.2L686.5 2094.0L736.2 2100.2L783.8 2094.0L826.7 2100.2L867.2 2094.0L882.2 2100.2L897.8 2094.0L920.3 2100.2L944.8 2094.0L945.4 2087.8L946.1 2094.0L948.8 2098.8L952.2 2094.0L982.9 2100.2L1014.8 2094.0L1044.1 2100.2L1071.3 2094.0L1089.7 2100.2L1107.3 2094.0L1129.1 2100.2L1152.9 2094.0L1155.0 2098.8L1157.7 2094.0L1165.2 2100.2L1173.3 2094.0L1174.0 2087.8L1174.7 2094.0L1186.9 2100.2L1197.8 2094.0L1210.7 2100.2L1221.0 2094.0L1323.0 2100.2"/>
<path class="ax" d="M259.5 1961.7H271V2100.2H259.5"/>
<text class="tk" x="252.4" y="1964.8">776</text>
<text class="tk" x="252.4" y="2103.3">0</text>
<text class="lab" x="73.3" y="2036.9">GSM2481679</text>
<path class="f" d="M270.9 2254.2L270.9 2184.9L309.7 2254.2L347.8 2184.9L368.2 2254.2L388.6 2184.9L389.3 2115.7L389.9 2184.9L398.8 2254.2L407.6 2184.9L426.7 2254.2L446.4 2184.9L470.2 2254.2L493.3 2184.9L494.7 2212.6L495.4 2115.7L526.7 2254.2L557.3 2184.9L564.1 2254.2L570.9 2184.9L574.3 2254.2L577.7 2184.9L594.0 2254.2L611.7 2184.9L628.7 2254.2L644.4 2184.9L653.2 2254.2L661.4 2184.9L804.2 2254.2L946.8 2184.9L972.0 2254.2L996.5 2184.9L1061.1 2254.2L1124.4 2184.9L1125.0 2115.7L1125.7 2184.9L1165.2 2254.2L1203.3 2115.7L1265.2 2254.2L1327.1 2184.9L1334.6 2254.2L1342.0 2184.9L1344.1 2115.7L1346.8 2254.2L1350.2 2184.9L1365.2 2254.2L1377.4 2184.9L1379.5 2247.2L1381.5 2184.9L1400.5 2254.2L1419.6 2184.9L1422.3 2254.2L1422.3 2254.2Z"/><path class="s" d="M270.9 2184.9L309.7 2254.2L347.8 2184.9L368.2 2254.2L388.6 2184.9L389.3 2115.7L389.9 2184.9L398.8 2254.2L407.6 2184.9L426.7 2254.2L446.4 2184.9L470.2 2254.2L493.3 2184.9L494.7 2212.6L495.4 2115.7L526.7 2254.2L557.3 2184.9L564.1 2254.2L570.9 2184.9L574.3 2254.2L577.7 2184.9L594.0 2254.2L611.7 2184.9L628.7 2254.2L644.4 2184.9L653.2 2254.2L661.4 2184.9L804.2 2254.2L946.8 2184.9L972.0 2254.2L996.5 2184.9L1061.1 2254.2L1124.4 2184.9L1125.0 2115.7L1125.7 2184.9L1165.2 2254.2L1203.3 2115.7L1265.2 2254.2L1327.1 2184.9L1334.6 2254.2L1342.0 2184.9L1344.1 2115.7L1346.8 2254.2L1350.2 2184.9L1365.2 2254.2L1377.4 2184.9L1379.5 2247.2L1381.5 2184.9L1400.5 2254.2L1419.6 2184.9L1422.3 2254.2"/>
<path class="ax" d="M259.5 2115.7H271V2254.2H259.5"/>
<text class="tk" x="252.4" y="2118.8">58</text>
<text class="tk" x="252.4" y="2257.3">0</text>
<text class="lab" x="73.3" y="2190.9">GSM2481678</text>
<path class="f" d="M271.4 2408.1L271.4 2401.7L273.2 2401.7L274.5 2390.0L276.2 2364.1L277.2 2391.3L278.6 2391.3L280.0 2407.2L281.1 2405.4L282.4 2394.5L283.6 2407.2L285.4 2405.4L289.0 2401.3L290.4 2406.3L291.5 2401.3L293.1 2401.3L294.3 2391.3L296.5 2391.3L298.6 2399.0L299.9 2407.2L301.7 2403.6L303.6 2398.1L304.9 2406.3L307.2 2406.3L308.5 2401.3L309.9 2401.3L310.8 2398.1L312.2 2405.4L313.5 2394.5L314.9 2406.3L316.2 2405.4L317.6 2400.8L318.5 2380.9L319.7 2333.7L320.8 2362.7L322.0 2376.3L323.1 2397.2L324.4 2401.3L327.1 2407.2L328.5 2407.6L331.7 2401.7L333.0 2400.8L334.6 2388.1L336.2 2398.1L337.6 2403.6L339.4 2401.3L340.7 2406.3L342.6 2401.3L344.8 2405.4L346.0 2408.1L347.1 2400.1L348.3 2408.1L349.4 2408.1L350.6 2404.1L351.7 2404.1L352.9 2408.1L354.0 2404.1L355.2 2408.1L356.3 2404.1L357.5 2408.1L358.6 2404.1L359.8 2400.1L360.9 2404.1L362.1 2408.1L363.2 2404.1L364.4 2400.1L365.5 2408.1L366.7 2404.1L367.8 2404.1L369.0 2408.1L370.1 2400.1L371.3 2408.1L372.4 2404.1L373.6 2408.1L374.7 2400.1L375.4 2404.1L376.0 2394.1L377.0 2400.6L378.2 2400.1L379.3 2408.1L380.5 2404.1L381.6 2404.1L382.8 2404.1L383.9 2408.1L385.1 2404.1L386.2 2404.1L387.4 2408.1L388.5 2408.1L389.7 2404.1L390.8 2404.1L392.0 2408.1L399.0 2404.1L400.2 2404.1L401.3 2396.1L402.5 2404.1L403.6 2408.1L404.8 2400.1L405.9 2404.1L407.1 2408.1L408.2 2404.1L409.4 2400.1L410.5 2404.1L411.7 2408.1L412.8 2404.1L414.0 2408.1L415.1 2404.1L420.0 2408.1L421.1 2397.7L422.0 2388.1L423.4 2402.5L424.6 2400.1L425.7 2408.1L426.9 2400.1L428.0 2404.1L429.2 2404.1L430.3 2404.1L431.5 2408.1L432.6 2408.1L433.8 2392.1L434.9 2404.1L436.1 2404.1L440.6 2400.1L441.7 2408.1L442.9 2404.1L444.0 2407.9L445.2 2399.8L446.0 2394.1L447.5 2404.5L448.6 2404.1L449.8 2408.1L450.9 2404.1L452.1 2408.1L453.2 2404.1L454.4 2408.1L455.5 2404.1L456.7 2408.1L457.8 2408.1L459.0 2404.1L460.1 2396.1L466.2 2404.1L467.4 2408.1L468.5 2404.1L469.7 2408.1L470.8 2400.1L472.0 2408.1L473.1 2400.1L474.3 2404.1L475.4 2408.1L476.6 2404.1L477.7 2404.1L478.9 2408.1L480.0 2404.1L481.2 2408.1L482.3 2404.1L483.5 2408.1L484.6 2404.1L485.8 2400.1L486.9 2404.1L488.1 2408.1L489.2 2404.1L490.4 2408.1L491.5 2404.1L492.7 2408.1L497.4 2404.1L498.5 2408.1L499.7 2404.1L500.8 2408.1L502.0 2404.1L503.1 2400.1L504.3 2404.1L505.4 2396.1L506.6 2408.1L507.7 2400.1L508.9 2408.1L510.0 2400.1L510.6 2408.1L511.2 2398.9L512.0 2391.1L512.7 2404.1L513.5 2400.1L518.4 2404.1L519.6 2400.1L520.0 2395.9L521.4 2392.2L523.6 2392.2L525.0 2397.7L526.4 2405.4L528.6 2407.8L531.8 2404.9L533.1 2402.2L535.4 2402.2L536.3 2406.7L539.0 2405.4L540.4 2402.2L541.3 2405.8L546.3 2405.4L548.6 2407.6L550.4 2403.1L551.1 2347.8L551.8 2307.0L552.5 2283.4L553.1 2269.8L553.7 2283.4L554.5 2307.0L554.9 2321.0L556.5 2321.0L557.0 2331.0L557.8 2331.0L558.5 2352.3L559.2 2375.0L559.9 2392.2L562.2 2403.1L565.4 2394.9L566.3 2397.7L567.6 2394.9L569.0 2402.2L570.3 2402.7L571.7 2407.2L573.5 2405.4L576.2 2405.8L578.5 2404.9L582.1 2407.6L585.3 2402.2L586.7 2388.6L588.5 2388.6L589.8 2401.7L591.2 2402.2L592.6 2407.2L594.4 2402.2L595.7 2407.2L597.5 2402.2L598.9 2407.2L599.4 2400.1L600.6 2404.1L601.7 2408.1L602.9 2404.1L604.0 2400.1L605.2 2404.1L606.3 2400.1L607.5 2404.1L608.6 2404.1L609.8 2408.1L610.9 2408.1L612.1 2408.1L613.2 2404.1L614.4 2400.1L615.5 2408.1L616.7 2400.1L617.8 2404.1L619.0 2400.1L620.1 2404.1L621.3 2404.1L622.4 2408.1L623.6 2404.1L624.7 2408.1L625.9 2408.1L627.0 2408.1L628.2 2404.1L629.3 2400.1L630.5 2408.1L631.6 2408.1L632.8 2396.1L639.3 2404.1L640.4 2408.1L643.2 2404.1L644.4 2404.1L645.5 2400.1L646.7 2404.1L647.8 2408.1L649.0 2404.1L650.1 2408.1L651.3 2404.1L652.4 2408.1L653.6 2404.1L654.7 2400.1L655.9 2408.1L657.0 2408.1L658.2 2404.1L659.3 2404.1L660.5 2408.1L661.6 2408.1L662.8 2404.1L663.9 2408.1L665.1 2400.1L666.2 2408.1L667.4 2396.1L668.5 2404.1L669.7 2408.1L675.9 2404.1L677.0 2404.1L678.2 2408.1L679.3 2404.1L680.5 2392.1L681.6 2404.1L682.8 2400.1L683.9 2404.1L685.1 2408.1L689.5 2395.7L690.4 2388.1L691.1 2408.1L691.8 2400.1L693.0 2408.1L694.1 2408.1L695.3 2404.1L696.4 2404.1L704.5 2408.1L705.6 2404.1L706.8 2408.1L707.9 2404.1L709.1 2400.1L710.2 2404.1L711.4 2392.1L712.5 2404.1L713.7 2408.1L714.8 2404.1L716.0 2400.1L717.1 2404.1L718.3 2408.1L719.4 2404.1L720.6 2400.1L721.7 2408.1L722.9 2408.1L724.0 2400.1L725.2 2404.1L726.3 2408.1L727.5 2404.1L728.6 2404.1L729.8 2400.4L731.0 2388.1L731.5 2408.1L732.1 2399.3L733.2 2408.1L734.4 2400.1L735.5 2404.1L736.7 2400.1L737.8 2404.1L739.0 2408.1L740.1 2396.1L741.3 2408.1L742.4 2400.1L743.6 2404.1L744.7 2408.1L745.9 2408.1L747.0 2408.1L748.2 2408.1L749.3 2404.1L750.5 2400.1L751.6 2404.1L752.8 2408.1L753.9 2408.1L755.1 2404.1L756.2 2400.1L757.4 2408.1L758.5 2396.1L759.7 2404.1L760.8 2396.1L762.0 2404.1L763.1 2404.1L764.3 2404.1L765.4 2404.1L766.6 2396.1L767.7 2404.1L768.9 2404.1L770.0 2404.1L771.2 2400.1L772.3 2404.1L773.5 2408.1L774.6 2408.1L775.8 2404.1L776.9 2408.1L778.1 2396.1L779.2 2404.1L780.4 2408.1L781.5 2408.1L785.0 2391.1L787.3 2408.1L788.4 2404.1L789.6 2408.1L794.3 2408.1L795.4 2404.1L796.6 2408.1L797.7 2404.1L798.9 2408.1L800.0 2400.1L801.2 2404.1L802.3 2396.1L803.5 2408.1L804.6 2404.1L805.8 2408.1L806.9 2404.1L808.1 2408.1L809.2 2408.1L810.4 2404.1L811.5 2408.1L812.7 2404.1L813.8 2400.1L815.0 2408.1L816.1 2404.1L817.3 2404.1L818.4 2400.1L819.6 2404.1L820.7 2404.1L821.9 2408.1L830.5 2408.1L831.6 2400.1L832.2 2408.1L832.8 2390.8L833.7 2377.1L834.4 2404.1L835.1 2398.7L835.7 2408.1L836.2 2396.1L837.4 2404.1L838.5 2408.1L839.7 2408.1L840.8 2396.1L842.0 2408.1L843.1 2408.1L844.3 2404.1L845.4 2408.1L846.6 2404.1L847.7 2404.1L848.9 2404.1L850.0 2396.1L851.2 2404.1L852.3 2408.1L853.5 2404.1L854.6 2408.1L855.8 2400.1L856.9 2408.1L858.1 2408.1L859.2 2404.1L860.4 2408.1L861.5 2404.1L862.7 2400.1L863.8 2408.1L865.0 2404.1L866.1 2408.1L867.3 2404.1L868.4 2408.1L869.6 2408.1L870.7 2404.1L871.9 2400.1L873.0 2408.1L874.2 2404.1L875.3 2408.1L876.5 2404.1L878.0 2392.1L878.8 2398.4L879.9 2404.1L881.1 2400.1L888.6 2408.1L889.8 2408.1L890.9 2408.1L892.1 2404.1L893.2 2408.1L894.4 2404.1L895.5 2404.1L896.7 2404.1L897.8 2400.1L899.0 2404.1L900.1 2404.1L901.3 2392.1L902.4 2404.1L903.6 2408.1L904.7 2404.1L905.9 2400.1L907.0 2404.1L908.2 2408.1L909.3 2404.1L912.4 2408.1L913.6 2400.1L914.7 2404.1L915.9 2408.1L917.0 2408.1L918.2 2408.1L919.3 2408.1L920.5 2404.1L921.6 2400.1L922.8 2404.1L923.9 2408.1L925.1 2392.1L933.2 2408.1L934.4 2404.1L935.5 2408.1L936.7 2404.1L937.8 2392.1L939.0 2404.1L940.1 2400.1L941.3 2408.1L942.4 2404.1L943.6 2408.1L944.7 2408.1L945.9 2404.1L947.0 2408.1L948.2 2404.1L951.1 2396.1L952.3 2404.1L953.4 2408.1L954.6 2404.1L955.7 2408.1L956.9 2404.1L958.0 2408.1L959.2 2408.1L960.3 2404.1L961.5 2404.6L963.0 2392.1L963.8 2398.2L964.9 2404.1L966.1 2408.1L967.2 2408.1L968.4 2404.1L969.5 2400.1L970.7 2404.1L971.8 2408.1L973.0 2400.1L974.1 2408.1L975.3 2404.1L976.4 2408.1L977.6 2400.1L978.7 2408.1L979.9 2400.1L981.0 2404.1L982.2 2408.1L983.3 2404.1L984.5 2404.1L985.6 2408.1L986.8 2404.1L991.1 2404.1L992.2 2408.1L993.4 2404.1L994.5 2408.1L995.7 2400.1L996.8 2408.1L998.0 2408.1L999.1 2404.1L1000.3 2404.1L1001.4 2408.1L1002.6 2404.1L1003.7 2396.1L1004.9 2408.1L1006.0 2404.1L1007.2 2408.1L1008.3 2404.1L1009.5 2404.1L1010.6 2400.1L1011.8 2404.1L1012.9 2408.1L1014.1 2408.1L1015.2 2396.1L1016.4 2404.1L1017.5 2404.1L1018.7 2408.1L1019.8 2404.1L1021.0 2408.1L1022.1 2408.1L1023.3 2404.1L1024.4 2400.1L1025.6 2408.1L1026.7 2404.1L1027.9 2400.1L1029.0 2408.1L1030.2 2404.1L1031.3 2404.1L1032.5 2400.1L1033.6 2404.1L1034.8 2392.1L1035.9 2404.1L1037.1 2408.1L1038.2 2404.1L1045.5 2408.1L1046.7 2400.1L1047.8 2408.1L1049.0 2400.1L1050.1 2408.1L1051.3 2404.1L1052.4 2408.1L1053.6 2404.1L1054.7 2404.1L1055.9 2400.1L1057.0 2404.1L1058.2 2404.1L1059.3 2408.1L1060.5 2408.1L1061.6 2404.1L1062.8 2404.1L1063.9 2392.1L1065.1 2408.1L1066.2 2408.1L1067.4 2404.1L1068.5 2400.1L1069.7 2408.1L1070.8 2404.1L1072.0 2404.1L1073.1 2400.1L1074.3 2404.1L1075.4 2408.1L1076.6 2404.1L1077.7 2408.1L1078.9 2404.1L1080.0 2404.1L1081.2 2408.1L1082.3 2408.1L1083.5 2404.1L1084.6 2404.1L1085.8 2408.1L1086.9 2408.1L1088.1 2404.1L1089.2 2408.1L1090.4 2404.1L1091.5 2408.1L1092.7 2392.1L1093.8 2408.1L1095.0 2408.1L1096.1 2396.1L1097.3 2404.1L1098.4 2408.1L1102.0 2381.1L1105.4 2404.1L1106.6 2408.1L1107.7 2404.1L1108.9 2400.1L1110.0 2408.1L1111.2 2408.1L1112.3 2404.1L1113.5 2408.1L1114.6 2400.1L1115.8 2404.1L1116.9 2396.1L1118.1 2408.1L1119.2 2400.1L1120.4 2401.7L1121.6 2391.1L1122.7 2400.8L1123.8 2408.1L1131.4 2404.1L1132.5 2400.1L1133.7 2408.1L1134.8 2396.1L1136.0 2404.1L1137.1 2400.4L1138.0 2394.1L1139.4 2404.5L1140.6 2404.1L1141.7 2408.1L1142.9 2404.1L1144.0 2400.1L1145.2 2408.1L1146.3 2404.1L1147.5 2404.1L1148.6 2400.1L1149.8 2408.1L1150.9 2404.1L1152.1 2408.1L1159.0 2408.1L1160.1 2408.1L1161.3 2404.1L1162.4 2408.1L1163.6 2400.1L1164.7 2404.1L1165.9 2408.1L1167.0 2404.1L1168.2 2408.1L1169.3 2408.1L1170.5 2404.1L1171.6 2396.1L1172.8 2404.1L1173.9 2408.1L1175.1 2404.1L1177.0 2392.1L1183.7 2404.1L1184.9 2408.1L1186.0 2404.1L1187.2 2400.1L1188.3 2408.1L1189.5 2400.1L1190.6 2404.1L1191.8 2408.1L1192.9 2408.1L1196.2 2404.1L1197.4 2404.1L1199.0 2391.1L1201.8 2404.1L1203.0 2408.1L1207.8 2404.1L1209.0 2408.1L1210.1 2404.1L1211.3 2408.1L1212.4 2408.1L1213.6 2404.1L1214.7 2400.1L1215.9 2408.1L1217.0 2400.1L1218.2 2404.1L1219.3 2404.1L1220.5 2408.1L1221.6 2404.1L1222.8 2408.1L1223.9 2404.1L1225.1 2400.1L1229.3 2408.1L1230.4 2404.1L1231.6 2404.1L1232.7 2396.1L1233.9 2408.1L1235.0 2404.1L1236.2 2408.1L1237.3 2396.1L1238.5 2404.1L1239.6 2400.1L1240.8 2408.1L1241.9 2404.1L1243.1 2404.1L1244.2 2400.1L1245.4 2408.1L1246.5 2404.1L1247.7 2404.1L1248.8 2408.1L1250.0 2404.1L1251.1 2396.1L1252.3 2406.1L1253.4 2396.0L1254.0 2391.1L1254.9 2404.1L1255.7 2392.1L1256.9 2408.1L1258.0 2404.1L1259.2 2408.1L1260.3 2404.1L1261.5 2408.1L1262.6 2404.1L1263.8 2400.1L1264.9 2404.1L1266.1 2404.1L1267.2 2408.1L1268.4 2404.1L1269.5 2408.1L1270.7 2396.1L1271.8 2408.1L1273.0 2408.1L1274.1 2404.1L1275.3 2404.1L1276.4 2404.1L1277.6 2408.1L1278.7 2404.1L1279.9 2392.1L1281.0 2404.1L1282.2 2396.1L1283.3 2408.1L1284.5 2404.1L1285.6 2400.1L1286.8 2408.1L1287.9 2396.1L1288.5 2404.1L1289.0 2394.1L1290.2 2402.6L1291.4 2408.1L1292.5 2404.1L1293.7 2404.1L1294.8 2408.1L1296.0 2408.1L1297.1 2404.1L1298.3 2400.1L1299.4 2404.1L1300.6 2404.1L1301.7 2408.1L1302.9 2408.1L1304.0 2408.1L1305.2 2404.1L1306.3 2408.1L1307.5 2408.1L1308.6 2396.1L1309.8 2404.1L1314.0 2388.1L1316.7 2408.1L1319.3 2400.1L1320.5 2408.1L1321.6 2400.1L1322.8 2404.1L1323.9 2408.1L1325.1 2408.1L1326.2 2404.1L1327.4 2400.1L1328.5 2404.1L1329.7 2404.1L1330.8 2404.1L1332.0 2408.1L1335.3 2400.1L1336.5 2404.1L1337.6 2408.1L1338.8 2404.1L1339.9 2408.1L1341.1 2400.1L1342.2 2404.1L1343.4 2408.1L1344.5 2404.1L1345.7 2408.1L1346.8 2408.1L1348.0 2404.1L1349.1 2404.1L1350.3 2408.1L1351.4 2408.1L1352.6 2404.1L1353.7 2400.1L1354.9 2408.1L1356.0 2408.1L1357.2 2408.1L1358.3 2408.1L1359.5 2396.1L1360.6 2408.1L1361.8 2404.1L1362.9 2408.1L1364.1 2404.1L1365.2 2400.1L1366.4 2404.1L1367.5 2408.1L1368.7 2408.1L1375.9 2404.1L1377.1 2404.1L1378.2 2396.1L1379.4 2404.1L1380.5 2404.1L1381.7 2408.1L1382.8 2404.1L1384.0 2400.1L1385.1 2404.1L1386.3 2408.1L1387.4 2404.1L1388.6 2408.1L1389.7 2404.1L1390.9 2408.1L1392.0 2404.1L1393.2 2404.1L1394.3 2400.1L1395.5 2404.1L1396.6 2408.1L1397.8 2392.1L1398.9 2404.1L1400.1 2396.1L1401.2 2408.1L1402.4 2400.1L1403.5 2404.1L1404.7 2400.1L1405.8 2408.1L1407.0 2404.1L1408.1 2400.3L1409.0 2394.1L1410.4 2404.0L1411.6 2400.1L1412.7 2404.1L1413.9 2408.1L1415.0 2404.1L1416.2 2408.1L1417.3 2404.1L1418.5 2408.1L1419.6 2400.1L1420.8 2408.1L1421.9 2400.1L1421.9 2408.1Z"/><path class="s" d="M271.4 2401.7L273.2 2401.7L274.5 2390.0L276.2 2364.1L277.2 2391.3L278.6 2391.3L280.0 2407.2L281.1 2405.4L282.4 2394.5L283.6 2407.2L285.4 2405.4L289.0 2401.3L290.4 2406.3L291.5 2401.3L293.1 2401.3L294.3 2391.3L296.5 2391.3L298.6 2399.0L299.9 2407.2L301.7 2403.6L303.6 2398.1L304.9 2406.3L307.2 2406.3L308.5 2401.3L309.9 2401.3L310.8 2398.1L312.2 2405.4L313.5 2394.5L314.9 2406.3L316.2 2405.4L317.6 2400.8L318.5 2380.9L319.7 2333.7L320.8 2362.7L322.0 2376.3L323.1 2397.2L324.4 2401.3L327.1 2407.2L328.5 2407.6L331.7 2401.7L333.0 2400.8L334.6 2388.1L336.2 2398.1L337.6 2403.6L339.4 2401.3L340.7 2406.3L342.6 2401.3L344.8 2405.4L346.0 2408.1L347.1 2400.1L348.3 2408.1L349.4 2408.1L350.6 2404.1L351.7 2404.1L352.9 2408.1L354.0 2404.1L355.2 2408.1L356.3 2404.1L357.5 2408.1L358.6 2404.1L359.8 2400.1L360.9 2404.1L362.1 2408.1L363.2 2404.1L364.4 2400.1L365.5 2408.1L366.7 2404.1L367.8 2404.1L369.0 2408.1L370.1 2400.1L371.3 2408.1L372.4 2404.1L373.6 2408.1L374.7 2400.1L375.4 2404.1L376.0 2394.1L377.0 2400.6L378.2 2400.1L379.3 2408.1L380.5 2404.1L381.6 2404.1L382.8 2404.1L383.9 2408.1L385.1 2404.1L386.2 2404.1L387.4 2408.1L388.5 2408.1L389.7 2404.1L390.8 2404.1L392.0 2408.1L399.0 2404.1L400.2 2404.1L401.3 2396.1L402.5 2404.1L403.6 2408.1L404.8 2400.1L405.9 2404.1L407.1 2408.1L408.2 2404.1L409.4 2400.1L410.5 2404.1L411.7 2408.1L412.8 2404.1L414.0 2408.1L415.1 2404.1L420.0 2408.1L421.1 2397.7L422.0 2388.1L423.4 2402.5L424.6 2400.1L425.7 2408.1L426.9 2400.1L428.0 2404.1L429.2 2404.1L430.3 2404.1L431.5 2408.1L432.6 2408.1L433.8 2392.1L434.9 2404.1L436.1 2404.1L440.6 2400.1L441.7 2408.1L442.9 2404.1L444.0 2407.9L445.2 2399.8L446.0 2394.1L447.5 2404.5L448.6 2404.1L449.8 2408.1L450.9 2404.1L452.1 2408.1L453.2 2404.1L454.4 2408.1L455.5 2404.1L456.7 2408.1L457.8 2408.1L459.0 2404.1L460.1 2396.1L466.2 2404.1L467.4 2408.1L468.5 2404.1L469.7 2408.1L470.8 2400.1L472.0 2408.1L473.1 2400.1L474.3 2404.1L475.4 2408.1L476.6 2404.1L477.7 2404.1L478.9 2408.1L480.0 2404.1L481.2 2408.1L482.3 2404.1L483.5 2408.1L484.6 2404.1L485.8 2400.1L486.9 2404.1L488.1 2408.1L489.2 2404.1L490.4 2408.1L491.5 2404.1L492.7 2408.1L497.4 2404.1L498.5 2408.1L499.7 2404.1L500.8 2408.1L502.0 2404.1L503.1 2400.1L504.3 2404.1L505.4 2396.1L506.6 2408.1L507.7 2400.1L508.9 2408.1L510.0 2400.1L510.6 2408.1L511.2 2398.9L512.0 2391.1L512.7 2404.1L513.5 2400.1L518.4 2404.1L519.6 2400.1L520.0 2395.9L521.4 2392.2L523.6 2392.2L525.0 2397.7L526.4 2405.4L528.6 2407.8L531.8 2404.9L533.1 2402.2L535.4 2402.2L536.3 2406.7L539.0 2405.4L540.4 2402.2L541.3 2405.8L546.3 2405.4L548.6 2407.6L550.4 2403.1L551.1 2347.8L551.8 2307.0L552.5 2283.4L553.1 2269.8L553.7 2283.4L554.5 2307.0L554.9 2321.0L556.5 2321.0L557.0 2331.0L557.8 2331.0L558.5 2352.3L559.2 2375.0L559.9 2392.2L562.2 2403.1L565.4 2394.9L566.3 2397.7L567.6 2394.9L569.0 2402.2L570.3 2402.7L571.7 2407.2L573.5 2405.4L576.2 2405.8L578.5 2404.9L582.1 2407.6L585.3 2402.2L586.7 2388.6L588.5 2388.6L589.8 2401.7L591.2 2402.2L592.6 2407.2L594.4 2402.2L595.7 2407.2L597.5 2402.2L598.9 2407.2L599.4 2400.1L600.6 2404.1L601.7 2408.1L602.9 2404.1L604.0 2400.1L605.2 2404.1L606.3 2400.1L607.5 2404.1L608.6 2404.1L609.8 2408.1L610.9 2408.1L612.1 2408.1L613.2 2404.1L614.4 2400.1L615.5 2408.1L616.7 2400.1L617.8 2404.1L619.0 2400.1L620.1 2404.1L621.3 2404.1L622.4 2408.1L623.6 2404.1L624.7 2408.1L625.9 2408.1L627.0 2408.1L628.2 2404.1L629.3 2400.1L630.5 2408.1L631.6 2408.1L632.8 2396.1L639.3 2404.1L640.4 2408.1L643.2 2404.1L644.4 2404.1L645.5 2400.1L646.7 2404.1L647.8 2408.1L649.0 2404.1L650.1 2408.1L651.3 2404.1L652.4 2408.1L653.6 2404.1L654.7 2400.1L655.9 2408.1L657.0 2408.1L658.2 2404.1L659.3 2404.1L660.5 2408.1L661.6 2408.1L662.8 2404.1L663.9 2408.1L665.1 2400.1L666.2 2408.1L667.4 2396.1L668.5 2404.1L669.7 2408.1L675.9 2404.1L677.0 2404.1L678.2 2408.1L679.3 2404.1L680.5 2392.1L681.6 2404.1L682.8 2400.1L683.9 2404.1L685.1 2408.1L689.5 2395.7L690.4 2388.1L691.1 2408.1L691.8 2400.1L693.0 2408.1L694.1 2408.1L695.3 2404.1L696.4 2404.1L704.5 2408.1L705.6 2404.1L706.8 2408.1L707.9 2404.1L709.1 2400.1L710.2 2404.1L711.4 2392.1L712.5 2404.1L713.7 2408.1L714.8 2404.1L716.0 2400.1L717.1 2404.1L718.3 2408.1L719.4 2404.1L720.6 2400.1L721.7 2408.1L722.9 2408.1L724.0 2400.1L725.2 2404.1L726.3 2408.1L727.5 2404.1L728.6 2404.1L729.8 2400.4L731.0 2388.1L731.5 2408.1L732.1 2399.3L733.2 2408.1L734.4 2400.1L735.5 2404.1L736.7 2400.1L737.8 2404.1L739.0 2408.1L740.1 2396.1L741.3 2408.1L742.4 2400.1L743.6 2404.1L744.7 2408.1L745.9 2408.1L747.0 2408.1L748.2 2408.1L749.3 2404.1L750.5 2400.1L751.6 2404.1L752.8 2408.1L753.9 2408.1L755.1 2404.1L756.2 2400.1L757.4 2408.1L758.5 2396.1L759.7 2404.1L760.8 2396.1L762.0 2404.1L763.1 2404.1L764.3 2404.1L765.4 2404.1L766.6 2396.1L767.7 2404.1L768.9 2404.1L770.0 2404.1L771.2 2400.1L772.3 2404.1L773.5 2408.1L774.6 2408.1L775.8 2404.1L776.9 2408.1L778.1 2396.1L779.2 2404.1L780.4 2408.1L781.5 2408.1L785.0 2391.1L787.3 2408.1L788.4 2404.1L789.6 2408.1L794.3 2408.1L795.4 2404.1L796.6 2408.1L797.7 2404.1L798.9 2408.1L800.0 2400.1L801.2 2404.1L802.3 2396.1L803.5 2408.1L804.6 2404.1L805.8 2408.1L806.9 2404.1L808.1 2408.1L809.2 2408.1L810.4 2404.1L811.5 2408.1L812.7 2404.1L813.8 2400.1L815.0 2408.1L816.1 2404.1L817.3 2404.1L818.4 2400.1L819.6 2404.1L820.7 2404.1L821.9 2408.1L830.5 2408.1L831.6 2400.1L832.2 2408.1L832.8 2390.8L833.7 2377.1L834.4 2404.1L835.1 2398.7L835.7 2408.1L836.2 2396.1L837.4 2404.1L838.5 2408.1L839.7 2408.1L840.8 2396.1L842.0 2408.1L843.1 2408.1L844.3 2404.1L845.4 2408.1L846.6 2404.1L847.7 2404.1L848.9 2404.1L850.0 2396.1L851.2 2404.1L852.3 2408.1L853.5 2404.1L854.6 2408.1L855.8 2400.1L856.9 2408.1L858.1 2408.1L859.2 2404.1L860.4 2408.1L861.5 2404.1L862.7 2400.1L863.8 2408.1L865.0 2404.1L866.1 2408.1L867.3 2404.1L868.4 2408.1L869.6 2408.1L870.7 2404.1L871.9 2400.1L873.0 2408.1L874.2 2404.1L875.3 2408.1L876.5 2404.1L878.0 2392.1L878.8 2398.4L879.9 2404.1L881.1 2400.1L888.6 2408.1L889.8 2408.1L890.9 2408.1L892.1 2404.1L893.2 2408.1L894.4 2404.1L895.5 2404.1L896.7 2404.1L897.8 2400.1L899.0 2404.1L900.1 2404.1L901.3 2392.1L902.4 2404.1L903.6 2408.1L904.7 2404.1L905.9 2400.1L907.0 2404.1L908.2 2408.1L909.3 2404.1L912.4 2408.1L913.6 2400.1L914.7 2404.1L915.9 2408.1L917.0 2408.1L918.2 2408.1L919.3 2408.1L920.5 2404.1L921.6 2400.1L922.8 2404.1L923.9 2408.1L925.1 2392.1L933.2 2408.1L934.4 2404.1L935.5 2408.1L936.7 2404.1L937.8 2392.1L939.0 2404.1L940.1 2400.1L941.3 2408.1L942.4 2404.1L943.6 2408.1L944.7 2408.1L945.9 2404.1L947.0 2408.1L948.2 2404.1L951.1 2396.1L952.3 2404.1L953.4 2408.1L954.6 2404.1L955.7 2408.1L956.9 2404.1L958.0 2408.1L959.2 2408.1L960.3 2404.1L961.5 2404.6L963.0 2392.1L963.8 2398.2L964.9 2404.1L966.1 2408.1L967.2 2408.1L968.4 2404.1L969.5 2400.1L970.7 2404.1L971.8 2408.1L973.0 2400.1L974.1 2408.1L975.3 2404.1L976.4 2408.1L977.6 2400.1L978.7 2408.1L979.9 2400.1L981.0 2404.1L982.2 2408.1L983.3 2404.1L984.5 2404.1L985.6 2408.1L986.8 2404.1L991.1 2404.1L992.2 2408.1L993.4 2404.1L994.5 2408.1L995.7 2400.1L996.8 2408.1L998.0 2408.1L999.1 2404.1L1000.3 2404.1L1001.4 2408.1L1002.6 2404.1L1003.7 2396.1L1004.9 2408.1L1006.0 2404.1L1007.2 2408.1L1008.3 2404.1L1009.5 2404.1L1010.6 2400.1L1011.8 2404.1L1012.9 2408.1L1014.1 2408.1L1015.2 2396.1L1016.4 2404.1L1017.5 2404.1L1018.7 2408.1L1019.8 2404.1L1021.0 2408.1L1022.1 2408.1L1023.3 2404.1L1024.4 2400.1L1025.6 2408.1L1026.7 2404.1L1027.9 2400.1L1029.0 2408.1L1030.2 2404.1L1031.3 2404.1L1032.5 2400.1L1033.6 2404.1L1034.8 2392.1L1035.9 2404.1L1037.1 2408.1L1038.2 2404.1L1045.5 2408.1L1046.7 2400.1L1047.8 2408.1L1049.0 2400.1L1050.1 2408.1L1051.3 2404.1L1052.4 2408.1L1053.6 2404.1L1054.7 2404.1L1055.9 2400.1L1057.0 2404.1L1058.2 2404.1L1059.3 2408.1L1060.5 2408.1L1061.6 2404.1L1062.8 2404.1L1063.9 2392.1L1065.1 2408.1L1066.2 2408.1L1067.4 2404.1L1068.5 2400.1L1069.7 2408.1L1070.8 2404.1L1072.0 2404.1L1073.1 2400.1L1074.3 2404.1L1075.4 2408.1L1076.6 2404.1L1077.7 2408.1L1078.9 2404.1L1080.0 2404.1L1081.2 2408.1L1082.3 2408.1L1083.5 2404.1L1084.6 2404.1L1085.8 2408.1L1086.9 2408.1L1088.1 2404.1L1089.2 2408.1L1090.4 2404.1L1091.5 2408.1L1092.7 2392.1L1093.8 2408.1L1095.0 2408.1L1096.1 2396.1L1097.3 2404.1L1098.4 2408.1L1102.0 2381.1L1105.4 2404.1L1106.6 2408.1L1107.7 2404.1L1108.9 2400.1L1110.0 2408.1L1111.2 2408.1L1112.3 2404.1L1113.5 2408.1L1114.6 2400.1L1115.8 2404.1L1116.9 2396.1L1118.1 2408.1L1119.2 2400.1L1120.4 2401.7L1121.6 2391.1L1122.7 2400.8L1123.8 2408.1L1131.4 2404.1L1132.5 2400.1L1133.7 2408.1L1134.8 2396.1L1136.0 2404.1L1137.1 2400.4L1138.0 2394.1L1139.4 2404.5L1140.6 2404.1L1141.7 2408.1L1142.9 2404.1L1144.0 2400.1L1145.2 2408.1L1146.3 2404.1L1147.5 2404.1L1148.6 2400.1L1149.8 2408.1L1150.9 2404.1L1152.1 2408.1L1159.0 2408.1L1160.1 2408.1L1161.3 2404.1L1162.4 2408.1L1163.6 2400.1L1164.7 2404.1L1165.9 2408.1L1167.0 2404.1L1168.2 2408.1L1169.3 2408.1L1170.5 2404.1L1171.6 2396.1L1172.8 2404.1L1173.9 2408.1L1175.1 2404.1L1177.0 2392.1L1183.7 2404.1L1184.9 2408.1L1186.0 2404.1L1187.2 2400.1L1188.3 2408.1L1189.5 2400.1L1190.6 2404.1L1191.8 2408.1L1192.9 2408.1L1196.2 2404.1L1197.4 2404.1L1199.0 2391.1L1201.8 2404.1L1203.0 2408.1L1207.8 2404.1L1209.0 2408.1L1210.1 2404.1L1211.3 2408.1L1212.4 2408.1L1213.6 2404.1L1214.7 2400.1L1215.9 2408.1L1217.0 2400.1L1218.2 2404.1L1219.3 2404.1L1220.5 2408.1L1221.6 2404.1L1222.8 2408.1L1223.9 2404.1L1225.1 2400.1L1229.3 2408.1L1230.4 2404.1L1231.6 2404.1L1232.7 2396.1L1233.9 2408.1L1235.0 2404.1L1236.2 2408.1L1237.3 2396.1L1238.5 2404.1L1239.6 2400.1L1240.8 2408.1L1241.9 2404.1L1243.1 2404.1L1244.2 2400.1L1245.4 2408.1L1246.5 2404.1L1247.7 2404.1L1248.8 2408.1L1250.0 2404.1L1251.1 2396.1L1252.3 2406.1L1253.4 2396.0L1254.0 2391.1L1254.9 2404.1L1255.7 2392.1L1256.9 2408.1L1258.0 2404.1L1259.2 2408.1L1260.3 2404.1L1261.5 2408.1L1262.6 2404.1L1263.8 2400.1L1264.9 2404.1L1266.1 2404.1L1267.2 2408.1L1268.4 2404.1L1269.5 2408.1L1270.7 2396.1L1271.8 2408.1L1273.0 2408.1L1274.1 2404.1L1275.3 2404.1L1276.4 2404.1L1277.6 2408.1L1278.7 2404.1L1279.9 2392.1L1281.0 2404.1L1282.2 2396.1L1283.3 2408.1L1284.5 2404.1L1285.6 2400.1L1286.8 2408.1L1287.9 2396.1L1288.5 2404.1L1289.0 2394.1L1290.2 2402.6L1291.4 2408.1L1292.5 2404.1L1293.7 2404.1L1294.8 2408.1L1296.0 2408.1L1297.1 2404.1L1298.3 2400.1L1299.4 2404.1L1300.6 2404.1L1301.7 2408.1L1302.9 2408.1L1304.0 2408.1L1305.2 2404.1L1306.3 2408.1L1307.5 2408.1L1308.6 2396.1L1309.8 2404.1L1314.0 2388.1L1316.7 2408.1L1319.3 2400.1L1320.5 2408.1L1321.6 2400.1L1322.8 2404.1L1323.9 2408.1L1325.1 2408.1L1326.2 2404.1L1327.4 2400.1L1328.5 2404.1L1329.7 2404.1L1330.8 2404.1L1332.0 2408.1L1335.3 2400.1L1336.5 2404.1L1337.6 2408.1L1338.8 2404.1L1339.9 2408.1L1341.1 2400.1L1342.2 2404.1L1343.4 2408.1L1344.5 2404.1L1345.7 2408.1L1346.8 2408.1L1348.0 2404.1L1349.1 2404.1L1350.3 2408.1L1351.4 2408.1L1352.6 2404.1L1353.7 2400.1L1354.9 2408.1L1356.0 2408.1L1357.2 2408.1L1358.3 2408.1L1359.5 2396.1L1360.6 2408.1L1361.8 2404.1L1362.9 2408.1L1364.1 2404.1L1365.2 2400.1L1366.4 2404.1L1367.5 2408.1L1368.7 2408.1L1375.9 2404.1L1377.1 2404.1L1378.2 2396.1L1379.4 2404.1L1380.5 2404.1L1381.7 2408.1L1382.8 2404.1L1384.0 2400.1L1385.1 2404.1L1386.3 2408.1L1387.4 2404.1L1388.6 2408.1L1389.7 2404.1L1390.9 2408.1L1392.0 2404.1L1393.2 2404.1L1394.3 2400.1L1395.5 2404.1L1396.6 2408.1L1397.8 2392.1L1398.9 2404.1L1400.1 2396.1L1401.2 2408.1L1402.4 2400.1L1403.5 2404.1L1404.7 2400.1L1405.8 2408.1L1407.0 2404.1L1408.1 2400.3L1409.0 2394.1L1410.4 2404.0L1411.6 2400.1L1412.7 2404.1L1413.9 2408.1L1415.0 2404.1L1416.2 2408.1L1417.3 2404.1L1418.5 2408.1L1419.6 2400.1L1420.8 2408.1L1421.9 2400.1"/>
<path class="ax" d="M259.5 2269.6H271V2408.1H259.5"/>
<text class="tk" x="252.4" y="2272.7">29</text>
<text class="tk" x="252.4" y="2411.2">0</text>
<text class="lab" x="73.3" y="2344.8">GSM2481677</text>
<path class="f" d="M290.6 2562.0L290.6 2562.0L310.3 2492.8L371.6 2562.0L432.8 2492.8L672.9 2562.0L912.8 2492.8L921.6 2557.9L930.5 2423.5L1064.5 2562.0L1196.5 2492.8L1197.1 2423.5L1197.8 2492.8L1306.7 2562.0L1414.8 2492.8L1418.9 2562.0L1418.9 2562.0Z"/><path class="s" d="M290.6 2562.0L310.3 2492.8L371.6 2562.0L432.8 2492.8L672.9 2562.0L912.8 2492.8L921.6 2557.9L930.5 2423.5L1064.5 2562.0L1196.5 2492.8L1197.1 2423.5L1197.8 2492.8L1306.7 2562.0L1414.8 2492.8L1418.9 2562.0"/>
<path class="ax" d="M259.5 2423.5H271V2562.0H259.5"/>
<text class="tk" x="252.4" y="2426.6">348</text>
<text class="tk" x="252.4" y="2565.1">0</text>
<text class="lab" x="73.3" y="2498.7">GSM2481676</text>
<path class="f" d="M271.4 2716.0L271.4 2694.9L272.4 2707.6L273.6 2678.6L274.1 2642.3L275.0 2641.4L275.7 2597.0L276.5 2577.9L277.2 2606.0L278.1 2651.4L279.1 2683.1L280.4 2704.0L281.5 2705.8L282.5 2684.9L284.1 2701.3L286.6 2714.0L289.0 2705.8L290.9 2705.8L292.2 2710.3L293.6 2684.9L295.4 2684.9L296.5 2663.2L297.5 2695.8L299.9 2710.3L301.5 2705.8L303.6 2711.2L305.2 2705.8L310.2 2715.8L314.7 2705.8L316.2 2705.8L317.4 2684.9L318.5 2700.4L319.7 2695.4L320.8 2695.4L322.0 2684.9L323.5 2707.6L324.9 2705.8L328.5 2714.9L332.6 2705.8L334.4 2712.2L336.2 2705.8L337.4 2684.9L338.9 2705.8L340.3 2705.8L340.9 2695.4L344.8 2703.1L345.7 2714.8L346.2 2703.7L350.7 2715.1L360.7 2694.6L367.9 2715.1L372.5 2704.6L389.2 2715.5L405.1 2704.6L406.5 2704.6L407.4 2683.3L408.3 2704.6L412.4 2694.6L416.5 2715.1L421.0 2694.6L424.2 2714.2L427.8 2704.6L430.5 2683.3L432.3 2704.6L435.5 2694.6L439.1 2715.1L443.7 2704.6L445.9 2712.8L448.2 2704.6L451.4 2715.1L454.1 2683.3L455.9 2715.1L464.1 2694.6L477.7 2715.5L489.0 2694.6L491.3 2714.2L495.8 2694.6L498.6 2706.0L500.8 2683.3L502.6 2706.0L504.9 2715.1L509.4 2704.6L512.1 2712.8L515.3 2694.6L518.5 2712.8L520.8 2704.6L523.0 2699.2L524.4 2683.3L526.2 2703.7L528.5 2694.6L530.8 2694.6L533.5 2715.1L535.4 2705.5L538.6 2715.5L541.8 2705.5L543.4 2715.5L544.9 2705.5L547.7 2715.5L549.9 2696.5L551.6 2684.7L552.2 2642.0L552.8 2641.1L554.3 2598.9L557.4 2598.9L558.1 2642.0L558.8 2678.3L559.9 2705.5L561.7 2715.5L563.7 2705.5L568.5 2715.5L574.4 2705.5L578.5 2715.5L581.5 2705.5L583.5 2715.5L585.3 2687.4L586.7 2652.5L587.6 2652.9L589.8 2673.8L591.2 2705.5L591.7 2715.5L593.0 2695.1L593.9 2705.5L595.3 2684.7L596.6 2684.7L598.0 2712.8L599.8 2711.0L601.8 2714.2L603.8 2695.2L605.2 2711.9L606.7 2705.6L608.1 2711.5L609.4 2684.8L611.5 2714.5L613.6 2705.6L618.0 2716.0L622.5 2705.6L623.9 2711.4L625.2 2695.2L630.5 2716.0L635.8 2705.6L637.7 2713.8L639.6 2705.6L641.1 2712.1L642.7 2684.8L644.0 2711.5L645.4 2705.6L646.6 2710.8L647.8 2705.6L649.2 2711.6L650.6 2695.2L655.0 2716.0L659.4 2695.2L664.1 2716.0L668.8 2705.6L671.1 2715.4L673.3 2705.6L675.6 2715.3L677.8 2695.2L683.0 2716.0L688.2 2705.6L689.6 2711.9L691.1 2695.2L695.2 2716.0L699.4 2705.6L700.7 2711.4L702.1 2695.2L704.3 2715.3L706.6 2705.6L711.8 2716.0L717.0 2705.6L722.1 2716.0L727.2 2705.6L730.2 2716.0L733.2 2705.6L734.4 2711.1L735.7 2705.6L737.1 2711.4L738.4 2684.8L741.9 2716.0L745.5 2705.6L747.8 2715.6L750.1 2684.8L753.5 2716.0L756.9 2684.8L759.6 2716.0L762.4 2705.6L767.5 2716.0L773.0 2672.3L776.5 2716.0L780.4 2684.8L781.7 2711.1L782.9 2705.6L788.1 2716.0L793.2 2705.6L794.9 2712.8L796.6 2695.2L801.7 2716.0L806.8 2705.6L811.4 2716.0L815.9 2684.8L820.5 2716.0L825.2 2695.2L828.4 2716.0L831.7 2684.8L834.5 2716.0L836.0 2684.8L838.9 2712.2L840.4 2705.6L842.3 2661.9L843.1 2705.6L845.4 2715.3L847.6 2705.6L852.9 2716.0L858.2 2705.6L860.8 2716.0L863.5 2705.6L866.9 2716.0L870.4 2695.2L871.8 2711.5L873.1 2705.6L874.8 2712.9L876.5 2705.6L879.5 2716.0L882.4 2705.6L885.2 2716.0L888.1 2705.6L889.4 2711.2L890.7 2705.6L895.0 2684.8L899.0 2705.6L900.5 2712.0L902.0 2684.8L903.5 2661.9L905.0 2695.2L908.0 2716.0L911.0 2705.6L914.0 2716.0L917.1 2705.6L918.5 2711.4L919.8 2705.6L923.1 2716.0L926.4 2695.2L929.5 2716.0L932.6 2705.6L933.9 2711.3L935.2 2695.2L936.6 2711.4L937.9 2684.8L941.6 2716.0L945.2 2684.8L950.3 2716.0L955.4 2695.2L957.0 2712.4L958.6 2695.2L961.6 2716.0L964.6 2684.8L965.8 2710.9L967.0 2705.6L968.6 2712.3L970.1 2695.2L971.4 2711.0L972.6 2705.6L974.9 2715.3L977.2 2705.6L981.8 2716.0L986.4 2705.6L991.4 2716.0L994.0 2672.3L997.6 2711.2L998.9 2705.6L1000.4 2712.0L1001.9 2695.2L1003.3 2711.8L1004.7 2705.6L1006.2 2712.0L1007.7 2695.2L1009.3 2712.2L1010.8 2695.2L1015.5 2716.0L1020.2 2705.6L1023.8 2716.0L1027.5 2695.2L1029.0 2712.2L1030.5 2684.8L1035.7 2716.0L1040.9 2705.6L1043.6 2716.0L1046.4 2684.8L1047.8 2711.6L1049.2 2705.6L1050.6 2711.5L1052.0 2705.6L1053.6 2712.9L1055.3 2695.2L1056.9 2712.2L1058.4 2695.2L1062.8 2716.0L1067.2 2684.8L1070.6 2716.0L1074.0 2705.6L1077.4 2716.0L1080.8 2695.2L1082.3 2712.0L1083.7 2695.2L1086.0 2715.3L1088.2 2705.6L1091.8 2716.0L1095.5 2695.2L1096.8 2711.2L1098.1 2705.6L1099.8 2712.9L1101.5 2684.8L1105.2 2716.0L1108.9 2705.6L1110.1 2710.9L1111.4 2695.2L1112.8 2711.8L1114.2 2705.6L1119.4 2716.0L1124.5 2705.6L1129.9 2716.0L1135.3 2695.2L1138.7 2716.0L1142.2 2695.2L1143.4 2711.2L1144.7 2705.6L1147.9 2716.0L1151.0 2695.2L1152.7 2712.8L1154.4 2705.6L1155.6 2710.8L1156.8 2705.6L1159.4 2716.0L1162.1 2705.6L1163.3 2711.1L1164.6 2705.6L1166.1 2712.0L1167.6 2705.6L1172.3 2716.0L1176.9 2705.6L1178.9 2713.8L1180.8 2684.8L1183.9 2716.0L1186.9 2705.6L1191.4 2716.0L1195.9 2705.6L1197.6 2712.8L1199.3 2684.8L1200.8 2712.2L1202.4 2684.8L1203.7 2711.0L1204.9 2684.8L1206.3 2711.5L1207.6 2705.6L1210.0 2715.7L1212.3 2705.6L1213.7 2711.7L1215.2 2695.2L1216.5 2711.4L1217.8 2695.2L1219.5 2712.6L1221.1 2705.6L1222.7 2712.7L1224.4 2705.6L1225.9 2712.0L1227.4 2684.8L1229.0 2712.8L1230.7 2705.6L1234.4 2716.0L1238.1 2705.6L1239.4 2711.4L1240.8 2705.6L1242.1 2711.5L1243.5 2705.6L1246.8 2716.0L1250.1 2695.2L1255.1 2716.0L1260.0 2705.6L1261.9 2713.6L1263.7 2705.6L1268.5 2716.0L1273.2 2684.8L1278.1 2716.0L1282.9 2705.6L1284.4 2711.8L1285.8 2705.6L1289.9 2716.0L1294.0 2705.6L1295.5 2711.9L1297.0 2705.6L1298.5 2712.3L1300.1 2705.6L1301.6 2712.1L1303.1 2705.6L1304.8 2712.9L1306.5 2705.6L1308.1 2712.4L1309.6 2684.8L1311.0 2711.5L1312.4 2705.6L1313.6 2710.9L1314.9 2705.6L1319.7 2716.0L1324.5 2705.6L1327.0 2716.0L1329.5 2705.6L1333.9 2716.0L1338.4 2684.8L1341.1 2716.0L1343.8 2695.2L1346.1 2715.8L1348.5 2705.6L1352.4 2716.0L1356.4 2705.6L1357.7 2711.3L1359.0 2705.6L1360.9 2713.6L1362.7 2705.6L1366.9 2716.0L1371.0 2705.6L1372.2 2710.9L1373.4 2695.2L1375.1 2712.8L1376.8 2695.2L1379.7 2716.0L1382.6 2705.6L1385.5 2716.0L1388.4 2705.6L1389.7 2711.2L1391.0 2695.2L1393.5 2716.0L1396.0 2705.6L1398.0 2714.2L1399.9 2695.2L1403.4 2716.0L1406.9 2705.6L1411.0 2716.0L1415.2 2705.6L1416.5 2711.1L1417.8 2684.8L1421.0 2716.0L1422.4 2705.6L1423.0 2716.0L1423.0 2716.0Z"/><path class="s" d="M271.4 2694.9L272.4 2707.6L273.6 2678.6L274.1 2642.3L275.0 2641.4L275.7 2597.0L276.5 2577.9L277.2 2606.0L278.1 2651.4L279.1 2683.1L280.4 2704.0L281.5 2705.8L282.5 2684.9L284.1 2701.3L286.6 2714.0L289.0 2705.8L290.9 2705.8L292.2 2710.3L293.6 2684.9L295.4 2684.9L296.5 2663.2L297.5 2695.8L299.9 2710.3L301.5 2705.8L303.6 2711.2L305.2 2705.8L310.2 2715.8L314.7 2705.8L316.2 2705.8L317.4 2684.9L318.5 2700.4L319.7 2695.4L320.8 2695.4L322.0 2684.9L323.5 2707.6L324.9 2705.8L328.5 2714.9L332.6 2705.8L334.4 2712.2L336.2 2705.8L337.4 2684.9L338.9 2705.8L340.3 2705.8L340.9 2695.4L344.8 2703.1L345.7 2714.8L346.2 2703.7L350.7 2715.1L360.7 2694.6L367.9 2715.1L372.5 2704.6L389.2 2715.5L405.1 2704.6L406.5 2704.6L407.4 2683.3L408.3 2704.6L412.4 2694.6L416.5 2715.1L421.0 2694.6L424.2 2714.2L427.8 2704.6L430.5 2683.3L432.3 2704.6L435.5 2694.6L439.1 2715.1L443.7 2704.6L445.9 2712.8L448.2 2704.6L451.4 2715.1L454.1 2683.3L455.9 2715.1L464.1 2694.6L477.7 2715.5L489.0 2694.6L491.3 2714.2L495.8 2694.6L498.6 2706.0L500.8 2683.3L502.6 2706.0L504.9 2715.1L509.4 2704.6L512.1 2712.8L515.3 2694.6L518.5 2712.8L520.8 2704.6L523.0 2699.2L524.4 2683.3L526.2 2703.7L528.5 2694.6L530.8 2694.6L533.5 2715.1L535.4 2705.5L538.6 2715.5L541.8 2705.5L543.4 2715.5L544.9 2705.5L547.7 2715.5L549.9 2696.5L551.6 2684.7L552.2 2642.0L552.8 2641.1L554.3 2598.9L557.4 2598.9L558.1 2642.0L558.8 2678.3L559.9 2705.5L561.7 2715.5L563.7 2705.5L568.5 2715.5L574.4 2705.5L578.5 2715.5L581.5 2705.5L583.5 2715.5L585.3 2687.4L586.7 2652.5L587.6 2652.9L589.8 2673.8L591.2 2705.5L591.7 2715.5L593.0 2695.1L593.9 2705.5L595.3 2684.7L596.6 2684.7L598.0 2712.8L599.8 2711.0L601.8 2714.2L603.8 2695.2L605.2 2711.9L606.7 2705.6L608.1 2711.5L609.4 2684.8L611.5 2714.5L613.6 2705.6L618.0 2716.0L622.5 2705.6L623.9 2711.4L625.2 2695.2L630.5 2716.0L635.8 2705.6L637.7 2713.8L639.6 2705.6L641.1 2712.1L642.7 2684.8L644.0 2711.5L645.4 2705.6L646.6 2710.8L647.8 2705.6L649.2 2711.6L650.6 2695.2L655.0 2716.0L659.4 2695.2L664.1 2716.0L668.8 2705.6L671.1 2715.4L673.3 2705.6L675.6 2715.3L677.8 2695.2L683.0 2716.0L688.2 2705.6L689.6 2711.9L691.1 2695.2L695.2 2716.0L699.4 2705.6L700.7 2711.4L702.1 2695.2L704.3 2715.3L706.6 2705.6L711.8 2716.0L717.0 2705.6L722.1 2716.0L727.2 2705.6L730.2 2716.0L733.2 2705.6L734.4 2711.1L735.7 2705.6L737.1 2711.4L738.4 2684.8L741.9 2716.0L745.5 2705.6L747.8 2715.6L750.1 2684.8L753.5 2716.0L756.9 2684.8L759.6 2716.0L762.4 2705.6L767.5 2716.0L773.0 2672.3L776.5 2716.0L780.4 2684.8L781.7 2711.1L782.9 2705.6L788.1 2716.0L793.2 2705.6L794.9 2712.8L796.6 2695.2L801.7 2716.0L806.8 2705.6L811.4 2716.0L815.9 2684.8L820.5 2716.0L825.2 2695.2L828.4 2716.0L831.7 2684.8L834.5 2716.0L836.0 2684.8L838.9 2712.2L840.4 2705.6L842.3 2661.9L843.1 2705.6L845.4 2715.3L847.6 2705.6L852.9 2716.0L858.2 2705.6L860.8 2716.0L863.5 2705.6L866.9 2716.0L870.4 2695.2L871.8 2711.5L873.1 2705.6L874.8 2712.9L876.5 2705.6L879.5 2716.0L882.4 2705.6L885.2 2716.0L888.1 2705.6L889.4 2711.2L890.7 2705.6L895.0 2684.8L899.0 2705.6L900.5 2712.0L902.0 2684.8L903.5 2661.9L905.0 2695.2L908.0 2716.0L911.0 2705.6L914.0 2716.0L917.1 2705.6L918.5 2711.4L919.8 2705.6L923.1 2716.0L926.4 2695.2L929.5 2716.0L932.6 2705.6L933.9 2711.3L935.2 2695.2L936.6 2711.4L937.9 2684.8L941.6 2716.0L945.2 2684.8L950.3 2716.0L955.4 2695.2L957.0 2712.4L958.6 2695.2L961.6 2716.0L964.6 2684.8L965.8 2710.9L967.0 2705.6L968.6 2712.3L970.1 2695.2L971.4 2711.0L972.6 2705.6L974.9 2715.3L977.2 2705.6L981.8 2716.0L986.4 2705.6L991.4 2716.0L994.0 2672.3L997.6 2711.2L998.9 2705.6L1000.4 2712.0L1001.9 2695.2L1003.3 2711.8L1004.7 2705.6L1006.2 2712.0L1007.7 2695.2L1009.3 2712.2L1010.8 2695.2L1015.5 2716.0L1020.2 2705.6L1023.8 2716.0L1027.5 2695.2L1029.0 2712.2L1030.5 2684.8L1035.7 2716.0L1040.9 2705.6L1043.6 2716.0L1046.4 2684.8L1047.8 2711.6L1049.2 2705.6L1050.6 2711.5L1052.0 2705.6L1053.6 2712.9L1055.3 2695.2L1056.9 2712.2L1058.4 2695.2L1062.8 2716.0L1067.2 2684.8L1070.6 2716.0L1074.0 2705.6L1077.4 2716.0L1080.8 2695.2L1082.3 2712.0L1083.7 2695.2L1086.0 2715.3L1088.2 2705.6L1091.8 2716.0L1095.5 2695.2L1096.8 2711.2L1098.1 2705.6L1099.8 2712.9L1101.5 2684.8L1105.2 2716.0L1108.9 2705.6L1110.1 2710.9L1111.4 2695.2L1112.8 2711.8L1114.2 2705.6L1119.4 2716.0L1124.5 2705.6L1129.9 2716.0L1135.3 2695.2L1138.7 2716.0L1142.2 2695.2L1143.4 2711.2L1144.7 2705.6L1147.9 2716.0L1151.0 2695.2L1152.7 2712.8L1154.4 2705.6L1155.6 2710.8L1156.8 2705.6L1159.4 2716.0L1162.1 2705.6L1163.3 2711.1L1164.6 2705.6L1166.1 2712.0L1167.6 2705.6L1172.3 2716.0L1176.9 2705.6L1178.9 2713.8L1180.8 2684.8L1183.9 2716.0L1186.9 2705.6L1191.4 2716.0L1195.9 2705.6L1197.6 2712.8L1199.3 2684.8L1200.8 2712.2L1202.4 2684.8L1203.7 2711.0L1204.9 2684.8L1206.3 2711.5L1207.6 2705.6L1210.0 2715.7L1212.3 2705.6L1213.7 2711.7L1215.2 2695.2L1216.5 2711.4L1217.8 2695.2L1219.5 2712.6L1221.1 2705.6L1222.7 2712.7L1224.4 2705.6L1225.9 2712.0L1227.4 2684.8L1229.0 2712.8L1230.7 2705.6L1234.4 2716.0L1238.1 2705.6L1239.4 2711.4L1240.8 2705.6L1242.1 2711.5L1243.5 2705.6L1246.8 2716.0L1250.1 2695.2L1255.1 2716.0L1260.0 2705.6L1261.9 2713.6L1263.7 2705.6L1268.5 2716.0L1273.2 2684.8L1278.1 2716.0L1282.9 2705.6L1284.4 2711.8L1285.8 2705.6L1289.9 2716.0L1294.0 2705.6L1295.5 2711.9L1297.0 2705.6L1298.5 2712.3L1300.1 2705.6L1301.6 2712.1L1303.1 2705.6L1304.8 2712.9L1306.5 2705.6L1308.1 2712.4L1309.6 2684.8L1311.0 2711.5L1312.4 2705.6L1313.6 2710.9L1314.9 2705.6L1319.7 2716.0L1324.5 2705.6L1327.0 2716.0L1329.5 2705.6L1333.9 2716.0L1338.4 2684.8L1341.1 2716.0L1343.8 2695.2L1346.1 2715.8L1348.5 2705.6L1352.4 2716.0L1356.4 2705.6L1357.7 2711.3L1359.0 2705.6L1360.9 2713.6L1362.7 2705.6L1366.9 2716.0L1371.0 2705.6L1372.2 2710.9L1373.4 2695.2L1375.1 2712.8L1376.8 2695.2L1379.7 2716.0L1382.6 2705.6L1385.5 2716.0L1388.4 2705.6L1389.7 2711.2L1391.0 2695.2L1393.5 2716.0L1396.0 2705.6L1398.0 2714.2L1399.9 2695.2L1403.4 2716.0L1406.9 2705.6L1411.0 2716.0L1415.2 2705.6L1416.5 2711.1L1417.8 2684.8L1421.0 2716.0L1422.4 2705.6L1423.0 2716.0"/>
<path class="ax" d="M259.5 2577.5H271V2716.0H259.5"/>
<text class="tk" x="252.4" y="2580.6">31</text>
<text class="tk" x="252.4" y="2719.1">0</text>
<text class="lab" x="73.3" y="2652.7">GSM2481675</text>
<path class="f" d="M330.1 2869.9L330.1 2869.9L389.3 2800.6L639.6 2869.9L891.7 2835.3L892.4 2731.4L893.1 2835.3L989.7 2869.9L1086.3 2835.3L1255.6 2869.9L1255.6 2869.9Z"/><path class="s" d="M330.1 2869.9L389.3 2800.6L639.6 2869.9L891.7 2835.3L892.4 2731.4L893.1 2835.3L989.7 2869.9L1086.3 2835.3L1255.6 2869.9"/>
<path class="ax" d="M259.5 2731.4H271V2869.9H259.5"/>
<text class="tk" x="252.4" y="2734.5">477</text>
<text class="tk" x="252.4" y="2873.0">0</text>
<text class="lab" x="73.3" y="2806.6">GSM2481674</text>
<path class="f" d="M271.8 3023.8L271.8 3021.1L274.1 3007.5L275.4 2996.6L276.3 2984.4L277.2 3005.7L278.6 3009.8L279.5 3019.3L280.4 3019.3L281.5 3015.2L283.1 3019.8L286.8 3023.4L291.5 3019.3L294.0 3022.9L295.4 3019.3L296.8 3019.8L297.6 3022.9L298.6 3019.3L300.8 3019.3L302.2 3022.9L303.6 3020.2L304.5 3015.2L305.8 3019.8L309.9 3023.4L314.9 3019.3L317.1 3019.3L319.0 3022.9L320.3 3020.2L321.4 3015.2L322.3 3019.3L323.5 3015.2L324.6 3019.8L329.4 3023.4L335.8 3019.3L337.6 3022.9L338.5 3019.3L339.8 3019.8L341.6 3022.9L343.5 3019.3L344.8 3019.3L346.0 3011.2L347.9 3019.6L349.7 3022.1L351.6 3015.4L353.4 3022.0L355.2 3019.6L357.0 3022.0L358.8 3019.6L360.6 3022.0L362.4 3019.6L368.5 3023.8L374.6 3019.6L376.0 3021.6L377.5 3015.4L380.5 3023.5L383.4 3019.6L386.2 3023.2L388.9 3019.6L391.5 3023.1L394.1 3019.6L399.6 3023.8L405.1 3019.6L408.2 3023.6L411.2 3019.6L413.5 3022.6L415.8 3019.6L418.5 3023.3L420.5 3011.2L426.4 3023.8L431.5 3019.6L433.0 3021.7L434.6 3019.6L436.2 3021.7L437.8 3019.6L439.2 3021.5L440.6 3019.6L443.3 3023.2L446.0 3019.6L447.8 3022.0L449.6 3019.6L451.1 3021.5L452.5 3019.6L456.5 3023.8L460.5 3019.6L467.1 3023.8L473.7 3019.6L477.5 3023.8L481.3 3019.6L486.1 3023.8L491.0 3015.4L492.4 3021.5L493.9 3019.6L497.7 3023.8L501.6 3015.4L503.3 3021.9L505.1 3019.6L506.8 3021.9L508.5 3015.4L514.6 3023.8L520.0 3019.1L521.4 3015.9L522.5 3022.7L524.4 3015.9L527.3 3023.7L530.4 3020.0L532.2 3015.9L533.6 3020.5L537.7 3023.7L541.5 3020.0L543.8 3023.7L546.3 3015.9L547.7 3021.8L549.0 3011.4L550.4 3018.2L551.6 3016.4L552.6 3000.1L553.6 2986.5L554.2 2976.5L554.9 2968.3L555.4 2923.0L556.3 2885.8L557.2 2913.9L558.1 2950.2L559.0 2977.4L559.9 3002.8L561.3 3003.7L562.6 3002.8L564.0 3015.5L566.3 3023.7L569.7 3020.0L572.4 3023.7L576.2 3020.0L579.0 3023.7L581.2 3015.9L582.6 3022.7L584.4 3020.0L587.1 3021.8L588.5 3004.6L589.4 3002.8L590.8 3020.9L592.6 3020.0L594.4 3023.2L596.2 3020.0L598.9 3023.2L602.0 3019.6L605.3 3023.8L608.5 3019.6L613.1 3023.8L617.7 3019.6L619.4 3021.9L621.1 3019.6L622.8 3021.8L624.5 3019.6L629.9 3023.8L635.3 3019.6L637.0 3021.9L638.7 3019.6L640.3 3021.8L642.0 3019.6L644.5 3022.9L647.0 3019.6L652.7 3023.8L658.4 3019.6L664.6 3023.8L670.9 3019.6L672.4 3021.5L673.8 3019.6L678.2 3023.8L682.6 3019.6L688.4 3023.8L694.3 3019.6L696.2 3022.1L698.0 3019.6L699.9 3022.1L701.8 3019.6L710.0 3012.9L714.0 3005.8L716.4 3022.1L718.2 3019.6L720.1 3022.1L722.0 3013.8L723.5 3021.5L724.9 3015.4L726.7 3022.0L728.5 3015.4L730.0 3021.6L731.4 3019.6L735.5 3023.8L739.5 3019.6L740.9 3021.5L742.4 3019.6L744.0 3021.7L745.5 3019.6L747.2 3021.9L749.0 3015.4L753.9 3023.8L758.9 3019.6L760.4 3021.6L761.9 3019.6L765.8 3023.8L769.0 3012.9L773.7 3023.8L779.3 3010.0L783.5 3023.8L789.4 3015.4L792.7 3023.8L796.0 3019.6L799.7 3023.8L803.4 3015.4L808.1 3023.8L812.9 3019.6L815.8 3023.4L818.6 3015.4L824.7 3023.8L830.7 3019.6L836.4 3023.8L842.0 3019.6L848.4 3023.8L854.7 3015.4L861.2 3023.8L867.7 3019.6L869.1 3021.5L870.5 3019.6L875.1 3023.8L879.6 3019.6L881.3 3021.8L882.9 3019.6L888.5 3023.8L894.1 3019.6L897.9 3023.8L901.7 3019.6L903.2 3021.6L904.7 3019.6L907.1 3022.8L909.5 3019.6L911.2 3021.8L912.8 3019.6L915.6 3023.3L918.4 3019.6L920.2 3022.0L921.9 3019.6L926.9 3023.8L931.9 3019.6L933.3 3021.5L934.8 3019.6L936.2 3021.5L937.7 3019.6L943.7 3023.8L949.8 3019.6L951.8 3022.3L953.9 3015.4L955.7 3022.0L957.5 3019.6L959.6 3022.4L961.6 3019.6L966.1 3023.8L970.6 3019.6L973.8 3023.8L977.1 3019.6L978.7 3021.7L980.3 3015.4L983.0 3023.3L985.8 3019.6L987.7 3022.0L989.5 3019.6L991.1 3021.7L992.6 3019.6L998.5 3023.8L1004.3 3019.6L1009.6 3023.8L1014.9 3019.6L1017.0 3022.4L1019.1 3019.6L1024.7 3023.8L1030.3 3019.6L1033.2 3023.5L1036.2 3019.6L1038.0 3022.0L1039.9 3019.6L1043.0 3023.8L1046.2 3019.6L1052.4 3023.8L1058.6 3015.4L1060.9 3022.7L1063.3 3019.6L1065.3 3022.3L1067.3 3015.4L1071.7 3023.8L1076.1 3019.6L1083.0 3013.3L1087.7 3019.6L1089.3 3021.6L1090.8 3015.4L1092.2 3021.5L1093.7 3019.6L1096.7 3023.6L1099.7 3019.6L1101.1 3021.5L1102.5 3019.6L1107.2 3023.8L1111.9 3019.6L1117.3 3023.8L1122.6 3019.6L1128.8 3023.8L1135.1 3019.6L1136.6 3021.7L1138.2 3019.6L1140.7 3022.8L1143.1 3015.4L1144.7 3021.8L1146.4 3019.6L1149.2 3023.3L1151.9 3015.4L1153.8 3022.1L1155.7 3019.6L1159.1 3023.8L1162.5 3019.6L1166.7 3023.8L1170.9 3019.6L1173.0 3022.4L1175.1 3019.6L1176.5 3021.5L1177.9 3019.6L1179.7 3022.0L1181.5 3015.4L1183.3 3022.0L1185.0 3015.4L1190.6 3023.8L1196.2 3019.6L1199.2 3010.0L1201.1 3019.6L1204.3 3023.8L1207.4 3015.4L1208.9 3021.6L1210.4 3019.6L1213.8 3023.8L1217.2 3019.6L1219.0 3022.0L1220.8 3019.6L1222.6 3022.0L1224.4 3019.6L1226.6 3022.5L1228.7 3019.6L1230.2 3021.6L1231.8 3019.6L1233.3 3021.7L1234.9 3015.4L1236.6 3021.9L1238.4 3019.6L1241.2 3023.3L1244.1 3019.6L1245.8 3021.9L1247.5 3019.6L1249.0 3021.6L1250.6 3019.6L1254.6 3023.8L1258.7 3015.4L1260.2 3021.6L1261.7 3019.6L1265.0 3023.8L1268.3 3019.6L1269.9 3021.8L1271.6 3019.6L1273.4 3022.1L1275.3 3019.6L1281.5 3023.8L1287.7 3019.6L1289.1 3021.5L1290.6 3019.6L1296.7 3023.8L1300.0 3013.3L1306.5 3023.8L1310.1 3019.6L1315.6 3023.8L1321.1 3019.6L1325.5 3023.8L1329.8 3019.6L1336.2 3023.8L1343.0 3013.3L1344.2 3021.8L1345.9 3019.6L1348.7 3023.3L1351.5 3019.6L1353.2 3021.8L1354.9 3019.6L1357.2 3022.7L1359.6 3015.4L1365.7 3023.8L1371.8 3019.6L1374.6 3023.3L1377.4 3019.6L1381.3 3023.8L1385.3 3019.6L1391.1 3023.8L1397.0 3019.6L1402.5 3023.8L1407.9 3019.6L1410.6 3023.2L1413.3 3019.6L1419.0 3023.8L1420.4 3019.6L1421.0 3023.8L1421.0 3023.8Z"/><path class="s" d="M271.8 3021.1L274.1 3007.5L275.4 2996.6L276.3 2984.4L277.2 3005.7L278.6 3009.8L279.5 3019.3L280.4 3019.3L281.5 3015.2L283.1 3019.8L286.8 3023.4L291.5 3019.3L294.0 3022.9L295.4 3019.3L296.8 3019.8L297.6 3022.9L298.6 3019.3L300.8 3019.3L302.2 3022.9L303.6 3020.2L304.5 3015.2L305.8 3019.8L309.9 3023.4L314.9 3019.3L317.1 3019.3L319.0 3022.9L320.3 3020.2L321.4 3015.2L322.3 3019.3L323.5 3015.2L324.6 3019.8L329.4 3023.4L335.8 3019.3L337.6 3022.9L338.5 3019.3L339.8 3019.8L341.6 3022.9L343.5 3019.3L344.8 3019.3L346.0 3011.2L347.9 3019.6L349.7 3022.1L351.6 3015.4L353.4 3022.0L355.2 3019.6L357.0 3022.0L358.8 3019.6L360.6 3022.0L362.4 3019.6L368.5 3023.8L374.6 3019.6L376.0 3021.6L377.5 3015.4L380.5 3023.5L383.4 3019.6L386.2 3023.2L388.9 3019.6L391.5 3023.1L394.1 3019.6L399.6 3023.8L405.1 3019.6L408.2 3023.6L411.2 3019.6L413.5 3022.6L415.8 3019.6L418.5 3023.3L420.5 3011.2L426.4 3023.8L431.5 3019.6L433.0 3021.7L434.6 3019.6L436.2 3021.7L437.8 3019.6L439.2 3021.5L440.6 3019.6L443.3 3023.2L446.0 3019.6L447.8 3022.0L449.6 3019.6L451.1 3021.5L452.5 3019.6L456.5 3023.8L460.5 3019.6L467.1 3023.8L473.7 3019.6L477.5 3023.8L481.3 3019.6L486.1 3023.8L491.0 3015.4L492.4 3021.5L493.9 3019.6L497.7 3023.8L501.6 3015.4L503.3 3021.9L505.1 3019.6L506.8 3021.9L508.5 3015.4L514.6 3023.8L520.0 3019.1L521.4 3015.9L522.5 3022.7L524.4 3015.9L527.3 3023.7L530.4 3020.0L532.2 3015.9L533.6 3020.5L537.7 3023.7L541.5 3020.0L543.8 3023.7L546.3 3015.9L547.7 3021.8L549.0 3011.4L550.4 3018.2L551.6 3016.4L552.6 3000.1L553.6 2986.5L554.2 2976.5L554.9 2968.3L555.4 2923.0L556.3 2885.8L557.2 2913.9L558.1 2950.2L559.0 2977.4L559.9 3002.8L561.3 3003.7L562.6 3002.8L564.0 3015.5L566.3 3023.7L569.7 3020.0L572.4 3023.7L576.2 3020.0L579.0 3023.7L581.2 3015.9L582.6 3022.7L584.4 3020.0L587.1 3021.8L588.5 3004.6L589.4 3002.8L590.8 3020.9L592.6 3020.0L594.4 3023.2L596.2 3020.0L598.9 3023.2L602.0 3019.6L605.3 3023.8L608.5 3019.6L613.1 3023.8L617.7 3019.6L619.4 3021.9L621.1 3019.6L622.8 3021.8L624.5 3019.6L629.9 3023.8L635.3 3019.6L637.0 3021.9L638.7 3019.6L640.3 3021.8L642.0 3019.6L644.5 3022.9L647.0 3019.6L652.7 3023.8L658.4 3019.6L664.6 3023.8L670.9 3019.6L672.4 3021.5L673.8 3019.6L678.2 3023.8L682.6 3019.6L688.4 3023.8L694.3 3019.6L696.2 3022.1L698.0 3019.6L699.9 3022.1L701.8 3019.6L710.0 3012.9L714.0 3005.8L716.4 3022.1L718.2 3019.6L720.1 3022.1L722.0 3013.8L723.5 3021.5L724.9 3015.4L726.7 3022.0L728.5 3015.4L730.0 3021.6L731.4 3019.6L735.5 3023.8L739.5 3019.6L740.9 3021.5L742.4 3019.6L744.0 3021.7L745.5 3019.6L747.2 3021.9L749.0 3015.4L753.9 3023.8L758.9 3019.6L760.4 3021.6L761.9 3019.6L765.8 3023.8L769.0 3012.9L773.7 3023.8L779.3 3010.0L783.5 3023.8L789.4 3015.4L792.7 3023.8L796.0 3019.6L799.7 3023.8L803.4 3015.4L808.1 3023.8L812.9 3019.6L815.8 3023.4L818.6 3015.4L824.7 3023.8L830.7 3019.6L836.4 3023.8L842.0 3019.6L848.4 3023.8L854.7 3015.4L861.2 3023.8L867.7 3019.6L869.1 3021.5L870.5 3019.6L875.1 3023.8L879.6 3019.6L881.3 3021.8L882.9 3019.6L888.5 3023.8L894.1 3019.6L897.9 3023.8L901.7 3019.6L903.2 3021.6L904.7 3019.6L907.1 3022.8L909.5 3019.6L911.2 3021.8L912.8 3019.6L915.6 3023.3L918.4 3019.6L920.2 3022.0L921.9 3019.6L926.9 3023.8L931.9 3019.6L933.3 3021.5L934.8 3019.6L936.2 3021.5L937.7 3019.6L943.7 3023.8L949.8 3019.6L951.8 3022.3L953.9 3015.4L955.7 3022.0L957.5 3019.6L959.6 3022.4L961.6 3019.6L966.1 3023.8L970.6 3019.6L973.8 3023.8L977.1 3019.6L978.7 3021.7L980.3 3015.4L983.0 3023.3L985.8 3019.6L987.7 3022.0L989.5 3019.6L991.1 3021.7L992.6 3019.6L998.5 3023.8L1004.3 3019.6L1009.6 3023.8L1014.9 3019.6L1017.0 3022.4L1019.1 3019.6L1024.7 3023.8L1030.3 3019.6L1033.2 3023.5L1036.2 3019.6L1038.0 3022.0L1039.9 3019.6L1043.0 3023.8L1046.2 3019.6L1052.4 3023.8L1058.6 3015.4L1060.9 3022.7L1063.3 3019.6L1065.3 3022.3L1067.3 3015.4L1071.7 3023.8L1076.1 3019.6L1083.0 3013.3L1087.7 3019.6L1089.3 3021.6L1090.8 3015.4L1092.2 3021.5L1093.7 3019.6L1096.7 3023.6L1099.7 3019.6L1101.1 3021.5L1102.5 3019.6L1107.2 3023.8L1111.9 3019.6L1117.3 3023.8L1122.6 3019.6L1128.8 3023.8L1135.1 3019.6L1136.6 3021.7L1138.2 3019.6L1140.7 3022.8L1143.1 3015.4L1144.7 3021.8L1146.4 3019.6L1149.2 3023.3L1151.9 3015.4L1153.8 3022.1L1155.7 3019.6L1159.1 3023.8L1162.5 3019.6L1166.7 3023.8L1170.9 3019.6L1173.0 3022.4L1175.1 3019.6L1176.5 3021.5L1177.9 3019.6L1179.7 3022.0L1181.5 3015.4L1183.3 3022.0L1185.0 3015.4L1190.6 3023.8L1196.2 3019.6L1199.2 3010.0L1201.1 3019.6L1204.3 3023.8L1207.4 3015.4L1208.9 3021.6L1210.4 3019.6L1213.8 3023.8L1217.2 3019.6L1219.0 3022.0L1220.8 3019.6L1222.6 3022.0L1224.4 3019.6L1226.6 3022.5L1228.7 3019.6L1230.2 3021.6L1231.8 3019.6L1233.3 3021.7L1234.9 3015.4L1236.6 3021.9L1238.4 3019.6L1241.2 3023.3L1244.1 3019.6L1245.8 3021.9L1247.5 3019.6L1249.0 3021.6L1250.6 3019.6L1254.6 3023.8L1258.7 3015.4L1260.2 3021.6L1261.7 3019.6L1265.0 3023.8L1268.3 3019.6L1269.9 3021.8L1271.6 3019.6L1273.4 3022.1L1275.3 3019.6L1281.5 3023.8L1287.7 3019.6L1289.1 3021.5L1290.6 3019.6L1296.7 3023.8L1300.0 3013.3L1306.5 3023.8L1310.1 3019.6L1315.6 3023.8L1321.1 3019.6L1325.5 3023.8L1329.8 3019.6L1336.2 3023.8L1343.0 3013.3L1344.2 3021.8L1345.9 3019.6L1348.7 3023.3L1351.5 3019.6L1353.2 3021.8L1354.9 3019.6L1357.2 3022.7L1359.6 3015.4L1365.7 3023.8L1371.8 3019.6L1374.6 3023.3L1377.4 3019.6L1381.3 3023.8L1385.3 3019.6L1391.1 3023.8L1397.0 3019.6L1402.5 3023.8L1407.9 3019.6L1410.6 3023.2L1413.3 3019.6L1419.0 3023.8L1420.4 3019.6L1421.0 3023.8"/>
<path class="ax" d="M259.5 2885.3H271V3023.8H259.5"/>
<text class="tk" x="252.4" y="2888.4">89</text>
<text class="tk" x="252.4" y="3026.9">0</text>
<text class="lab" x="73.3" y="2960.5">GSM2481673</text>
<path class="f" d="M303.5 3177.8L303.5 3177.8L337.2 3108.5L338.2 3150.1L338.9 3108.5L445.0 3177.8L551.2 3108.5L552.2 3150.1L553.2 3108.5L573.6 3177.8L594.7 3108.5L598.1 3177.8L602.2 3039.3L603.5 3108.5L629.4 3177.8L655.2 3039.3L662.7 3177.8L669.5 3108.5L699.5 3177.8L729.4 3108.5L730.4 3150.1L731.4 3108.5L817.8 3177.8L905.3 3108.5L922.3 3177.8L940.0 3108.5L959.7 3177.8L980.1 3108.5L1083.5 3177.8L1187.6 3108.5L1188.6 3150.1L1189.7 3108.5L1210.7 3177.8L1231.8 3108.5L1260.4 3177.8L1289.0 3108.5L1290.0 3150.1L1291.0 3108.5L1358.4 3177.8L1358.4 3177.8Z"/><path class="s" d="M303.5 3177.8L337.2 3108.5L338.2 3150.1L338.9 3108.5L445.0 3177.8L551.2 3108.5L552.2 3150.1L553.2 3108.5L573.6 3177.8L594.7 3108.5L598.1 3177.8L602.2 3039.3L603.5 3108.5L629.4 3177.8L655.2 3039.3L662.7 3177.8L669.5 3108.5L699.5 3177.8L729.4 3108.5L730.4 3150.1L731.4 3108.5L817.8 3177.8L905.3 3108.5L922.3 3177.8L940.0 3108.5L959.7 3177.8L980.1 3108.5L1083.5 3177.8L1187.6 3108.5L1188.6 3150.1L1189.7 3108.5L1210.7 3177.8L1231.8 3108.5L1260.4 3177.8L1289.0 3108.5L1290.0 3150.1L1291.0 3108.5L1358.4 3177.8"/>
<path class="ax" d="M259.5 3039.3H271V3177.8H259.5"/>
<text class="tk" x="252.4" y="3042.4">76</text>
<text class="tk" x="252.4" y="3180.9">0</text>
<text class="lab" x="73.3" y="3114.5">GSM2481672</text>
<path class="f" d="M271.8 3331.7L271.8 3331.2L273.6 3313.6L274.1 3290.0L274.8 3290.0L275.7 3304.0L278.1 3304.0L279.3 3324.4L281.3 3317.6L282.2 3324.4L283.6 3317.6L285.1 3317.6L286.0 3304.0L286.8 3304.0L287.7 3320.8L289.3 3328.1L291.8 3317.6L293.1 3290.0L293.8 3290.0L294.9 3320.8L296.5 3317.6L297.2 3317.6L298.3 3324.4L299.5 3317.6L300.6 3317.6L301.7 3325.3L303.6 3317.6L307.6 3328.5L311.4 3317.6L328.5 3331.2L344.8 3318.1L346.6 3317.6L347.0 3290.0L347.4 3317.6L348.9 3319.0L349.8 3317.6L356.6 3331.2L357.2 3317.9L362.9 3331.7L368.6 3317.9L376.4 3331.7L384.1 3317.9L387.6 3331.7L391.1 3317.9L393.8 3331.7L396.4 3317.9L399.4 3331.7L402.4 3317.9L403.5 3317.9L406.2 3331.7L408.9 3317.9L416.2 3331.7L423.6 3317.9L431.6 3331.7L439.6 3317.9L442.7 3331.7L445.8 3317.9L450.3 3331.7L454.8 3317.9L459.0 3331.7L463.2 3317.9L467.7 3331.7L472.2 3317.9L477.7 3331.7L483.3 3317.9L488.5 3331.7L493.6 3317.9L498.9 3331.7L504.2 3317.9L507.1 3331.7L510.0 3317.9L511.6 3317.9L519.0 3331.7L520.0 3329.7L534.1 3318.4L534.5 3312.5L535.4 3290.7L536.3 3318.4L545.7 3331.5L554.9 3304.3L555.2 3249.0L556.3 3248.1L557.5 3193.6L558.5 3267.1L559.9 3294.3L561.3 3325.2L561.7 3324.3L563.4 3318.4L564.4 3321.5L565.4 3318.4L567.6 3330.6L570.3 3304.3L571.2 3304.3L571.7 3318.4L572.6 3318.4L573.5 3321.5L574.4 3318.4L576.2 3318.4L581.7 3331.5L587.1 3318.4L587.6 3290.7L588.0 3291.2L589.4 3318.4L590.3 3326.1L592.4 3318.4L593.5 3321.5L594.6 3318.4L597.5 3330.6L599.8 3323.4L608.1 3331.7L616.2 3317.9L617.3 3331.7L618.0 3317.7L618.7 3304.1L637.3 3331.7L641.2 3317.9L643.8 3331.7L646.5 3317.9L648.4 3317.9L656.1 3331.7L663.8 3317.9L666.4 3331.7L668.9 3317.9L674.2 3331.7L679.4 3317.9L682.9 3331.7L686.4 3317.9L687.8 3317.9L694.3 3331.7L700.8 3317.9L701.9 3317.9L707.1 3331.7L712.3 3317.9L718.4 3331.7L724.4 3317.9L729.6 3331.7L734.8 3317.9L742.7 3331.7L750.5 3317.9L753.5 3331.7L756.5 3317.9L758.9 3323.0L759.8 3304.1L760.7 3325.3L763.8 3331.7L766.9 3331.7L768.2 3317.9L768.8 3304.1L769.4 3317.9L769.5 3331.7L771.1 3304.1L772.7 3331.7L778.6 3331.7L786.1 3317.9L790.9 3331.7L795.7 3317.9L803.1 3331.7L810.6 3317.9L816.2 3331.7L821.8 3317.9L823.6 3317.9L828.3 3331.7L828.7 3329.6L829.6 3304.1L830.5 3326.1L833.0 3317.9L839.2 3331.7L845.3 3317.9L852.9 3331.7L860.6 3317.9L865.1 3331.7L869.6 3317.9L873.1 3331.7L876.7 3317.9L879.2 3331.7L881.7 3317.9L886.3 3331.7L890.9 3317.9L893.7 3331.7L894.4 3331.7L895.7 3317.9L896.3 3304.1L896.9 3317.9L898.2 3331.7L900.5 3331.7L904.5 3317.9L905.4 3317.9L908.9 3331.7L912.4 3317.9L919.0 3331.7L924.3 3331.7L925.6 3317.9L926.2 3304.1L926.8 3317.9L928.1 3331.7L929.6 3331.7L933.5 3317.9L936.3 3331.7L939.0 3317.9L943.0 3331.7L947.0 3317.9L953.0 3331.7L959.1 3317.9L960.5 3317.9L963.1 3331.7L965.6 3317.9L968.7 3331.7L971.9 3317.9L974.8 3331.7L975.0 3331.7L976.6 3304.1L978.2 3331.7L984.0 3331.7L990.3 3317.9L993.2 3331.7L996.1 3317.9L1004.1 3331.7L1012.1 3317.9L1018.1 3331.7L1024.0 3317.9L1026.9 3331.7L1029.7 3317.9L1031.4 3317.9L1034.0 3331.7L1036.7 3317.9L1039.2 3331.7L1041.7 3317.9L1044.4 3331.7L1047.1 3317.9L1053.5 3331.7L1059.9 3317.9L1063.7 3331.7L1067.6 3317.9L1070.2 3331.7L1072.8 3317.9L1077.6 3331.7L1082.3 3317.9L1087.2 3331.7L1092.0 3317.9L1099.9 3331.7L1107.9 3317.9L1111.3 3331.7L1114.7 3317.9L1122.2 3331.7L1129.6 3317.9L1130.4 3317.9L1135.8 3331.7L1141.1 3317.9L1144.9 3331.7L1148.8 3317.9L1151.8 3331.7L1153.4 3304.1L1155.0 3331.7L1157.8 3317.9L1162.3 3331.7L1166.8 3317.9L1167.6 3317.9L1170.3 3331.7L1173.0 3317.9L1175.8 3331.7L1178.7 3317.9L1181.2 3331.7L1181.9 3331.7L1183.2 3317.9L1183.8 3304.1L1184.4 3317.9L1185.7 3331.7L1186.5 3331.7L1189.3 3317.9L1190.9 3317.9L1194.3 3331.7L1197.7 3317.9L1204.8 3331.7L1211.9 3317.9L1214.8 3331.7L1217.7 3317.9L1219.6 3317.9L1223.2 3325.1L1224.1 3304.1L1225.0 3327.3L1227.1 3331.7L1234.7 3317.9L1236.5 3317.9L1244.1 3331.7L1251.6 3317.9L1254.2 3331.7L1256.8 3317.9L1259.4 3331.7L1262.0 3317.9L1268.2 3331.7L1274.3 3317.9L1281.2 3331.7L1284.8 3331.7L1286.1 3317.9L1286.7 3304.1L1287.3 3317.9L1288.6 3331.7L1290.8 3331.7L1291.5 3331.7L1293.1 3304.1L1294.7 3331.7L1296.3 3331.7L1299.0 3317.9L1301.8 3331.7L1304.6 3317.9L1306.1 3317.9L1312.9 3331.7L1319.6 3317.9L1326.8 3331.7L1334.0 3317.9L1337.0 3331.7L1339.9 3317.9L1345.7 3331.7L1351.4 3317.9L1354.2 3331.7L1357.0 3317.9L1359.8 3331.7L1362.7 3317.9L1364.6 3317.9L1369.6 3331.7L1374.5 3317.9L1377.2 3331.7L1379.9 3317.9L1381.6 3317.9L1385.9 3331.7L1390.2 3317.9L1391.5 3317.9L1394.2 3331.7L1395.5 3331.7L1396.8 3317.9L1397.4 3304.1L1398.0 3317.9L1399.3 3331.7L1399.7 3331.7L1402.6 3317.9L1406.5 3331.7L1408.3 3324.4L1409.2 3304.1L1410.1 3320.1L1410.4 3317.9L1416.0 3331.7L1417.4 3317.9L1418.0 3331.7L1418.0 3331.7Z"/><path class="s" d="M271.8 3331.2L273.6 3313.6L274.1 3290.0L274.8 3290.0L275.7 3304.0L278.1 3304.0L279.3 3324.4L281.3 3317.6L282.2 3324.4L283.6 3317.6L285.1 3317.6L286.0 3304.0L286.8 3304.0L287.7 3320.8L289.3 3328.1L291.8 3317.6L293.1 3290.0L293.8 3290.0L294.9 3320.8L296.5 3317.6L297.2 3317.6L298.3 3324.4L299.5 3317.6L300.6 3317.6L301.7 3325.3L303.6 3317.6L307.6 3328.5L311.4 3317.6L328.5 3331.2L344.8 3318.1L346.6 3317.6L347.0 3290.0L347.4 3317.6L348.9 3319.0L349.8 3317.6L356.6 3331.2L357.2 3317.9L362.9 3331.7L368.6 3317.9L376.4 3331.7L384.1 3317.9L387.6 3331.7L391.1 3317.9L393.8 3331.7L396.4 3317.9L399.4 3331.7L402.4 3317.9L403.5 3317.9L406.2 3331.7L408.9 3317.9L416.2 3331.7L423.6 3317.9L431.6 3331.7L439.6 3317.9L442.7 3331.7L445.8 3317.9L450.3 3331.7L454.8 3317.9L459.0 3331.7L463.2 3317.9L467.7 3331.7L472.2 3317.9L477.7 3331.7L483.3 3317.9L488.5 3331.7L493.6 3317.9L498.9 3331.7L504.2 3317.9L507.1 3331.7L510.0 3317.9L511.6 3317.9L519.0 3331.7L520.0 3329.7L534.1 3318.4L534.5 3312.5L535.4 3290.7L536.3 3318.4L545.7 3331.5L554.9 3304.3L555.2 3249.0L556.3 3248.1L557.5 3193.6L558.5 3267.1L559.9 3294.3L561.3 3325.2L561.7 3324.3L563.4 3318.4L564.4 3321.5L565.4 3318.4L567.6 3330.6L570.3 3304.3L571.2 3304.3L571.7 3318.4L572.6 3318.4L573.5 3321.5L574.4 3318.4L576.2 3318.4L581.7 3331.5L587.1 3318.4L587.6 3290.7L588.0 3291.2L589.4 3318.4L590.3 3326.1L592.4 3318.4L593.5 3321.5L594.6 3318.4L597.5 3330.6L599.8 3323.4L608.1 3331.7L616.2 3317.9L617.3 3331.7L618.0 3317.7L618.7 3304.1L637.3 3331.7L641.2 3317.9L643.8 3331.7L646.5 3317.9L648.4 3317.9L656.1 3331.7L663.8 3317.9L666.4 3331.7L668.9 3317.9L674.2 3331.7L679.4 3317.9L682.9 3331.7L686.4 3317.9L687.8 3317.9L694.3 3331.7L700.8 3317.9L701.9 3317.9L707.1 3331.7L712.3 3317.9L718.4 3331.7L724.4 3317.9L729.6 3331.7L734.8 3317.9L742.7 3331.7L750.5 3317.9L753.5 3331.7L756.5 3317.9L758.9 3323.0L759.8 3304.1L760.7 3325.3L763.8 3331.7L766.9 3331.7L768.2 3317.9L768.8 3304.1L769.4 3317.9L769.5 3331.7L771.1 3304.1L772.7 3331.7L778.6 3331.7L786.1 3317.9L790.9 3331.7L795.7 3317.9L803.1 3331.7L810.6 3317.9L816.2 3331.7L821.8 3317.9L823.6 3317.9L828.3 3331.7L828.7 3329.6L829.6 3304.1L830.5 3326.1L833.0 3317.9L839.2 3331.7L845.3 3317.9L852.9 3331.7L860.6 3317.9L865.1 3331.7L869.6 3317.9L873.1 3331.7L876.7 3317.9L879.2 3331.7L881.7 3317.9L886.3 3331.7L890.9 3317.9L893.7 3331.7L894.4 3331.7L895.7 3317.9L896.3 3304.1L896.9 3317.9L898.2 3331.7L900.5 3331.7L904.5 3317.9L905.4 3317.9L908.9 3331.7L912.4 3317.9L919.0 3331.7L924.3 3331.7L925.6 3317.9L926.2 3304.1L926.8 3317.9L928.1 3331.7L929.6 3331.7L933.5 3317.9L936.3 3331.7L939.0 3317.9L943.0 3331.7L947.0 3317.9L953.0 3331.7L959.1 3317.9L960.5 3317.9L963.1 3331.7L965.6 3317.9L968.7 3331.7L971.9 3317.9L974.8 3331.7L975.0 3331.7L976.6 3304.1L978.2 3331.7L984.0 3331.7L990.3 3317.9L993.2 3331.7L996.1 3317.9L1004.1 3331.7L1012.1 3317.9L1018.1 3331.7L1024.0 3317.9L1026.9 3331.7L1029.7 3317.9L1031.4 3317.9L1034.0 3331.7L1036.7 3317.9L1039.2 3331.7L1041.7 3317.9L1044.4 3331.7L1047.1 3317.9L1053.5 3331.7L1059.9 3317.9L1063.7 3331.7L1067.6 3317.9L1070.2 3331.7L1072.8 3317.9L1077.6 3331.7L1082.3 3317.9L1087.2 3331.7L1092.0 3317.9L1099.9 3331.7L1107.9 3317.9L1111.3 3331.7L1114.7 3317.9L1122.2 3331.7L1129.6 3317.9L1130.4 3317.9L1135.8 3331.7L1141.1 3317.9L1144.9 3331.7L1148.8 3317.9L1151.8 3331.7L1153.4 3304.1L1155.0 3331.7L1157.8 3317.9L1162.3 3331.7L1166.8 3317.9L1167.6 3317.9L1170.3 3331.7L1173.0 3317.9L1175.8 3331.7L1178.7 3317.9L1181.2 3331.7L1181.9 3331.7L1183.2 3317.9L1183.8 3304.1L1184.4 3317.9L1185.7 3331.7L1186.5 3331.7L1189.3 3317.9L1190.9 3317.9L1194.3 3331.7L1197.7 3317.9L1204.8 3331.7L1211.9 3317.9L1214.8 3331.7L1217.7 3317.9L1219.6 3317.9L1223.2 3325.1L1224.1 3304.1L1225.0 3327.3L1227.1 3331.7L1234.7 3317.9L1236.5 3317.9L1244.1 3331.7L1251.6 3317.9L1254.2 3331.7L1256.8 3317.9L1259.4 3331.7L1262.0 3317.9L1268.2 3331.7L1274.3 3317.9L1281.2 3331.7L1284.8 3331.7L1286.1 3317.9L1286.7 3304.1L1287.3 3317.9L1288.6 3331.7L1290.8 3331.7L1291.5 3331.7L1293.1 3304.1L1294.7 3331.7L1296.3 3331.7L1299.0 3317.9L1301.8 3331.7L1304.6 3317.9L1306.1 3317.9L1312.9 3331.7L1319.6 3317.9L1326.8 3331.7L1334.0 3317.9L1337.0 3331.7L1339.9 3317.9L1345.7 3331.7L1351.4 3317.9L1354.2 3331.7L1357.0 3317.9L1359.8 3331.7L1362.7 3317.9L1364.6 3317.9L1369.6 3331.7L1374.5 3317.9L1377.2 3331.7L1379.9 3317.9L1381.6 3317.9L1385.9 3331.7L1390.2 3317.9L1391.5 3317.9L1394.2 3331.7L1395.5 3331.7L1396.8 3317.9L1397.4 3304.1L1398.0 3317.9L1399.3 3331.7L1399.7 3331.7L1402.6 3317.9L1406.5 3331.7L1408.3 3324.4L1409.2 3304.1L1410.1 3320.1L1410.4 3317.9L1416.0 3331.7L1417.4 3317.9L1418.0 3331.7"/>
<path class="ax" d="M259.5 3193.2H271V3331.7H259.5"/>
<text class="tk" x="252.4" y="3196.3">37</text>
<text class="tk" x="252.4" y="3334.8">0</text>
<text class="lab" x="73.3" y="3268.4">GSM2481671</text>
<path class="f" d="M460.7 3485.6L460.7 3485.6L650.5 3347.1L820.5 3485.6L991.0 3347.1L1208.0 3485.6L1208.0 3485.6Z"/><path class="s" d="M460.7 3485.6L650.5 3347.1L820.5 3485.6L991.0 3347.1L1208.0 3485.6"/>
<path class="ax" d="M259.5 3347.1H271V3485.6H259.5"/>
<text class="tk" x="252.4" y="3350.2">129</text>
<text class="tk" x="252.4" y="3488.7">0</text>
<text class="lab" x="73.3" y="3422.3">GSM2481670</text>
<path class="f" d="M271.4 3639.6L271.4 3629.4L272.4 3607.2L273.3 3615.4L274.5 3615.4L275.0 3575.0L275.4 3529.6L276.1 3501.5L276.8 3529.6L277.5 3570.5L278.4 3584.1L278.9 3614.9L280.0 3619.4L281.3 3619.4L282.2 3624.0L283.6 3619.4L284.5 3624.0L285.7 3623.5L286.8 3631.2L287.7 3632.1L289.5 3638.0L291.8 3627.6L293.1 3626.7L294.5 3603.1L295.4 3619.4L296.8 3627.6L298.1 3628.5L299.9 3636.7L301.3 3638.5L303.6 3627.6L305.4 3633.0L306.7 3631.7L308.5 3636.2L310.4 3638.5L313.1 3631.7L314.4 3636.7L316.2 3631.7L318.1 3637.1L320.3 3631.7L321.7 3637.6L324.0 3631.7L325.3 3633.0L326.9 3627.6L328.5 3632.1L329.9 3635.8L331.7 3631.7L333.0 3635.8L334.4 3636.7L336.4 3631.7L337.6 3636.7L340.3 3627.6L341.6 3636.2L343.2 3627.6L344.8 3627.6L346.8 3635.6L348.4 3638.5L350.0 3635.6L352.6 3639.5L355.1 3631.6L357.5 3639.2L359.8 3635.6L361.9 3639.0L364.0 3635.6L365.6 3638.5L367.3 3635.6L368.4 3638.2L369.6 3635.6L370.8 3635.6L373.1 3639.2L375.4 3631.6L377.8 3639.2L380.1 3635.6L382.0 3635.6L383.0 3637.6L384.1 3631.6L385.2 3637.5L386.3 3623.6L388.1 3638.6L389.8 3635.6L391.5 3638.6L393.2 3627.6L395.8 3639.6L398.4 3631.6L400.7 3639.2L403.0 3627.6L404.1 3637.9L405.1 3631.6L406.1 3637.5L407.1 3627.6L409.7 3639.6L412.3 3631.6L413.5 3638.1L414.7 3631.6L417.2 3639.5L419.8 3635.6L422.3 3639.4L424.8 3635.6L426.2 3635.6L428.1 3638.6L430.0 3635.6L432.1 3639.0L434.2 3635.6L435.9 3635.6L437.3 3638.2L438.7 3635.6L440.6 3638.8L442.6 3635.6L444.0 3638.2L445.4 3631.6L446.4 3631.6L447.8 3638.1L449.2 3623.6L450.4 3638.1L451.6 3631.6L452.7 3637.5L453.7 3635.6L455.7 3638.6L457.6 3635.6L458.9 3638.1L460.2 3635.6L462.2 3635.6L464.6 3639.4L467.1 3635.6L468.4 3637.8L469.7 3635.6L470.8 3637.9L471.9 3635.6L473.1 3637.4L474.3 3631.6L475.5 3638.3L476.8 3631.6L478.1 3631.6L479.5 3638.4L481.0 3635.6L483.3 3639.3L485.7 3635.6L486.9 3638.1L488.2 3627.6L490.5 3639.2L492.8 3635.6L495.3 3639.5L497.8 3635.6L500.3 3639.5L502.9 3623.6L504.1 3637.9L505.3 3635.6L506.1 3635.6L507.3 3637.7L508.4 3627.6L509.6 3638.0L510.8 3635.6L511.7 3637.8L512.7 3631.6L513.7 3631.6L514.8 3637.6L515.9 3631.6L517.7 3631.6L519.5 3638.6L520.0 3620.3L521.8 3631.7L523.6 3636.7L525.4 3631.7L527.4 3627.6L529.1 3631.7L531.3 3636.7L532.4 3615.8L533.6 3623.5L535.0 3635.8L536.8 3631.7L538.0 3627.6L539.5 3636.7L541.8 3636.7L543.8 3627.6L545.4 3627.6L546.5 3630.3L547.5 3615.8L549.0 3619.4L550.4 3608.6L551.3 3599.0L552.2 3608.6L553.1 3599.5L554.3 3591.3L554.9 3538.7L555.6 3501.5L556.7 3501.5L557.0 3509.7L557.6 3547.8L558.1 3558.2L559.0 3558.7L559.9 3594.9L561.5 3594.9L562.2 3620.3L563.1 3629.4L564.9 3627.6L566.7 3635.8L568.5 3623.5L569.4 3636.7L570.8 3637.6L573.5 3631.7L574.9 3623.5L576.2 3631.7L578.5 3631.7L579.9 3636.7L581.7 3631.7L582.6 3631.2L583.5 3615.8L584.9 3632.1L586.7 3619.4L587.6 3619.0L588.7 3607.2L589.7 3611.3L590.8 3629.4L591.7 3631.7L594.8 3631.7L596.6 3636.7L597.5 3627.6L598.9 3623.5L599.8 3623.5L600.9 3635.6L602.7 3638.5L604.6 3627.6L606.0 3627.6L607.6 3638.2L609.2 3627.6L611.3 3639.0L613.5 3627.6L614.7 3638.0L616.0 3619.6L617.0 3637.5L618.0 3635.6L619.0 3637.7L620.1 3627.6L622.7 3639.6L625.3 3631.6L626.9 3638.3L628.5 3623.6L630.1 3623.6L632.0 3638.9L634.0 3635.6L635.1 3635.6L636.9 3638.7L638.7 3635.6L640.9 3639.0L643.1 3631.6L644.3 3637.8L645.4 3635.6L647.0 3638.2L648.6 3631.6L651.0 3639.3L653.4 3635.6L655.2 3635.6L657.7 3639.3L660.1 3631.6L661.3 3638.1L662.6 3631.6L665.0 3639.4L666.1 3636.0L667.6 3622.6L668.4 3622.6L669.9 3637.2L672.2 3639.4L674.6 3635.6L676.9 3639.2L679.2 3631.6L680.4 3638.2L681.6 3631.6L682.5 3631.6L683.5 3637.3L684.5 3627.6L685.8 3638.4L687.6 3622.6L688.4 3622.6L690.2 3637.2L691.7 3631.6L692.8 3637.5L693.8 3631.6L696.0 3639.0L698.2 3635.6L700.0 3638.6L701.9 3635.6L703.0 3637.6L704.1 3631.6L706.1 3638.8L708.1 3627.6L709.5 3638.3L710.8 3627.6L713.4 3639.5L715.9 3623.6L717.1 3638.0L718.4 3635.6L719.7 3638.0L721.0 3627.6L722.1 3637.5L723.2 3635.6L725.4 3639.1L727.6 3623.6L728.7 3637.7L729.8 3635.6L730.1 3636.0L731.6 3619.6L732.4 3619.6L733.9 3635.6L734.9 3627.6L736.7 3627.6L739.2 3639.5L741.8 3627.6L743.2 3637.9L744.7 3635.6L747.2 3639.5L749.8 3627.6L750.9 3638.1L751.9 3631.6L753.5 3631.6L754.6 3637.9L755.7 3635.6L757.1 3638.2L758.4 3635.6L759.4 3637.1L760.4 3623.6L761.6 3638.2L762.9 3631.6L764.2 3631.6L765.3 3637.9L765.9 3637.2L767.6 3619.6L768.4 3619.6L770.1 3635.6L770.5 3635.6L771.6 3638.0L772.7 3627.6L774.9 3639.0L777.0 3635.6L778.1 3637.3L779.3 3631.6L780.5 3637.6L781.8 3631.6L783.4 3638.5L785.0 3627.6L786.7 3638.2L788.4 3623.6L789.7 3623.6L791.3 3638.4L792.9 3627.6L795.0 3638.8L797.1 3635.6L798.2 3638.1L799.2 3635.6L801.3 3639.0L803.3 3631.6L804.6 3637.6L805.8 3627.6L807.4 3638.2L809.0 3635.6L810.7 3638.4L812.3 3635.6L813.7 3637.9L815.1 3631.6L817.1 3639.1L819.2 3631.6L820.6 3637.9L821.9 3631.6L823.0 3637.4L824.1 3631.6L825.2 3638.0L826.3 3635.6L828.8 3639.5L831.4 3635.6L832.5 3638.2L833.7 3623.6L834.7 3637.6L835.7 3631.6L837.1 3638.1L838.5 3631.6L840.3 3638.6L842.1 3635.6L844.6 3639.3L847.0 3635.6L849.3 3639.2L851.6 3631.6L854.0 3639.2L856.4 3631.6L858.2 3638.4L860.0 3623.6L862.5 3639.4L865.0 3623.6L866.6 3638.5L868.2 3631.6L869.3 3638.0L870.4 3627.6L872.7 3639.2L875.0 3635.6L876.0 3635.6L877.2 3637.9L877.7 3635.6L879.6 3619.6L880.4 3619.6L882.3 3638.4L882.5 3631.6L883.6 3637.7L884.7 3631.6L885.9 3631.6L888.5 3639.6L891.1 3631.6L892.2 3638.2L893.3 3631.6L894.7 3631.6L895.7 3638.1L896.8 3631.6L897.8 3637.3L899.6 3619.6L900.4 3619.6L902.2 3637.2L903.3 3638.5L905.1 3631.6L907.2 3639.0L909.4 3631.6L910.5 3638.0L911.7 3631.6L912.7 3637.5L913.8 3635.6L914.9 3638.0L915.9 3631.6L917.2 3638.3L918.5 3631.6L919.9 3637.9L921.3 3635.6L922.4 3638.0L923.4 3623.6L925.8 3639.3L928.2 3627.6L929.3 3637.9L930.3 3627.6L931.5 3637.8L932.7 3627.6L933.7 3627.6L934.9 3638.1L936.1 3631.6L937.2 3637.7L938.3 3631.6L939.6 3638.3L940.8 3635.6L942.1 3638.2L943.3 3635.6L944.7 3638.4L946.1 3631.6L947.2 3631.6L948.6 3638.4L950.0 3627.6L951.2 3637.8L952.4 3631.6L953.8 3637.8L955.1 3631.6L957.3 3639.0L959.5 3623.6L960.6 3637.7L961.7 3635.6L962.7 3635.6L964.2 3638.4L965.8 3631.6L967.1 3638.1L968.4 3635.6L970.1 3638.6L971.9 3631.6L973.9 3639.0L975.9 3627.6L977.1 3637.8L978.2 3627.6L980.3 3638.8L982.4 3631.6L983.8 3638.4L985.1 3631.6L986.8 3638.6L988.5 3635.6L989.6 3637.7L990.7 3627.6L991.7 3637.5L992.6 3635.6L994.4 3635.6L996.3 3638.7L998.1 3623.6L999.2 3637.7L1000.2 3635.6L1001.6 3638.2L1003.0 3631.6L1004.1 3631.6L1005.3 3637.6L1006.6 3631.6L1008.2 3638.3L1009.7 3627.6L1011.0 3637.7L1012.3 3631.6L1013.4 3637.2L1014.4 3627.6L1016.3 3638.5L1018.1 3631.6L1019.9 3638.8L1021.8 3623.6L1023.5 3638.5L1025.1 3631.6L1026.2 3631.6L1028.1 3638.7L1029.9 3635.6L1031.5 3638.1L1033.1 3627.6L1034.8 3638.3L1036.4 3631.6L1038.1 3631.6L1039.8 3638.2L1041.5 3627.6L1043.7 3639.1L1045.8 3627.6L1047.0 3627.6L1048.1 3637.5L1049.1 3631.6L1050.9 3631.6L1051.9 3637.9L1053.0 3631.6L1054.7 3638.6L1056.5 3623.6L1057.9 3638.1L1059.4 3623.6L1060.7 3638.4L1062.1 3623.6L1063.5 3637.8L1064.8 3635.6L1066.1 3637.5L1067.3 3631.6L1068.7 3638.0L1070.1 3631.6L1071.2 3637.2L1072.2 3619.6L1074.8 3639.5L1077.4 3627.6L1078.5 3637.6L1079.5 3627.6L1081.1 3638.2L1082.7 3631.6L1084.6 3638.9L1086.6 3635.6L1086.8 3639.6L1088.7 3622.6L1089.3 3622.6L1091.2 3635.6L1091.5 3627.6L1093.4 3638.9L1095.4 3631.6L1097.3 3638.7L1099.2 3623.6L1100.2 3637.1L1101.2 3635.6L1102.2 3637.7L1103.2 3631.6L1105.6 3639.3L1108.1 3631.6L1109.6 3638.3L1111.2 3635.6L1113.4 3639.0L1115.6 3635.6L1117.3 3638.3L1118.9 3623.6L1120.7 3638.6L1122.4 3635.6L1123.5 3637.4L1124.7 3631.6L1127.1 3639.4L1129.5 3631.6L1130.9 3631.6L1132.9 3638.4L1134.7 3619.6L1135.3 3619.6L1137.1 3639.6L1137.6 3631.6L1138.8 3631.6L1139.9 3637.2L1140.9 3627.6L1142.6 3627.6L1144.5 3638.7L1146.5 3635.6L1148.2 3638.5L1149.9 3627.6L1151.3 3638.2L1152.7 3635.6L1154.9 3639.0L1157.1 3627.6L1159.3 3639.1L1161.6 3635.6L1163.5 3638.9L1165.5 3635.6L1166.8 3638.2L1168.1 3623.6L1170.1 3638.6L1172.0 3631.6L1173.9 3638.5L1175.7 3631.6L1177.6 3638.8L1179.5 3635.6L1181.9 3639.3L1184.2 3635.6L1185.8 3635.6L1186.7 3637.2L1187.7 3635.6L1188.8 3637.2L1190.7 3614.6L1191.3 3614.6L1193.2 3635.6L1193.6 3637.5L1194.7 3631.6L1196.0 3638.2L1197.3 3635.6L1198.4 3635.6L1199.7 3637.8L1201.0 3627.6L1202.7 3638.5L1204.4 3631.6L1206.2 3638.7L1207.9 3631.6L1209.6 3638.7L1211.3 3631.6L1212.7 3631.6L1214.0 3637.9L1215.2 3627.6L1217.1 3638.8L1219.1 3631.6L1220.2 3637.6L1221.2 3627.6L1222.6 3637.8L1223.9 3635.6L1226.1 3639.0L1228.3 3635.6L1230.1 3638.7L1231.9 3638.4L1233.7 3619.6L1233.9 3637.2L1235.7 3618.6L1236.3 3618.6L1238.1 3638.4L1239.3 3631.6L1240.4 3631.6L1242.8 3639.3L1245.2 3627.6L1247.6 3639.3L1250.0 3631.6L1251.6 3638.5L1253.2 3627.6L1254.5 3638.3L1255.9 3627.6L1258.1 3639.0L1260.3 3635.6L1262.0 3638.7L1263.7 3635.6L1264.8 3637.6L1265.9 3635.6L1268.4 3639.5L1271.0 3635.6L1272.2 3638.3L1273.5 3623.6L1274.9 3638.1L1276.2 3635.6L1278.1 3638.7L1280.0 3631.6L1281.6 3631.6L1283.0 3637.7L1284.3 3635.6L1285.4 3637.8L1286.5 3631.6L1288.1 3631.6L1290.6 3639.5L1293.1 3631.6L1295.1 3638.9L1297.1 3631.6L1298.9 3631.6L1299.3 3639.6L1300.9 3609.6L1301.5 3609.6L1303.1 3639.6L1304.1 3638.7L1305.9 3631.6L1307.0 3637.7L1308.2 3635.6L1309.2 3635.6L1310.6 3637.9L1312.0 3627.6L1313.2 3637.8L1314.3 3631.6L1316.8 3639.4L1319.2 3619.6L1320.2 3638.0L1321.2 3635.6L1322.4 3638.1L1323.6 3631.6L1325.0 3637.6L1326.3 3631.6L1327.2 3637.6L1328.2 3635.6L1329.9 3638.7L1331.6 3635.6L1332.7 3637.5L1333.8 3623.6L1336.0 3639.1L1338.1 3627.6L1339.1 3627.6L1340.4 3638.1L1341.7 3631.6L1342.7 3637.5L1343.7 3635.6L1344.8 3638.1L1345.9 3635.6L1348.1 3639.1L1350.4 3631.6L1351.7 3638.0L1353.0 3635.6L1355.4 3639.4L1357.9 3619.6L1359.3 3638.0L1360.7 3631.6L1361.7 3637.7L1362.8 3623.6L1365.4 3639.5L1367.8 3638.4L1369.7 3619.6L1370.3 3619.6L1372.2 3635.6L1374.3 3638.9L1376.4 3635.6L1378.3 3635.6L1380.4 3639.0L1382.5 3623.6L1385.1 3639.6L1387.8 3631.6L1388.6 3631.6L1390.0 3638.4L1391.4 3631.6L1393.7 3639.1L1395.9 3631.6L1397.9 3638.8L1399.9 3627.6L1400.9 3637.4L1402.0 3627.6L1403.0 3637.4L1404.1 3631.6L1405.8 3638.3L1407.4 3631.6L1408.5 3637.4L1409.7 3623.6L1411.1 3637.8L1412.5 3627.6L1413.7 3627.6L1416.3 3639.6L1416.8 3638.1L1418.7 3622.6L1419.3 3622.6L1421.2 3638.4L1421.9 3635.6L1422.5 3639.6L1422.5 3639.6Z"/><path class="s" d="M271.4 3629.4L272.4 3607.2L273.3 3615.4L274.5 3615.4L275.0 3575.0L275.4 3529.6L276.1 3501.5L276.8 3529.6L277.5 3570.5L278.4 3584.1L278.9 3614.9L280.0 3619.4L281.3 3619.4L282.2 3624.0L283.6 3619.4L284.5 3624.0L285.7 3623.5L286.8 3631.2L287.7 3632.1L289.5 3638.0L291.8 3627.6L293.1 3626.7L294.5 3603.1L295.4 3619.4L296.8 3627.6L298.1 3628.5L299.9 3636.7L301.3 3638.5L303.6 3627.6L305.4 3633.0L306.7 3631.7L308.5 3636.2L310.4 3638.5L313.1 3631.7L314.4 3636.7L316.2 3631.7L318.1 3637.1L320.3 3631.7L321.7 3637.6L324.0 3631.7L325.3 3633.0L326.9 3627.6L328.5 3632.1L329.9 3635.8L331.7 3631.7L333.0 3635.8L334.4 3636.7L336.4 3631.7L337.6 3636.7L340.3 3627.6L341.6 3636.2L343.2 3627.6L344.8 3627.6L346.8 3635.6L348.4 3638.5L350.0 3635.6L352.6 3639.5L355.1 3631.6L357.5 3639.2L359.8 3635.6L361.9 3639.0L364.0 3635.6L365.6 3638.5L367.3 3635.6L368.4 3638.2L369.6 3635.6L370.8 3635.6L373.1 3639.2L375.4 3631.6L377.8 3639.2L380.1 3635.6L382.0 3635.6L383.0 3637.6L384.1 3631.6L385.2 3637.5L386.3 3623.6L388.1 3638.6L389.8 3635.6L391.5 3638.6L393.2 3627.6L395.8 3639.6L398.4 3631.6L400.7 3639.2L403.0 3627.6L404.1 3637.9L405.1 3631.6L406.1 3637.5L407.1 3627.6L409.7 3639.6L412.3 3631.6L413.5 3638.1L414.7 3631.6L417.2 3639.5L419.8 3635.6L422.3 3639.4L424.8 3635.6L426.2 3635.6L428.1 3638.6L430.0 3635.6L432.1 3639.0L434.2 3635.6L435.9 3635.6L437.3 3638.2L438.7 3635.6L440.6 3638.8L442.6 3635.6L444.0 3638.2L445.4 3631.6L446.4 3631.6L447.8 3638.1L449.2 3623.6L450.4 3638.1L451.6 3631.6L452.7 3637.5L453.7 3635.6L455.7 3638.6L457.6 3635.6L458.9 3638.1L460.2 3635.6L462.2 3635.6L464.6 3639.4L467.1 3635.6L468.4 3637.8L469.7 3635.6L470.8 3637.9L471.9 3635.6L473.1 3637.4L474.3 3631.6L475.5 3638.3L476.8 3631.6L478.1 3631.6L479.5 3638.4L481.0 3635.6L483.3 3639.3L485.7 3635.6L486.9 3638.1L488.2 3627.6L490.5 3639.2L492.8 3635.6L495.3 3639.5L497.8 3635.6L500.3 3639.5L502.9 3623.6L504.1 3637.9L505.3 3635.6L506.1 3635.6L507.3 3637.7L508.4 3627.6L509.6 3638.0L510.8 3635.6L511.7 3637.8L512.7 3631.6L513.7 3631.6L514.8 3637.6L515.9 3631.6L517.7 3631.6L519.5 3638.6L520.0 3620.3L521.8 3631.7L523.6 3636.7L525.4 3631.7L527.4 3627.6L529.1 3631.7L531.3 3636.7L532.4 3615.8L533.6 3623.5L535.0 3635.8L536.8 3631.7L538.0 3627.6L539.5 3636.7L541.8 3636.7L543.8 3627.6L545.4 3627.6L546.5 3630.3L547.5 3615.8L549.0 3619.4L550.4 3608.6L551.3 3599.0L552.2 3608.6L553.1 3599.5L554.3 3591.3L554.9 3538.7L555.6 3501.5L556.7 3501.5L557.0 3509.7L557.6 3547.8L558.1 3558.2L559.0 3558.7L559.9 3594.9L561.5 3594.9L562.2 3620.3L563.1 3629.4L564.9 3627.6L566.7 3635.8L568.5 3623.5L569.4 3636.7L570.8 3637.6L573.5 3631.7L574.9 3623.5L576.2 3631.7L578.5 3631.7L579.9 3636.7L581.7 3631.7L582.6 3631.2L583.5 3615.8L584.9 3632.1L586.7 3619.4L587.6 3619.0L588.7 3607.2L589.7 3611.3L590.8 3629.4L591.7 3631.7L594.8 3631.7L596.6 3636.7L597.5 3627.6L598.9 3623.5L599.8 3623.5L600.9 3635.6L602.7 3638.5L604.6 3627.6L606.0 3627.6L607.6 3638.2L609.2 3627.6L611.3 3639.0L613.5 3627.6L614.7 3638.0L616.0 3619.6L617.0 3637.5L618.0 3635.6L619.0 3637.7L620.1 3627.6L622.7 3639.6L625.3 3631.6L626.9 3638.3L628.5 3623.6L630.1 3623.6L632.0 3638.9L634.0 3635.6L635.1 3635.6L636.9 3638.7L638.7 3635.6L640.9 3639.0L643.1 3631.6L644.3 3637.8L645.4 3635.6L647.0 3638.2L648.6 3631.6L651.0 3639.3L653.4 3635.6L655.2 3635.6L657.7 3639.3L660.1 3631.6L661.3 3638.1L662.6 3631.6L665.0 3639.4L666.1 3636.0L667.6 3622.6L668.4 3622.6L669.9 3637.2L672.2 3639.4L674.6 3635.6L676.9 3639.2L679.2 3631.6L680.4 3638.2L681.6 3631.6L682.5 3631.6L683.5 3637.3L684.5 3627.6L685.8 3638.4L687.6 3622.6L688.4 3622.6L690.2 3637.2L691.7 3631.6L692.8 3637.5L693.8 3631.6L696.0 3639.0L698.2 3635.6L700.0 3638.6L701.9 3635.6L703.0 3637.6L704.1 3631.6L706.1 3638.8L708.1 3627.6L709.5 3638.3L710.8 3627.6L713.4 3639.5L715.9 3623.6L717.1 3638.0L718.4 3635.6L719.7 3638.0L721.0 3627.6L722.1 3637.5L723.2 3635.6L725.4 3639.1L727.6 3623.6L728.7 3637.7L729.8 3635.6L730.1 3636.0L731.6 3619.6L732.4 3619.6L733.9 3635.6L734.9 3627.6L736.7 3627.6L739.2 3639.5L741.8 3627.6L743.2 3637.9L744.7 3635.6L747.2 3639.5L749.8 3627.6L750.9 3638.1L751.9 3631.6L753.5 3631.6L754.6 3637.9L755.7 3635.6L757.1 3638.2L758.4 3635.6L759.4 3637.1L760.4 3623.6L761.6 3638.2L762.9 3631.6L764.2 3631.6L765.3 3637.9L765.9 3637.2L767.6 3619.6L768.4 3619.6L770.1 3635.6L770.5 3635.6L771.6 3638.0L772.7 3627.6L774.9 3639.0L777.0 3635.6L778.1 3637.3L779.3 3631.6L780.5 3637.6L781.8 3631.6L783.4 3638.5L785.0 3627.6L786.7 3638.2L788.4 3623.6L789.7 3623.6L791.3 3638.4L792.9 3627.6L795.0 3638.8L797.1 3635.6L798.2 3638.1L799.2 3635.6L801.3 3639.0L803.3 3631.6L804.6 3637.6L805.8 3627.6L807.4 3638.2L809.0 3635.6L810.7 3638.4L812.3 3635.6L813.7 3637.9L815.1 3631.6L817.1 3639.1L819.2 3631.6L820.6 3637.9L821.9 3631.6L823.0 3637.4L824.1 3631.6L825.2 3638.0L826.3 3635.6L828.8 3639.5L831.4 3635.6L832.5 3638.2L833.7 3623.6L834.7 3637.6L835.7 3631.6L837.1 3638.1L838.5 3631.6L840.3 3638.6L842.1 3635.6L844.6 3639.3L847.0 3635.6L849.3 3639.2L851.6 3631.6L854.0 3639.2L856.4 3631.6L858.2 3638.4L860.0 3623.6L862.5 3639.4L865.0 3623.6L866.6 3638.5L868.2 3631.6L869.3 3638.0L870.4 3627.6L872.7 3639.2L875.0 3635.6L876.0 3635.6L877.2 3637.9L877.7 3635.6L879.6 3619.6L880.4 3619.6L882.3 3638.4L882.5 3631.6L883.6 3637.7L884.7 3631.6L885.9 3631.6L888.5 3639.6L891.1 3631.6L892.2 3638.2L893.3 3631.6L894.7 3631.6L895.7 3638.1L896.8 3631.6L897.8 3637.3L899.6 3619.6L900.4 3619.6L902.2 3637.2L903.3 3638.5L905.1 3631.6L907.2 3639.0L909.4 3631.6L910.5 3638.0L911.7 3631.6L912.7 3637.5L913.8 3635.6L914.9 3638.0L915.9 3631.6L917.2 3638.3L918.5 3631.6L919.9 3637.9L921.3 3635.6L922.4 3638.0L923.4 3623.6L925.8 3639.3L928.2 3627.6L929.3 3637.9L930.3 3627.6L931.5 3637.8L932.7 3627.6L933.7 3627.6L934.9 3638.1L936.1 3631.6L937.2 3637.7L938.3 3631.6L939.6 3638.3L940.8 3635.6L942.1 3638.2L943.3 3635.6L944.7 3638.4L946.1 3631.6L947.2 3631.6L948.6 3638.4L950.0 3627.6L951.2 3637.8L952.4 3631.6L953.8 3637.8L955.1 3631.6L957.3 3639.0L959.5 3623.6L960.6 3637.7L961.7 3635.6L962.7 3635.6L964.2 3638.4L965.8 3631.6L967.1 3638.1L968.4 3635.6L970.1 3638.6L971.9 3631.6L973.9 3639.0L975.9 3627.6L977.1 3637.8L978.2 3627.6L980.3 3638.8L982.4 3631.6L983.8 3638.4L985.1 3631.6L986.8 3638.6L988.5 3635.6L989.6 3637.7L990.7 3627.6L991.7 3637.5L992.6 3635.6L994.4 3635.6L996.3 3638.7L998.1 3623.6L999.2 3637.7L1000.2 3635.6L1001.6 3638.2L1003.0 3631.6L1004.1 3631.6L1005.3 3637.6L1006.6 3631.6L1008.2 3638.3L1009.7 3627.6L1011.0 3637.7L1012.3 3631.6L1013.4 3637.2L1014.4 3627.6L1016.3 3638.5L1018.1 3631.6L1019.9 3638.8L1021.8 3623.6L1023.5 3638.5L1025.1 3631.6L1026.2 3631.6L1028.1 3638.7L1029.9 3635.6L1031.5 3638.1L1033.1 3627.6L1034.8 3638.3L1036.4 3631.6L1038.1 3631.6L1039.8 3638.2L1041.5 3627.6L1043.7 3639.1L1045.8 3627.6L1047.0 3627.6L1048.1 3637.5L1049.1 3631.6L1050.9 3631.6L1051.9 3637.9L1053.0 3631.6L1054.7 3638.6L1056.5 3623.6L1057.9 3638.1L1059.4 3623.6L1060.7 3638.4L1062.1 3623.6L1063.5 3637.8L1064.8 3635.6L1066.1 3637.5L1067.3 3631.6L1068.7 3638.0L1070.1 3631.6L1071.2 3637.2L1072.2 3619.6L1074.8 3639.5L1077.4 3627.6L1078.5 3637.6L1079.5 3627.6L1081.1 3638.2L1082.7 3631.6L1084.6 3638.9L1086.6 3635.6L1086.8 3639.6L1088.7 3622.6L1089.3 3622.6L1091.2 3635.6L1091.5 3627.6L1093.4 3638.9L1095.4 3631.6L1097.3 3638.7L1099.2 3623.6L1100.2 3637.1L1101.2 3635.6L1102.2 3637.7L1103.2 3631.6L1105.6 3639.3L1108.1 3631.6L1109.6 3638.3L1111.2 3635.6L1113.4 3639.0L1115.6 3635.6L1117.3 3638.3L1118.9 3623.6L1120.7 3638.6L1122.4 3635.6L1123.5 3637.4L1124.7 3631.6L1127.1 3639.4L1129.5 3631.6L1130.9 3631.6L1132.9 3638.4L1134.7 3619.6L1135.3 3619.6L1137.1 3639.6L1137.6 3631.6L1138.8 3631.6L1139.9 3637.2L1140.9 3627.6L1142.6 3627.6L1144.5 3638.7L1146.5 3635.6L1148.2 3638.5L1149.9 3627.6L1151.3 3638.2L1152.7 3635.6L1154.9 3639.0L1157.1 3627.6L1159.3 3639.1L1161.6 3635.6L1163.5 3638.9L1165.5 3635.6L1166.8 3638.2L1168.1 3623.6L1170.1 3638.6L1172.0 3631.6L1173.9 3638.5L1175.7 3631.6L1177.6 3638.8L1179.5 3635.6L1181.9 3639.3L1184.2 3635.6L1185.8 3635.6L1186.7 3637.2L1187.7 3635.6L1188.8 3637.2L1190.7 3614.6L1191.3 3614.6L1193.2 3635.6L1193.6 3637.5L1194.7 3631.6L1196.0 3638.2L1197.3 3635.6L1198.4 3635.6L1199.7 3637.8L1201.0 3627.6L1202.7 3638.5L1204.4 3631.6L1206.2 3638.7L1207.9 3631.6L1209.6 3638.7L1211.3 3631.6L1212.7 3631.6L1214.0 3637.9L1215.2 3627.6L1217.1 3638.8L1219.1 3631.6L1220.2 3637.6L1221.2 3627.6L1222.6 3637.8L1223.9 3635.6L1226.1 3639.0L1228.3 3635.6L1230.1 3638.7L1231.9 3638.4L1233.7 3619.6L1233.9 3637.2L1235.7 3618.6L1236.3 3618.6L1238.1 3638.4L1239.3 3631.6L1240.4 3631.6L1242.8 3639.3L1245.2 3627.6L1247.6 3639.3L1250.0 3631.6L1251.6 3638.5L1253.2 3627.6L1254.5 3638.3L1255.9 3627.6L1258.1 3639.0L1260.3 3635.6L1262.0 3638.7L1263.7 3635.6L1264.8 3637.6L1265.9 3635.6L1268.4 3639.5L1271.0 3635.6L1272.2 3638.3L1273.5 3623.6L1274.9 3638.1L1276.2 3635.6L1278.1 3638.7L1280.0 3631.6L1281.6 3631.6L1283.0 3637.7L1284.3 3635.6L1285.4 3637.8L1286.5 3631.6L1288.1 3631.6L1290.6 3639.5L1293.1 3631.6L1295.1 3638.9L1297.1 3631.6L1298.9 3631.6L1299.3 3639.6L1300.9 3609.6L1301.5 3609.6L1303.1 3639.6L1304.1 3638.7L1305.9 3631.6L1307.0 3637.7L1308.2 3635.6L1309.2 3635.6L1310.6 3637.9L1312.0 3627.6L1313.2 3637.8L1314.3 3631.6L1316.8 3639.4L1319.2 3619.6L1320.2 3638.0L1321.2 3635.6L1322.4 3638.1L1323.6 3631.6L1325.0 3637.6L1326.3 3631.6L1327.2 3637.6L1328.2 3635.6L1329.9 3638.7L1331.6 3635.6L1332.7 3637.5L1333.8 3623.6L1336.0 3639.1L1338.1 3627.6L1339.1 3627.6L1340.4 3638.1L1341.7 3631.6L1342.7 3637.5L1343.7 3635.6L1344.8 3638.1L1345.9 3635.6L1348.1 3639.1L1350.4 3631.6L1351.7 3638.0L1353.0 3635.6L1355.4 3639.4L1357.9 3619.6L1359.3 3638.0L1360.7 3631.6L1361.7 3637.7L1362.8 3623.6L1365.4 3639.5L1367.8 3638.4L1369.7 3619.6L1370.3 3619.6L1372.2 3635.6L1374.3 3638.9L1376.4 3635.6L1378.3 3635.6L1380.4 3639.0L1382.5 3623.6L1385.1 3639.6L1387.8 3631.6L1388.6 3631.6L1390.0 3638.4L1391.4 3631.6L1393.7 3639.1L1395.9 3631.6L1397.9 3638.8L1399.9 3627.6L1400.9 3637.4L1402.0 3627.6L1403.0 3637.4L1404.1 3631.6L1405.8 3638.3L1407.4 3631.6L1408.5 3637.4L1409.7 3623.6L1411.1 3637.8L1412.5 3627.6L1413.7 3627.6L1416.3 3639.6L1416.8 3638.1L1418.7 3622.6L1419.3 3622.6L1421.2 3638.4L1421.9 3635.6L1422.5 3639.6"/>
<path class="ax" d="M259.5 3501.1H271V3639.6H259.5"/>
<text class="tk" x="252.4" y="3504.2">27</text>
<text class="tk" x="252.4" y="3642.7">0</text>
<text class="lab" x="73.3" y="3576.3">GSM2481669</text>
<path class="f" d="M272.0 3793.5L272.0 3758.9L273.5 3772.2L274.9 3793.5L276.2 3758.9L276.8 3724.3L277.4 3758.9L278.7 3793.5L282.4 3758.9L287.7 3793.5L292.9 3758.9L294.3 3771.4L295.7 3758.9L297.2 3772.9L298.8 3758.9L300.4 3773.6L302.0 3758.9L302.6 3767.5L303.5 3724.3L304.4 3762.9L304.6 3758.9L308.1 3791.3L311.7 3758.9L316.3 3793.5L320.9 3758.9L323.0 3793.5L324.3 3758.9L324.9 3689.6L325.5 3758.9L326.8 3793.5L328.4 3793.5L329.7 3758.9L330.3 3724.3L330.9 3758.9L332.2 3793.5L335.7 3758.9L336.6 3793.5L337.9 3758.9L338.5 3724.3L339.1 3758.9L340.4 3793.5L340.8 3793.5L345.9 3758.9L347.2 3770.2L347.4 3793.5L348.7 3758.9L349.3 3724.3L349.9 3758.9L351.2 3793.5L351.8 3789.7L352.0 3793.5L353.3 3758.9L353.9 3724.3L354.5 3758.9L355.8 3793.5L356.1 3758.9L357.5 3771.1L358.8 3758.9L361.5 3783.6L364.2 3758.9L364.3 3762.3L365.2 3689.6L366.1 3767.4L366.7 3758.9L368.0 3769.9L369.2 3758.9L374.2 3793.5L379.2 3758.9L381.4 3779.3L383.7 3758.9L387.3 3792.5L391.0 3758.9L392.5 3772.2L394.0 3758.9L396.2 3779.2L398.4 3758.9L402.0 3791.8L405.7 3758.9L407.8 3793.5L409.1 3758.9L409.7 3724.3L410.3 3758.9L411.6 3793.5L414.6 3793.5L415.9 3758.9L416.5 3724.3L417.1 3758.9L418.4 3793.5L419.2 3758.9L420.8 3773.4L422.4 3758.9L424.0 3773.4L425.6 3758.9L429.8 3793.5L434.0 3758.9L438.7 3793.5L443.3 3758.9L445.1 3758.9L446.3 3770.2L446.4 3766.5L447.3 3724.3L448.2 3762.2L448.9 3771.3L449.1 3766.5L450.0 3724.3L450.9 3762.2L452.6 3780.3L455.0 3758.9L456.4 3772.4L457.9 3758.9L460.3 3780.3L462.6 3758.9L466.0 3789.7L469.4 3758.9L471.0 3758.9L472.5 3772.7L474.0 3758.9L474.9 3793.5L476.2 3758.9L476.8 3689.6L477.4 3758.9L478.7 3793.5L480.0 3758.9L481.3 3770.2L482.5 3758.9L487.6 3793.5L492.8 3758.9L494.5 3775.9L495.4 3724.3L496.3 3786.1L496.9 3793.5L500.9 3758.9L504.3 3789.6L505.4 3777.2L506.3 3724.3L507.2 3766.3L507.7 3758.9L512.9 3793.5L518.2 3758.9L520.1 3758.9L523.4 3788.3L526.6 3758.9L528.8 3793.5L530.1 3758.9L530.7 3724.3L531.3 3758.9L532.6 3793.5L532.9 3793.5L534.2 3758.9L534.8 3724.3L535.4 3758.9L536.7 3793.5L537.8 3758.9L542.7 3793.5L547.6 3758.9L548.9 3770.7L550.2 3758.9L551.6 3771.3L552.9 3758.9L553.4 3766.1L554.3 3689.6L555.2 3776.9L556.8 3793.5L560.6 3758.9L565.3 3793.5L569.9 3758.9L571.4 3772.7L572.9 3758.9L575.7 3783.8L578.4 3758.9L583.1 3793.5L584.7 3724.3L586.3 3793.5L587.9 3758.9L589.4 3772.2L589.9 3793.5L591.5 3724.3L593.1 3793.5L593.3 3781.3L594.2 3724.3L595.1 3770.4L595.5 3793.5L596.8 3758.9L597.4 3724.3L598.0 3758.9L599.3 3793.5L600.6 3773.1L602.2 3758.9L603.6 3772.5L605.1 3758.9L607.1 3777.2L609.2 3758.9L614.3 3793.5L619.4 3758.9L620.8 3772.2L622.3 3758.9L623.9 3773.7L625.6 3758.9L627.9 3779.8L628.7 3769.3L629.6 3724.3L630.0 3793.5L631.3 3758.9L631.9 3724.3L632.5 3758.9L632.5 3793.5L634.1 3724.3L635.7 3793.5L637.8 3793.5L642.3 3758.9L643.2 3724.3L644.1 3758.9L648.0 3793.5L652.0 3758.9L653.3 3770.9L654.7 3758.9L659.0 3793.5L659.9 3793.5L661.2 3758.9L661.8 3724.3L662.4 3758.9L663.7 3793.5L665.5 3778.0L667.5 3758.9L668.8 3769.8L670.0 3758.9L670.9 3758.9L676.0 3793.5L681.2 3758.9L684.3 3787.2L687.4 3758.9L690.5 3787.0L693.5 3758.9L697.1 3791.1L700.6 3758.9L703.1 3781.9L705.7 3758.9L708.6 3785.6L711.5 3758.9L713.0 3772.3L714.5 3758.9L717.5 3793.5L718.8 3758.9L719.4 3724.3L720.0 3758.9L721.3 3793.5L723.8 3758.9L725.1 3771.1L726.5 3758.9L730.1 3791.8L733.7 3758.9L735.0 3771.3L736.4 3758.9L738.5 3778.8L739.4 3724.3L740.3 3767.8L740.9 3758.9L742.0 3793.5L743.3 3758.9L743.9 3724.3L744.5 3758.9L745.8 3793.5L746.2 3758.9L747.5 3770.4L748.7 3758.9L752.1 3791.8L753.0 3724.3L753.9 3784.3L756.4 3758.9L760.0 3781.3L760.9 3755.9L762.5 3724.1L763.5 3766.7L764.5 3758.8L766.8 3783.1L768.6 3758.8L770.0 3758.8L771.3 3773.1L772.2 3755.9L773.4 3724.1L774.5 3764.9L775.6 3780.4L777.7 3758.8L778.6 3758.8L780.0 3781.3L781.6 3758.8L782.5 3758.8L782.9 3724.1L783.4 3655.0L784.0 3724.1L790.8 3789.4L797.5 3758.8L804.0 3791.2L811.4 3758.8L815.5 3784.9L818.0 3746.8L819.1 3724.1L820.3 3755.9L821.7 3780.4L823.5 3758.8L824.6 3758.8L828.5 3785.8L832.6 3758.8L836.5 3785.8L839.8 3758.8L840.9 3793.5L842.2 3758.9L842.8 3724.3L843.4 3758.9L844.7 3793.5L845.1 3758.9L847.5 3793.5L849.1 3724.3L850.7 3793.5L855.0 3758.9L856.7 3774.2L858.4 3758.9L860.0 3773.7L861.6 3758.9L863.3 3774.0L865.0 3758.9L867.9 3785.8L870.9 3758.9L874.4 3791.5L878.0 3758.9L882.4 3793.5L883.5 3793.5L884.8 3758.9L885.4 3724.3L886.0 3758.9L887.3 3793.5L887.6 3793.5L888.9 3758.9L889.5 3724.3L890.1 3758.9L891.4 3793.5L891.9 3758.9L893.2 3770.5L894.4 3758.9L896.1 3774.1L897.8 3758.9L901.7 3793.5L905.6 3758.9L907.3 3773.5L908.1 3763.3L909.0 3724.3L909.9 3765.4L910.5 3773.6L912.1 3758.9L917.2 3793.5L922.2 3758.9L923.6 3771.1L924.9 3758.9L927.4 3781.8L929.9 3758.9L931.3 3771.4L932.7 3758.9L937.0 3793.5L938.3 3758.9L938.9 3724.3L939.5 3758.9L940.8 3793.5L942.7 3758.9L944.0 3770.1L945.2 3758.9L949.9 3793.5L952.1 3775.0L953.0 3724.3L953.9 3766.1L954.5 3758.9L955.8 3770.2L957.0 3758.9L961.3 3793.5L965.6 3758.9L967.0 3771.9L968.4 3758.9L969.4 3758.9L970.7 3770.2L971.9 3758.9L973.8 3776.0L975.7 3758.9L979.4 3793.0L983.2 3758.9L986.1 3785.5L989.0 3758.9L990.2 3770.0L991.4 3758.9L995.5 3793.5L999.6 3758.9L1000.0 3778.5L1001.6 3755.0L1002.2 3724.1L1002.7 3755.9L1004.1 3781.3L1005.4 3758.8L1006.8 3774.0L1008.2 3758.8L1010.4 3781.3L1012.2 3758.8L1013.0 3724.1L1013.6 3758.8L1020.7 3787.6L1027.2 3728.7L1028.3 3724.1L1029.2 3745.9L1030.4 3724.1L1031.5 3655.0L1032.5 3724.1L1033.4 3724.1L1034.5 3758.8L1037.6 3784.9L1041.0 3758.8L1044.0 3786.7L1046.9 3758.8L1053.5 3789.0L1059.9 3758.8L1064.0 3786.7L1067.6 3758.8L1069.1 3724.1L1069.8 3758.8L1071.2 3778.5L1072.6 3758.8L1074.4 3758.8L1079.8 3785.8L1081.9 3793.5L1086.4 3758.9L1087.7 3770.3L1088.9 3758.9L1090.3 3771.6L1091.7 3758.9L1096.9 3793.5L1102.2 3758.9L1104.3 3777.8L1106.3 3758.9L1110.3 3793.5L1114.3 3758.9L1119.1 3793.5L1123.8 3758.9L1127.9 3793.5L1131.9 3758.9L1133.6 3774.4L1135.3 3758.9L1138.6 3788.5L1141.8 3758.9L1142.4 3793.5L1143.7 3758.9L1144.3 3724.3L1144.9 3758.9L1146.2 3793.5L1147.6 3758.9L1148.8 3758.9L1150.1 3770.6L1151.4 3758.9L1154.2 3784.2L1154.5 3793.5L1156.1 3724.3L1157.7 3793.5L1160.4 3789.6L1163.7 3758.9L1164.8 3758.9L1169.8 3793.5L1174.9 3758.9L1176.2 3770.7L1177.5 3758.9L1180.0 3781.3L1181.8 3755.9L1183.9 3724.1L1185.0 3758.8L1187.7 3786.7L1190.9 3758.8L1192.1 3724.1L1193.2 3758.8L1193.6 3778.5L1195.0 3758.8L1196.8 3758.8L1201.6 3788.1L1206.8 3758.8L1209.0 3780.4L1210.4 3751.3L1211.3 3710.5L1212.5 3655.0L1214.0 3710.5L1215.6 3751.3L1216.7 3785.8L1220.5 3758.8L1222.5 3775.8L1224.4 3758.8L1229.4 3788.1L1234.4 3758.8L1236.2 3758.8L1242.4 3789.0L1248.0 3758.8L1249.1 3768.6L1250.3 3724.1L1251.7 3724.1L1253.0 3755.9L1254.8 3786.7L1258.5 3758.8L1259.8 3764.9L1260.5 3758.9L1265.2 3793.5L1269.9 3758.9L1275.1 3793.5L1280.3 3758.9L1282.2 3778.9L1283.1 3724.3L1284.0 3789.9L1287.3 3758.9L1288.7 3771.3L1290.1 3758.9L1291.7 3776.6L1292.6 3724.3L1293.5 3774.5L1294.9 3758.9L1297.1 3793.5L1298.4 3758.9L1299.0 3724.3L1299.6 3758.9L1300.9 3793.5L1301.5 3758.9L1302.3 3793.5L1303.9 3724.3L1305.5 3793.5L1307.1 3758.9L1308.4 3770.3L1309.6 3758.9L1310.9 3770.3L1312.1 3758.9L1313.4 3770.2L1314.6 3758.9L1316.3 3773.7L1317.9 3758.9L1320.5 3782.8L1323.1 3758.9L1327.8 3793.5L1331.5 3793.5L1332.8 3758.9L1333.4 3724.3L1334.0 3758.9L1335.3 3793.5L1337.0 3793.5L1338.3 3758.9L1338.9 3724.3L1339.5 3758.9L1340.8 3793.5L1341.0 3793.5L1342.3 3758.9L1342.9 3724.3L1343.5 3758.9L1344.8 3793.5L1345.4 3772.1L1346.9 3758.9L1350.4 3790.9L1353.9 3758.9L1355.1 3769.9L1356.3 3758.9L1357.9 3773.0L1359.4 3758.9L1361.5 3793.5L1362.8 3758.9L1363.4 3724.3L1364.0 3758.9L1365.3 3793.5L1365.9 3758.9L1368.1 3793.5L1369.7 3724.3L1371.3 3793.5L1372.4 3782.7L1373.3 3724.3L1374.2 3773.6L1375.1 3793.5L1376.4 3758.9L1377.0 3689.6L1377.6 3758.9L1378.9 3793.5L1381.1 3793.5L1386.3 3758.9L1387.6 3770.9L1388.9 3758.9L1393.2 3793.5L1397.5 3758.9L1399.6 3793.5L1400.9 3758.9L1401.5 3724.3L1402.1 3758.9L1403.4 3793.5L1407.8 3758.9L1412.3 3793.5L1412.3 3790.5L1413.2 3724.3L1414.1 3781.2L1416.7 3758.9L1419.1 3779.7L1420.9 3758.9L1421.5 3793.5L1421.5 3793.5Z"/><path class="s" d="M272.0 3758.9L273.5 3772.2L274.9 3793.5L276.2 3758.9L276.8 3724.3L277.4 3758.9L278.7 3793.5L282.4 3758.9L287.7 3793.5L292.9 3758.9L294.3 3771.4L295.7 3758.9L297.2 3772.9L298.8 3758.9L300.4 3773.6L302.0 3758.9L302.6 3767.5L303.5 3724.3L304.4 3762.9L304.6 3758.9L308.1 3791.3L311.7 3758.9L316.3 3793.5L320.9 3758.9L323.0 3793.5L324.3 3758.9L324.9 3689.6L325.5 3758.9L326.8 3793.5L328.4 3793.5L329.7 3758.9L330.3 3724.3L330.9 3758.9L332.2 3793.5L335.7 3758.9L336.6 3793.5L337.9 3758.9L338.5 3724.3L339.1 3758.9L340.4 3793.5L340.8 3793.5L345.9 3758.9L347.2 3770.2L347.4 3793.5L348.7 3758.9L349.3 3724.3L349.9 3758.9L351.2 3793.5L351.8 3789.7L352.0 3793.5L353.3 3758.9L353.9 3724.3L354.5 3758.9L355.8 3793.5L356.1 3758.9L357.5 3771.1L358.8 3758.9L361.5 3783.6L364.2 3758.9L364.3 3762.3L365.2 3689.6L366.1 3767.4L366.7 3758.9L368.0 3769.9L369.2 3758.9L374.2 3793.5L379.2 3758.9L381.4 3779.3L383.7 3758.9L387.3 3792.5L391.0 3758.9L392.5 3772.2L394.0 3758.9L396.2 3779.2L398.4 3758.9L402.0 3791.8L405.7 3758.9L407.8 3793.5L409.1 3758.9L409.7 3724.3L410.3 3758.9L411.6 3793.5L414.6 3793.5L415.9 3758.9L416.5 3724.3L417.1 3758.9L418.4 3793.5L419.2 3758.9L420.8 3773.4L422.4 3758.9L424.0 3773.4L425.6 3758.9L429.8 3793.5L434.0 3758.9L438.7 3793.5L443.3 3758.9L445.1 3758.9L446.3 3770.2L446.4 3766.5L447.3 3724.3L448.2 3762.2L448.9 3771.3L449.1 3766.5L450.0 3724.3L450.9 3762.2L452.6 3780.3L455.0 3758.9L456.4 3772.4L457.9 3758.9L460.3 3780.3L462.6 3758.9L466.0 3789.7L469.4 3758.9L471.0 3758.9L472.5 3772.7L474.0 3758.9L474.9 3793.5L476.2 3758.9L476.8 3689.6L477.4 3758.9L478.7 3793.5L480.0 3758.9L481.3 3770.2L482.5 3758.9L487.6 3793.5L492.8 3758.9L494.5 3775.9L495.4 3724.3L496.3 3786.1L496.9 3793.5L500.9 3758.9L504.3 3789.6L505.4 3777.2L506.3 3724.3L507.2 3766.3L507.7 3758.9L512.9 3793.5L518.2 3758.9L520.1 3758.9L523.4 3788.3L526.6 3758.9L528.8 3793.5L530.1 3758.9L530.7 3724.3L531.3 3758.9L532.6 3793.5L532.9 3793.5L534.2 3758.9L534.8 3724.3L535.4 3758.9L536.7 3793.5L537.8 3758.9L542.7 3793.5L547.6 3758.9L548.9 3770.7L550.2 3758.9L551.6 3771.3L552.9 3758.9L553.4 3766.1L554.3 3689.6L555.2 3776.9L556.8 3793.5L560.6 3758.9L565.3 3793.5L569.9 3758.9L571.4 3772.7L572.9 3758.9L575.7 3783.8L578.4 3758.9L583.1 3793.5L584.7 3724.3L586.3 3793.5L587.9 3758.9L589.4 3772.2L589.9 3793.5L591.5 3724.3L593.1 3793.5L593.3 3781.3L594.2 3724.3L595.1 3770.4L595.5 3793.5L596.8 3758.9L597.4 3724.3L598.0 3758.9L599.3 3793.5L600.6 3773.1L602.2 3758.9L603.6 3772.5L605.1 3758.9L607.1 3777.2L609.2 3758.9L614.3 3793.5L619.4 3758.9L620.8 3772.2L622.3 3758.9L623.9 3773.7L625.6 3758.9L627.9 3779.8L628.7 3769.3L629.6 3724.3L630.0 3793.5L631.3 3758.9L631.9 3724.3L632.5 3758.9L632.5 3793.5L634.1 3724.3L635.7 3793.5L637.8 3793.5L642.3 3758.9L643.2 3724.3L644.1 3758.9L648.0 3793.5L652.0 3758.9L653.3 3770.9L654.7 3758.9L659.0 3793.5L659.9 3793.5L661.2 3758.9L661.8 3724.3L662.4 3758.9L663.7 3793.5L665.5 3778.0L667.5 3758.9L668.8 3769.8L670.0 3758.9L670.9 3758.9L676.0 3793.5L681.2 3758.9L684.3 3787.2L687.4 3758.9L690.5 3787.0L693.5 3758.9L697.1 3791.1L700.6 3758.9L703.1 3781.9L705.7 3758.9L708.6 3785.6L711.5 3758.9L713.0 3772.3L714.5 3758.9L717.5 3793.5L718.8 3758.9L719.4 3724.3L720.0 3758.9L721.3 3793.5L723.8 3758.9L725.1 3771.1L726.5 3758.9L730.1 3791.8L733.7 3758.9L735.0 3771.3L736.4 3758.9L738.5 3778.8L739.4 3724.3L740.3 3767.8L740.9 3758.9L742.0 3793.5L743.3 3758.9L743.9 3724.3L744.5 3758.9L745.8 3793.5L746.2 3758.9L747.5 3770.4L748.7 3758.9L752.1 3791.8L753.0 3724.3L753.9 3784.3L756.4 3758.9L760.0 3781.3L760.9 3755.9L762.5 3724.1L763.5 3766.7L764.5 3758.8L766.8 3783.1L768.6 3758.8L770.0 3758.8L771.3 3773.1L772.2 3755.9L773.4 3724.1L774.5 3764.9L775.6 3780.4L777.7 3758.8L778.6 3758.8L780.0 3781.3L781.6 3758.8L782.5 3758.8L782.9 3724.1L783.4 3655.0L784.0 3724.1L790.8 3789.4L797.5 3758.8L804.0 3791.2L811.4 3758.8L815.5 3784.9L818.0 3746.8L819.1 3724.1L820.3 3755.9L821.7 3780.4L823.5 3758.8L824.6 3758.8L828.5 3785.8L832.6 3758.8L836.5 3785.8L839.8 3758.8L840.9 3793.5L842.2 3758.9L842.8 3724.3L843.4 3758.9L844.7 3793.5L845.1 3758.9L847.5 3793.5L849.1 3724.3L850.7 3793.5L855.0 3758.9L856.7 3774.2L858.4 3758.9L860.0 3773.7L861.6 3758.9L863.3 3774.0L865.0 3758.9L867.9 3785.8L870.9 3758.9L874.4 3791.5L878.0 3758.9L882.4 3793.5L883.5 3793.5L884.8 3758.9L885.4 3724.3L886.0 3758.9L887.3 3793.5L887.6 3793.5L888.9 3758.9L889.5 3724.3L890.1 3758.9L891.4 3793.5L891.9 3758.9L893.2 3770.5L894.4 3758.9L896.1 3774.1L897.8 3758.9L901.7 3793.5L905.6 3758.9L907.3 3773.5L908.1 3763.3L909.0 3724.3L909.9 3765.4L910.5 3773.6L912.1 3758.9L917.2 3793.5L922.2 3758.9L923.6 3771.1L924.9 3758.9L927.4 3781.8L929.9 3758.9L931.3 3771.4L932.7 3758.9L937.0 3793.5L938.3 3758.9L938.9 3724.3L939.5 3758.9L940.8 3793.5L942.7 3758.9L944.0 3770.1L945.2 3758.9L949.9 3793.5L952.1 3775.0L953.0 3724.3L953.9 3766.1L954.5 3758.9L955.8 3770.2L957.0 3758.9L961.3 3793.5L965.6 3758.9L967.0 3771.9L968.4 3758.9L969.4 3758.9L970.7 3770.2L971.9 3758.9L973.8 3776.0L975.7 3758.9L979.4 3793.0L983.2 3758.9L986.1 3785.5L989.0 3758.9L990.2 3770.0L991.4 3758.9L995.5 3793.5L999.6 3758.9L1000.0 3778.5L1001.6 3755.0L1002.2 3724.1L1002.7 3755.9L1004.1 3781.3L1005.4 3758.8L1006.8 3774.0L1008.2 3758.8L1010.4 3781.3L1012.2 3758.8L1013.0 3724.1L1013.6 3758.8L1020.7 3787.6L1027.2 3728.7L1028.3 3724.1L1029.2 3745.9L1030.4 3724.1L1031.5 3655.0L1032.5 3724.1L1033.4 3724.1L1034.5 3758.8L1037.6 3784.9L1041.0 3758.8L1044.0 3786.7L1046.9 3758.8L1053.5 3789.0L1059.9 3758.8L1064.0 3786.7L1067.6 3758.8L1069.1 3724.1L1069.8 3758.8L1071.2 3778.5L1072.6 3758.8L1074.4 3758.8L1079.8 3785.8L1081.9 3793.5L1086.4 3758.9L1087.7 3770.3L1088.9 3758.9L1090.3 3771.6L1091.7 3758.9L1096.9 3793.5L1102.2 3758.9L1104.3 3777.8L1106.3 3758.9L1110.3 3793.5L1114.3 3758.9L1119.1 3793.5L1123.8 3758.9L1127.9 3793.5L1131.9 3758.9L1133.6 3774.4L1135.3 3758.9L1138.6 3788.5L1141.8 3758.9L1142.4 3793.5L1143.7 3758.9L1144.3 3724.3L1144.9 3758.9L1146.2 3793.5L1147.6 3758.9L1148.8 3758.9L1150.1 3770.6L1151.4 3758.9L1154.2 3784.2L1154.5 3793.5L1156.1 3724.3L1157.7 3793.5L1160.4 3789.6L1163.7 3758.9L1164.8 3758.9L1169.8 3793.5L1174.9 3758.9L1176.2 3770.7L1177.5 3758.9L1180.0 3781.3L1181.8 3755.9L1183.9 3724.1L1185.0 3758.8L1187.7 3786.7L1190.9 3758.8L1192.1 3724.1L1193.2 3758.8L1193.6 3778.5L1195.0 3758.8L1196.8 3758.8L1201.6 3788.1L1206.8 3758.8L1209.0 3780.4L1210.4 3751.3L1211.3 3710.5L1212.5 3655.0L1214.0 3710.5L1215.6 3751.3L1216.7 3785.8L1220.5 3758.8L1222.5 3775.8L1224.4 3758.8L1229.4 3788.1L1234.4 3758.8L1236.2 3758.8L1242.4 3789.0L1248.0 3758.8L1249.1 3768.6L1250.3 3724.1L1251.7 3724.1L1253.0 3755.9L1254.8 3786.7L1258.5 3758.8L1259.8 3764.9L1260.5 3758.9L1265.2 3793.5L1269.9 3758.9L1275.1 3793.5L1280.3 3758.9L1282.2 3778.9L1283.1 3724.3L1284.0 3789.9L1287.3 3758.9L1288.7 3771.3L1290.1 3758.9L1291.7 3776.6L1292.6 3724.3L1293.5 3774.5L1294.9 3758.9L1297.1 3793.5L1298.4 3758.9L1299.0 3724.3L1299.6 3758.9L1300.9 3793.5L1301.5 3758.9L1302.3 3793.5L1303.9 3724.3L1305.5 3793.5L1307.1 3758.9L1308.4 3770.3L1309.6 3758.9L1310.9 3770.3L1312.1 3758.9L1313.4 3770.2L1314.6 3758.9L1316.3 3773.7L1317.9 3758.9L1320.5 3782.8L1323.1 3758.9L1327.8 3793.5L1331.5 3793.5L1332.8 3758.9L1333.4 3724.3L1334.0 3758.9L1335.3 3793.5L1337.0 3793.5L1338.3 3758.9L1338.9 3724.3L1339.5 3758.9L1340.8 3793.5L1341.0 3793.5L1342.3 3758.9L1342.9 3724.3L1343.5 3758.9L1344.8 3793.5L1345.4 3772.1L1346.9 3758.9L1350.4 3790.9L1353.9 3758.9L1355.1 3769.9L1356.3 3758.9L1357.9 3773.0L1359.4 3758.9L1361.5 3793.5L1362.8 3758.9L1363.4 3724.3L1364.0 3758.9L1365.3 3793.5L1365.9 3758.9L1368.1 3793.5L1369.7 3724.3L1371.3 3793.5L1372.4 3782.7L1373.3 3724.3L1374.2 3773.6L1375.1 3793.5L1376.4 3758.9L1377.0 3689.6L1377.6 3758.9L1378.9 3793.5L1381.1 3793.5L1386.3 3758.9L1387.6 3770.9L1388.9 3758.9L1393.2 3793.5L1397.5 3758.9L1399.6 3793.5L1400.9 3758.9L1401.5 3724.3L1402.1 3758.9L1403.4 3793.5L1407.8 3758.9L1412.3 3793.5L1412.3 3790.5L1413.2 3724.3L1414.1 3781.2L1416.7 3758.9L1419.1 3779.7L1420.9 3758.9L1421.5 3793.5"/>
<path class="ax" d="M259.5 3655.0H271V3793.5H259.5"/>
<text class="tk" x="252.4" y="3658.1">11</text>
<text class="tk" x="252.4" y="3796.6">0</text>
<text class="lab" x="73.3" y="3730.2">GSM2481668</text>
<g id="gene">
<path d="M412.6 3957.5H1333.4" stroke="#000" stroke-width="0.9" fill="none"/>
<path d="M431.7 3948.0L421.7 3957.5L431.7 3967.0M457.6 3948.0L447.6 3957.5L457.6 3967.0M483.0 3948.0L473.0 3957.5L483.0 3967.0M534.2 3948.0L524.2 3957.5L534.2 3967.0M570.5 3948.0L560.5 3957.5L570.5 3967.0M593.2 3948.0L583.2 3957.5L593.2 3967.0M638.5 3948.0L628.5 3957.5L638.5 3967.0M667.1 3948.0L657.1 3957.5L667.1 3967.0M697.9 3948.0L687.9 3957.5L697.9 3967.0M732.0 3948.0L722.0 3957.5L732.0 3967.0M752.8 3948.0L742.8 3957.5L752.8 3967.0M773.2 3948.0L763.2 3957.5L773.2 3967.0M800.4 3948.0L790.4 3957.5L800.4 3967.0M856.2 3948.0L846.2 3957.5L856.2 3967.0M893.8 3948.0L883.8 3957.5L893.8 3967.0M928.7 3948.0L918.7 3957.5L928.7 3967.0M976.3 3948.0L966.3 3957.5L976.3 3967.0M1009.5 3948.0L999.5 3957.5L1009.5 3967.0M1025.3 3948.0L1015.3 3957.5L1025.3 3967.0M1061.2 3948.0L1051.2 3957.5L1061.2 3967.0M1090.7 3948.0L1080.7 3957.5L1090.7 3967.0M1128.2 3948.0L1118.2 3957.5L1128.2 3967.0M1165.8 3948.0L1155.8 3957.5L1165.8 3967.0M1203.3 3948.0L1193.3 3957.5L1203.3 3967.0M1240.5 3948.0L1230.5 3957.5L1240.5 3967.0M1278.1 3948.0L1268.1 3957.5L1278.1 3967.0M1298.5 3948.0L1288.5 3957.5L1298.5 3967.0M1323.5 3948.0L1313.5 3957.5L1323.5 3967.0" stroke="#000" stroke-width="0.9" fill="none"/>
<rect x="397.2" y="3933.5" width="14.8" height="47.5" fill="#000"/>
<rect x="411.8" y="3910.3" width="1.6" height="94.4" fill="#000"/>
<rect x="438.6" y="3910.3" width="1.6" height="94.4" fill="#000"/>
<rect x="463.1" y="3910.3" width="1.6" height="94.4" fill="#000"/>
<rect x="489.9" y="3910.3" width="1.6" height="94.4" fill="#000"/>
<rect x="498.5" y="3910.3" width="1.6" height="94.4" fill="#000"/>
<rect x="510.7" y="3910.3" width="1.6" height="94.4" fill="#000"/>
<rect x="545.6" y="3910.3" width="1.6" height="94.4" fill="#000"/>
<rect x="553.8" y="3910.3" width="1.6" height="94.4" fill="#000"/>
<rect x="574.7" y="3910.3" width="1.6" height="94.4" fill="#000"/>
<rect x="600.1" y="3910.3" width="1.6" height="94.4" fill="#000"/>
<rect x="611.9" y="3910.3" width="1.6" height="94.4" fill="#000"/>
<rect x="498.2" y="3933.5" width="2.2" height="47.5" fill="#000"/>
<rect x="510.5" y="3933.5" width="2.0" height="47.5" fill="#000"/>
<rect x="549.6" y="3933.5" width="2.8" height="47.5" fill="#000"/>
<rect x="652.0" y="3910.3" width="3.0" height="94.4" fill="#000"/>
<rect x="669.2" y="3910.3" width="3.0" height="94.4" fill="#000"/>
<rect x="712.3" y="3910.3" width="3.0" height="94.4" fill="#000"/>
<rect x="738.2" y="3910.3" width="2.8" height="94.4" fill="#000"/>
<rect x="754.1" y="3910.3" width="2.8" height="94.4" fill="#000"/>
<rect x="778.3" y="3910.3" width="2.8" height="94.4" fill="#000"/>
<rect x="808.5" y="3910.3" width="2.8" height="94.4" fill="#000"/>
<rect x="816.6" y="3910.3" width="2.8" height="94.4" fill="#000"/>
<rect x="825.3" y="3910.3" width="2.8" height="94.4" fill="#000"/>
<rect x="910.2" y="3910.3" width="2.6" height="94.4" fill="#000"/>
<rect x="933.4" y="3910.3" width="1.5" height="94.4" fill="#000"/>
<rect x="936.9" y="3910.3" width="1.8" height="94.4" fill="#000"/>
<rect x="951.4" y="3910.3" width="2.6" height="94.4" fill="#000"/>
<rect x="988.2" y="3910.3" width="1.6" height="94.4" fill="#000"/>
<rect x="995.9" y="3910.3" width="1.6" height="94.4" fill="#000"/>
<rect x="1011.2" y="3910.3" width="2.8" height="94.4" fill="#000"/>
<rect x="1027.1" y="3910.3" width="13.6" height="94.4" fill="#000"/>
<rect x="1071.7" y="3910.3" width="4.6" height="94.4" fill="#000"/>
<rect x="1075.3" y="3933.5" width="2.0" height="47.5" fill="#000"/>
<rect x="1281.3" y="3933.5" width="1.8" height="47.5" fill="#000"/>
<rect x="1303.6" y="3933.5" width="1.6" height="47.5" fill="#000"/>
<rect x="1332.1" y="3933.5" width="2.6" height="47.5" fill="#000"/>
<text x="866" y="3903.5" text-anchor="middle" style="font-size:35px">TNC</text>
<rect x="271" y="4063" width="1152.7" height="57.5" fill="#808080"/>
<path d="M271 4063.1H1423.7M271 4120.4H1423.7" stroke="#454545" stroke-width="1.7" fill="none"/>
<path d="M401.5 4121V4150.8M591.5 4121V4150.8M781.5 4121V4150.8M971.5 4121V4150.8M1161.5 4121V4196.2M1351.5 4121V4150.8" stroke="#111" stroke-width="1" fill="none"/>
<text x="1162" y="4212" text-anchor="middle" style="font-size:24px">115.1Mb</text>
<text x="88.4" y="4110" style="font-size:48.8px">chr9</text>
</g>
</svg></body></html>
